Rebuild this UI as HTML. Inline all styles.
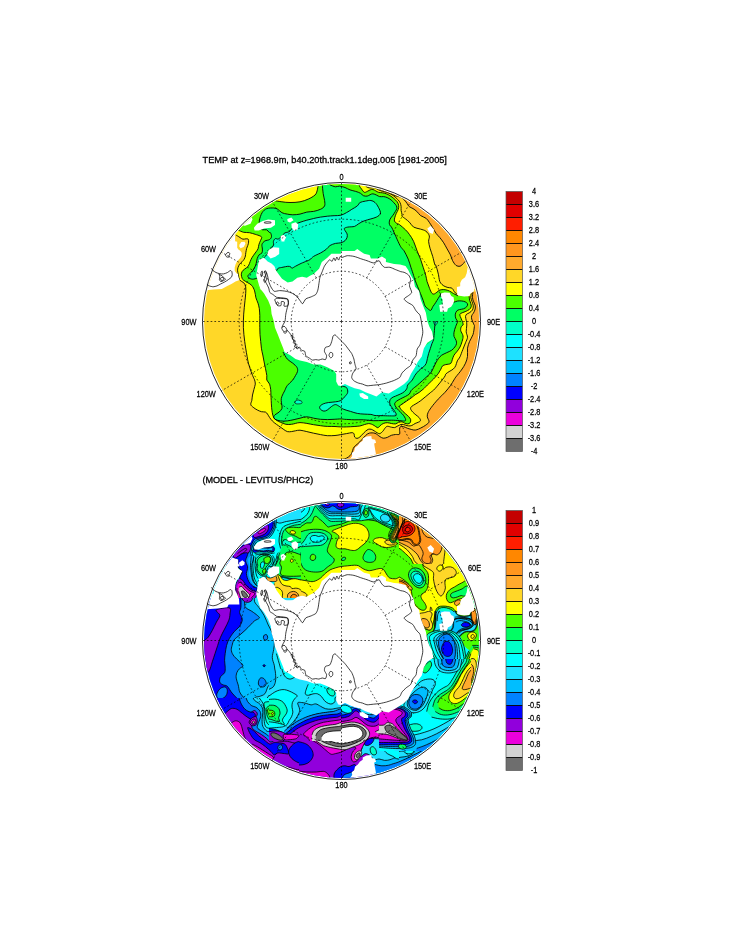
<!DOCTYPE html>
<html lang="en">
<head>
<meta charset="utf-8">
<title>TEMP at z=1968.9m</title>
<style>
html,body{margin:0;padding:0;background:#fff}
body{width:733px;height:945px;overflow:hidden}
svg{display:block}
text{font-family:"Liberation Sans",Arial,Helvetica,sans-serif;fill:#000}
</style>
</head>
<body>
<svg width="733" height="945" viewBox="0 0 733 945">
<rect width="733" height="945" fill="#fff"/>
<defs><clipPath id="c1"><circle cx="341.5" cy="321.5" r="137.5"/></clipPath><clipPath id="c2"><circle cx="341.5" cy="640.5" r="137.5"/></clipPath></defs>
<g stroke="#000" stroke-width="0.3">
<text x="202.6" y="163.4" font-size="9.2" textLength="244.3" lengthAdjust="spacingAndGlyphs">TEMP at z=1968.9m, b40.20th.track1.1deg.005 [1981-2005]</text>
<text x="202.4" y="483.4" font-size="9.2" textLength="110.8" lengthAdjust="spacingAndGlyphs">(MODEL - LEVITUS/PHC2)</text>
</g>
<g clip-path="url(#c1)">
<rect x="200" y="180" width="284" height="284" fill="#ffd728"/>
<path d="M373.9 186.8C374.7 187.1 376.9 188 378.6 188.7C380.4 189.4 382.5 190.2 384.4 190.9C386.3 191.6 388.4 192 390.1 192.8C391.9 193.6 393.1 195 394.9 195.7C396.6 196.4 399 196.4 400.6 197.1C402.2 197.8 403.3 198.9 404.4 200C405.5 201.1 406.5 202.7 407.3 203.8C408.1 204.9 408.3 205.9 409.2 206.6C410.2 207.4 411.8 207.8 413 208.6C414.3 209.4 415.6 210.3 416.8 211.4C418.1 212.6 419 214.3 420.5 215.5C422 216.6 424.4 217.1 425.9 218.2C427.4 219.3 428.2 220.7 429.3 222.3C430.5 223.9 431.6 225.9 432.7 227.7C433.9 229.6 435 231.9 436.2 233.5C437.3 235.1 438.3 235.8 439.6 237.3C440.8 238.8 442.4 240.8 443.7 242.8C444.9 244.7 445.9 246.8 447.1 248.9C448.2 250.9 449.6 253.1 450.5 255C451.4 257 451.6 258.8 452.5 260.5C453.4 262.2 454.7 264.3 455.9 265.3C457.2 266.2 458.8 266.5 460 266.2C461.3 265.9 462.5 264.3 463.4 263.5C464.4 262.7 465 260.9 465.8 261.2C466.6 261.5 467.8 264.6 468.2 265.3L495 270L495 175L370 170Z" fill="#ffaa2d"/>
<path d="M472.9 292C472.8 293 472.3 296.1 472.5 297.7C472.6 299.4 473.2 300.5 473.7 301.8C474.2 303.2 475.1 304.6 475.3 305.9C475.5 307.3 475.3 308.8 474.9 310C474.6 311.2 473.8 312.3 473.3 313.3C472.7 314.2 471.9 314.8 471.7 315.8C471.4 316.7 471.4 317.8 471.7 319C471.9 320.3 472.9 322.1 473.3 323.1C473.7 324.1 473.9 324.5 474.1 325C474.3 325.5 474.5 324.8 474.4 326.4C474.2 328 473.8 332.1 473 334.6C472.2 337.1 470.5 339.1 469.6 341.4C468.7 343.7 467.9 345.7 467.5 348.2C467.2 350.7 467.9 353.9 467.5 356.4C467.2 358.9 466.5 360.9 465.5 363.2C464.5 365.5 463 367.8 461.4 370C459.8 372.3 457.2 375.2 455.9 376.9C454.7 378.5 454.8 378.6 453.9 380C453 381.4 452 383.4 450.5 385.5C449 387.5 447.1 390 445 392.3C443 394.6 440.5 396.6 438.2 399.1C435.9 401.6 433.1 405 431.4 407.3C429.7 409.6 428.6 411.2 428 412.7C427.3 414.3 427.1 415.3 427.3 416.8C427.5 418.4 429.3 420.5 429 421.8C428.8 423.2 427.1 424.1 425.8 425.1C424.4 426.1 422.5 427.2 420.8 428C419.2 428.8 417.4 429.7 415.9 430C414.4 430.3 413.2 429.9 411.8 429.6C410.5 429.3 409.1 428.9 407.7 428.4C406.4 427.9 404.9 427 403.6 426.7C402.4 426.5 401.1 426.3 400.4 426.7C399.7 427.2 399.7 428 399.6 429.2C399.4 430.4 400.2 433.2 399.6 434.1C398.9 435 396.8 434.3 395.5 434.5C394.1 434.7 392.7 434.9 391.4 435.3C390 435.8 388.6 436.9 387.3 437.4C385.9 437.9 384.4 438.3 383.2 438.2C382 438.1 381.3 437.4 379.9 436.6C378.5 435.8 376.8 433.9 375 433.3C373.2 432.7 371 432.8 369.4 433.1C367.8 433.5 366.8 434.4 365.6 435.5C364.3 436.6 363 438.5 361.7 439.8C360.5 441.2 359.2 442.5 357.9 443.6C356.6 444.8 355 445.9 354.1 447C353.2 448.1 353.1 449.1 352.7 450.3C352.2 451.5 352 453 351.2 454.2C350.5 455.3 349.5 456.2 348.4 457C347.3 457.8 346 458.5 344.5 458.9C343.1 459.4 341 459.4 339.8 459.7C338.5 460 337.4 460.6 336.9 460.8L336 470L400 470L480 420L490 330L486 290Z" fill="#ffaa2d"/>
<path d="M236 235.1C236.2 235.3 236.9 235.6 237.6 236C238.3 236.4 239.2 237.1 240.1 237.6C240.9 238.1 241.9 239 242.9 239.2C243.9 239.4 245.3 238.8 246.2 238.8C247.1 238.8 247.8 238.7 248.2 239.2C248.6 239.8 248.7 241.1 248.6 242.1C248.6 243.1 248.2 244.3 247.8 245.4C247.5 246.5 246.9 247.4 246.6 248.6C246.3 249.9 246 251.5 245.8 252.7C245.6 254 245.6 254.9 245.4 256C245.1 257.1 244.7 258.3 244.1 259.3C243.6 260.2 242.9 260.9 242.1 261.7C241.4 262.6 240.3 263.2 239.6 264.2C239 265.2 238.3 266.4 238 267.5C237.7 268.6 237.5 269.5 237.6 270.8C237.7 272 238.1 273.3 238.4 274.8C238.8 276.4 238.8 278.7 239.6 280C240.5 281.3 242.6 281.6 243.7 282.7C244.7 283.9 245.4 285 245.7 286.8C246 288.6 245.8 291.4 245.7 293.6C245.6 295.9 245.2 298.2 245 300.5C244.8 302.7 244.6 305 244.3 307.3C244.1 309.6 243.8 311.8 243.7 314.1C243.5 316.4 243.4 318.7 243.4 320.9C243.3 323.2 243.3 325.5 243.4 327.7C243.5 330 243.7 332.3 243.9 334.6C244.2 336.8 244.5 339.1 244.7 341.4C245 343.7 245.3 345.7 245.7 348.2C246.1 350.7 246.6 353.9 247.1 356.4C247.5 358.9 247.9 360.9 248.4 363.2C249 365.5 249.7 367.8 250.5 370C251.3 372.3 252.5 375.2 253.2 376.9C253.9 378.5 254.2 378.8 254.6 380C254.9 381.2 255.4 382.5 255.3 384.1C255.1 385.7 254.3 387.7 253.9 389.5C253.4 391.4 252.9 393.2 252.5 395C252.2 396.8 252.1 398.9 251.8 400.5C251.5 402.1 250.5 403.4 250.8 404.6C251 405.7 252.1 406.4 253.2 407.3C254.3 408.2 255.9 409.3 257.3 410C258.7 410.7 260 411.3 261.4 411.7C262.8 412 264.5 411.7 265.5 412.1C266.5 412.5 266.8 413.2 267.5 414.1C268.2 415 268.8 416.4 269.6 417.5C270.4 418.7 271.2 419.8 272.3 420.9C273.4 422.1 275 423.3 276.4 424.3C277.8 425.4 279.4 426.3 280.5 427.1C281.6 427.9 282.1 428.4 283.2 429.1C284.4 429.9 285.9 431.2 287.3 431.6C288.7 432 290 431.7 291.4 431.6C292.8 431.4 294.1 431 295.5 430.8C296.9 430.5 298.1 430.1 300 430.2C301.9 430.3 304.5 431.1 306.8 431.6C309.1 432.1 311.4 432.7 313.6 433.2C315.9 433.7 318.2 434.2 320.5 434.6C322.7 435 324.9 435.5 327.3 435.7C329.7 435.8 332.8 435.7 335 435.5C337.2 435.4 338.8 434.9 340.7 434.6C342.6 434.3 344.5 433.9 346.5 433.6C348.4 433.3 350.9 432.6 352.2 432.7C353.5 432.7 353.7 433.4 354.1 434.1C354.5 434.8 354.1 436.2 354.6 437C355.1 437.7 356.1 438.4 357 438.4C357.8 438.4 358.9 437.7 359.8 437C360.8 436.2 361.7 435.1 362.7 434.1C363.6 433.1 364.6 432 365.6 431.2C366.5 430.4 367.5 429.6 368.4 429.3C369.4 429 370.3 429.1 371.3 429.3C372.2 429.6 373.2 430.2 374.2 430.8C375.1 431.3 376.1 432.2 377 432.7C378 433.1 378.9 433.9 379.9 433.6C380.9 433.3 382.4 431.7 383.2 430.8C384 430 384.1 429.1 384.8 428.4C385.5 427.6 386.2 426.5 387.3 426.3C388.4 426.1 390.1 427 391.4 427.2C392.6 427.4 393.7 427.7 394.6 427.6C395.6 427.4 396.3 426.7 397.1 426.3C397.9 425.9 398.7 425.5 399.6 425.1C400.4 424.8 401.1 424.3 402 424.3C403 424.3 404.2 424.8 405.3 425.1C406.4 425.4 407.5 425.9 408.6 425.9C409.7 426 410.7 425.9 411.8 425.5C412.9 425.1 414 424 415.1 423.5C416.2 422.9 417.5 422.7 418.4 422.2C419.3 421.8 420.3 421.4 420.4 420.6C420.6 419.9 420 418.7 419.2 417.7C418.5 416.8 417 415.8 415.9 414.9C414.8 413.9 413.5 413 412.7 412C411.8 411 410.7 409.7 410.6 408.7C410.5 407.8 410.9 407.1 411.8 406.3C412.7 405.5 414.4 404.8 415.9 403.8C417.4 402.9 419.2 401.8 420.8 400.6C422.5 399.3 424.1 397.8 425.8 396.5C427.4 395.1 429.1 393.7 430.7 392.4C432.2 391.1 432.7 391.2 435 388.7C437.3 386.2 442.4 379.7 444.2 377.3C446 374.9 445 375 445.8 374C446.7 373.1 447.9 372.4 449.1 371.6C450.3 370.8 452.1 370.1 453.2 369.1C454.3 368.2 455 367.2 455.7 365.8C456.3 364.5 456.6 362.4 457.3 360.9C458 359.4 459.1 358.7 460 356.8C460.9 354.9 461.8 351.9 462.8 349.6C463.7 347.2 464.7 344.8 465.5 342.8C466.3 340.7 467.4 339.1 467.5 337.3C467.6 335.5 466.3 333.9 466.2 331.8C466.1 329.8 466.8 326.9 466.8 325C466.9 323.2 466.6 322.1 466.3 320.7C466.1 319.3 465.5 317.7 465.5 316.6C465.6 315.5 466.1 314.7 466.7 314.1C467.4 313.5 468.2 313.6 469.2 312.9C470.2 312.2 471.8 311.2 472.5 310C473.2 308.9 473.4 307.3 473.3 305.9C473.2 304.6 472.5 303.2 472.1 301.8C471.7 300.5 471 299.1 470.8 297.7C470.7 296.4 471.2 294.3 471.2 293.6L467.6 292.8L461.8 292.8L456.9 294.5C456.8 294.3 456.6 293.7 456.1 293.2C455.6 292.8 454.5 292.2 454.1 291.6C453.6 291 453.7 290.2 453.2 289.6C452.8 288.9 452.1 288.3 451.2 287.9C450.3 287.6 449.1 287.9 447.9 287.5C446.7 287.2 445.1 286.6 443.8 285.9C442.6 285.1 441.3 284 440.6 283C439.8 282 439.7 281.1 439.3 279.7C439 278.4 438.8 276.5 438.5 274.8C438.2 273.2 437.8 271.5 437.3 269.9C436.8 268.3 436.1 265.9 435.6 265C435.2 264.1 435.3 266 434.8 264.6C434.3 263.2 433.5 259.1 432.7 256.4C431.9 253.7 430.7 250.7 430 248.2C429.3 245.7 428.8 243.4 428.6 241.4C428.5 239.3 429.8 237.6 429.3 235.9C428.9 234.2 427.4 232.3 425.9 231.2C424.4 230 422.5 229.8 420.5 229.1C418.4 228.4 415.5 228.2 413.6 227.1C411.8 225.9 410.9 223.7 409.5 222.3C408.2 220.9 406.7 219.9 405.5 218.9C404.2 217.9 402.6 217 402 216.2C401.5 215.4 402.2 215.2 402 214.3C401.9 213.3 401.3 211.7 401.1 210.5C400.9 209.2 401.3 207.9 401.1 206.6C400.9 205.4 400.7 204 400.1 202.8C399.6 201.6 398.8 200.6 397.7 199.5C396.7 198.4 395.2 197.1 393.9 196.1C392.7 195.2 391.4 194.4 390.1 193.8C388.8 193.1 387.6 192.7 386.3 192.3C385 191.9 383.7 191.8 382.5 191.4C381.2 191 379.9 190.5 378.6 189.9C377.4 189.4 376.1 188.3 374.8 188C373.6 187.7 372.2 188.1 371 188C369.8 187.9 368.5 187.9 367.7 187.5C366.8 187.2 366.1 186.4 365.8 186.1L362 172L300 170L250 200L228 232Z" fill="#ffff00"/>
<path d="M238.4 230.2C239.3 230.6 241.9 231.9 243.7 232.3C245.6 232.7 247.6 232.3 249.5 232.7C251.4 233 253.4 233.8 255.2 234.3C257 234.9 259 235.4 260.1 236C261.2 236.5 261.7 236.8 261.7 237.6C261.8 238.3 261 239.3 260.5 240.5C260 241.6 259.3 243.2 258.9 244.6C258.5 245.9 258.5 247.4 258.1 248.6C257.6 249.9 256.8 250.8 256 251.9C255.3 253 254.4 254 253.6 255.2C252.7 256.4 251.8 257.9 251.1 259.3C250.4 260.7 250 262.2 249.5 263.4C248.9 264.6 248.6 265.7 247.8 266.7C247 267.6 245.5 268.3 244.6 269.1C243.6 269.9 242.6 270.6 242.1 271.6C241.6 272.5 241.3 273.8 241.3 274.8C241.3 275.9 241.8 277.3 242.1 278.1C242.4 279 242.4 279.2 243.3 280C244.3 280.8 246.3 281.8 247.7 282.7C249.2 283.6 250.7 284.1 251.8 285.5C253 286.8 253.9 288.9 254.6 290.9C255.3 293 255.4 295.7 255.9 297.7C256.5 299.8 257.4 301.4 258 303.2C258.5 305 259 306.6 259.3 308.6C259.6 310.7 259.7 313.4 259.8 315.5C259.8 317.5 259.8 318.9 259.8 320.9C259.8 323 259.7 325.5 259.8 327.7C259.8 330 259.9 332.3 260 334.6C260.2 336.8 260.5 339.1 260.7 341.4C260.9 343.7 261.1 345.9 261.4 348.2C261.7 350.5 262.3 352.8 262.8 355C263.2 357.3 263.7 359.6 264.1 361.9C264.6 364.1 265 366.4 265.5 368.7C265.9 371 266.6 373.6 266.8 375.5C267.1 377.4 266.4 378.6 266.8 380C267.3 381.4 268.9 382.5 269.6 384.1C270.2 385.7 270.4 387.7 270.7 389.5C270.9 391.4 270.9 393.2 270.9 395C271 396.8 271.1 398.4 271.2 400.5C271.3 402.5 271.4 405.2 271.6 407.3C271.8 409.3 272 411 272.3 412.7C272.6 414.4 273 416.3 273.7 417.5C274.4 418.8 275.3 419.4 276.4 420.2C277.5 421 278.9 421.6 280.5 422.3C282.1 423 284.1 424 285.9 424.3C287.8 424.7 289.8 424.5 291.4 424.3C293 424.2 294.1 423.7 295.5 423.4C296.9 423.1 298.1 422.6 300 422.6C301.9 422.6 304.5 423 306.8 423.4C309.1 423.7 311.4 424.4 313.6 424.7C315.9 425.1 318.2 425.4 320.5 425.7C322.7 426 324.9 426.3 327.3 426.4C329.7 426.5 332.8 426.4 335 426.5C337.2 426.6 338.8 426.9 340.7 426.9C342.6 427 344.2 427 346.5 426.9C348.7 426.9 351.9 426.6 354.1 426.5C356.3 426.3 358.1 426.3 359.8 426C361.6 425.7 363.2 424.9 364.6 424.5C366 424.2 367.3 423.7 368.4 423.6C369.5 423.5 370.3 423.8 371.3 424.1C372.2 424.4 373.2 424.9 374.2 425.5C375.1 426.1 376.3 427.1 377 427.4C377.7 427.8 377.8 427.8 378.3 427.6C378.8 427.3 379.1 426.6 379.9 425.9C380.7 425.2 382 424 383.2 423.5C384.4 422.9 385.9 422.7 387.3 422.7C388.6 422.7 390 423.3 391.4 423.5C392.7 423.7 394.2 424.1 395.5 423.9C396.7 423.7 397.6 422.6 398.7 422.2C399.8 421.9 401.1 421.7 402 421.8C403 422 403.5 422.7 404.5 423.1C405.4 423.4 406.8 423.9 407.7 423.9C408.7 423.8 409.7 423.4 410.2 422.7C410.7 421.9 410.9 420.4 410.6 419.4C410.3 418.4 409.4 417.5 408.6 416.5C407.7 415.6 406.5 414.8 405.3 413.6C404.1 412.5 402.1 410.8 401.2 409.6C400.2 408.3 399.4 407.2 399.6 406.3C399.7 405.4 400.9 405.1 402 404.2C403.1 403.4 404.6 402.4 406.1 401.4C407.6 400.3 409.5 399.2 411 398.1C412.5 397 413.7 395.8 415.1 394.8C416.5 393.9 417.8 393.3 419.2 392.4C420.6 391.4 421.9 390.3 423.3 389.1C424.7 387.9 425.4 387 427.4 385C429.4 383 433.4 379.3 435.2 377.3C437 375.3 437.5 374.6 438.5 373.2C439.4 371.8 440.2 370.3 440.9 369.1C441.6 367.9 441.7 366.6 442.6 365.8C443.4 365.1 444.5 365 445.8 364.6C447.2 364.2 449.7 364.3 450.8 363.4C451.8 362.5 451.8 360.7 452.4 359.3C452.9 357.9 453.2 356.6 454 355.2C454.8 353.8 456.3 352.5 457.3 351.1C458.3 349.7 459.2 348.6 460 347C460.8 345.4 461.6 343.2 462.1 341.4C462.6 339.5 463.3 337.8 463 335.9C462.8 334.1 461 332.1 460.7 330.5C460.4 328.9 461 327.3 461.4 326.4C461.8 325.5 462.9 325.7 463.1 325C463.3 324.3 463 323.4 462.7 322.3C462.3 321.2 461.5 319.4 461 318.2C460.5 317 459.8 315.8 459.8 314.9C459.8 314.1 460.1 313.8 461 313.3C461.9 312.7 463.7 312.3 465.1 311.7C466.5 311 468.2 310.4 469.2 309.6C470.2 308.8 471 307.8 471.2 306.7C471.5 305.7 471.1 304.6 470.8 303.5C470.6 302.4 469.9 301.4 469.6 300.2C469.3 299 469.3 297.1 469.2 296.5L465.9 296.1L461 296.1L457.7 295.7C457.5 295.6 456.8 295.2 456.1 294.9C455.4 294.5 454.5 294.1 453.6 293.6C452.8 293.2 452.1 292.6 451.2 292C450.2 291.5 449.1 290.8 447.9 290.4C446.7 290 445.1 289.6 443.8 289.6C442.5 289.5 441.1 289.7 440.1 290C439.2 290.2 438.8 290.6 438.1 291.2C437.3 291.7 436.5 292.8 435.6 293.2C434.8 293.7 433.9 294.3 433.2 294.1C432.4 293.9 431.8 293.2 431.1 292C430.5 290.9 429.8 288.9 429.1 287.1C428.4 285.3 427.6 283.3 427 281.4C426.5 279.5 426.5 278 425.8 275.6C425.2 273.3 424.1 270.1 423.2 267.3C422.3 264.6 421.5 261.9 420.5 259.1C419.4 256.4 418.2 253.9 417.1 250.9C415.9 248 414.9 244.1 413.6 241.4C412.4 238.7 410.9 236.5 409.5 234.6C408.2 232.6 407.1 231.4 405.5 229.8C403.8 228.2 401.1 225.9 399.7 224.8C398.2 223.7 397.7 224 396.8 223.4C395.9 222.7 394.7 222 394.4 221C394.1 219.9 394.6 218.4 394.9 217.2C395.2 215.9 395.8 214.6 396.3 213.3C396.9 212.1 397.8 210.8 398.2 209.5C398.6 208.2 398.9 207 398.7 205.7C398.5 204.4 398.1 203.1 397.3 201.9C396.5 200.7 395.1 199.6 393.9 198.5C392.7 197.5 391.4 196.5 390.1 195.7C388.8 194.9 387.6 194.2 386.3 193.8C385 193.3 383.7 193 382.5 192.8C381.2 192.6 379.8 192.6 378.6 192.3C377.5 192 376.7 191.4 375.8 190.9C374.8 190.4 373.9 189.6 372.9 189.5C372 189.3 371 189.6 370.1 189.9C369.1 190.3 368.1 191 367.2 191.4C366.2 191.8 365.3 192.7 364.3 192.3C363.4 191.9 362.3 190 361.5 189C360.7 187.9 359.9 187 359.5 186.1C359.2 185.2 359.2 184.1 359.1 183.7L355 172L322 172L318.4 184.1C318.2 185.2 317.6 189.1 317.1 190.9C316.5 192.7 316.5 193.6 315 195C313.5 196.4 310.7 198 308.2 199.1C305.7 200.2 303 201.3 300 201.8C297 202.4 293.1 202.5 290 202.5C287 202.5 284.5 202.2 281.9 201.8C279.2 201.5 275.9 200.9 274.4 200.5C272.8 200 272.6 199.3 272.3 199.1L265 190L232 222Z" fill="#4bff00"/>
<path d="M322.5 183.4C322.5 184 322.4 185.1 322.5 186.8C322.6 188.5 322.9 191.4 323.2 193.6C323.5 195.9 324.3 198.4 324.6 200.5C324.8 202.5 325.2 204.4 324.6 205.9C323.9 207.4 322.3 208.4 320.5 209.3C318.6 210.2 315.9 210.9 313.6 211.4C311.4 211.8 309.1 211.6 306.8 212.1C304.5 212.5 302.3 213.7 300 214.1C297.7 214.6 294.9 214.8 292.8 214.8C290.7 214.8 289.1 214.4 287.3 214.1C285.5 213.8 283.4 213.5 281.9 212.7C280.3 211.9 279.1 210.1 277.8 209.3C276.4 208.5 275.5 208.1 273.7 208C271.9 207.9 268.8 207.9 266.8 208.6C264.9 209.4 263.3 210.7 262.1 212.7C260.8 214.8 259.7 218.4 259.3 220.9C259 223.4 259.9 226.5 260 227.7C260.2 229 259.7 227.8 260.1 228.2C260.5 228.5 261.5 229.5 262.6 229.8C263.7 230.1 265.6 229.4 266.7 229.8C267.7 230.2 268.5 231.8 269.1 232.3C269.8 232.8 270.2 232.1 270.6 232.9C271 233.6 271.7 235.6 271.5 236.7C271.4 237.8 270.7 238.8 269.6 239.5C268.5 240.3 266.1 240.2 264.8 241C263.6 241.8 262.4 243 262 244.3C261.6 245.7 262.4 247.7 262.4 249.1C262.4 250.5 262.5 252 262 252.9C261.4 253.9 259.9 253.9 259.1 254.8C258.3 255.8 257.7 257.2 257.2 258.6C256.7 260.1 256.7 261.8 256.2 263.4C255.8 265 255.1 266.8 254.3 268.2C253.5 269.6 252.5 270.8 251.5 272C250.4 273.2 248.6 274.4 248.1 275.4C247.6 276.3 247.9 277.1 248.6 277.7C249.3 278.4 251 279.1 252.4 279.2C253.8 279.3 256.4 278.4 257.2 278.2L300 320L283.2 352.3C283.9 353.4 285.7 357.3 287.3 359.1C288.9 360.9 291.2 361.9 292.8 363.2C294.4 364.6 296.1 365.9 296.9 367.3C297.7 368.7 297.8 370 297.5 371.4C297.3 372.8 296.3 374.1 295.5 375.5C294.7 376.9 294.1 378.3 292.8 380C291.4 381.7 288.7 383.6 287.3 385.5C285.9 387.3 285.5 389.1 284.6 390.9C283.7 392.7 282.4 394.8 281.9 396.4C281.3 398 281.2 399 281.2 400.5C281.2 401.9 281.7 403.9 281.9 405.2C282 406.6 282.3 407.5 281.9 408.6C281.4 409.8 280.3 411 279.1 412.1C278 413.1 275.9 413.9 275 414.8C274.1 415.7 273.6 416.7 273.7 417.5C273.8 418.3 274.6 419 275.7 419.6C276.9 420.1 278.6 420.7 280.5 420.9C282.4 421.2 285 421.2 287.3 420.9C289.6 420.7 292 420 294.1 419.6C296.2 419.1 297.9 418.7 300 418.2C302.1 417.7 304.5 416.8 306.8 416.8C309.1 416.8 311.4 417.8 313.6 418.2C315.9 418.6 318.2 419.1 320.5 419.3C322.7 419.5 325 419.6 327.3 419.6C329.6 419.6 331.8 419.4 334.1 419.3C336.4 419.2 339.2 418.9 340.9 418.9C342.7 418.9 342.4 419.1 344.5 419.3C346.7 419.4 350.9 419.7 354.1 419.8C357.3 419.9 360.5 419.6 363.6 419.8C366.8 419.9 369.9 420.6 373.2 420.7C376.5 420.8 380.2 420.5 383.2 420.4C386.2 420.3 388.6 420.2 391.4 420.2C394.1 420.2 397.4 420.5 399.6 420.6C401.7 420.7 403.4 421.2 404.5 421C405.5 420.9 405.7 420.5 405.7 419.8C405.7 419.1 405.1 417.9 404.5 416.9C403.9 415.9 403 414.7 402 413.6C401.1 412.6 399.8 411.5 398.7 410.4C397.7 409.3 396.6 408.2 395.9 407.1C395.2 406 394.6 404.8 394.6 403.8C394.7 402.9 395.3 402.2 396.3 401.4C397.2 400.6 398.9 399.7 400.4 398.9C401.9 398.1 403.8 397.3 405.3 396.5C406.8 395.6 408.4 395 409.4 394C410.3 393 410.3 391.7 411 390.7C411.7 389.8 412.4 389.2 413.5 388.3C414.6 387.3 415.3 387 417.6 385C419.8 383 424.8 378.6 427 376.5C429.3 374.4 430 373.9 431.1 372.4C432.2 370.9 432.7 369.1 433.6 367.5C434.4 365.8 435.2 364.1 436 362.6C436.8 361.1 437.5 359.7 438.5 358.5C439.4 357.2 440.4 356.2 441.7 355.2C443.1 354.2 445 353.6 446.7 352.7C448.3 351.9 450.2 351.2 451.6 350.3C452.9 349.3 454 348.1 454.8 347C455.7 345.9 456.3 344.8 456.5 343.7C456.7 342.6 456.5 341.7 456.1 340.5C455.7 339.2 454.4 337.7 454 336.4C453.7 335 453.8 333.9 454 332.3C454.3 330.6 455 328.3 455.7 326.5C456.3 324.8 457.4 322.5 457.7 321.6C458.1 320.8 458.1 322.1 457.7 321.5C457.4 320.9 456.1 319.4 455.7 318.2C455.3 317 455.1 315.3 455.3 314.1C455.5 312.9 456.2 311.6 456.9 310.8C457.6 310.1 458.3 310 459.4 309.6C460.5 309.3 462.2 309.3 463.5 308.8C464.7 308.3 466.1 307.6 466.7 306.7C467.4 305.9 467.8 304.7 467.6 303.9C467.3 303.1 466.1 302.3 465.1 301.8C464.2 301.4 463.1 301.2 461.8 301C460.6 300.9 459 300.8 457.7 301C456.4 301.2 454.7 302 454.1 302.2L449.6 301.8L445.5 297.7L441 293.2C440.8 293.6 440.6 294.4 440.1 295.3C439.7 296.2 438.8 297.3 438.1 298.6C437.3 299.8 436.5 301.3 435.6 302.7C434.8 304 433.6 305.5 432.8 306.7C432 308 431.6 310.2 430.7 310.4C429.8 310.7 428.4 309.1 427.5 308.4C426.5 307.6 425.7 307.2 425 305.9C424.3 304.6 423.9 302.5 423.2 300.5C422.4 298.4 421.4 295.9 420.5 293.6C419.6 291.4 418.6 289.1 417.7 286.8C416.8 284.5 415.7 281.9 415 280C414.3 278.1 414.3 277.6 413.6 275.5C413 273.4 411.8 270 410.9 267.3C410 264.6 409.3 261.9 408.2 259.1C407 256.4 405.5 253.2 404.1 250.9C402.7 248.7 402 249.3 400 245.5C398 241.7 393.7 231.3 392 228C390.4 224.8 390.6 226.6 390.1 225.7C389.6 224.9 389.2 224 389.2 222.9C389.2 221.8 389.5 220.3 390.1 219.1C390.7 217.8 392.1 216.5 393 215.2C393.8 214 394.7 212.5 395.4 211.4C396 210.3 396.6 209.5 396.8 208.6C397 207.6 396.8 206.6 396.3 205.7C395.8 204.7 394.8 203.8 393.9 202.8C393.1 201.9 392.2 200.8 391.1 200C389.9 199.1 388.5 198.1 387.2 197.6C386 197 384.7 196.8 383.4 196.6C382.2 196.5 380.7 196.9 379.6 196.6C378.5 196.4 377.9 195.7 376.7 195.2C375.6 194.7 374 193.8 372.9 193.8C371.8 193.7 371 194.3 370.1 194.7C369.1 195.1 368.3 196 367.2 196.1C366.1 196.3 364.5 196.1 363.4 195.7C362.3 195.2 361.8 194 360.5 193.3C359.2 192.6 357.5 191.9 355.7 191.4C354 190.8 351.8 190.6 350 189.9C348.2 189.3 346.8 188.1 345 187.5C343.3 186.9 341.2 186.3 339.6 186.1C338 186 337.1 187 335.5 186.8C333.9 186.6 331 185.4 330 184.8C329.1 184.1 329.8 183.3 329.7 183L330 175L322 175Z" fill="#00ff64"/>
<path d="M380.5 213.4C380.2 212.4 379.4 209.1 378.4 207.3C377.5 205.5 376.3 203.6 375 202.5C373.8 201.4 372.5 200.7 370.9 200.5C369.3 200.2 367.3 200.8 365.5 201.1C363.7 201.5 361.4 201.7 360 202.5C358.7 203.3 358.7 204.8 357.3 205.9C355.9 207.1 353.7 208.2 351.8 209.3C350 210.5 348.2 211.8 346.4 212.7C344.6 213.7 343 214.7 340.9 215.2C338.9 215.7 336.4 215.6 334.1 215.7C331.8 215.9 329.6 215.9 327.3 216.2C325 216.4 322.7 216.7 320.5 217.1C318.2 217.5 315.9 217.9 313.6 218.5C311.4 219 309.1 219.6 306.8 220.2C304.5 220.9 301.9 221.6 300 222.3C298.1 223 296.7 223.4 295.5 224.3C294.3 225.2 293.9 226.5 292.8 227.7C291.6 229 290 231 288.7 231.8C287.4 232.7 286.2 232.1 284.9 232.9C283.6 233.7 282.2 235.7 281.1 236.7C279.9 237.7 279.2 238.8 278.2 239.1C277.2 239.4 276.1 238.2 275.3 238.6C274.5 239 273.7 240.3 273.4 241.5C273.1 242.6 273.9 244 273.4 245.3C272.9 246.6 271.7 247.5 270.6 249.1C269.4 250.7 267.9 253.2 266.7 254.8C265.6 256.4 263.6 257.2 263.9 258.6C264.2 260.1 266.6 261.5 268.6 263.4C270.7 265.3 274.7 269.3 276.3 270.1C277.9 270.9 277.1 268.7 278.2 268.2C279.3 267.7 281.4 267.6 283 267.2C284.6 266.9 286.5 266.4 287.7 266.3C289 266.2 289.9 266.4 290.6 266.8C291.3 267.1 291.3 268.3 292 268.2C292.8 268.1 293.9 267.1 295.4 266.3C296.9 265.5 299.2 264.3 301.1 263.4C303 262.5 305.4 261.7 306.8 261C308.3 260.4 308.9 260.4 310 259.6C311.1 258.8 311.9 257.5 313.6 256.4C315.4 255.3 318.4 254.1 320.5 253C322.5 251.9 324.3 250.8 325.9 249.6C327.5 248.3 328.4 246.5 330 245.5C331.6 244.5 333.7 243.9 335.5 243.4C337.3 243 339.3 243.2 340.9 242.8C342.5 242.3 344 241.6 345 240.7C346 239.8 346.7 238.4 347.1 237.3C347.4 236.2 347.4 235 347.1 233.9C346.7 232.8 345.5 231.4 345 230.5C344.6 229.6 343.9 229 344.3 228.4C344.8 227.9 346 227.4 347.7 227.1C349.5 226.7 352.8 227 354.6 226.4C356.4 225.8 357.1 224.6 358.7 223.7C360.3 222.7 362.1 221.7 364.1 220.9C366.2 220.1 368.9 219.5 370.9 218.9C373 218.2 375.5 217.4 376.4 217.1Z" fill="#00ffc8"/>
<path d="M434 339.2C433.9 339.3 433.9 338.9 433.6 339.6C433.2 340.4 432.5 342.2 431.9 343.7C431.4 345.2 430.8 347 430.3 348.6C429.7 350.3 429.1 351.9 428.6 353.6C428.2 355.2 427.8 356.8 427.4 358.5C427 360.1 426.8 362 426.2 363.4C425.6 364.7 424.7 365.7 423.7 366.7C422.8 367.6 421.6 368.2 420.5 369.1C419.4 370.1 418.1 371.3 417.2 372.4C416.2 373.5 415.6 374.4 414.7 375.7C413.9 376.9 413.4 378.4 412.3 380C411.1 381.6 408.6 383.6 407.7 385C406.8 386.4 407.5 387.2 406.9 388.3C406.4 389.4 405.6 390.6 404.5 391.5C403.4 392.5 401.9 393.3 400.4 394C398.9 394.8 397 395.4 395.5 396.1C394 396.7 392.3 397.3 391.4 398.1C390.4 398.9 389.9 399.9 389.7 401C389.5 402.1 389.7 403.5 390.1 404.6C390.6 405.8 391.4 406.8 392.2 407.9C392.9 409 394 410.2 394.6 411.2C395.3 412.2 396.1 413.3 396.3 414.1C396.4 414.8 396.3 415.4 395.5 415.7C394.6 416 393.4 415.9 391.4 415.9C389.3 415.9 385.9 415.8 383.2 415.7C380.5 415.6 377 415.7 375 415.5C373 415.2 372.8 414.6 370.9 414.4C369.1 414.2 366.4 414.3 364.1 414.1C361.8 413.9 359.6 413.9 357.3 413.4C355 413 352.8 412.1 350.5 411.4C348.2 410.7 345.5 410.1 343.7 409.3C341.8 408.5 340.9 407.4 339.6 406.6C338.2 405.8 336.8 404.6 335.5 404.6C334.1 404.6 332.7 405.7 331.4 406.6C330 407.5 328.5 409.3 327.3 410C326 410.8 325 411.2 323.9 411.1C322.7 411 321.1 410.1 320.5 409.3C319.8 408.6 319.3 407.5 319.8 406.6C320.2 405.7 321.7 404.6 323.2 403.9C324.7 403.2 326.6 402.9 328.6 402.5C330.7 402.2 333.4 402.2 335.5 401.8C337.5 401.5 339.3 401.4 340.9 400.5C342.5 399.6 343.9 397.7 345 396.4C346.2 395 347.5 393.8 347.7 392.3C348 390.8 347.4 388.5 346.4 387.5C345.4 386.5 342.4 386.4 341.6 386.1L345 370L380 370L420 350Z" fill="#00ffc8"/>
<path d="M294.8 401.8C295 401.3 296 400.3 296.9 400.1C297.7 399.8 299.1 400.2 300 400.5C300.9 400.8 301.8 401.3 302 401.8C302.3 402.3 302.1 403.1 301.4 403.5C300.6 403.8 298.5 403.9 297.5 403.9C296.6 403.9 296 403.8 295.5 403.5C295 403.1 294.6 402.4 294.8 401.8Z" fill="#00ffc8" stroke="#000" stroke-width="0.7"/>
<path d="M434 322C434.5 321.7 436.8 321.5 437.2 321.8C437.7 322.1 437.2 323.1 436.8 323.7C436.5 324.3 435.6 325.3 435.2 325.3C434.8 325.3 434.4 324.2 434.2 323.7C434 323.1 433.5 322.4 434 322Z" fill="#00ffc8" stroke="#000" stroke-width="0.7"/>
<g fill="none" stroke="#000" stroke-width="0.9" stroke-linejoin="round" stroke-linecap="round">
<path d="M373.9 186.8C374.7 187.1 376.9 188 378.6 188.7C380.4 189.4 382.5 190.2 384.4 190.9C386.3 191.6 388.4 192 390.1 192.8C391.9 193.6 393.1 195 394.9 195.7C396.6 196.4 399 196.4 400.6 197.1C402.2 197.8 403.3 198.9 404.4 200C405.5 201.1 406.5 202.7 407.3 203.8C408.1 204.9 408.3 205.9 409.2 206.6C410.2 207.4 411.8 207.8 413 208.6C414.3 209.4 415.6 210.3 416.8 211.4C418.1 212.6 419 214.3 420.5 215.5C422 216.6 424.4 217.1 425.9 218.2C427.4 219.3 428.2 220.7 429.3 222.3C430.5 223.9 431.6 225.9 432.7 227.7C433.9 229.6 435 231.9 436.2 233.5C437.3 235.1 438.3 235.8 439.6 237.3C440.8 238.8 442.4 240.8 443.7 242.8C444.9 244.7 445.9 246.8 447.1 248.9C448.2 250.9 449.6 253.1 450.5 255C451.4 257 451.6 258.8 452.5 260.5C453.4 262.2 454.7 264.3 455.9 265.3C457.2 266.2 458.8 266.5 460 266.2C461.3 265.9 462.5 264.3 463.4 263.5C464.4 262.7 465 260.9 465.8 261.2C466.6 261.5 467.8 264.6 468.2 265.3"/>
<path d="M472.9 292C472.8 293 472.3 296.1 472.5 297.7C472.6 299.4 473.2 300.5 473.7 301.8C474.2 303.2 475.1 304.6 475.3 305.9C475.5 307.3 475.3 308.8 474.9 310C474.6 311.2 473.8 312.3 473.3 313.3C472.7 314.2 471.9 314.8 471.7 315.8C471.4 316.7 471.4 317.8 471.7 319C471.9 320.3 472.9 322.1 473.3 323.1C473.7 324.1 473.9 324.5 474.1 325C474.3 325.5 474.5 324.8 474.4 326.4C474.2 328 473.8 332.1 473 334.6C472.2 337.1 470.5 339.1 469.6 341.4C468.7 343.7 467.9 345.7 467.5 348.2C467.2 350.7 467.9 353.9 467.5 356.4C467.2 358.9 466.5 360.9 465.5 363.2C464.5 365.5 463 367.8 461.4 370C459.8 372.3 457.2 375.2 455.9 376.9C454.7 378.5 454.8 378.6 453.9 380C453 381.4 452 383.4 450.5 385.5C449 387.5 447.1 390 445 392.3C443 394.6 440.5 396.6 438.2 399.1C435.9 401.6 433.1 405 431.4 407.3C429.7 409.6 428.6 411.2 428 412.7C427.3 414.3 427.1 415.3 427.3 416.8C427.5 418.4 429.3 420.5 429 421.8C428.8 423.2 427.1 424.1 425.8 425.1C424.4 426.1 422.5 427.2 420.8 428C419.2 428.8 417.4 429.7 415.9 430C414.4 430.3 413.2 429.9 411.8 429.6C410.5 429.3 409.1 428.9 407.7 428.4C406.4 427.9 404.9 427 403.6 426.7C402.4 426.5 401.1 426.3 400.4 426.7C399.7 427.2 399.7 428 399.6 429.2C399.4 430.4 400.2 433.2 399.6 434.1C398.9 435 396.8 434.3 395.5 434.5C394.1 434.7 392.7 434.9 391.4 435.3C390 435.8 388.6 436.9 387.3 437.4C385.9 437.9 384.4 438.3 383.2 438.2C382 438.1 381.3 437.4 379.9 436.6C378.5 435.8 376.8 433.9 375 433.3C373.2 432.7 371 432.8 369.4 433.1C367.8 433.5 366.8 434.4 365.6 435.5C364.3 436.6 363 438.5 361.7 439.8C360.5 441.2 359.2 442.5 357.9 443.6C356.6 444.8 355 445.9 354.1 447C353.2 448.1 353.1 449.1 352.7 450.3C352.2 451.5 352 453 351.2 454.2C350.5 455.3 349.5 456.2 348.4 457C347.3 457.8 346 458.5 344.5 458.9C343.1 459.4 341 459.4 339.8 459.7C338.5 460 337.4 460.6 336.9 460.8"/>
<path d="M236 235.1C236.2 235.3 236.9 235.6 237.6 236C238.3 236.4 239.2 237.1 240.1 237.6C240.9 238.1 241.9 239 242.9 239.2C243.9 239.4 245.3 238.8 246.2 238.8C247.1 238.8 247.8 238.7 248.2 239.2C248.6 239.8 248.7 241.1 248.6 242.1C248.6 243.1 248.2 244.3 247.8 245.4C247.5 246.5 246.9 247.4 246.6 248.6C246.3 249.9 246 251.5 245.8 252.7C245.6 254 245.6 254.9 245.4 256C245.1 257.1 244.7 258.3 244.1 259.3C243.6 260.2 242.9 260.9 242.1 261.7C241.4 262.6 240.3 263.2 239.6 264.2C239 265.2 238.3 266.4 238 267.5C237.7 268.6 237.5 269.5 237.6 270.8C237.7 272 238.1 273.3 238.4 274.8C238.8 276.4 238.8 278.7 239.6 280C240.5 281.3 242.6 281.6 243.7 282.7C244.7 283.9 245.4 285 245.7 286.8C246 288.6 245.8 291.4 245.7 293.6C245.6 295.9 245.2 298.2 245 300.5C244.8 302.7 244.6 305 244.3 307.3C244.1 309.6 243.8 311.8 243.7 314.1C243.5 316.4 243.4 318.7 243.4 320.9C243.3 323.2 243.3 325.5 243.4 327.7C243.5 330 243.7 332.3 243.9 334.6C244.2 336.8 244.5 339.1 244.7 341.4C245 343.7 245.3 345.7 245.7 348.2C246.1 350.7 246.6 353.9 247.1 356.4C247.5 358.9 247.9 360.9 248.4 363.2C249 365.5 249.7 367.8 250.5 370C251.3 372.3 252.5 375.2 253.2 376.9C253.9 378.5 254.2 378.8 254.6 380C254.9 381.2 255.4 382.5 255.3 384.1C255.1 385.7 254.3 387.7 253.9 389.5C253.4 391.4 252.9 393.2 252.5 395C252.2 396.8 252.1 398.9 251.8 400.5C251.5 402.1 250.5 403.4 250.8 404.6C251 405.7 252.1 406.4 253.2 407.3C254.3 408.2 255.9 409.3 257.3 410C258.7 410.7 260 411.3 261.4 411.7C262.8 412 264.5 411.7 265.5 412.1C266.5 412.5 266.8 413.2 267.5 414.1C268.2 415 268.8 416.4 269.6 417.5C270.4 418.7 271.2 419.8 272.3 420.9C273.4 422.1 275 423.3 276.4 424.3C277.8 425.4 279.4 426.3 280.5 427.1C281.6 427.9 282.1 428.4 283.2 429.1C284.4 429.9 285.9 431.2 287.3 431.6C288.7 432 290 431.7 291.4 431.6C292.8 431.4 294.1 431 295.5 430.8C296.9 430.5 298.1 430.1 300 430.2C301.9 430.3 304.5 431.1 306.8 431.6C309.1 432.1 311.4 432.7 313.6 433.2C315.9 433.7 318.2 434.2 320.5 434.6C322.7 435 324.9 435.5 327.3 435.7C329.7 435.8 332.8 435.7 335 435.5C337.2 435.4 338.8 434.9 340.7 434.6C342.6 434.3 344.5 433.9 346.5 433.6C348.4 433.3 350.9 432.6 352.2 432.7C353.5 432.7 353.7 433.4 354.1 434.1C354.5 434.8 354.1 436.2 354.6 437C355.1 437.7 356.1 438.4 357 438.4C357.8 438.4 358.9 437.7 359.8 437C360.8 436.2 361.7 435.1 362.7 434.1C363.6 433.1 364.6 432 365.6 431.2C366.5 430.4 367.5 429.6 368.4 429.3C369.4 429 370.3 429.1 371.3 429.3C372.2 429.6 373.2 430.2 374.2 430.8C375.1 431.3 376.1 432.2 377 432.7C378 433.1 378.9 433.9 379.9 433.6C380.9 433.3 382.4 431.7 383.2 430.8C384 430 384.1 429.1 384.8 428.4C385.5 427.6 386.2 426.5 387.3 426.3C388.4 426.1 390.1 427 391.4 427.2C392.6 427.4 393.7 427.7 394.6 427.6C395.6 427.4 396.3 426.7 397.1 426.3C397.9 425.9 398.7 425.5 399.6 425.1C400.4 424.8 401.1 424.3 402 424.3C403 424.3 404.2 424.8 405.3 425.1C406.4 425.4 407.5 425.9 408.6 425.9C409.7 426 410.7 425.9 411.8 425.5C412.9 425.1 414 424 415.1 423.5C416.2 422.9 417.5 422.7 418.4 422.2C419.3 421.8 420.3 421.4 420.4 420.6C420.6 419.9 420 418.7 419.2 417.7C418.5 416.8 417 415.8 415.9 414.9C414.8 413.9 413.5 413 412.7 412C411.8 411 410.7 409.7 410.6 408.7C410.5 407.8 410.9 407.1 411.8 406.3C412.7 405.5 414.4 404.8 415.9 403.8C417.4 402.9 419.2 401.8 420.8 400.6C422.5 399.3 424.1 397.8 425.8 396.5C427.4 395.1 429.1 393.7 430.7 392.4C432.2 391.1 432.7 391.2 435 388.7C437.3 386.2 442.4 379.7 444.2 377.3C446 374.9 445 375 445.8 374C446.7 373.1 447.9 372.4 449.1 371.6C450.3 370.8 452.1 370.1 453.2 369.1C454.3 368.2 455 367.2 455.7 365.8C456.3 364.5 456.6 362.4 457.3 360.9C458 359.4 459.1 358.7 460 356.8C460.9 354.9 461.8 351.9 462.8 349.6C463.7 347.2 464.7 344.8 465.5 342.8C466.3 340.7 467.4 339.1 467.5 337.3C467.6 335.5 466.3 333.9 466.2 331.8C466.1 329.8 466.8 326.9 466.8 325C466.9 323.2 466.6 322.1 466.3 320.7C466.1 319.3 465.5 317.7 465.5 316.6C465.6 315.5 466.1 314.7 466.7 314.1C467.4 313.5 468.2 313.6 469.2 312.9C470.2 312.2 471.8 311.2 472.5 310C473.2 308.9 473.4 307.3 473.3 305.9C473.2 304.6 472.5 303.2 472.1 301.8C471.7 300.5 471 299.1 470.8 297.7C470.7 296.4 471.2 294.3 471.2 293.6"/>
<path d="M456.9 294.5C456.8 294.3 456.6 293.7 456.1 293.2C455.6 292.8 454.5 292.2 454.1 291.6C453.6 291 453.7 290.2 453.2 289.6C452.8 288.9 452.1 288.3 451.2 287.9C450.3 287.6 449.1 287.9 447.9 287.5C446.7 287.2 445.1 286.6 443.8 285.9C442.6 285.1 441.3 284 440.6 283C439.8 282 439.7 281.1 439.3 279.7C439 278.4 438.8 276.5 438.5 274.8C438.2 273.2 437.8 271.5 437.3 269.9C436.8 268.3 436.1 265.9 435.6 265C435.2 264.1 435.3 266 434.8 264.6C434.3 263.2 433.5 259.1 432.7 256.4C431.9 253.7 430.7 250.7 430 248.2C429.3 245.7 428.8 243.4 428.6 241.4C428.5 239.3 429.8 237.6 429.3 235.9C428.9 234.2 427.4 232.3 425.9 231.2C424.4 230 422.5 229.8 420.5 229.1C418.4 228.4 415.5 228.2 413.6 227.1C411.8 225.9 410.9 223.7 409.5 222.3C408.2 220.9 406.7 219.9 405.5 218.9C404.2 217.9 402.6 217 402 216.2C401.5 215.4 402.2 215.2 402 214.3C401.9 213.3 401.3 211.7 401.1 210.5C400.9 209.2 401.3 207.9 401.1 206.6C400.9 205.4 400.7 204 400.1 202.8C399.6 201.6 398.8 200.6 397.7 199.5C396.7 198.4 395.2 197.1 393.9 196.1C392.7 195.2 391.4 194.4 390.1 193.8C388.8 193.1 387.6 192.7 386.3 192.3C385 191.9 383.7 191.8 382.5 191.4C381.2 191 379.9 190.5 378.6 189.9C377.4 189.4 376.1 188.3 374.8 188C373.6 187.7 372.2 188.1 371 188C369.8 187.9 368.5 187.9 367.7 187.5C366.8 187.2 366.1 186.4 365.8 186.1"/>
<path d="M238.4 230.2C239.3 230.6 241.9 231.9 243.7 232.3C245.6 232.7 247.6 232.3 249.5 232.7C251.4 233 253.4 233.8 255.2 234.3C257 234.9 259 235.4 260.1 236C261.2 236.5 261.7 236.8 261.7 237.6C261.8 238.3 261 239.3 260.5 240.5C260 241.6 259.3 243.2 258.9 244.6C258.5 245.9 258.5 247.4 258.1 248.6C257.6 249.9 256.8 250.8 256 251.9C255.3 253 254.4 254 253.6 255.2C252.7 256.4 251.8 257.9 251.1 259.3C250.4 260.7 250 262.2 249.5 263.4C248.9 264.6 248.6 265.7 247.8 266.7C247 267.6 245.5 268.3 244.6 269.1C243.6 269.9 242.6 270.6 242.1 271.6C241.6 272.5 241.3 273.8 241.3 274.8C241.3 275.9 241.8 277.3 242.1 278.1C242.4 279 242.4 279.2 243.3 280C244.3 280.8 246.3 281.8 247.7 282.7C249.2 283.6 250.7 284.1 251.8 285.5C253 286.8 253.9 288.9 254.6 290.9C255.3 293 255.4 295.7 255.9 297.7C256.5 299.8 257.4 301.4 258 303.2C258.5 305 259 306.6 259.3 308.6C259.6 310.7 259.7 313.4 259.8 315.5C259.8 317.5 259.8 318.9 259.8 320.9C259.8 323 259.7 325.5 259.8 327.7C259.8 330 259.9 332.3 260 334.6C260.2 336.8 260.5 339.1 260.7 341.4C260.9 343.7 261.1 345.9 261.4 348.2C261.7 350.5 262.3 352.8 262.8 355C263.2 357.3 263.7 359.6 264.1 361.9C264.6 364.1 265 366.4 265.5 368.7C265.9 371 266.6 373.6 266.8 375.5C267.1 377.4 266.4 378.6 266.8 380C267.3 381.4 268.9 382.5 269.6 384.1C270.2 385.7 270.4 387.7 270.7 389.5C270.9 391.4 270.9 393.2 270.9 395C271 396.8 271.1 398.4 271.2 400.5C271.3 402.5 271.4 405.2 271.6 407.3C271.8 409.3 272 411 272.3 412.7C272.6 414.4 273 416.3 273.7 417.5C274.4 418.8 275.3 419.4 276.4 420.2C277.5 421 278.9 421.6 280.5 422.3C282.1 423 284.1 424 285.9 424.3C287.8 424.7 289.8 424.5 291.4 424.3C293 424.2 294.1 423.7 295.5 423.4C296.9 423.1 298.1 422.6 300 422.6C301.9 422.6 304.5 423 306.8 423.4C309.1 423.7 311.4 424.4 313.6 424.7C315.9 425.1 318.2 425.4 320.5 425.7C322.7 426 324.9 426.3 327.3 426.4C329.7 426.5 332.8 426.4 335 426.5C337.2 426.6 338.8 426.9 340.7 426.9C342.6 427 344.2 427 346.5 426.9C348.7 426.9 351.9 426.6 354.1 426.5C356.3 426.3 358.1 426.3 359.8 426C361.6 425.7 363.2 424.9 364.6 424.5C366 424.2 367.3 423.7 368.4 423.6C369.5 423.5 370.3 423.8 371.3 424.1C372.2 424.4 373.2 424.9 374.2 425.5C375.1 426.1 376.3 427.1 377 427.4C377.7 427.8 377.8 427.8 378.3 427.6C378.8 427.3 379.1 426.6 379.9 425.9C380.7 425.2 382 424 383.2 423.5C384.4 422.9 385.9 422.7 387.3 422.7C388.6 422.7 390 423.3 391.4 423.5C392.7 423.7 394.2 424.1 395.5 423.9C396.7 423.7 397.6 422.6 398.7 422.2C399.8 421.9 401.1 421.7 402 421.8C403 422 403.5 422.7 404.5 423.1C405.4 423.4 406.8 423.9 407.7 423.9C408.7 423.8 409.7 423.4 410.2 422.7C410.7 421.9 410.9 420.4 410.6 419.4C410.3 418.4 409.4 417.5 408.6 416.5C407.7 415.6 406.5 414.8 405.3 413.6C404.1 412.5 402.1 410.8 401.2 409.6C400.2 408.3 399.4 407.2 399.6 406.3C399.7 405.4 400.9 405.1 402 404.2C403.1 403.4 404.6 402.4 406.1 401.4C407.6 400.3 409.5 399.2 411 398.1C412.5 397 413.7 395.8 415.1 394.8C416.5 393.9 417.8 393.3 419.2 392.4C420.6 391.4 421.9 390.3 423.3 389.1C424.7 387.9 425.4 387 427.4 385C429.4 383 433.4 379.3 435.2 377.3C437 375.3 437.5 374.6 438.5 373.2C439.4 371.8 440.2 370.3 440.9 369.1C441.6 367.9 441.7 366.6 442.6 365.8C443.4 365.1 444.5 365 445.8 364.6C447.2 364.2 449.7 364.3 450.8 363.4C451.8 362.5 451.8 360.7 452.4 359.3C452.9 357.9 453.2 356.6 454 355.2C454.8 353.8 456.3 352.5 457.3 351.1C458.3 349.7 459.2 348.6 460 347C460.8 345.4 461.6 343.2 462.1 341.4C462.6 339.5 463.3 337.8 463 335.9C462.8 334.1 461 332.1 460.7 330.5C460.4 328.9 461 327.3 461.4 326.4C461.8 325.5 462.9 325.7 463.1 325C463.3 324.3 463 323.4 462.7 322.3C462.3 321.2 461.5 319.4 461 318.2C460.5 317 459.8 315.8 459.8 314.9C459.8 314.1 460.1 313.8 461 313.3C461.9 312.7 463.7 312.3 465.1 311.7C466.5 311 468.2 310.4 469.2 309.6C470.2 308.8 471 307.8 471.2 306.7C471.5 305.7 471.1 304.6 470.8 303.5C470.6 302.4 469.9 301.4 469.6 300.2C469.3 299 469.3 297.1 469.2 296.5"/>
<path d="M457.7 295.7C457.5 295.6 456.8 295.2 456.1 294.9C455.4 294.5 454.5 294.1 453.6 293.6C452.8 293.2 452.1 292.6 451.2 292C450.2 291.5 449.1 290.8 447.9 290.4C446.7 290 445.1 289.6 443.8 289.6C442.5 289.5 441.1 289.7 440.1 290C439.2 290.2 438.8 290.6 438.1 291.2C437.3 291.7 436.5 292.8 435.6 293.2C434.8 293.7 433.9 294.3 433.2 294.1C432.4 293.9 431.8 293.2 431.1 292C430.5 290.9 429.8 288.9 429.1 287.1C428.4 285.3 427.6 283.3 427 281.4C426.5 279.5 426.5 278 425.8 275.6C425.2 273.3 424.1 270.1 423.2 267.3C422.3 264.6 421.5 261.9 420.5 259.1C419.4 256.4 418.2 253.9 417.1 250.9C415.9 248 414.9 244.1 413.6 241.4C412.4 238.7 410.9 236.5 409.5 234.6C408.2 232.6 407.1 231.4 405.5 229.8C403.8 228.2 401.1 225.9 399.7 224.8C398.2 223.7 397.7 224 396.8 223.4C395.9 222.7 394.7 222 394.4 221C394.1 219.9 394.6 218.4 394.9 217.2C395.2 215.9 395.8 214.6 396.3 213.3C396.9 212.1 397.8 210.8 398.2 209.5C398.6 208.2 398.9 207 398.7 205.7C398.5 204.4 398.1 203.1 397.3 201.9C396.5 200.7 395.1 199.6 393.9 198.5C392.7 197.5 391.4 196.5 390.1 195.7C388.8 194.9 387.6 194.2 386.3 193.8C385 193.3 383.7 193 382.5 192.8C381.2 192.6 379.8 192.6 378.6 192.3C377.5 192 376.7 191.4 375.8 190.9C374.8 190.4 373.9 189.6 372.9 189.5C372 189.3 371 189.6 370.1 189.9C369.1 190.3 368.1 191 367.2 191.4C366.2 191.8 365.3 192.7 364.3 192.3C363.4 191.9 362.3 190 361.5 189C360.7 187.9 359.9 187 359.5 186.1C359.2 185.2 359.2 184.1 359.1 183.7"/>
<path d="M318.4 184.1C318.2 185.2 317.6 189.1 317.1 190.9C316.5 192.7 316.5 193.6 315 195C313.5 196.4 310.7 198 308.2 199.1C305.7 200.2 303 201.3 300 201.8C297 202.4 293.1 202.5 290 202.5C287 202.5 284.5 202.2 281.9 201.8C279.2 201.5 275.9 200.9 274.4 200.5C272.8 200 272.6 199.3 272.3 199.1"/>
<path d="M322.5 183.4C322.5 184 322.4 185.1 322.5 186.8C322.6 188.5 322.9 191.4 323.2 193.6C323.5 195.9 324.3 198.4 324.6 200.5C324.8 202.5 325.2 204.4 324.6 205.9C323.9 207.4 322.3 208.4 320.5 209.3C318.6 210.2 315.9 210.9 313.6 211.4C311.4 211.8 309.1 211.6 306.8 212.1C304.5 212.5 302.3 213.7 300 214.1C297.7 214.6 294.9 214.8 292.8 214.8C290.7 214.8 289.1 214.4 287.3 214.1C285.5 213.8 283.4 213.5 281.9 212.7C280.3 211.9 279.1 210.1 277.8 209.3C276.4 208.5 275.5 208.1 273.7 208C271.9 207.9 268.8 207.9 266.8 208.6C264.9 209.4 263.3 210.7 262.1 212.7C260.8 214.8 259.7 218.4 259.3 220.9C259 223.4 259.9 226.5 260 227.7C260.2 229 259.7 227.8 260.1 228.2C260.5 228.5 261.5 229.5 262.6 229.8C263.7 230.1 265.6 229.4 266.7 229.8C267.7 230.2 268.5 231.8 269.1 232.3C269.8 232.8 270.2 232.1 270.6 232.9C271 233.6 271.7 235.6 271.5 236.7C271.4 237.8 270.7 238.8 269.6 239.5C268.5 240.3 266.1 240.2 264.8 241C263.6 241.8 262.4 243 262 244.3C261.6 245.7 262.4 247.7 262.4 249.1C262.4 250.5 262.5 252 262 252.9C261.4 253.9 259.9 253.9 259.1 254.8C258.3 255.8 257.7 257.2 257.2 258.6C256.7 260.1 256.7 261.8 256.2 263.4C255.8 265 255.1 266.8 254.3 268.2C253.5 269.6 252.5 270.8 251.5 272C250.4 273.2 248.6 274.4 248.1 275.4C247.6 276.3 247.9 277.1 248.6 277.7C249.3 278.4 251 279.1 252.4 279.2C253.8 279.3 256.4 278.4 257.2 278.2"/>
<path d="M283.2 352.3C283.9 353.4 285.7 357.3 287.3 359.1C288.9 360.9 291.2 361.9 292.8 363.2C294.4 364.6 296.1 365.9 296.9 367.3C297.7 368.7 297.8 370 297.5 371.4C297.3 372.8 296.3 374.1 295.5 375.5C294.7 376.9 294.1 378.3 292.8 380C291.4 381.7 288.7 383.6 287.3 385.5C285.9 387.3 285.5 389.1 284.6 390.9C283.7 392.7 282.4 394.8 281.9 396.4C281.3 398 281.2 399 281.2 400.5C281.2 401.9 281.7 403.9 281.9 405.2C282 406.6 282.3 407.5 281.9 408.6C281.4 409.8 280.3 411 279.1 412.1C278 413.1 275.9 413.9 275 414.8C274.1 415.7 273.6 416.7 273.7 417.5C273.8 418.3 274.6 419 275.7 419.6C276.9 420.1 278.6 420.7 280.5 420.9C282.4 421.2 285 421.2 287.3 420.9C289.6 420.7 292 420 294.1 419.6C296.2 419.1 297.9 418.7 300 418.2C302.1 417.7 304.5 416.8 306.8 416.8C309.1 416.8 311.4 417.8 313.6 418.2C315.9 418.6 318.2 419.1 320.5 419.3C322.7 419.5 325 419.6 327.3 419.6C329.6 419.6 331.8 419.4 334.1 419.3C336.4 419.2 339.2 418.9 340.9 418.9C342.7 418.9 342.4 419.1 344.5 419.3C346.7 419.4 350.9 419.7 354.1 419.8C357.3 419.9 360.5 419.6 363.6 419.8C366.8 419.9 369.9 420.6 373.2 420.7C376.5 420.8 380.2 420.5 383.2 420.4C386.2 420.3 388.6 420.2 391.4 420.2C394.1 420.2 397.4 420.5 399.6 420.6C401.7 420.7 403.4 421.2 404.5 421C405.5 420.9 405.7 420.5 405.7 419.8C405.7 419.1 405.1 417.9 404.5 416.9C403.9 415.9 403 414.7 402 413.6C401.1 412.6 399.8 411.5 398.7 410.4C397.7 409.3 396.6 408.2 395.9 407.1C395.2 406 394.6 404.8 394.6 403.8C394.7 402.9 395.3 402.2 396.3 401.4C397.2 400.6 398.9 399.7 400.4 398.9C401.9 398.1 403.8 397.3 405.3 396.5C406.8 395.6 408.4 395 409.4 394C410.3 393 410.3 391.7 411 390.7C411.7 389.8 412.4 389.2 413.5 388.3C414.6 387.3 415.3 387 417.6 385C419.8 383 424.8 378.6 427 376.5C429.3 374.4 430 373.9 431.1 372.4C432.2 370.9 432.7 369.1 433.6 367.5C434.4 365.8 435.2 364.1 436 362.6C436.8 361.1 437.5 359.7 438.5 358.5C439.4 357.2 440.4 356.2 441.7 355.2C443.1 354.2 445 353.6 446.7 352.7C448.3 351.9 450.2 351.2 451.6 350.3C452.9 349.3 454 348.1 454.8 347C455.7 345.9 456.3 344.8 456.5 343.7C456.7 342.6 456.5 341.7 456.1 340.5C455.7 339.2 454.4 337.7 454 336.4C453.7 335 453.8 333.9 454 332.3C454.3 330.6 455 328.3 455.7 326.5C456.3 324.8 457.4 322.5 457.7 321.6C458.1 320.8 458.1 322.1 457.7 321.5C457.4 320.9 456.1 319.4 455.7 318.2C455.3 317 455.1 315.3 455.3 314.1C455.5 312.9 456.2 311.6 456.9 310.8C457.6 310.1 458.3 310 459.4 309.6C460.5 309.3 462.2 309.3 463.5 308.8C464.7 308.3 466.1 307.6 466.7 306.7C467.4 305.9 467.8 304.7 467.6 303.9C467.3 303.1 466.1 302.3 465.1 301.8C464.2 301.4 463.1 301.2 461.8 301C460.6 300.9 459 300.8 457.7 301C456.4 301.2 454.7 302 454.1 302.2"/>
<path d="M441 293.2C440.8 293.6 440.6 294.4 440.1 295.3C439.7 296.2 438.8 297.3 438.1 298.6C437.3 299.8 436.5 301.3 435.6 302.7C434.8 304 433.6 305.5 432.8 306.7C432 308 431.6 310.2 430.7 310.4C429.8 310.7 428.4 309.1 427.5 308.4C426.5 307.6 425.7 307.2 425 305.9C424.3 304.6 423.9 302.5 423.2 300.5C422.4 298.4 421.4 295.9 420.5 293.6C419.6 291.4 418.6 289.1 417.7 286.8C416.8 284.5 415.7 281.9 415 280C414.3 278.1 414.3 277.6 413.6 275.5C413 273.4 411.8 270 410.9 267.3C410 264.6 409.3 261.9 408.2 259.1C407 256.4 405.5 253.2 404.1 250.9C402.7 248.7 402 249.3 400 245.5C398 241.7 393.7 231.3 392 228C390.4 224.8 390.6 226.6 390.1 225.7C389.6 224.9 389.2 224 389.2 222.9C389.2 221.8 389.5 220.3 390.1 219.1C390.7 217.8 392.1 216.5 393 215.2C393.8 214 394.7 212.5 395.4 211.4C396 210.3 396.6 209.5 396.8 208.6C397 207.6 396.8 206.6 396.3 205.7C395.8 204.7 394.8 203.8 393.9 202.8C393.1 201.9 392.2 200.8 391.1 200C389.9 199.1 388.5 198.1 387.2 197.6C386 197 384.7 196.8 383.4 196.6C382.2 196.5 380.7 196.9 379.6 196.6C378.5 196.4 377.9 195.7 376.7 195.2C375.6 194.7 374 193.8 372.9 193.8C371.8 193.7 371 194.3 370.1 194.7C369.1 195.1 368.3 196 367.2 196.1C366.1 196.3 364.5 196.1 363.4 195.7C362.3 195.2 361.8 194 360.5 193.3C359.2 192.6 357.5 191.9 355.7 191.4C354 190.8 351.8 190.6 350 189.9C348.2 189.3 346.8 188.1 345 187.5C343.3 186.9 341.2 186.3 339.6 186.1C338 186 337.1 187 335.5 186.8C333.9 186.6 331 185.4 330 184.8C329.1 184.1 329.8 183.3 329.7 183"/>
<path d="M435.2 322.5C435.1 323 434.9 324.4 434.8 325.7C434.7 327.1 434.5 329 434.4 330.6C434.2 332.3 434.1 334.1 434 335.6C433.8 337.1 433.9 338.3 433.6 339.6C433.2 341 432.5 342.2 431.9 343.7C431.4 345.2 430.8 347 430.3 348.6C429.7 350.3 429.1 351.9 428.6 353.6C428.2 355.2 427.8 356.8 427.4 358.5C427 360.1 426.8 362 426.2 363.4C425.6 364.7 424.7 365.7 423.7 366.7C422.8 367.6 421.6 368.2 420.5 369.1C419.4 370.1 418.1 371.3 417.2 372.4C416.2 373.5 415.6 374.4 414.7 375.7C413.9 376.9 413.4 378.4 412.3 380C411.1 381.6 408.6 383.6 407.7 385C406.8 386.4 407.5 387.2 406.9 388.3C406.4 389.4 405.6 390.6 404.5 391.5C403.4 392.5 401.9 393.3 400.4 394C398.9 394.8 397 395.4 395.5 396.1C394 396.7 392.3 397.3 391.4 398.1C390.4 398.9 389.9 399.9 389.7 401C389.5 402.1 389.7 403.5 390.1 404.6C390.6 405.8 391.4 406.8 392.2 407.9C392.9 409 394 410.2 394.6 411.2C395.3 412.2 396.1 413.3 396.3 414.1C396.4 414.8 396.3 415.4 395.5 415.7C394.6 416 393.4 415.9 391.4 415.9C389.3 415.9 385.9 415.8 383.2 415.7C380.5 415.6 377 415.7 375 415.5C373 415.2 372.8 414.6 370.9 414.4C369.1 414.2 366.4 414.3 364.1 414.1C361.8 413.9 359.6 413.9 357.3 413.4C355 413 352.8 412.1 350.5 411.4C348.2 410.7 345.5 410.1 343.7 409.3C341.8 408.5 340.9 407.4 339.6 406.6C338.2 405.8 336.8 404.6 335.5 404.6C334.1 404.6 332.7 405.7 331.4 406.6C330 407.5 328.5 409.3 327.3 410C326 410.8 325 411.2 323.9 411.1C322.7 411 321.1 410.1 320.5 409.3C319.8 408.6 319.3 407.5 319.8 406.6C320.2 405.7 321.7 404.6 323.2 403.9C324.7 403.2 326.6 402.9 328.6 402.5C330.7 402.2 333.4 402.2 335.5 401.8C337.5 401.5 339.3 401.4 340.9 400.5C342.5 399.6 343.9 397.7 345 396.4C346.2 395 347.5 393.8 347.7 392.3C348 390.8 347.4 388.5 346.4 387.5C345.4 386.5 342.4 386.4 341.6 386.1"/>
<path d="M380.5 213.4C380.8 211.8 379.4 209.1 378.4 207.3C377.5 205.5 376.3 203.6 375 202.5C373.8 201.4 372.5 200.7 370.9 200.5C369.3 200.2 367.3 200.8 365.5 201.1C363.7 201.5 361.4 201.7 360 202.5C358.7 203.3 358.7 204.8 357.3 205.9C355.9 207.1 353.7 208.2 351.8 209.3C350 210.5 348.2 211.8 346.4 212.7C344.6 213.7 343 214.7 340.9 215.2C338.9 215.7 336.4 215.6 334.1 215.7C331.8 215.9 329.6 215.9 327.3 216.2C325 216.4 322.7 216.7 320.5 217.1C318.2 217.5 315.9 217.9 313.6 218.5C311.4 219 309.1 219.6 306.8 220.2C304.5 220.9 301.9 221.6 300 222.3C298.1 223 296.7 223.4 295.5 224.3C294.3 225.2 293.9 226.5 292.8 227.7C291.6 229 290 231 288.7 231.8C287.4 232.7 286.2 232.1 284.9 232.9C283.6 233.7 282.2 235.7 281.1 236.7C279.9 237.7 279.2 238.8 278.2 239.1C277.2 239.4 276.1 238.2 275.3 238.6C274.5 239 273.7 240.3 273.4 241.5C273.1 242.6 273.9 244 273.4 245.3C272.9 246.6 271.7 247.5 270.6 249.1C269.4 250.7 267.9 253.2 266.7 254.8C265.6 256.4 263.6 257.2 263.9 258.6C264.2 260.1 266.6 261.5 268.6 263.4C270.7 265.3 274.7 269.3 276.3 270.1C277.9 270.9 277.1 268.7 278.2 268.2C279.3 267.7 281.4 267.6 283 267.2C284.6 266.9 286.5 266.4 287.7 266.3C289 266.2 289.9 266.4 290.6 266.8C291.3 267.1 291.3 268.3 292 268.2C292.8 268.1 293.9 267.1 295.4 266.3C296.9 265.5 299.2 264.3 301.1 263.4C303 262.5 305.4 261.7 306.8 261C308.3 260.4 308.9 260.4 310 259.6C311.1 258.8 311.9 257.5 313.6 256.4C315.4 255.3 318.4 254.1 320.5 253C322.5 251.9 324.3 250.8 325.9 249.6C327.5 248.3 328.4 246.5 330 245.5C331.6 244.5 333.7 243.9 335.5 243.4C337.3 243 339.3 243.2 340.9 242.8C342.5 242.3 344 241.6 345 240.7C346 239.8 346.7 238.4 347.1 237.3C347.4 236.2 347.4 235 347.1 233.9C346.7 232.8 345.5 231.4 345 230.5C344.6 229.6 343.9 229 344.3 228.4C344.8 227.9 346 227.4 347.7 227.1C349.5 226.7 352.8 227 354.6 226.4C356.4 225.8 357.1 224.6 358.7 223.7C360.3 222.7 362.1 221.7 364.1 220.9C366.2 220.1 368.9 219.5 370.9 218.9C373 218.2 374.8 218 376.4 217.1C378 216.2 380.2 215.1 380.5 213.4Z"/>
</g>
<g fill="#fff">
<path d="M313.6 274.1L319.1 268.7L321.8 261.9L327.3 257.8L331.4 253.7L340.9 253.7L340.9 250.9L354.6 250.9L357.3 248.9L360 250.9L364.1 253.7L369.6 255L370.9 258.4L377.8 258.4L381.9 256.4L385.9 259.1L385.9 261.9L394.1 263.9L400 264.6L405.5 265.9L408.2 270L410.9 275.5L413.6 280L415 286.8L419.1 290.9L420.5 299.1L423.2 305.9L425.9 312.7L427.3 320.9L429.3 326.4L432.1 331.8L433.4 338.7L427.3 342.8L423.9 348.2L421.8 356.4L417.7 361.9L415 367.3L410.9 374.1L408.2 380L404.1 384.1L400 386.8L395.5 389.5L388.7 393.6L381.9 392.3L376.4 396.4L370.9 394.3L365.5 392.3L360 389.5L354.6 388.2L349.1 386.1L345 384.1L340.9 386.1L338.2 385.5L336.2 381.4L336.2 380L336.2 374.1L334.1 370.7L327.3 367.3L320.5 364.6L313.6 364.6L306.8 361.9L300 360.5L295.5 359.1L290 355L284.6 352.3L283.2 348.2L280.5 341.4L277.8 334.6L275 327.7L273.7 320.9L271.6 314.1L270.9 307.3L268.2 300.5L264.1 293.6L258.7 286.8L254.6 280L263.9 294.9L261 290.2L259.1 285.4L257.7 280.6L256.2 274.9L257.2 270.1L258.1 264.4L259.1 259.6L263.9 257.7L267.7 261.5L271.5 263.4L274.4 266.3L276.3 271.1L279.2 274.9L282 278.7L287.7 282.5L292.5 281.6L297.3 277.7L302.1 276.8L306.8 277.7L310 275.8Z"/>
<path d="M195 325L206.1 290.2L213.6 289.5L221.8 288.9L227.3 286.1L231.4 284.1L235.5 281.4L239.6 280L238.4 277.3L238 274L236.4 273.2L234.7 270.8L234.7 267.5L235.6 264.2L236.8 261.7L238.4 260.1L240.5 257.7L241.7 255.2L241.7 252.7L240.5 251.1L238.4 249.5L237.2 247.8L237.2 241.7L235.1 241.3L235.1 238.8L235.1 235.1L238.4 230.2L230 215L195 250Z"/>
<path d="M239.6 244.6L241.3 242.1L244.6 241.7L245.4 243.7L243.7 247L240.5 248.2L239.2 246.2Z"/>
<path d="M240.9 225L245 225.7L250.5 223.7L252.5 219.6L251.8 217.5L245 205L225 225Z"/>
<path d="M268.6 250.1L273.4 247.2L279.2 247.7L279.2 253.9L275.3 256.7L270.6 258.6L267.2 254.8Z"/>
<path d="M281.1 235.7L283.9 234.8L284.9 237.6L284.4 241.5L281.5 241.5Z"/>
<path d="M253.9 227.7L257.3 223.7L262.8 220.9L268.2 219.6L275 220.2L275 225L270.9 227.7L264.1 228.4L258.7 230.5L254.6 230.5Z"/>
<path d="M287.3 218.9L291.4 217.5L293.5 220.2L290 222.6L287.6 221.6Z"/>
<path d="M291.4 223.7L295.5 222.3L298.2 224.3L297.5 229.8L294.1 230.8L291.7 227.7Z"/>
<path d="M280.5 236.6L283.9 235.3L286.2 237.3L284.6 240L281.2 240Z"/>
<path d="M345.7 197.7L351.2 197.7L351.2 201.8L345.7 201.8Z"/>
<path d="M427.3 228.4L430.7 226.1L434.1 229.8L432.7 233.9L429.3 232.5Z"/>
<path d="M359.3 393.6L362.8 393L368.2 396.4L368.2 399.1L364.1 399.1L360 396.4Z"/>
<path d="M441 293.6L444.6 292.4L449.6 292.8L451.2 296.1L453.6 297.3L454.1 301L452.8 304.3L451.2 306.7L447.9 308.4L447.1 311.7L440.1 311.7L439.3 305.1L442.6 304.3L442.6 299.4L441 296.9Z"/>
<path d="M467.6 267.5L474.1 277.3L478.2 289.6L474.1 288.7L474.1 291.2L470.8 293.2L469.2 296.1L464.3 296.5L461 296.1L457.3 294.9L456.9 287.1L460.2 286.3L460.2 283L461.8 279.7L465.1 277.3L466.7 273.2Z"/>
<path d="M362.7 438.4L366.5 436.5L371.3 436L371.8 438.9L375.1 439.8L376.1 442.7L374.2 443.6L374.6 446.5L376.1 455.1L363.6 459.9L349.3 459.9L352.2 456.1L351.7 453.2L354.1 451.3L355.1 447.5L357.9 445.6L359.8 442.7L362.7 440.8Z"/>
</g>
</g>
<g fill="none" stroke="#000" stroke-width="0.75" stroke-linejoin="round">
<path d="M341.9 257.5C342.7 257.4 345.9 255.8 347.3 255.7C348.7 255.6 352.3 256 353.9 256.4C355.4 256.7 358.9 258 360.4 258.6C361.9 259.1 365.4 260.2 367 260.7C368.5 261.2 372.1 262.9 373.5 262.9C374.9 262.9 378.1 260.6 379 260.7C379.9 260.9 380.5 263.2 381.1 264C381.8 264.8 383.4 266.9 384.4 267.3C385.4 267.7 388.6 267 389.9 267.3C391.2 267.5 394.1 269 395.3 269.5C396.6 270 399.8 271.3 400.8 271.7C401.8 272 403.2 271.9 404.1 272.3C405 272.7 407.7 274.1 408.4 274.9C409.2 275.7 410.5 278 410.6 279.3C410.7 280.6 409.4 284.3 409.5 285.8C409.6 287.4 411.8 291.2 411.7 292.4C411.6 293.5 409.3 294.9 408.4 295.7C407.5 296.4 404.2 298.2 404.1 298.9C403.9 299.7 406.3 301.4 407.3 302.2C408.4 303 411.8 304.5 412.8 305.5C413.8 306.5 415.2 309.8 416.1 310.9C416.9 312.1 419.4 313.9 420 315.3C420.6 316.7 421.2 321 421.5 322.9C421.9 324.9 422.8 329.9 422.8 331.7C422.9 333.5 422.1 336.7 421.7 338.2C421.4 339.8 420.5 343.5 420 344.8C419.5 346 417.6 347.9 417.2 349.1C416.7 350.4 416.6 354.4 416.1 355.7C415.6 357 413.4 358.9 412.8 360.1C412.2 361.2 411.4 364.5 410.6 365.5C409.8 366.5 407.3 367.9 406.2 368.8C405.2 369.7 402.6 372.1 401.9 373.2C401.1 374.2 400.7 376.6 399.7 377.5C398.7 378.4 394.7 380.2 393.2 380.8C391.6 381.4 388.1 382.5 386.6 383C385.1 383.4 381.6 384.2 380.1 384.5C378.5 384.8 375 385 373.5 385.2C372 385.3 368.2 385.9 367 385.8C365.7 385.7 363.6 384.4 362.6 384.1C361.6 383.7 359.2 383.4 358.2 383C357.2 382.6 354.6 381.4 353.9 380.8C353.1 380.2 351.8 378.4 351.7 377.5C351.6 376.6 352.3 374.2 352.8 373.2C353.3 372.1 355.8 369.8 356 368.8C356.3 367.8 355.2 365.6 355 364.4C354.7 363.3 354.2 360.2 353.9 359C353.5 357.7 352.3 354.7 351.7 353.5C351 352.4 349.2 350.2 348.4 349.1C347.6 348.1 345.9 345.7 345.1 344.8C344.4 343.9 342.6 342.3 341.9 341.5C341.1 340.7 339.3 339 338.6 338.2C337.8 337.5 335.9 335.2 335.3 335C334.7 334.7 333.5 335.4 333.1 336C332.7 336.7 332.4 339.3 332 340.4C331.7 341.6 330.6 345.1 329.8 345.9C329.1 346.7 326.1 346.8 325.5 347.4C324.8 348 324.3 350.4 324.4 351.3C324.5 352.3 326.4 354.7 326.6 355.7C326.7 356.7 326 359.2 325.5 359.6C325 360 323 358.9 322.2 359C321.4 359 319.7 360 318.9 360.1C318.2 360.1 316.4 359.6 315.7 359.6C314.9 359.6 313.2 360.3 312.4 360.1C311.6 359.9 309.9 358.4 309.1 357.9C308.3 357.4 306.3 356.5 305.8 355.7C305.3 354.9 305.3 352 304.7 351.3C304.2 350.7 302.1 350.7 301.5 350.2C300.8 349.7 299.8 347.1 299.3 347C298.8 346.8 297.5 349.3 297.1 349.1C296.7 349 296.3 346.6 296 345.9C295.8 345.1 295.3 343.4 294.9 342.6C294.5 341.8 293.1 340.1 292.7 339.3C292.4 338.6 292 336.8 291.7 336C291.3 335.3 290 333.4 289.5 332.8C289 332.1 287.9 330.7 287.3 330.6C286.6 330.5 284.6 331.9 284 331.7C283.4 331.4 282 329.2 281.8 328.4C281.7 327.6 282.5 326 282.9 325.1C283.3 324.2 284.8 322 285.1 320.8C285.4 319.5 285.5 315.7 285.8 314.2C286 312.7 287 308.9 287.3 307.7C287.6 306.4 288.4 304.3 288.4 303.3C288.4 302.3 288 299.6 287.3 298.9C286.5 298.3 283.1 298 281.8 297.8C280.6 297.6 277.4 297.6 276.4 297.2C275.4 296.8 273.9 295.1 273.1 294.6C272.3 294 270.3 293.2 269.8 292.4C269.3 291.6 269.1 289 268.7 288C268.3 287 267.1 284.7 266.5 283.7C266 282.6 264.5 280.3 264.4 279.3C264.2 278.3 265.5 275.8 265.5 274.9C265.5 274 264.2 271.9 264.4 271.7C264.5 271.4 266.2 272.2 266.5 272.7C266.9 273.3 267.4 275 267.6 276C267.9 277 268.3 280.2 268.7 281.5C269.1 282.7 270.3 285.8 270.9 286.9C271.6 288.1 273.2 290.9 274.2 291.3C275.2 291.7 278.2 290.6 279.6 290.6C281 290.6 284.7 291 286.2 291.3C287.7 291.6 291.5 292.8 292.7 293.5C294 294.1 296.2 295.9 297.1 296.8C298 297.6 299.7 300.3 300.4 301.1C301 301.9 301.9 304 302.6 303.7C303.2 303.5 304.8 299.8 305.8 298.9C306.9 298.1 310.2 297.3 311.3 296.8C312.4 296.2 314.9 295.3 315.7 294.6C316.4 293.8 317.5 291.5 317.8 290.2C318.2 288.9 318.7 285.2 318.9 283.7C319.2 282.1 319.6 278.5 320 277.1C320.4 275.7 321.7 272.9 322.2 271.7C322.7 270.4 323.8 267.3 324.4 266.2C325 265 327 262.6 327.7 261.8C328.3 261.1 329.3 259.7 329.8 259.6C330.4 259.6 331.6 261.6 332 261.4C332.5 261.2 333.4 258 333.8 257.9C334.2 257.8 335 260.8 335.3 260.7C335.7 260.6 336.5 257.1 336.8 257C337.2 256.9 338.2 260.2 338.6 260.1C339 260 339.9 256.7 340.3 256.4C340.7 256.1 341 257.5 341.9 257.5Z"/>
<path d="M329 355.3C328.9 354.6 329.9 352.7 330.3 352.4C330.7 352.2 332.2 352.6 332.5 353.1C332.7 353.5 332.9 355.6 332.7 356.1C332.5 356.7 331.2 358 330.7 357.9C330.3 357.8 329 355.9 329 355.3Z"/>
<path d="M349.5 362.2C349.6 362 350.8 361.6 351 361.8C351.2 362 351.4 363.3 351.2 363.5C351.1 363.8 349.9 363.9 349.7 363.8C349.5 363.6 349.3 362.5 349.5 362.2Z"/>
<path d="M274.8 300C274.7 299.2 275.6 298.7 276.4 298.5C277.2 298.3 280.5 298.4 281.8 298.5C283.2 298.6 287.2 298.6 287.9 299.4C288.7 300.2 288.4 304.7 287.9 305.5C287.5 306.3 284.4 306.5 284 306.1C283.6 305.8 284.8 302.7 284.4 302.2C284.1 301.7 281.8 301.2 281.4 301.6C281 301.9 281.4 305 281 305.5C280.5 305.9 278.2 306.1 277.5 305.5C276.7 304.8 275 300.8 274.8 300Z"/>
<path d="M276.2 303.3C276.1 303 277.1 302 277.5 302C277.8 302 279 303 279 303.3C279 303.6 278 304.8 277.7 304.8C277.3 304.8 276.2 303.6 276.2 303.3Z"/>
<path d="M263.9 272.7C264.1 272.5 264.9 270.6 265.2 270.6C265.5 270.6 266.5 272.1 266.5 272.7C266.6 273.4 265.7 275.3 265.7 276C265.7 276.8 266.7 278.5 266.5 279.3C266.4 280.1 265.2 282.6 264.8 282.6C264.4 282.6 263.6 279.7 263.5 279.3"/>
<path d="M261.1 272.7C261.2 272.1 262 270.7 262.2 271C262.4 271.3 262.7 274.3 262.6 274.9C262.5 275.6 261.5 276.9 261.3 276.7C261.1 276.4 261 273.4 261.1 272.7Z"/>
<path d="M281.8 327.3C282.1 327.2 283.6 326.2 284 326.2C284.5 326.3 285.4 327.2 285.8 327.7C286.1 328.3 287.1 329.9 287.1 330.6C287 331.2 285.8 333.3 285.3 333.4C284.9 333.6 283.4 331.9 283.1 331.7"/>
<path d="M290.6 336C290.8 335.9 292.5 334.9 292.7 335.2C292.9 335.5 292.1 338.1 292.3 338.7C292.5 339.2 294.4 339.5 294.5 340C294.6 340.4 293.1 342.1 293.2 342.6C293.3 343.1 295.2 343.4 295.4 343.9C295.5 344.4 294.3 346.5 294.5 347C294.6 347.4 296.4 347.7 296.7 347.8"/>
<path d="M206.9 284.4C207.2 284.6 208.6 285.6 209.3 285.9C210 286.1 212.3 286.8 213.1 286.8C214 286.8 216.1 286.2 217 285.9C217.9 285.5 219.9 284.4 220.8 283.9C221.7 283.5 223.7 282.5 224.6 282C225.5 281.5 227.6 280.2 228.4 279.6C229.2 279.1 230.8 277.8 231.3 277.3C231.7 276.7 232.2 275.5 232.2 274.9C232.3 274.2 232 272 231.8 271.5C231.5 271 230.8 270.5 230.3 270.6C229.8 270.7 228.2 272.1 227.5 272.5C226.7 272.9 224.5 273.8 223.6 273.9C222.8 274.1 220.7 273.9 219.8 273.7C218.9 273.6 216.8 272.9 216 272.5C215.2 272.1 213.7 271.1 213.1 270.6C212.6 270.1 211.5 268.5 211.2 268.2"/>
<path d="M218.9 273.9C218.9 274.1 219.8 276.1 219.8 276.8C219.9 277.5 219.2 279.1 219.4 279.6C219.5 280.2 220.3 281.4 220.8 281.6C221.3 281.7 223.1 280.9 223.6 280.6C224.2 280.3 225.6 279.5 225.6 279.2C225.6 278.8 224 278.1 223.6 277.7C223.3 277.3 222.6 276.2 222.2 275.8C221.8 275.5 220.4 275.1 220 274.9C219.6 274.7 218.9 273.7 218.9 273.9Z"/>
<path d="M220.6 278.2C220.7 277.9 221.9 277.2 222.2 277.3C222.6 277.3 223.6 278.3 223.6 278.7C223.7 279.1 223 280.2 222.7 280.4C222.4 280.6 221.2 280.4 221 280.1C220.7 279.9 220.4 278.6 220.6 278.2Z"/>
<path d="M225.6 254.8C225.7 254.4 226.6 253.2 227 252.9C227.4 252.6 228.6 252.3 228.9 252.4C229.2 252.5 229.9 253.5 229.9 253.9C229.9 254.3 228.9 255.4 228.9 255.8C228.9 256.1 230 256.6 229.9 256.7C229.7 256.9 227.9 257.3 227.5 257.2C227 257.2 226.3 256.5 226 256.3C225.8 256 225.4 255.2 225.6 254.8Z"/>
<path d="M264.2 222.4C264.5 222.2 266.1 221.8 266.8 221.7C267.5 221.7 269.8 221.8 270.3 222C270.8 222.1 271.5 222.7 271.2 222.8C270.9 223 268.5 223.2 267.7 223.3C266.9 223.3 265.1 223.1 264.7 223C264.2 222.9 264 222.5 264.2 222.4Z"/>
</g>
<g fill="none" stroke="#000" stroke-width="0.7" stroke-dasharray="1.7 2.1">
<circle cx="341.5" cy="321.5" r="50.28"/>
<circle cx="341.5" cy="321.5" r="102.33"/>
<path d="M341.50 321.50L341.50 182.50"/>
<path d="M366.64 277.96L411.00 201.12"/>
<path d="M385.04 296.36L461.88 252.00"/>
<path d="M341.50 321.50L480.50 321.50"/>
<path d="M385.04 346.64L461.88 391.00"/>
<path d="M366.64 365.04L411.00 441.88"/>
<path d="M341.50 321.50L341.50 460.50"/>
<path d="M316.36 365.04L272.00 441.88"/>
<path d="M297.96 346.64L221.12 391.00"/>
<path d="M341.50 321.50L202.50 321.50"/>
<path d="M297.96 296.36L221.12 252.00"/>
<path d="M316.36 277.96L272.00 201.12"/>
</g>
<circle cx="341.5" cy="321.5" r="139.0" fill="none" stroke="#000" stroke-width="0.85"/>
<g stroke="#000" stroke-width="0.25">
<text transform="translate(341.50 180.30) scale(0.82 1)" font-size="9.0" text-anchor="middle">0</text>
<text transform="translate(420.70 199.30) scale(0.82 1)" font-size="9.0" text-anchor="middle">30E</text>
<text transform="translate(474.50 252.30) scale(0.82 1)" font-size="9.0" text-anchor="middle">60E</text>
<text transform="translate(493.50 324.80) scale(0.82 1)" font-size="9.0" text-anchor="middle">90E</text>
<text transform="translate(475.40 397.30) scale(0.82 1)" font-size="9.0" text-anchor="middle">120E</text>
<text transform="translate(422.50 450.30) scale(0.82 1)" font-size="9.0" text-anchor="middle">150E</text>
<text transform="translate(341.50 469.30) scale(0.82 1)" font-size="9.0" text-anchor="middle">180</text>
<text transform="translate(259.80 450.30) scale(0.82 1)" font-size="9.0" text-anchor="middle">150W</text>
<text transform="translate(206.20 397.30) scale(0.82 1)" font-size="9.0" text-anchor="middle">120W</text>
<text transform="translate(188.90 324.80) scale(0.82 1)" font-size="9.0" text-anchor="middle">90W</text>
<text transform="translate(208.50 252.30) scale(0.82 1)" font-size="9.0" text-anchor="middle">60W</text>
<text transform="translate(261.50 199.30) scale(0.82 1)" font-size="9.0" text-anchor="middle">30W</text>
</g>
<g>
<rect x="506.0" y="191.5" width="16.5" height="13.0" fill="#c40000"/>
<rect x="506.0" y="204.5" width="16.5" height="13.0" fill="#e10000"/>
<rect x="506.0" y="217.5" width="16.5" height="13.0" fill="#ff1e00"/>
<rect x="506.0" y="230.5" width="16.5" height="13.0" fill="#ff8700"/>
<rect x="506.0" y="243.5" width="16.5" height="13.0" fill="#ff961e"/>
<rect x="506.0" y="256.5" width="16.5" height="13.0" fill="#ffaa2d"/>
<rect x="506.0" y="269.5" width="16.5" height="13.0" fill="#ffd728"/>
<rect x="506.0" y="282.5" width="16.5" height="13.0" fill="#ffff00"/>
<rect x="506.0" y="295.5" width="16.5" height="13.0" fill="#4bff00"/>
<rect x="506.0" y="308.5" width="16.5" height="13.0" fill="#00ff64"/>
<rect x="506.0" y="321.5" width="16.5" height="13.0" fill="#00ffc8"/>
<rect x="506.0" y="334.5" width="16.5" height="13.0" fill="#00ffff"/>
<rect x="506.0" y="347.5" width="16.5" height="13.0" fill="#1ee1ff"/>
<rect x="506.0" y="360.5" width="16.5" height="13.0" fill="#00beff"/>
<rect x="506.0" y="373.5" width="16.5" height="13.0" fill="#0082ff"/>
<rect x="506.0" y="386.5" width="16.5" height="13.0" fill="#0000ff"/>
<rect x="506.0" y="399.5" width="16.5" height="13.0" fill="#9100dc"/>
<rect x="506.0" y="412.5" width="16.5" height="13.0" fill="#eb00dc"/>
<rect x="506.0" y="425.5" width="16.5" height="13.0" fill="#d2d2d2"/>
<rect x="506.0" y="438.5" width="16.5" height="13.0" fill="#6e6e6e"/>
<g stroke="#000" stroke-width="0.9">
<path d="M506.0 204.5H522.5"/>
<path d="M506.0 217.5H522.5"/>
<path d="M506.0 230.5H522.5"/>
<path d="M506.0 243.5H522.5"/>
<path d="M506.0 256.5H522.5"/>
<path d="M506.0 269.5H522.5"/>
<path d="M506.0 282.5H522.5"/>
<path d="M506.0 295.5H522.5"/>
<path d="M506.0 308.5H522.5"/>
<path d="M506.0 321.5H522.5"/>
<path d="M506.0 334.5H522.5"/>
<path d="M506.0 347.5H522.5"/>
<path d="M506.0 360.5H522.5"/>
<path d="M506.0 373.5H522.5"/>
<path d="M506.0 386.5H522.5"/>
<path d="M506.0 399.5H522.5"/>
<path d="M506.0 412.5H522.5"/>
<path d="M506.0 425.5H522.5"/>
<path d="M506.0 438.5H522.5"/>
</g>
<rect x="506.0" y="191.5" width="16.5" height="260.0" fill="none" stroke="#555" stroke-width="0.7"/>
<g stroke="#000" stroke-width="0.25">
<text transform="translate(534.00 194.25) scale(0.82 1)" font-size="9.0" text-anchor="middle">4</text>
<text transform="translate(534.00 207.25) scale(0.82 1)" font-size="9.0" text-anchor="middle">3.6</text>
<text transform="translate(534.00 220.25) scale(0.82 1)" font-size="9.0" text-anchor="middle">3.2</text>
<text transform="translate(534.00 233.25) scale(0.82 1)" font-size="9.0" text-anchor="middle">2.8</text>
<text transform="translate(534.00 246.25) scale(0.82 1)" font-size="9.0" text-anchor="middle">2.4</text>
<text transform="translate(534.00 259.25) scale(0.82 1)" font-size="9.0" text-anchor="middle">2</text>
<text transform="translate(534.00 272.25) scale(0.82 1)" font-size="9.0" text-anchor="middle">1.6</text>
<text transform="translate(534.00 285.25) scale(0.82 1)" font-size="9.0" text-anchor="middle">1.2</text>
<text transform="translate(534.00 298.25) scale(0.82 1)" font-size="9.0" text-anchor="middle">0.8</text>
<text transform="translate(534.00 311.25) scale(0.82 1)" font-size="9.0" text-anchor="middle">0.4</text>
<text transform="translate(534.00 324.25) scale(0.82 1)" font-size="9.0" text-anchor="middle">0</text>
<text transform="translate(534.00 337.25) scale(0.82 1)" font-size="9.0" text-anchor="middle">-0.4</text>
<text transform="translate(534.00 350.25) scale(0.82 1)" font-size="9.0" text-anchor="middle">-0.8</text>
<text transform="translate(534.00 363.25) scale(0.82 1)" font-size="9.0" text-anchor="middle">-1.2</text>
<text transform="translate(534.00 376.25) scale(0.82 1)" font-size="9.0" text-anchor="middle">-1.6</text>
<text transform="translate(534.00 389.25) scale(0.82 1)" font-size="9.0" text-anchor="middle">-2</text>
<text transform="translate(534.00 402.25) scale(0.82 1)" font-size="9.0" text-anchor="middle">-2.4</text>
<text transform="translate(534.00 415.25) scale(0.82 1)" font-size="9.0" text-anchor="middle">-2.8</text>
<text transform="translate(534.00 428.25) scale(0.82 1)" font-size="9.0" text-anchor="middle">-3.2</text>
<text transform="translate(534.00 441.25) scale(0.82 1)" font-size="9.0" text-anchor="middle">-3.6</text>
<text transform="translate(534.00 454.25) scale(0.82 1)" font-size="9.0" text-anchor="middle">-4</text>
</g></g>
<g clip-path="url(#c2)">
<rect x="200" y="499" width="284" height="284" fill="#00beff"/>
<clipPath id="tD12"><rect x="299" y="498" width="102" height="102"/></clipPath>
<g clip-path="url(#tD12)" stroke="#000" stroke-width="0.8" stroke-linejoin="round">
<rect x="298" y="497" width="104" height="104" fill="#4bff00" stroke="none"/>
<path d="M298.6 528.3C299.4 527.8 302 525.8 303.4 524.9C304.8 524 305.6 523.2 306.8 522.9C308.1 522.5 309.9 523.3 310.9 522.9C311.9 522.4 312.4 521.1 313 520.1C313.5 519.2 313.4 517.7 314 517.1C314.6 516.5 315.5 516.1 316.4 516.4C317.2 516.7 318.1 517.9 319.1 518.8C320.1 519.6 321.5 520.6 322.5 521.5C323.5 522.4 324.3 523.3 325.2 524.2C326.1 525.1 327.1 526.6 328 527C328.9 527.3 329.4 526.6 330.7 526.3C331.9 526 333.8 525.6 335.5 525.3C337.2 524.9 339.1 524.8 340.9 524.2C342.7 523.7 344.6 522.9 346.4 522.2C348.2 521.5 349.3 520.6 351.8 520.1C354.3 519.7 357.5 519.4 361.4 519.5C365.3 519.6 371.6 520 375 520.8C378.4 521.6 379.6 523.1 381.9 524.2C384.1 525.4 386.4 526.5 388.7 527.6C391 528.8 393.2 529.9 395.5 531.1C397.8 532.2 401.2 540.4 402.3 534.5C403.5 528.6 419.6 502.1 402.3 495.6C385 489.1 315.9 495.6 298.6 495.6Z" fill="#00ff64" stroke="none"/>
<path d="M298.6 528.3C299.4 527.8 302 525.8 303.4 524.9C304.8 524 305.6 523.2 306.8 522.9C308.1 522.5 309.9 523.3 310.9 522.9C311.9 522.4 312.4 521.1 313 520.1C313.5 519.2 313.4 517.7 314 517.1C314.6 516.5 315.5 516.1 316.4 516.4C317.2 516.7 318.1 517.9 319.1 518.8C320.1 519.6 321.5 520.6 322.5 521.5C323.5 522.4 324.3 523.3 325.2 524.2C326.1 525.1 327.1 526.6 328 527C328.9 527.3 329.4 526.6 330.7 526.3C331.9 526 333.8 525.6 335.5 525.3C337.2 524.9 339.1 524.8 340.9 524.2C342.7 523.7 344.6 522.9 346.4 522.2C348.2 521.5 349.3 520.6 351.8 520.1C354.3 519.7 357.5 519.4 361.4 519.5C365.3 519.6 371.6 520 375 520.8C378.4 521.6 379.6 523.1 381.9 524.2C384.1 525.4 386.4 526.5 388.7 527.6C391 528.8 393.2 529.9 395.5 531.1C397.8 532.2 401.2 540.4 402.3 534.5C403.5 528.6 419.6 502.1 402.3 495.6C385 489.1 315.9 495.6 298.6 495.6" fill="none"/>
<path d="M298.6 524.6C299.5 524.1 302.6 522.5 304.1 521.5C305.6 520.5 306.5 519.7 307.5 518.8C308.5 517.9 309.4 517.1 310.2 516.1C311 515 311.7 513.8 312.3 512.6C312.8 511.5 313.1 510.3 313.6 509.2C314.2 508.2 314.8 506.4 315.3 506.2C315.9 505.9 316.2 506.9 317.1 507.9C317.9 508.8 319.2 510.6 320.5 512C321.7 513.3 323.2 514.7 324.6 516.1C325.9 517.4 327.5 519.3 328.6 520.1C329.8 521 330.2 521.2 331.4 521.4C332.5 521.6 333.9 521.4 335.5 521.4C337.1 521.3 338.9 521.3 340.9 521.2C343 521.1 345.5 520.7 347.7 520.7C350 520.6 352.3 520.8 354.6 520.8C356.8 520.8 359.1 520.9 361.4 520.7C363.7 520.5 365.9 519.8 368.2 519.5C370.5 519.1 372.8 518.7 375 518.8C377.3 518.9 379.6 519.1 381.9 520.1C384.1 521.2 386.4 523.6 388.7 524.9C391 526.3 393.2 527.2 395.5 528.3C397.8 529.5 401.2 537.2 402.3 531.7C403.5 526.3 419.6 501.6 402.3 495.6C385 489.6 315.9 495.6 298.6 495.6Z" fill="#00ffc8" stroke="none"/>
<path d="M298.6 524.6C299.5 524.1 302.6 522.5 304.1 521.5C305.6 520.5 306.5 519.7 307.5 518.8C308.5 517.9 309.4 517.1 310.2 516.1C311 515 311.7 513.8 312.3 512.6C312.8 511.5 313.1 510.3 313.6 509.2C314.2 508.2 314.8 506.4 315.3 506.2C315.9 505.9 316.2 506.9 317.1 507.9C317.9 508.8 319.2 510.6 320.5 512C321.7 513.3 323.2 514.7 324.6 516.1C325.9 517.4 327.5 519.3 328.6 520.1C329.8 521 330.2 521.2 331.4 521.4C332.5 521.6 333.9 521.4 335.5 521.4C337.1 521.3 338.9 521.3 340.9 521.2C343 521.1 345.5 520.7 347.7 520.7C350 520.6 352.3 520.8 354.6 520.8C356.8 520.8 359.1 520.9 361.4 520.7C363.7 520.5 365.9 519.8 368.2 519.5C370.5 519.1 372.8 518.7 375 518.8C377.3 518.9 379.6 519.1 381.9 520.1C384.1 521.2 386.4 523.6 388.7 524.9C391 526.3 393.2 527.2 395.5 528.3C397.8 529.5 401.2 537.2 402.3 531.7C403.5 526.3 419.6 501.6 402.3 495.6C385 489.6 315.9 495.6 298.6 495.6" fill="none"/>
<path d="M298.6 520.5C299.2 520.2 300.9 519.5 302 518.8C303.2 518 304.4 517.1 305.5 516.1C306.5 515 307.5 513.9 308.2 512.6C308.9 511.4 309.4 509.7 309.5 508.5C309.7 507.4 308.5 506.2 309.2 505.5C309.9 504.8 312.2 504.4 313.6 504.5C315.1 504.5 316.5 504.8 317.7 505.8C319 506.8 319.9 509.1 321.1 510.6C322.4 512.1 323.9 513.7 325.2 515C326.6 516.3 327.9 517.8 329.3 518.4C330.8 519.1 332.2 518.7 334.1 518.8C336 518.8 338.7 518.8 340.9 518.8C343.2 518.8 345.5 518.8 347.7 518.8C350 518.8 352.5 518.9 354.6 518.8C356.6 518.7 358.9 522 360 518.1C361.2 514.2 371.6 499.3 361.4 495.6C351.2 491.8 309.1 495.6 298.6 495.6Z" fill="#00ffff" stroke="none"/>
<path d="M298.6 520.5C299.2 520.2 300.9 519.5 302 518.8C303.2 518 304.4 517.1 305.5 516.1C306.5 515 307.5 513.9 308.2 512.6C308.9 511.4 309.4 509.7 309.5 508.5C309.7 507.4 308.5 506.2 309.2 505.5C309.9 504.8 312.2 504.4 313.6 504.5C315.1 504.5 316.5 504.8 317.7 505.8C319 506.8 319.9 509.1 321.1 510.6C322.4 512.1 323.9 513.7 325.2 515C326.6 516.3 327.9 517.8 329.3 518.4C330.8 519.1 332.2 518.7 334.1 518.8C336 518.8 338.7 518.8 340.9 518.8C343.2 518.8 345.5 518.8 347.7 518.8C350 518.8 352.5 518.9 354.6 518.8C356.6 518.7 358.9 522 360 518.1C361.2 514.2 371.6 499.3 361.4 495.6C351.2 491.8 309.1 495.6 298.6 495.6" fill="none"/>
<path d="M298.6 513.7C299.4 513.2 302.4 511.6 303.4 510.6C304.4 509.6 304.5 508.7 304.8 507.9C305.1 507.1 306.1 506.6 305.1 505.8C304.1 505 299.7 503.5 298.6 503.1Z" fill="#1ee1ff" stroke="none"/>
<path d="M298.6 513.7C299.4 513.2 302.4 511.6 303.4 510.6C304.4 509.6 304.5 508.7 304.8 507.9C305.1 507.1 306.1 506.6 305.1 505.8C304.1 505 299.7 503.5 298.6 503.1" fill="none"/>
<path d="M318.4 504.5C319 505.3 320.6 507.7 321.8 509.2C323.1 510.8 324.6 512.6 325.9 513.7C327.3 514.7 328.4 515.4 330 515.7C331.6 516.1 333.7 515.7 335.5 515.7C337.3 515.7 338.9 515.7 340.9 515.7C343 515.8 345.5 515.9 347.7 516.1C350 516.2 352.5 516.5 354.6 516.4C356.6 516.3 359 516.6 360 515.4C361.1 514.2 360.5 512.5 360.7 509.2C360.9 505.9 368.4 497.9 361.4 495.6C354.3 493.3 325.6 495.6 318.4 495.6Z" fill="#1ee1ff" stroke="none"/>
<path d="M318.4 504.5C319 505.3 320.6 507.7 321.8 509.2C323.1 510.8 324.6 512.6 325.9 513.7C327.3 514.7 328.4 515.4 330 515.7C331.6 516.1 333.7 515.7 335.5 515.7C337.3 515.7 338.9 515.7 340.9 515.7C343 515.8 345.5 515.9 347.7 516.1C350 516.2 352.5 516.5 354.6 516.4C356.6 516.3 359 516.6 360 515.4C361.1 514.2 360.5 512.5 360.7 509.2C360.9 505.9 368.4 497.9 361.4 495.6C354.3 493.3 325.6 495.6 318.4 495.6" fill="none"/>
<path d="M319.1 503.8C319.7 504.5 321.3 506.8 322.5 508.2C323.8 509.6 325.2 511.4 326.6 512.3C328 513.2 329.2 513.4 330.7 513.7C332.2 513.9 333.8 513.7 335.5 513.7C337.2 513.7 338.9 513.6 340.9 513.7C343 513.7 345.5 513.9 347.7 514C350 514.1 352.6 514.4 354.6 514.1C356.5 513.9 358.4 514 359.3 512.6C360.3 511.3 359.9 508.7 360 505.8C360.1 503 366.8 497.3 360 495.6C353.2 493.9 325.9 495.6 319.1 495.6Z" fill="#00beff" stroke="none"/>
<path d="M319.1 503.8C319.7 504.5 321.3 506.8 322.5 508.2C323.8 509.6 325.2 511.4 326.6 512.3C328 513.2 329.2 513.4 330.7 513.7C332.2 513.9 333.8 513.7 335.5 513.7C337.2 513.7 338.9 513.6 340.9 513.7C343 513.7 345.5 513.9 347.7 514C350 514.1 352.6 514.4 354.6 514.1C356.5 513.9 358.4 514 359.3 512.6C360.3 511.3 359.9 508.7 360 505.8C360.1 503 366.8 497.3 360 495.6C353.2 493.9 325.9 495.6 319.1 495.6" fill="none"/>
<path d="M320.1 503.4C320.6 504.1 322 506 323.2 507.2C324.4 508.4 325.9 509.8 327.3 510.6C328.6 511.4 330 511.7 331.4 512C332.7 512.2 333.9 512 335.5 512C337.1 512 338.9 512 340.9 512C343 512 345.5 512 347.7 512C350 511.9 352.8 512 354.6 511.6C356.4 511.3 357.9 511.1 358.7 509.9C359.5 508.7 359.2 506.8 359.3 504.5C359.5 502.1 365.9 497.1 359.3 495.6C352.8 494.1 326.4 495.6 319.8 495.6Z" fill="#0082ff" stroke="none"/>
<path d="M320.1 503.4C320.6 504.1 322 506 323.2 507.2C324.4 508.4 325.9 509.8 327.3 510.6C328.6 511.4 330 511.7 331.4 512C332.7 512.2 333.9 512 335.5 512C337.1 512 338.9 512 340.9 512C343 512 345.5 512 347.7 512C350 511.9 352.8 512 354.6 511.6C356.4 511.3 357.9 511.1 358.7 509.9C359.5 508.7 359.2 506.8 359.3 504.5C359.5 502.1 365.9 497.1 359.3 495.6C352.8 494.1 326.4 495.6 319.8 495.6" fill="none"/>
<path d="M321.1 503.4C321.5 503.9 322.2 505.8 323.2 506.5C324.2 507.2 326.1 507.8 327.3 507.9C328.4 508 329.1 507.5 330 507.2C330.9 506.8 331.8 505.8 332.7 505.8C333.7 505.8 334.6 506.6 335.5 507.2C336.4 507.8 337.1 508.8 338.2 509.2C339.3 509.6 340.9 509.7 342.3 509.6C343.7 509.5 345 509 346.4 508.5C347.7 508.1 349.1 507.2 350.5 506.8C351.8 506.5 353.3 506.8 354.6 506.5C355.8 506.2 357.3 507 358 505.1C358.7 503.3 364.8 497.2 358.7 495.6C352.5 494 327.4 495.6 321.1 495.6Z" fill="#0000ff" stroke="none"/>
<path d="M321.1 503.4C321.5 503.9 322.2 505.8 323.2 506.5C324.2 507.2 326.1 507.8 327.3 507.9C328.4 508 329.1 507.5 330 507.2C330.9 506.8 331.8 505.8 332.7 505.8C333.7 505.8 334.6 506.6 335.5 507.2C336.4 507.8 337.1 508.8 338.2 509.2C339.3 509.6 340.9 509.7 342.3 509.6C343.7 509.5 345 509 346.4 508.5C347.7 508.1 349.1 507.2 350.5 506.8C351.8 506.5 353.3 506.8 354.6 506.5C355.8 506.2 357.3 507 358 505.1C358.7 503.3 364.8 497.2 358.7 495.6C352.5 494 327.4 495.6 321.1 495.6" fill="none"/>
<path d="M325.2 504.1C325.2 503.7 325.8 503.2 326.3 503C326.8 502.7 327.8 502.6 328.3 502.8C328.8 502.9 329.4 503.5 329.5 503.9C329.5 504.3 329.1 505 328.6 505.3C328.2 505.5 327.2 505.7 326.6 505.5C326 505.3 325.3 504.5 325.2 504.1Z" fill="#9100dc"/>
<path d="M337.2 504.8C337.2 504.2 337.8 503.4 338.5 503.1C339.3 502.8 340.8 502.6 341.6 502.8C342.5 502.9 343.4 503.5 343.7 504.1C343.9 504.7 343.8 505.7 343.3 506.2C342.9 506.7 341.8 507 340.9 507C340.1 507.1 338.8 506.9 338.2 506.5C337.6 506.1 337.1 505.4 337.2 504.8Z" fill="#9100dc"/>
<path d="M297.3 533.1C298.6 532.7 302.7 531 305.5 530.4C308.2 529.7 310.9 529.4 313.6 529.3C316.4 529.2 319.6 529.3 321.8 529.7C324.1 530.1 325.7 530.8 327.3 531.7C328.9 532.7 330.8 533.8 331.4 535.2C331.9 536.5 331.2 538.2 330.7 539.9C330.2 541.6 329.2 543.6 328.6 545.4C328.1 547.2 327.1 549.3 327.3 550.8C327.5 552.4 328.9 553.6 330 554.9C331.2 556.3 333.7 557.7 334.1 559C334.6 560.4 333.9 561.8 332.7 563.1C331.6 564.5 329.1 565.8 327.3 567.2C325.5 568.6 324.1 570.5 321.8 571.3C319.6 572.1 316.4 572.2 313.6 572C310.9 571.8 307.5 571.2 305.5 569.9C303.4 568.7 302.5 566.8 301.4 564.5C300.2 562.2 299.5 558.1 298.6 556.3C297.7 554.5 296.4 554 295.9 553.6Z" fill="#00ff64" stroke="none"/>
<path d="M297.3 533.1C298.6 532.7 302.7 531 305.5 530.4C308.2 529.7 310.9 529.4 313.6 529.3C316.4 529.2 319.6 529.3 321.8 529.7C324.1 530.1 325.7 530.8 327.3 531.7C328.9 532.7 330.8 533.8 331.4 535.2C331.9 536.5 331.2 538.2 330.7 539.9C330.2 541.6 329.2 543.6 328.6 545.4C328.1 547.2 327.1 549.3 327.3 550.8C327.5 552.4 328.9 553.6 330 554.9C331.2 556.3 333.7 557.7 334.1 559C334.6 560.4 333.9 561.8 332.7 563.1C331.6 564.5 329.1 565.8 327.3 567.2C325.5 568.6 324.1 570.5 321.8 571.3C319.6 572.1 316.4 572.2 313.6 572C310.9 571.8 307.5 571.2 305.5 569.9C303.4 568.7 302.5 566.8 301.4 564.5C300.2 562.2 299.5 558.1 298.6 556.3C297.7 554.5 296.4 554 295.9 553.6" fill="none"/>
<path d="M298 546.7C298.7 546.1 301.5 544 302.7 542.7C304 541.3 304.7 539.8 305.5 538.6C306.3 537.3 306.7 536.1 307.5 535.2C308.3 534.2 309.2 533.6 310.2 533.1C311.3 532.7 312.2 532.5 313.6 532.4C315.1 532.3 317.5 532.3 319.1 532.4C320.7 532.6 322.1 533 323.2 533.4C324.3 533.9 325.2 534.4 325.9 535.2C326.7 535.9 327.5 536.9 327.6 537.9C327.7 538.9 327.2 540.3 326.6 541.3C326 542.3 324.9 543.3 323.9 544C322.9 544.7 321.9 545.1 320.5 545.4C319 545.7 316.7 545.6 315 545.7C313.3 545.8 311.8 546 310.2 546.1C308.6 546.2 307.5 546.2 305.5 546.4C303.4 546.6 299.2 547 298 547.1Z" fill="#00ffc8" stroke="none"/>
<path d="M298 546.7C298.7 546.1 301.5 544 302.7 542.7C304 541.3 304.7 539.8 305.5 538.6C306.3 537.3 306.7 536.1 307.5 535.2C308.3 534.2 309.2 533.6 310.2 533.1C311.3 532.7 312.2 532.5 313.6 532.4C315.1 532.3 317.5 532.3 319.1 532.4C320.7 532.6 322.1 533 323.2 533.4C324.3 533.9 325.2 534.4 325.9 535.2C326.7 535.9 327.5 536.9 327.6 537.9C327.7 538.9 327.2 540.3 326.6 541.3C326 542.3 324.9 543.3 323.9 544C322.9 544.7 321.9 545.1 320.5 545.4C319 545.7 316.7 545.6 315 545.7C313.3 545.8 311.8 546 310.2 546.1C308.6 546.2 307.5 546.2 305.5 546.4C303.4 546.6 299.2 547 298 547.1" fill="none"/>
<path d="M310.2 537.9C310.4 537.1 311.4 536.2 312.3 535.8C313.2 535.4 314.7 535.4 315.7 535.5C316.7 535.6 317.4 536.5 318.4 536.5C319.4 536.6 320.9 535.8 321.8 535.8C322.8 535.9 323.9 536.3 324.2 536.9C324.5 537.4 324 538.5 323.5 539.2C323 540 322.1 540.8 321.1 541.3C320.2 541.8 319 542.2 317.7 542.3C316.5 542.4 314.7 542.3 313.6 542C312.6 541.7 311.8 541.3 311.3 540.6C310.7 539.9 310.1 538.7 310.2 537.9Z" fill="#00ffff"/>
<path d="M310.2 557.4C310.3 556.7 310.7 555.5 311.2 554.9C311.7 554.4 312.7 554.1 313.4 554.3C314.1 554.4 314.9 555 315.3 555.6C315.7 556.2 315.8 557.2 315.7 557.9C315.5 558.7 314.9 559.7 314.3 560.1C313.7 560.5 312.6 560.5 312 560.4C311.4 560.3 310.8 559.8 310.5 559.3C310.2 558.8 310.1 558.1 310.2 557.4Z" fill="#4bff00"/>
<path d="M341.6 559C341.8 558.5 342.4 557.7 343 557.4C343.6 557.1 344.9 557.1 345.3 557.4C345.7 557.7 345.7 558.8 345.4 559.3C345.2 559.8 344.2 560.2 343.7 560.4C343.1 560.6 342.4 560.6 342 560.4C341.7 560.2 341.5 559.5 341.6 559Z" fill="#00ff64"/>
<path d="M368.2 549.5C369.6 549.3 371.7 550.4 373 551.5C374.2 552.7 375.5 554.7 375.7 556.3C375.9 557.9 375.4 560.1 374.4 561.1C373.3 562.1 371.2 562.4 369.6 562.4C368 562.4 365.9 561.9 364.8 561.1C363.7 560.3 363 559 363 557.7C363 556.3 363.9 554.3 364.8 552.9C365.7 551.5 366.8 549.7 368.2 549.5Z" fill="#00ff64"/>
<path d="M332.1 531.1C332.5 530.3 336 529.2 338.2 528.3C340.4 527.4 342.7 526.4 345 525.6C347.3 524.8 349.6 523.9 351.8 523.6C354.1 523.2 356.5 523.1 358.7 523.6C360.8 524 363.2 525 364.8 526.3C366.4 527.5 367.5 529.4 368.2 531.1C368.9 532.8 369.2 534.7 368.9 536.5C368.6 538.3 367.4 540.4 366.2 542C364.9 543.6 363.1 544.7 361.4 546.1C359.7 547.4 357.8 549.5 355.9 550.2C354.1 550.8 352.3 550.4 350.5 550.2C348.7 549.9 346.8 549 345 548.8C343.2 548.6 341 549.1 339.6 548.8C338.1 548.5 336.6 548 336.2 546.7C335.7 545.5 336.4 543 336.8 541.3C337.3 539.6 339.1 537.9 338.9 536.5C338.7 535.2 336.6 534 335.5 533.1C334.3 532.2 331.6 531.9 332.1 531.1Z" fill="#ffff00"/>
<path d="M295.9 578.8C297.7 579.2 303.9 580.4 306.8 580.9C309.8 581.3 311.4 582 313.6 581.5C315.9 581.1 318.6 579.4 320.5 578.1C322.3 576.9 323 575.4 324.6 574C326.1 572.7 328.2 571 330 569.9C331.8 568.9 333.7 568.5 335.5 567.9C337.3 567.3 338.9 566.9 340.9 566.5C343 566.2 345.5 566.1 347.7 565.8C350 565.6 352.8 565.2 354.6 565.2C356.4 565.2 357.3 565.3 358.7 565.8C360 566.4 361.2 567.8 362.8 568.6C364.3 569.4 366.4 570.4 368.2 570.6C370 570.9 371.9 570.3 373.7 569.9C375.5 569.6 377.5 568.7 379.1 568.6C380.7 568.5 381.9 568.1 383.2 569.3C384.6 570.4 386.2 573.9 387.3 575.4C388.4 576.9 388.7 577.6 390 578.1C391.4 578.7 393.2 578.8 395.5 578.8C397.8 578.8 402.3 574.1 403.7 578.1C405 582.1 421.6 598.6 403.7 602.7C385.7 606.8 313.9 602.7 295.9 602.7Z" fill="#ffff00" stroke="none"/>
<path d="M295.9 578.8C297.7 579.2 303.9 580.4 306.8 580.9C309.8 581.3 311.4 582 313.6 581.5C315.9 581.1 318.6 579.4 320.5 578.1C322.3 576.9 323 575.4 324.6 574C326.1 572.7 328.2 571 330 569.9C331.8 568.9 333.7 568.5 335.5 567.9C337.3 567.3 338.9 566.9 340.9 566.5C343 566.2 345.5 566.1 347.7 565.8C350 565.6 352.8 565.2 354.6 565.2C356.4 565.2 357.3 565.3 358.7 565.8C360 566.4 361.2 567.8 362.8 568.6C364.3 569.4 366.4 570.4 368.2 570.6C370 570.9 371.9 570.3 373.7 569.9C375.5 569.6 377.5 568.7 379.1 568.6C380.7 568.5 381.9 568.1 383.2 569.3C384.6 570.4 386.2 573.9 387.3 575.4C388.4 576.9 388.7 577.6 390 578.1C391.4 578.7 393.2 578.8 395.5 578.8C397.8 578.8 402.3 574.1 403.7 578.1C405 582.1 421.6 598.6 403.7 602.7C385.7 606.8 313.9 602.7 295.9 602.7" fill="none"/>
<path d="M297.3 590.4C298.2 589.5 301.1 591.1 302.7 591.8C304.3 592.5 306.4 593.6 306.8 594.5C307.3 595.4 306.6 596.7 305.5 597.2C304.3 597.8 301.4 597.9 300 597.9C298.6 597.9 297.7 598.5 297.3 597.2C296.8 596 296.4 591.3 297.3 590.4Z" fill="#ffd728"/>
<path d="M363.4 512.6C363.6 511.6 364.1 509.9 364.8 509.2C365.5 508.5 366.8 508.1 367.5 508.5C368.2 509 368.8 510.7 368.9 512C369 513.2 368.8 515.1 368.2 516.1C367.6 517 366.2 517.5 365.5 517.4C364.8 517.3 364.2 516.4 363.8 515.6C363.5 514.8 363.3 513.7 363.4 512.6Z" fill="#00ff64"/>
<path d="M364.4 512.6C364.5 512 365 510.9 365.5 510.6C365.9 510.3 366.8 510.5 367.1 511C367.4 511.5 367.6 513.1 367.4 513.7C367.2 514.4 366.5 515 366 515.1C365.6 515.2 364.9 514.7 364.7 514.3C364.4 513.9 364.3 513.3 364.4 512.6Z" fill="#4bff00"/>
<path d="M368.2 507.2C367.8 507.9 370 510.8 370.9 512.6C371.9 514.5 372.3 516.5 373.7 518.1C375 519.7 377.1 521.1 379.1 522.2C381.2 523.3 383.7 524 385.9 524.9C388.2 525.8 391.2 527.4 392.8 527.6C394.4 527.9 395.3 527.4 395.5 526.3C395.7 525.1 395 522.6 394.1 520.8C393.2 519 391.6 516.8 390 515.4C388.4 513.9 386.4 512.9 384.6 512C382.8 511.1 380.9 510.5 379.1 509.9C377.3 509.3 375.5 509 373.7 508.5C371.9 508.1 368.7 506.5 368.2 507.2Z" fill="#00ffc8"/>
<path d="M369.6 508.5C369.5 509.3 371.2 512.3 372.3 514C373.4 515.7 374.8 517.4 376.4 518.8C378 520.1 379.8 521.3 381.9 522.2C383.9 523.1 386.7 523.7 388.7 524.2C390.6 524.8 392.8 526.2 393.5 525.6C394.1 525 393.6 522.4 392.8 520.8C392 519.2 390.3 517.4 388.7 516.1C387.1 514.7 385 513.6 383.2 512.6C381.4 511.7 379.5 511.2 377.8 510.6C376.1 510 374.4 509.6 373 509.2C371.6 508.9 369.7 507.8 369.6 508.5Z" fill="#00ffff"/>
<path d="M380.5 517.4C380.6 516.4 381.5 515.1 382.5 514.7C383.6 514.2 385.4 514.2 386.6 514.7C387.9 515.1 389.6 516.4 390 517.4C390.5 518.4 390 520 389.4 520.8C388.7 521.6 387.2 522.2 385.9 522.2C384.7 522.2 382.8 521.6 381.9 520.8C380.9 520 380.4 518.4 380.5 517.4Z" fill="#1ee1ff"/>
<path d="M373.3 540.1C373.7 539.4 375 538.5 376.5 538.1C378 537.7 380.6 537.4 382.3 537.7C383.9 537.9 385 539.2 386.4 539.3C387.7 539.4 389.1 538.2 390.5 538.5C391.8 538.7 393.5 540.1 394.6 540.9C395.6 541.7 397 542.6 397 543.4C397 544.2 395.6 545.2 394.6 545.8C393.5 546.5 391.8 546.8 390.5 547.1C389.1 547.3 387.9 547.5 386.4 547.5C384.9 547.4 383 547.2 381.5 546.7C380 546.1 378.6 545 377.4 544.2C376.1 543.5 374.8 542.8 374.1 542.2C373.4 541.5 372.9 540.8 373.3 540.1Z" fill="#ffff00"/>
<path d="M384.7 541.7C385 541.1 386.8 540.2 388 540.1C389.2 540 390.9 540.5 392.1 540.9C393.3 541.3 395.1 542 395.4 542.6C395.6 543.2 394.7 544.2 393.7 544.6C392.8 545 390.9 545.2 389.6 545C388.4 544.9 387.2 544.3 386.4 543.8C385.6 543.2 384.5 542.4 384.7 541.7Z" fill="#ffd728"/>
<path d="M389.6 512.3C390.1 511.8 393.1 512.8 394.6 513.5C396 514.2 397.2 515.2 398.2 516.4C399.3 517.5 400.2 519.1 400.7 520.5C401.2 521.8 401.5 523.2 401.5 524.6C401.5 525.9 401.1 527.3 400.7 528.6C400.3 530 399.6 531.4 399.1 532.7C398.5 534.1 398 535.5 397.4 536.8C396.9 538.2 396.5 539.9 395.8 540.9C395 542 393.9 543 392.9 543C392 543 390.7 542 390.1 540.9C389.4 539.9 389.1 538.2 389.2 536.8C389.4 535.5 390.2 534.1 390.9 532.7C391.6 531.4 392.6 530 393.3 528.6C394 527.3 394.8 525.9 395 524.6C395.1 523.2 394.7 521.8 394.1 520.5C393.6 519.1 392.4 517.7 391.7 516.4C390.9 515 389.2 512.8 389.6 512.3Z" fill="#00ff64"/>
<path d="M390.9 513.5C391.3 513.2 393.7 514.1 395 514.7C396.2 515.4 397.4 516.5 398.2 517.6C399.1 518.7 399.8 520.1 400.3 521.3C400.7 522.5 401 523.7 400.9 525C400.9 526.2 400.5 527.5 400.1 528.8C399.7 530.1 399 531.5 398.5 532.9C397.9 534.3 397.4 535.7 396.8 537C396.3 538.3 395.8 539.7 395.2 540.5C394.6 541.3 393.8 542 393.1 541.9C392.4 541.9 391.3 541.1 390.9 540.3C390.4 539.4 390.1 538.1 390.3 536.8C390.5 535.6 391.3 534.2 391.9 532.9C392.6 531.6 393.6 530.2 394.2 528.8C394.9 527.4 395.7 526.1 395.9 524.7C396 523.3 395.6 521.6 395 520.3C394.5 519 393.3 517.9 392.6 516.8C391.9 515.6 390.5 513.8 390.9 513.5Z" fill="#4bff00"/>
<path d="M392.1 515.1C392.4 515 394.5 515.7 395.5 516.4C396.6 517 397.5 518 398.2 519C398.9 519.9 399.5 521 399.8 522.1C400.1 523.2 400.3 524.2 400.3 525.4C400.2 526.5 399.9 527.8 399.5 529.1C399.1 530.3 398.4 531.7 397.9 533.1C397.4 534.4 396.8 535.9 396.3 537C395.8 538.1 395.3 539.3 394.8 539.9C394.3 540.6 393.8 541 393.2 540.9C392.7 540.9 391.9 540.3 391.6 539.6C391.3 538.9 391.1 537.9 391.3 536.8C391.5 535.7 392.3 534.4 392.9 533.1C393.5 531.8 394.4 530.3 395 529C395.7 527.6 396.5 526.3 396.7 524.9C396.8 523.4 396.4 521.6 395.9 520.3C395.3 519 394.2 518.2 393.6 517.4C392.9 516.5 391.8 515.3 392.1 515.1Z" fill="#ffff00"/>
<path d="M393.3 516.8C393.6 516.8 395.4 517.6 396.2 518.2C397 518.8 397.8 519.6 398.3 520.5C398.8 521.3 399.1 522.2 399.3 523.1C399.5 524 399.7 524.7 399.6 525.8C399.5 526.8 399.2 528.1 398.8 529.3C398.4 530.5 397.9 532 397.3 533.2C396.8 534.5 396.2 536 395.7 537C395.2 538 394.8 538.8 394.4 539.3C394 539.8 393.7 540 393.4 539.9C393.1 539.9 392.6 539.5 392.4 539C392.2 538.4 392 537.8 392.3 536.8C392.5 535.9 393.3 534.5 393.9 533.2C394.5 532 395.3 530.5 395.9 529.1C396.5 527.8 397.4 526.5 397.5 525C397.7 523.6 397.3 521.6 396.8 520.5C396.3 519.3 395.1 518.8 394.6 518.2C394 517.6 393.1 516.8 393.3 516.8Z" fill="#ffd728"/>
<path d="M394.6 518.4C394.8 518.6 396.2 519.4 396.8 520C397.5 520.6 398.1 521.3 398.4 521.9C398.7 522.6 398.8 523.4 398.9 524.1C399 524.8 399.1 525.3 399 526.2C398.9 527.1 398.6 528.3 398.2 529.5C397.9 530.7 397.3 532.1 396.8 533.4C396.3 534.7 395.7 536.1 395.2 537C394.8 537.9 394.3 538.3 394.1 538.6C393.8 539 393.7 539 393.6 539C393.4 538.9 393.2 538.7 393.2 538.3C393.1 538 393 537.7 393.2 536.8C393.5 536 394.3 534.7 394.9 533.4C395.5 532.1 396.1 530.7 396.7 529.3C397.2 527.9 398.1 526.6 398.2 525.2C398.4 523.8 398 521.8 397.6 520.8C397.1 519.8 396 519.5 395.5 519.2C395 518.8 394.3 518.3 394.6 518.4Z" fill="#ffaa2d"/>
<path d="M397 538.5C396.7 537.5 397.3 536.2 397.8 534.4C398.4 532.6 399.5 529.9 400.3 527.8C401.1 525.8 401.9 523.6 402.7 522.1C403.6 520.6 404.1 519.4 405.2 518.8C406.3 518.2 407.8 518 409.3 518.4C410.8 518.8 412.8 520.1 414.2 521.3C415.6 522.4 416.7 523.9 417.5 525.4C418.3 526.9 418.7 528.6 419.1 530.3C419.5 531.9 419.7 533.6 419.9 535.2C420.2 536.8 420.9 538.6 420.8 540.1C420.6 541.6 419.9 543.3 419.1 544.2C418.3 545.1 416.9 545.6 415.8 545.4C414.7 545.3 413.4 544.3 412.6 543.4C411.7 542.5 411.9 540.8 410.9 540.1C410 539.4 408.2 539.3 406.8 539.3C405.5 539.3 404 540 402.7 540.1C401.5 540.2 400.4 540.4 399.5 540.1C398.5 539.8 397.3 539.4 397 538.5Z" fill="#ff961e"/>
<path d="M397.4 538.1C397.2 537.2 397.7 536 398.2 534.4C398.8 532.7 399.8 530.2 400.6 528.2C401.4 526.3 402.2 524.2 403 522.8C403.8 521.3 404.3 520.2 405.4 519.6C406.4 519.1 407.7 518.9 409.1 519.2C410.5 519.6 412.5 520.8 413.8 521.9C415.1 523 416.1 524.4 416.8 525.8C417.6 527.2 417.9 528.7 418.3 530.3C418.7 531.9 418.9 533.6 419.1 535.2C419.4 536.8 419.9 538.6 419.8 539.9C419.7 541.3 419.1 542.6 418.5 543.4C417.8 544.1 416.9 544.6 416 544.4C415.1 544.3 414 543.6 413.2 542.7C412.5 541.9 412.5 540.2 411.4 539.5C410.4 538.7 408.4 538.5 407 538.5C405.6 538.4 404.1 539.1 402.9 539.3C401.7 539.5 400.5 539.7 399.6 539.5C398.7 539.2 397.7 538.9 397.4 538.1Z" fill="#ff8700"/>
<path d="M397.8 536C398 534.9 398.8 532.9 399.5 531.1C400.2 529.3 401 526.9 401.9 525.4C402.9 523.9 404 522.7 405.2 522.1C406.4 521.5 407.9 521.3 409.3 521.7C410.7 522.1 412.4 523.4 413.4 524.6C414.3 525.7 415 527.3 415 528.6C415 530 414.2 531.7 413.4 532.7C412.6 533.8 411.3 534.6 410.1 535.2C408.9 535.8 407.4 536.2 406 536.4C404.7 536.7 403.2 536.6 401.9 536.8C400.7 537.1 399.3 538.2 398.6 538.1C398 537.9 397.7 537.2 397.8 536Z" fill="#ff1e00"/>
<path d="M402.7 528.6C403.2 527.4 404.8 525.9 406 525.4C407.2 524.8 409 524.8 410.1 525.4C411.2 525.9 412.4 527.5 412.6 528.6C412.7 529.8 411.9 531.4 410.9 532.3C410 533.2 408.1 533.9 406.8 534C405.6 534 404.2 533.6 403.6 532.7C402.9 531.9 402.3 529.9 402.7 528.6Z" fill="#e10000"/>
<path d="M405.2 529.1C405.4 528.4 406.5 527.6 407.2 527.4C408 527.3 409.2 527.8 409.7 528.2C410.2 528.7 410.4 529.7 410.1 530.3C409.8 530.9 408.7 531.7 408.1 531.9C407.4 532.1 406.5 532 406 531.5C405.5 531 405 529.7 405.2 529.1Z" fill="#ff1e00"/>
<path d="M397 510.6C397.6 511.3 399.7 513 400.7 514.3C401.7 515.7 402.5 517.3 402.7 518.8C403 520.4 402.7 522.2 402.3 523.7C401.9 525.3 401 526.7 400.3 528.2C399.6 529.8 398.6 532.3 398.2 533.2" fill="none"/>
<path d="M394.6 508.6C395.2 508.9 397.4 509.4 398.6 510.2C399.9 511.1 401.4 512.1 402.3 513.5C403.3 514.9 404.1 516.8 404.4 518.4C404.7 520.1 404.6 521.8 404.2 523.3C403.9 524.9 402.6 527.1 402.3 527.8" fill="none"/>
<path d="M388.8 509.8C388.6 510.2 387.5 511.2 387.6 512.3C387.7 513.4 388.6 515.1 389.2 516.4C389.9 517.7 391.1 518.7 391.7 520.1C392.2 521.4 392.6 523.1 392.5 524.6C392.4 526 391.8 527.3 391.3 528.6C390.7 530 389.7 531.4 389.2 532.7C388.8 534.1 388.6 536.2 388.4 536.8" fill="none"/>
</g>
<clipPath id="tD11"><rect x="199" y="498" width="102" height="102"/></clipPath>
<g clip-path="url(#tD11)" stroke="#000" stroke-width="0.8" stroke-linejoin="round">
<rect x="198" y="497" width="104" height="104" fill="#00ffff" stroke="none"/>
<path d="M278.2 508.4C283.9 508.4 307.1 507.5 312.6 508.4C318 509.2 311.9 511.9 310.9 513.3C310 514.6 308.2 515.6 306.8 516.5C305.5 517.5 304.8 518.4 302.7 519C300.7 519.6 297.3 519.8 294.6 520.2C291.8 520.6 288.8 521 286.4 521.5C283.9 521.9 281.7 523.1 279.8 523.1C277.9 523.1 275.7 521.7 274.9 521.5Z" fill="#1ee1ff" stroke="none"/>
<path d="M278.2 508.4C283.9 508.4 307.1 507.5 312.6 508.4C318 509.2 311.9 511.9 310.9 513.3C310 514.6 308.2 515.6 306.8 516.5C305.5 517.5 304.8 518.4 302.7 519C300.7 519.6 297.3 519.8 294.6 520.2C291.8 520.6 288.8 521 286.4 521.5C283.9 521.9 281.7 523.1 279.8 523.1C277.9 523.1 275.7 521.7 274.9 521.5" fill="none"/>
<path d="M280.6 548.5C280.4 547.2 279.1 543.4 279 541.1C278.9 538.8 279.4 536.5 279.8 534.6C280.2 532.6 280.8 531 281.5 529.6C282.1 528.3 282.7 527.3 283.9 526.4C285.1 525.5 287.1 524.9 288.8 524.3C290.6 523.7 292.5 523.2 294.6 522.7C296.6 522.1 299.2 521.7 301.1 521.1C303 520.4 304.7 519.7 306 518.6C307.4 517.5 308.5 516.2 309.3 514.5C310.1 512.8 306.6 509.4 310.9 508.4C315.3 507.3 331.4 497.2 335.5 508.4C339.6 519.5 345.6 564.3 335.5 575.5C325.4 586.7 284.7 578.5 274.9 575.5C265.1 572.5 276 561.3 276.5 557.5C277.1 553.7 277.9 553.4 278.2 552.6Z" fill="#00ffc8" stroke="none"/>
<path d="M280.6 548.5C280.4 547.2 279.1 543.4 279 541.1C278.9 538.8 279.4 536.5 279.8 534.6C280.2 532.6 280.8 531 281.5 529.6C282.1 528.3 282.7 527.3 283.9 526.4C285.1 525.5 287.1 524.9 288.8 524.3C290.6 523.7 292.5 523.2 294.6 522.7C296.6 522.1 299.2 521.7 301.1 521.1C303 520.4 304.7 519.7 306 518.6C307.4 517.5 308.5 516.2 309.3 514.5C310.1 512.8 306.6 509.4 310.9 508.4C315.3 507.3 331.4 497.2 335.5 508.4C339.6 519.5 345.6 564.3 335.5 575.5C325.4 586.7 284.7 578.5 274.9 575.5C265.1 572.5 276 561.3 276.5 557.5C277.1 553.7 277.9 553.4 278.2 552.6" fill="none"/>
<path d="M282.3 546C282.1 545.2 281.5 543 281.5 541.1C281.5 539.2 281.9 536.3 282.3 534.6C282.7 532.8 283.2 531.5 283.9 530.5C284.6 529.4 285.3 529.1 286.4 528.4C287.5 527.7 289.1 526.9 290.5 526.4C291.8 525.8 292.9 525.5 294.6 525.1C296.2 524.8 298.6 524.8 300.3 524.3C301.9 523.8 303.2 523 304.4 522.3C305.6 521.5 306.6 520.9 307.7 519.8C308.7 518.7 310 517 310.9 515.7C311.9 514.5 312.6 513.7 313.4 512.5C314.2 511.2 312.2 509 315.8 508.4C319.5 507.7 332.2 497.2 335.5 508.4C338.8 519.5 345 564.3 335.5 575.5C325.9 586.7 287.7 578.2 278.2 575.5C268.6 572.8 277.9 562.9 278.2 559.1C278.5 555.3 279.5 553.7 279.8 552.6Z" fill="#00ff64" stroke="none"/>
<path d="M282.3 546C282.1 545.2 281.5 543 281.5 541.1C281.5 539.2 281.9 536.3 282.3 534.6C282.7 532.8 283.2 531.5 283.9 530.5C284.6 529.4 285.3 529.1 286.4 528.4C287.5 527.7 289.1 526.9 290.5 526.4C291.8 525.8 292.9 525.5 294.6 525.1C296.2 524.8 298.6 524.8 300.3 524.3C301.9 523.8 303.2 523 304.4 522.3C305.6 521.5 306.6 520.9 307.7 519.8C308.7 518.7 310 517 310.9 515.7C311.9 514.5 312.6 513.7 313.4 512.5C314.2 511.2 312.2 509 315.8 508.4C319.5 507.7 332.2 497.2 335.5 508.4C338.8 519.5 345 564.3 335.5 575.5C325.9 586.7 287.7 578.2 278.2 575.5C268.6 572.8 277.9 562.9 278.2 559.1C278.5 555.3 279.5 553.7 279.8 552.6" fill="none"/>
<path d="M285.6 529.2C285.8 528.5 287.5 527.9 288.8 527.6C290.2 527.3 292.1 527.2 293.7 527.2C295.4 527.2 297.1 527.7 298.6 527.6C300.2 527.5 301.4 527 302.7 526.4C304.1 525.8 305.5 524.9 306.8 523.9C308.2 523 309.8 521.7 310.9 520.6C312 519.6 312.6 518.5 313.4 517.8C314.2 517.1 314.9 516.5 315.8 516.5C316.8 516.6 318 517.4 319.1 518.2C320.2 519 321.3 520.4 322.4 521.5C323.5 522.6 323.5 523.8 325.7 524.7C327.8 525.7 333.8 526 335.5 527.2C337.1 528.4 337.1 531.6 335.5 532.1C333.8 532.6 328.4 530.9 325.7 530.5C322.9 530.1 321.3 529.8 319.1 529.6C316.9 529.5 314.6 529.5 312.6 529.6C310.5 529.8 308.2 529.8 306.8 530.5C305.5 531.1 305.1 532.6 304.4 533.7C303.7 534.8 303.4 536.2 302.7 537C302.1 537.8 301.2 538.6 300.3 538.6C299.3 538.6 298.1 537.6 297 537C295.9 536.5 294.8 535.8 293.7 535.4C292.6 535 291.6 535.1 290.5 534.6C289.4 534 288 533 287.2 532.1C286.4 531.2 285.3 530 285.6 529.2Z" fill="#4bff00"/>
<path d="M290.1 532.1C290.1 531.6 290.9 530.8 291.7 530.6C292.4 530.5 293.9 530.7 294.6 531.1C295.2 531.5 295.6 532.4 295.5 532.9C295.5 533.4 294.8 534 294.1 534.1C293.5 534.3 292.1 534.1 291.4 533.7C290.8 533.4 290 532.6 290.1 532.1Z" fill="#ffff00"/>
<path d="M284.7 539.5C285.8 539.2 287.3 540.6 288.8 541.1C290.3 541.7 292.1 542.5 293.7 542.7C295.4 542.9 297.1 542.5 298.6 542.3C300.2 542.1 301.5 542.1 302.7 541.5C304 540.9 305.1 539.7 306 538.6C307 537.6 307.4 536.2 308.5 535.4C309.6 534.6 310.8 534.1 312.6 533.7C314.3 533.3 316.9 532.9 319.1 532.9C321.3 532.9 322.9 533.3 325.7 533.7C328.4 534.1 333.8 533.3 335.5 535.4C337.1 537.4 337.1 544 335.5 546C333.8 548.1 328.1 547.2 325.7 547.7C323.2 548.1 322.4 548.5 320.8 548.5C319.1 548.5 317.5 548.1 315.8 547.7C314.2 547.2 312.6 546.4 310.9 546C309.3 545.6 307.5 545.2 306 545.2C304.5 545.2 303.3 545.6 301.9 546C300.6 546.4 299.1 547.1 297.8 547.7C296.6 548.2 295.6 549.4 294.6 549.3C293.5 549.2 292.5 547.6 291.3 546.8C290.1 546.1 288.4 545.1 287.2 544.8C286 544.5 284.7 545.5 283.9 545.2C283.1 544.9 282.1 543.7 282.3 542.7C282.4 541.8 283.6 539.7 284.7 539.5Z" fill="#00ffc8"/>
<path d="M310.1 538.6C310.4 537.9 311.3 536.7 312.6 536.2C313.8 535.6 315.8 535.4 317.5 535.4C319.1 535.4 321.3 535.7 322.4 536.2C323.5 536.7 324 537.4 324 538.2C324 539.1 323.3 540.4 322.4 541.1C321.4 541.8 319.8 542.2 318.3 542.3C316.8 542.5 314.6 542.2 313.4 541.9C312.2 541.7 311.5 541.2 310.9 540.7C310.4 540.2 309.8 539.4 310.1 538.6Z" fill="#00ffff"/>
<path d="M286.4 552.6C287.6 551.9 289.5 551.6 291.3 551.7C293.1 551.9 295.2 552.7 297 553.4C298.8 554.1 301 554.6 301.9 555.8C302.9 557.1 302.7 559.1 302.7 560.8C302.7 562.4 301.9 564 301.9 565.7C301.9 567.3 302.3 568.9 302.7 570.6C303.2 572.2 307.8 574.7 304.4 575.5C301 576.3 286.1 576.8 282.3 575.5C278.5 574.1 281.9 569.3 281.5 567.3C281.1 565.3 279.8 564.6 279.8 563.2C279.8 561.8 280.8 560.3 281.5 559.1C282.1 557.9 283.1 556.9 283.9 555.8C284.7 554.7 285.1 553.2 286.4 552.6Z" fill="#4bff00"/>
<path d="M290.5 560.3C290.6 559.9 291 559.2 291.4 559.1C291.9 559 292.6 559.1 292.9 559.5C293.2 559.9 293.3 560.9 293.1 561.4C292.9 561.9 292.1 562.3 291.7 562.4C291.3 562.4 290.8 562.1 290.6 561.7C290.4 561.4 290.3 560.8 290.5 560.3Z" fill="#ffff00"/>
<path d="M276.4 518.1C276.3 519.5 276.3 523.8 275.7 526.3C275.1 528.8 274.2 531.1 273 533.1C271.7 535.2 270.1 537.4 268.2 538.6C266.3 539.7 263.3 539.4 261.4 539.9C259.5 540.5 257.9 540.8 256.6 542C255.4 543.1 254.6 544.8 253.9 546.7C253.2 548.7 253.1 551.5 252.5 553.6C252 555.6 251 557.2 250.5 559C249.9 560.8 249.6 562.7 249.1 564.5C248.7 566.3 251.4 569 247.7 569.9C244.1 570.9 230.7 579.5 227.3 569.9C223.9 560.4 227.3 522.2 227.3 512.6Z" fill="#00beff" stroke="none"/>
<path d="M276.4 518.1C276.3 519.5 276.3 523.8 275.7 526.3C275.1 528.8 274.2 531.1 273 533.1C271.7 535.2 270.1 537.4 268.2 538.6C266.3 539.7 263.3 539.4 261.4 539.9C259.5 540.5 257.9 540.8 256.6 542C255.4 543.1 254.6 544.8 253.9 546.7C253.2 548.7 253.1 551.5 252.5 553.6C252 555.6 251 557.2 250.5 559C249.9 560.8 249.6 562.7 249.1 564.5C248.7 566.3 251.4 569 247.7 569.9C244.1 570.9 230.7 579.5 227.3 569.9C223.9 560.4 227.3 522.2 227.3 512.6" fill="none"/>
<path d="M274.8 518.8C274.7 520 274.9 524 274.4 526.3C273.8 528.6 272.8 530.6 271.6 532.4C270.5 534.2 269.3 536.1 267.5 537.2C265.7 538.3 262.7 538.3 260.7 538.8C258.7 539.4 257 539.4 255.7 540.6C254.3 541.8 253.4 543.9 252.5 546.1C251.7 548.2 251.2 551.4 250.5 553.6C249.8 555.7 249 557.2 248.4 559C247.9 560.8 250.6 563.1 247.1 564.5C243.5 565.8 230.6 575.9 227.3 567.2C224 558.6 227.3 521.7 227.3 512.6Z" fill="#0082ff" stroke="none"/>
<path d="M274.8 518.8C274.7 520 274.9 524 274.4 526.3C273.8 528.6 272.8 530.6 271.6 532.4C270.5 534.2 269.3 536.1 267.5 537.2C265.7 538.3 262.7 538.3 260.7 538.8C258.7 539.4 257 539.4 255.7 540.6C254.3 541.8 253.4 543.9 252.5 546.1C251.7 548.2 251.2 551.4 250.5 553.6C249.8 555.7 249 557.2 248.4 559C247.9 560.8 250.6 563.1 247.1 564.5C243.5 565.8 230.6 575.9 227.3 567.2C224 558.6 227.3 521.7 227.3 512.6" fill="none"/>
<path d="M273 519.5C273 520.6 273.4 524.2 273 526.3C272.5 528.3 271.3 530.2 270.3 531.7C269.2 533.3 268.6 534.8 266.8 535.8C265.1 536.9 262.1 537.3 260 537.9C258 538.4 256 538 254.6 539.2C253.1 540.5 252.2 543.2 251.2 545.4C250.1 547.5 249.3 550.2 248.4 552.2C247.5 554.3 246.6 555.8 245.7 557.7C244.8 559.5 246 562 243 563.1C239.9 564.3 229.9 572.9 227.3 564.5C224.7 556.1 227.3 521.3 227.3 512.6Z" fill="#0000ff" stroke="none"/>
<path d="M273 519.5C273 520.6 273.4 524.2 273 526.3C272.5 528.3 271.3 530.2 270.3 531.7C269.2 533.3 268.6 534.8 266.8 535.8C265.1 536.9 262.1 537.3 260 537.9C258 538.4 256 538 254.6 539.2C253.1 540.5 252.2 543.2 251.2 545.4C250.1 547.5 249.3 550.2 248.4 552.2C247.5 554.3 246.6 555.8 245.7 557.7C244.8 559.5 246 562 243 563.1C239.9 564.3 229.9 572.9 227.3 564.5C224.7 556.1 227.3 521.3 227.3 512.6" fill="none"/>
<path d="M253.2 534.7C253.4 533.6 254.6 531.8 255.9 530.4C257.3 529 259.7 527.3 261.4 526.3C263.1 525.3 265 524.2 266.2 524.2C267.3 524.2 268.3 525.1 268.5 526.3C268.7 527.4 268.3 529.7 267.5 531.1C266.8 532.4 265.6 533.6 264.1 534.5C262.6 535.4 260.3 536 258.7 536.5C257.1 537 255.5 537.8 254.6 537.5C253.7 537.2 253 535.9 253.2 534.7Z" fill="#9100dc"/>
<path d="M258 532.4C258.3 531.7 260.3 530.4 261.4 529.7C262.5 529 264.1 528.3 264.8 528.3C265.5 528.4 265.9 529.4 265.5 530.1C265.1 530.8 263.5 531.8 262.5 532.4C261.5 533 260.1 533.8 259.3 533.8C258.6 533.8 257.6 533.1 258 532.4Z" fill="#eb00dc"/>
<path d="M232.7 554.9C233.2 553.5 236.4 551.1 238.2 549.5C240 547.9 242.1 546.3 243.7 545.4C245.2 544.5 246.6 543.9 247.7 544C248.9 544.1 250.4 544.9 250.8 546.1C251.1 547.2 250.5 549.4 249.8 550.8C249.1 552.3 247.9 553.8 246.4 554.9C244.9 556.1 242.7 557.1 240.9 557.7C239.2 558.2 237.1 558.8 235.7 558.3C234.4 557.9 232.3 556.4 232.7 554.9Z" fill="#9100dc"/>
<path d="M237.5 553.6C238.2 553.1 240.3 551.4 241.6 550.6C242.9 549.7 244.5 548.6 245.3 548.4C246.1 548.2 246.9 548.8 246.7 549.5C246.4 550.2 245.1 551.6 243.9 552.5C242.8 553.3 240.5 554.3 239.8 554.7" fill="none"/>
<path d="M245.6 557.8C246.4 557.4 249.1 555.7 250.5 555.4C251.8 555 253.3 555 253.7 555.8C254.2 556.6 253.6 559 253.3 560.3C253.1 561.6 252.4 562.3 252.1 563.6C251.8 564.8 251.7 566.3 251.7 567.6C251.7 569 252 570.4 252.1 571.7C252.2 573.1 252.3 574.5 252.5 575.8C252.7 577.2 252.9 578.7 253.3 579.9C253.7 581.2 254.3 582.2 255 583.2C255.6 584.2 256.7 584.7 257.4 585.7C258.2 586.6 259.9 588.2 259.5 588.9C259 589.6 256.7 589.9 254.6 589.8C252.4 589.6 248.8 590.2 246.4 588.1C243.9 586.1 240.5 580.2 239.8 577.5C239.1 574.7 242.6 573.5 242.3 571.7C242 570 238.9 568.9 238.2 566.8C237.5 564.8 238.2 560.7 238.2 559.5Z" fill="#00beff" stroke="none"/>
<path d="M245.6 557.8C246.4 557.4 249.1 555.7 250.5 555.4C251.8 555 253.3 555 253.7 555.8C254.2 556.6 253.6 559 253.3 560.3C253.1 561.6 252.4 562.3 252.1 563.6C251.8 564.8 251.7 566.3 251.7 567.6C251.7 569 252 570.4 252.1 571.7C252.2 573.1 252.3 574.5 252.5 575.8C252.7 577.2 252.9 578.7 253.3 579.9C253.7 581.2 254.3 582.2 255 583.2C255.6 584.2 256.7 584.7 257.4 585.7C258.2 586.6 259.9 588.2 259.5 588.9C259 589.6 256.7 589.9 254.6 589.8C252.4 589.6 248.8 590.2 246.4 588.1C243.9 586.1 240.5 580.2 239.8 577.5C239.1 574.7 242.6 573.5 242.3 571.7C242 570 238.9 568.9 238.2 566.8C237.5 564.8 238.2 560.7 238.2 559.5" fill="none"/>
<path d="M234.9 558.6C235.6 558 240 556.2 242.3 555.4C244.6 554.6 247.5 553.7 248.8 553.7C250.2 553.7 250.5 554.7 250.5 555.4C250.5 556.1 249.2 557 248.8 557.8C248.4 558.6 248.2 559.3 248.2 560.3C248.1 561.2 248.4 562.5 248.7 563.6C248.9 564.6 249.5 565.7 249.6 566.8C249.8 567.9 249.6 569 249.5 570.1C249.3 571.2 248.8 572.2 248.8 573.4C248.8 574.6 249.1 576.1 249.5 577.5C249.8 578.8 250.2 580.3 250.9 581.6C251.5 582.8 252.4 583.9 253.3 584.8C254.3 585.8 255.7 586.7 256.6 587.3C257.5 587.9 258.7 587.8 258.6 588.5C258.6 589.2 257 590.8 256.2 591.4C255.4 592 254.7 592.2 253.7 592.2C252.8 592.2 251.7 592.1 250.5 591.4C249.2 590.7 247.5 589.2 246.4 588.1C245.3 587 244.6 585.9 243.9 584.8C243.2 583.7 243 582.8 242.3 581.6C241.6 580.3 239.8 579.1 239.8 577.5C239.8 575.8 242.6 573.5 242.3 571.7C242 570 238.9 568.9 238.2 566.8C237.5 564.8 238.7 560.8 238.2 559.5C237.6 558.1 234.2 559.3 234.9 558.6Z" fill="#0082ff" stroke="none"/>
<path d="M234.9 558.6C236.1 557.8 240.2 554.7 242.3 553.7C244.4 552.8 246.8 552.4 247.6 552.9C248.3 553.5 247.1 555.8 246.8 557C246.4 558.2 245.6 559.2 245.6 560.3C245.5 561.4 246 562.5 246.4 563.6C246.7 564.6 247.5 565.7 247.6 566.8C247.7 567.9 247.4 569 247.2 570.1C247 571.2 246.4 572.2 246.4 573.4C246.4 574.6 246.8 576.1 247.2 577.5C247.6 578.8 248.1 580.3 248.8 581.6C249.5 582.8 250.3 583.9 251.3 584.8C252.2 585.8 253.6 586.7 254.6 587.3C255.5 587.8 256.7 587.4 257 588.1C257.3 588.8 256.7 590.7 256.2 591.4C255.6 592.1 254.7 592.2 253.7 592.2C252.8 592.2 251.7 592.1 250.5 591.4C249.2 590.7 247.5 589.2 246.4 588.1C245.3 587 244.6 585.9 243.9 584.8C243.2 583.7 243 582.8 242.3 581.6C241.6 580.3 239.8 579.1 239.8 577.5C239.8 575.8 242.6 573.5 242.3 571.7C242 570 238.9 568.9 238.2 566.8C237.5 564.8 238.2 560.7 238.2 559.5Z" fill="#0000ff" stroke="none"/>
<path d="M234.9 558.6C236.1 557.8 240.2 554.7 242.3 553.7C244.4 552.8 246.8 552.4 247.6 552.9C248.3 553.5 247.1 555.8 246.8 557C246.4 558.2 245.6 559.2 245.6 560.3C245.5 561.4 246 562.5 246.4 563.6C246.7 564.6 247.5 565.7 247.6 566.8C247.7 567.9 247.4 569 247.2 570.1C247 571.2 246.4 572.2 246.4 573.4C246.4 574.6 246.8 576.1 247.2 577.5C247.6 578.8 248.1 580.3 248.8 581.6C249.5 582.8 250.3 583.9 251.3 584.8C252.2 585.8 253.6 586.7 254.6 587.3C255.5 587.8 256.7 587.4 257 588.1C257.3 588.8 256.7 590.7 256.2 591.4C255.6 592.1 254.7 592.2 253.7 592.2C252.8 592.2 251.7 592.1 250.5 591.4C249.2 590.7 247.5 589.2 246.4 588.1C245.3 587 244.6 585.9 243.9 584.8C243.2 583.7 243 582.8 242.3 581.6C241.6 580.3 239.8 579.1 239.8 577.5C239.8 575.8 242.6 573.5 242.3 571.7C242 570 238.9 568.9 238.2 566.8C237.5 564.8 238.2 560.7 238.2 559.5" fill="none"/>
<path d="M252.9 550.1C253.5 549.2 256.2 548.1 257.8 547.6C259.5 547.1 261.1 547.1 262.7 547C264.4 547 266 547.4 267.7 547.3C269.3 547.3 271.4 546.3 272.6 546.5C273.7 546.7 274.5 547.8 274.6 548.7C274.7 549.6 274 551.5 273 551.9C272 552.4 269.9 551.3 268.5 551.3C267 551.3 265.9 552.1 264.4 552.1C262.9 552.1 261.1 551.2 259.5 551.3C257.8 551.3 255.6 552.7 254.6 552.5C253.5 552.3 252.4 550.9 252.9 550.1Z" fill="#0000ff"/>
<path d="M254.6 550.1C254.6 549.7 257.1 548.8 258.6 548.4C260.2 548.1 261.9 548 263.6 548C265.2 548 267 548.2 268.5 548.2C269.9 548.1 271.4 547.4 272.2 547.6C272.9 547.8 273.1 548.7 273 549.2C272.8 549.8 272.2 550.7 271.3 550.9C270.5 551 268.9 550.3 267.7 550.3C266.4 550.3 265.1 551 263.6 551C262.1 551.1 260.2 550.6 258.6 550.5C257.1 550.3 254.6 550.4 254.6 550.1Z" fill="#00beff"/>
<path d="M256.2 558.6C257.1 557.4 259.3 555.3 261.1 554.6C262.9 553.8 265.2 553.9 266.8 554.1C268.5 554.3 270 554.8 270.9 555.8C271.9 556.8 272.6 558.8 272.6 560.3C272.6 561.7 271.7 563.2 270.9 564.4C270.2 565.5 268.7 566.2 268.1 567.2C267.4 568.3 266.9 569.5 266.8 570.5C266.8 571.5 267.9 572.4 267.7 573.4C267.4 574.3 266.4 575.9 265.2 576.2C264 576.6 261.9 576 260.7 575.4C259.5 574.8 258.6 573.7 257.8 572.6C257 571.4 256 569.7 255.8 568.5C255.6 567.2 256.6 566.3 256.6 565.2C256.6 564.1 255.6 563 255.5 561.9C255.5 560.8 255.3 559.9 256.2 558.6Z" fill="#00ffc8"/>
<path d="M258.6 558.2C259.6 557.2 261.4 556.3 262.7 555.8C264.1 555.3 265.6 555.2 266.8 555.4C268.1 555.6 269.4 556.2 270.1 557C270.8 557.8 271.1 559.2 270.9 560.3C270.8 561.4 270 562.6 269.3 563.6C268.6 564.5 267.5 565.1 266.8 566C266.2 567 265.3 568.2 265.2 569.3C265.1 570.4 266.2 571.6 266 572.6C265.9 573.5 265.2 574.7 264.4 575C263.6 575.3 262.1 574.7 261.1 574.2C260.2 573.7 259.3 572.7 258.6 571.7C258 570.8 257.1 569.6 257 568.5C256.9 567.4 257.8 566.3 257.8 565.2C257.8 564.1 256.9 563.1 257 561.9C257.1 560.8 257.7 559.3 258.6 558.2Z" fill="#00ff64"/>
<path d="M260.7 563.6C261 562.7 261.7 562.1 262.3 561.9C262.9 561.8 264.1 562.1 264.4 562.7C264.7 563.4 264.3 565.1 264 566C263.6 567 262.9 568.3 262.3 568.5C261.8 568.7 261 568.1 260.7 567.2C260.4 566.4 260.4 564.4 260.7 563.6Z" fill="#00ffff"/>
<path d="M264.4 558C265.1 557.3 267.4 556.5 268.5 556.6C269.5 556.7 270.3 557.8 270.5 558.6C270.7 559.5 270.2 561.1 269.7 561.9C269.2 562.7 268.4 563.4 267.7 563.6C266.9 563.8 265.8 563.6 265.2 563.1C264.6 562.7 264.1 561.6 264 560.7C263.8 559.8 263.6 558.7 264.4 558Z" fill="#4bff00"/>
<path d="M262.7 570.5C262.9 569.8 263.8 568.9 264.4 568.9C264.9 568.9 265.9 569.8 266 570.5C266.2 571.3 265.7 572.9 265.2 573.4C264.7 573.9 263.6 573.9 263.2 573.4C262.7 572.9 262.5 571.3 262.7 570.5Z" fill="#4bff00"/>
<path d="M251.3 556.2C251.2 556.9 251 558.8 250.9 560.3C250.7 561.8 250.5 563.6 250.5 565.2C250.5 566.8 250.7 568.5 250.9 570.1C251 571.7 251.2 573.4 251.4 575C251.7 576.7 252 578.5 252.5 579.9C253 581.4 253.7 582.5 254.6 583.6C255.4 584.7 256.9 586 257.4 586.5" fill="none"/>
<path d="M253.7 556.6C253.6 557.3 253.2 559.5 253.1 561.1C252.9 562.7 252.9 564.4 252.9 566C253 567.6 253.2 569.3 253.3 570.9C253.5 572.6 253.6 574.3 253.9 575.8C254.2 577.3 254.4 578.7 255 579.9C255.5 581.2 256.7 582.7 257 583.2" fill="none"/>
<path d="M255.8 556.6C255.7 557.3 255.3 559.5 255.2 561.1C255.1 562.7 254.9 564.4 255 566C255 567.6 255.3 569.4 255.5 570.9C255.8 572.4 256 573.8 256.4 575C256.7 576.2 257.6 577.7 257.8 578.3" fill="none"/>
<path d="M254.6 553.7C255.2 553.6 257 553 258.6 552.9C260.3 552.8 262.6 553.4 264.4 553.3C266.2 553.3 267.7 552.8 269.3 552.5C270.9 552.2 273.4 551.5 274.2 551.3" fill="none"/>
<path d="M255.4 555C256.1 554.9 258 554.4 259.5 554.4C261 554.3 262.7 554.8 264.4 554.7C266 554.6 267.6 554.2 269.3 553.9C271 553.6 273.7 553.1 274.6 552.9" fill="none"/>
<path d="M268.5 566C268.9 566.1 270.1 566.8 270.9 566.8C271.7 566.8 272.6 566.6 273.4 566C274.2 565.5 275.2 564.5 275.8 563.6C276.5 562.6 276.8 561.5 277.1 560.3C277.3 559.1 277.4 556.9 277.5 556.2" fill="none"/>
<path d="M272.6 555.4C272.8 555.9 274 557.6 274.2 558.6C274.4 559.7 274.1 560.9 273.8 561.9C273.5 562.9 272.4 564.3 272.2 564.8" fill="none"/>
<path d="M239 578.3C239.5 578.6 241.3 579.1 242.3 579.9C243.2 580.7 243.9 582.1 244.7 583.2C245.6 584.3 246.1 585.4 247.2 586.5C248.3 587.6 249.9 588.9 251.3 589.8C252.6 590.6 254.2 590.8 255.4 591.4C256.5 591.9 258.1 592.2 258.2 593C258.4 593.8 257.1 594.9 256.2 596.3C255.3 597.7 255.9 600.4 252.9 601.2C249.9 602 241.1 602.7 238.2 601.2C235.3 599.7 235.7 594.9 235.3 592.2C234.9 589.5 235.4 586.7 235.7 584.8C236.1 582.9 237.1 581.4 237.4 580.7Z" fill="#9100dc" stroke="none"/>
<path d="M239 578.3C239.5 578.6 241.3 579.1 242.3 579.9C243.2 580.7 243.9 582.1 244.7 583.2C245.6 584.3 246.1 585.4 247.2 586.5C248.3 587.6 249.9 588.9 251.3 589.8C252.6 590.6 254.2 590.8 255.4 591.4C256.5 591.9 258.1 592.2 258.2 593C258.4 593.8 257.1 594.9 256.2 596.3C255.3 597.7 255.9 600.4 252.9 601.2C249.9 602 241.1 602.7 238.2 601.2C235.3 599.7 235.7 594.9 235.3 592.2C234.9 589.5 235.4 586.7 235.7 584.8C236.1 582.9 237.1 581.4 237.4 580.7" fill="none"/>
<path d="M238.2 583.2C238.6 583.1 239.8 582.1 240.6 582.4C241.5 582.7 242.1 583.9 243.1 584.8C244.1 585.8 245.1 587 246.4 588.1C247.6 589.2 249.1 590.6 250.5 591.4C251.8 592.2 254 592.3 254.6 593C255.1 593.7 254.3 594.7 253.7 595.5C253.2 596.3 252 597 251.3 597.9C250.6 598.9 251.6 600.7 249.6 601.2C247.7 601.8 241.9 602.3 239.8 601.2C237.8 600.1 237.8 596.8 237.4 594.7C236.9 592.5 237 589.2 237 588.1Z" fill="#eb00dc" stroke="none"/>
<path d="M238.2 583.2C238.6 583.1 239.8 582.1 240.6 582.4C241.5 582.7 242.1 583.9 243.1 584.8C244.1 585.8 245.1 587 246.4 588.1C247.6 589.2 249.1 590.6 250.5 591.4C251.8 592.2 254 592.3 254.6 593C255.1 593.7 254.3 594.7 253.7 595.5C253.2 596.3 252 597 251.3 597.9C250.6 598.9 251.6 600.7 249.6 601.2C247.7 601.8 241.9 602.3 239.8 601.2C237.8 600.1 237.8 596.8 237.4 594.7C236.9 592.5 237 589.2 237 588.1" fill="none"/>
<path d="M239 587.3C239.4 587.2 240.6 586.2 241.5 586.5C242.3 586.7 243 588 243.9 588.9C244.9 589.9 246.2 591.3 247.2 592.2C248.1 593.2 249.4 593.8 249.6 594.7C249.9 595.5 249.4 596 248.8 597.1C248.3 598.2 247.5 600.5 246.4 601.2C245.3 601.9 243.4 602.2 242.3 601.2C241.2 600.3 240.4 597.1 239.8 595.5C239.2 593.8 238.8 592.1 238.6 591.4Z" fill="#d2d2d2" stroke="none"/>
<path d="M239 587.3C239.4 587.2 240.6 586.2 241.5 586.5C242.3 586.7 243 588 243.9 588.9C244.9 589.9 246.2 591.3 247.2 592.2C248.1 593.2 249.4 593.8 249.6 594.7C249.9 595.5 249.4 596 248.8 597.1C248.3 598.2 247.5 600.5 246.4 601.2C245.3 601.9 243.4 602.2 242.3 601.2C241.2 600.3 240.4 597.1 239.8 595.5C239.2 593.8 238.8 592.1 238.6 591.4" fill="none"/>
<path d="M241.5 591.4C241.6 590.6 243.1 591 243.9 591.4C244.7 591.8 245.8 593 246.4 593.8C247 594.7 247.7 595.7 247.6 596.3C247.5 596.9 246.3 597.5 245.6 597.5C244.8 597.5 243.8 597.3 243.1 596.3C242.4 595.3 241.3 592.2 241.5 591.4Z" fill="#6e6e6e"/>
<path d="M277.2 573.8C277.7 574.2 279.5 575.3 280.5 576.3C281.4 577.2 281.8 578.9 282.9 579.6C284 580.2 285.6 580.4 287 580.4C288.4 580.3 289.7 579.4 291.1 579.1C292.5 578.9 293.8 578.7 295.2 578.7C296.6 578.8 297.8 579.2 299.3 579.6C300.8 579.9 302.6 580.4 304.2 580.8C305.8 581.1 307.6 581.5 309.1 581.6C310.6 581.7 311.8 581.2 313.2 581.2C314.6 581.2 315.3 581.5 317.3 581.6C319.3 581.7 324.1 575.5 325.5 582C326.8 588.5 335 614.1 325.5 620.5C315.9 626.9 277.7 625.9 268.2 620.5C258.6 615 267.2 593.5 268.2 587.7C269.1 582 273 586.4 273.9 586.1Z" fill="#ffff00" stroke="none"/>
<path d="M277.2 573.8C277.7 574.2 279.5 575.3 280.5 576.3C281.4 577.2 281.8 578.9 282.9 579.6C284 580.2 285.6 580.4 287 580.4C288.4 580.3 289.7 579.4 291.1 579.1C292.5 578.9 293.8 578.7 295.2 578.7C296.6 578.8 297.8 579.2 299.3 579.6C300.8 579.9 302.6 580.4 304.2 580.8C305.8 581.1 307.6 581.5 309.1 581.6C310.6 581.7 311.8 581.2 313.2 581.2C314.6 581.2 315.3 581.5 317.3 581.6C319.3 581.7 324.1 575.5 325.5 582C326.8 588.5 335 614.1 325.5 620.5C315.9 626.9 277.7 625.9 268.2 620.5C258.6 615 267.2 593.5 268.2 587.7C269.1 582 273 586.4 273.9 586.1" fill="none"/>
<path d="M277.2 573.8C277.5 574.5 278.3 576.6 278.8 577.9C279.4 579.3 279.8 580.9 280.5 582C281.1 583.2 281.8 584.2 282.9 584.9C284 585.6 285.8 585.8 287 586.1C288.2 586.4 289.5 586.1 290.3 586.5C291.1 586.9 291.1 588.3 291.9 588.6C292.7 588.8 294.1 588.2 295.2 588.2C296.3 588.2 297.5 588.2 298.5 588.6C299.4 588.9 300.1 589.6 300.9 590.2C301.7 590.8 302.4 591.6 303.4 592.2C304.3 592.9 305.7 593.8 306.7 594.3C307.6 594.8 308.4 594.6 309.1 595.1C309.8 595.7 310.8 596.1 310.8 597.6C310.8 599.1 313.5 603 309.1 604.1C304.7 605.2 289 606 284.6 604.1C280.1 602.2 283.2 595.1 282.5 592.7C281.8 590.2 281.4 590.3 280.5 589.4C279.6 588.5 278.3 587.6 277.2 587.3C276.1 587.1 274.4 588.4 273.9 587.7C273.4 587.1 274.3 584.3 274.3 583.6Z" fill="#ffd728" stroke="none"/>
<path d="M277.2 573.8C277.5 574.5 278.3 576.6 278.8 577.9C279.4 579.3 279.8 580.9 280.5 582C281.1 583.2 281.8 584.2 282.9 584.9C284 585.6 285.8 585.8 287 586.1C288.2 586.4 289.5 586.1 290.3 586.5C291.1 586.9 291.1 588.3 291.9 588.6C292.7 588.8 294.1 588.2 295.2 588.2C296.3 588.2 297.5 588.2 298.5 588.6C299.4 588.9 300.1 589.6 300.9 590.2C301.7 590.8 302.4 591.6 303.4 592.2C304.3 592.9 305.7 593.8 306.7 594.3C307.6 594.8 308.4 594.6 309.1 595.1C309.8 595.7 310.8 596.1 310.8 597.6C310.8 599.1 313.5 603 309.1 604.1C304.7 605.2 289 606 284.6 604.1C280.1 602.2 283.2 595.1 282.5 592.7C281.8 590.2 281.4 590.3 280.5 589.4C279.6 588.5 278.3 587.6 277.2 587.3C276.1 587.1 274.4 588.4 273.9 587.7C273.4 587.1 274.3 584.3 274.3 583.6" fill="none"/>
<path d="M287.4 597.6C287.5 597 287.4 595.2 287.8 594.3C288.3 593.4 289.3 592.7 290.3 592.2C291.2 591.8 292.5 591.4 293.6 591.4C294.7 591.5 296 592 296.8 592.7C297.7 593.3 298.1 594.2 298.5 595.1C298.8 596.1 299 596.9 298.9 598.4C298.7 599.9 299.5 603.2 297.7 604.1C295.8 605.1 289.5 604.1 287.8 604.1Z" fill="#ffaa2d" stroke="none"/>
<path d="M287.4 597.6C287.5 597 287.4 595.2 287.8 594.3C288.3 593.4 289.3 592.7 290.3 592.2C291.2 591.8 292.5 591.4 293.6 591.4C294.7 591.5 296 592 296.8 592.7C297.7 593.3 298.1 594.2 298.5 595.1C298.8 596.1 299 596.9 298.9 598.4C298.7 599.9 299.5 603.2 297.7 604.1C295.8 605.1 289.5 604.1 287.8 604.1" fill="none"/>
<path d="M290.7 599.2C290.8 598.7 290.6 596.7 291.1 595.9C291.6 595.1 292.7 594.4 293.6 594.3C294.4 594.2 295.4 594.7 296 595.1C296.6 595.5 297.1 595.2 297.2 596.7C297.4 598.2 297.9 602.9 296.8 604.1C295.8 605.3 292.1 604.1 291.1 604.1Z" fill="#ff8700" stroke="none"/>
<path d="M290.7 599.2C290.8 598.7 290.6 596.7 291.1 595.9C291.6 595.1 292.7 594.4 293.6 594.3C294.4 594.2 295.4 594.7 296 595.1C296.6 595.5 297.1 595.2 297.2 596.7C297.4 598.2 297.9 602.9 296.8 604.1C295.8 605.3 292.1 604.1 291.1 604.1" fill="none"/>
<path d="M266.1 576.3C266.5 576.1 268 577.7 269 577.9C270 578.1 271.2 577.9 272.3 577.5C273.4 577.2 274.8 575.7 275.6 575.9C276.3 576.1 276.6 577.9 276.8 578.7C276.9 579.6 277.1 580.7 276.4 581.2C275.6 581.7 273.6 581.6 272.3 581.6C270.9 581.6 269.1 581.7 268.2 581.2C267.2 580.7 266.9 579.6 266.5 578.7C266.2 577.9 265.7 576.4 266.1 576.3Z" fill="#ffaa2d"/>
<path d="M300.9 552.5C301 553.8 301.1 557.9 301.3 559.9C301.5 562 301.7 563.4 302.2 564.8C302.6 566.3 303.3 567.6 304.2 568.5C305.1 569.4 306.1 569.7 307.5 570.1C308.8 570.6 310.8 571.1 312.4 571.4C314 571.6 315.1 571.7 317.3 571.8C319.5 571.8 324.1 575 325.5 571.8C326.8 568.6 325.5 555.8 325.5 552.5Z" fill="#00ff64" stroke="none"/>
<path d="M300.9 552.5C301 553.8 301.1 557.9 301.3 559.9C301.5 562 301.7 563.4 302.2 564.8C302.6 566.3 303.3 567.6 304.2 568.5C305.1 569.4 306.1 569.7 307.5 570.1C308.8 570.6 310.8 571.1 312.4 571.4C314 571.6 315.1 571.7 317.3 571.8C319.5 571.8 324.1 575 325.5 571.8C326.8 568.6 325.5 555.8 325.5 552.5" fill="none"/>
</g>
<clipPath id="tD13"><rect x="399" y="498" width="102" height="102"/></clipPath>
<g clip-path="url(#tD13)" stroke="#000" stroke-width="0.8" stroke-linejoin="round">
<rect x="398" y="497" width="104" height="104" fill="#ffff00" stroke="none"/>
<path d="M395.9 547.4C396.6 547.7 398.4 547.8 400 548.8C401.6 549.8 403.6 551.9 405.5 553.6C407.3 555.3 409.5 557.2 410.9 559C412.3 560.8 412.3 563.1 413.6 564.5C415 565.8 417.3 566.3 419.1 567.2C420.9 568.1 423 568.8 424.6 569.9C426.1 571.1 427.9 572.2 428.6 574C429.4 575.9 429.6 578.6 429.3 580.9C429.1 583.1 428.3 585.6 427.3 587.7C426.3 589.7 424.6 591.5 423.2 593.1C421.8 594.7 420.5 595.6 419.1 597.2C417.7 598.8 418.9 601.8 415 602.7C411.1 603.6 399.1 602.7 395.9 602.7Z" fill="#4bff00" stroke="none"/>
<path d="M395.9 547.4C396.6 547.7 398.4 547.8 400 548.8C401.6 549.8 403.6 551.9 405.5 553.6C407.3 555.3 409.5 557.2 410.9 559C412.3 560.8 412.3 563.1 413.6 564.5C415 565.8 417.3 566.3 419.1 567.2C420.9 568.1 423 568.8 424.6 569.9C426.1 571.1 427.9 572.2 428.6 574C429.4 575.9 429.6 578.6 429.3 580.9C429.1 583.1 428.3 585.6 427.3 587.7C426.3 589.7 424.6 591.5 423.2 593.1C421.8 594.7 420.5 595.6 419.1 597.2C417.7 598.8 418.9 601.8 415 602.7C411.1 603.6 399.1 602.7 395.9 602.7" fill="none"/>
<path d="M408.9 571.3C409.4 569.7 410.8 568.5 412.3 567.9C413.8 567.3 415.9 567.3 417.7 567.9C419.6 568.5 421.8 569.7 423.2 571.3C424.6 572.9 425.6 575.4 425.9 577.4C426.3 579.5 425.9 581.9 425.2 583.6C424.6 585.3 423.3 587 421.8 587.7C420.4 588.4 418.1 588.4 416.4 587.7C414.7 587 412.8 585.3 411.6 583.6C410.3 581.9 409.3 579.5 408.9 577.4C408.4 575.4 408.3 572.9 408.9 571.3Z" fill="#00ff64"/>
<path d="M410.9 572.7C411.1 571 412.5 570.4 413.6 569.9C414.8 569.5 416.4 569.4 417.7 569.9C419.1 570.5 420.8 572 421.8 573.4C422.9 574.7 423.8 576.4 423.9 578.1C424 579.8 423.3 582.3 422.5 583.6C421.7 584.8 420.4 585.5 419.1 585.6C417.8 585.7 416.1 585.2 415 584.3C413.9 583.4 413 582.1 412.3 580.2C411.6 578.2 410.7 574.4 410.9 572.7Z" fill="#00ffc8"/>
<path d="M413.6 575.4C414 574.3 415.3 573.5 416.4 573.4C417.4 573.2 418.9 573.8 419.8 574.7C420.7 575.6 421.7 577.5 421.8 578.8C421.9 580.1 421.3 581.8 420.5 582.5C419.7 583.2 418.1 583.3 417.1 582.9C416 582.5 414.9 581.4 414.3 580.2C413.8 578.9 413.3 576.5 413.6 575.4Z" fill="#00ffff"/>
<path d="M395.9 541.3C396.6 541.9 398.2 543.3 400 544.7C401.8 546.1 404.8 547.5 406.8 549.5C408.9 551.4 410.9 554.3 412.3 556.3C413.6 558.3 413.6 560.2 415 561.8C416.4 563.3 418.4 564.7 420.5 565.8C422.5 567 425.2 567.7 427.3 568.6C429.3 569.5 431.6 569.7 432.7 571.3C433.9 572.9 433.7 575.6 434.1 578.1C434.6 580.6 434.8 583.6 435.5 586.3C436.2 589 437.1 592.8 438.2 594.5C439.3 596.2 441.2 597 442.3 596.5C443.4 596.1 444.6 593.9 445 591.8C445.5 589.6 444.6 585.6 445 583.6C445.5 581.5 446.2 580.6 447.7 579.5C449.3 578.4 453 577.9 454.6 576.8C456.2 575.6 457.1 574 457.3 572.7C457.5 571.3 456.8 569.6 455.9 568.6C455 567.6 453.7 566.9 451.8 566.5C450 566.2 446.4 567.1 445 566.5C443.7 566 443.8 564.8 443.7 563.1C443.5 561.4 444.1 558.6 444.3 556.3C444.6 554 445.1 551.5 445 549.5C444.9 547.4 444.3 545.6 443.7 544C443 542.4 442.3 541.5 440.9 539.9C439.6 538.3 437.7 536.7 435.5 534.5C433.2 532.2 430.9 529.9 427.3 526.3C423.6 522.6 418.9 515.8 413.6 512.6C408.4 509.5 398.9 508.1 395.9 507.2Z" fill="#ffd728" stroke="none"/>
<path d="M395.9 541.3C396.6 541.9 398.2 543.3 400 544.7C401.8 546.1 404.8 547.5 406.8 549.5C408.9 551.4 410.9 554.3 412.3 556.3C413.6 558.3 413.6 560.2 415 561.8C416.4 563.3 418.4 564.7 420.5 565.8C422.5 567 425.2 567.7 427.3 568.6C429.3 569.5 431.6 569.7 432.7 571.3C433.9 572.9 433.7 575.6 434.1 578.1C434.6 580.6 434.8 583.6 435.5 586.3C436.2 589 437.1 592.8 438.2 594.5C439.3 596.2 441.2 597 442.3 596.5C443.4 596.1 444.6 593.9 445 591.8C445.5 589.6 444.6 585.6 445 583.6C445.5 581.5 446.2 580.6 447.7 579.5C449.3 578.4 453 577.9 454.6 576.8C456.2 575.6 457.1 574 457.3 572.7C457.5 571.3 456.8 569.6 455.9 568.6C455 567.6 453.7 566.9 451.8 566.5C450 566.2 446.4 567.1 445 566.5C443.7 566 443.8 564.8 443.7 563.1C443.5 561.4 444.1 558.6 444.3 556.3C444.6 554 445.1 551.5 445 549.5C444.9 547.4 444.3 545.6 443.7 544C443 542.4 442.3 541.5 440.9 539.9C439.6 538.3 437.7 536.7 435.5 534.5C433.2 532.2 430.9 529.9 427.3 526.3C423.6 522.6 418.9 515.8 413.6 512.6C408.4 509.5 398.9 508.1 395.9 507.2" fill="none"/>
<path d="M436.8 567.9C436.7 566.9 437.4 565.7 438.2 565.2C439 564.6 440.7 564.4 441.6 564.8C442.5 565.1 443.3 566.2 443.4 567.2C443.5 568.2 442.8 569.9 442 570.6C441.3 571.3 439.7 571.8 438.9 571.3C438 570.9 436.9 568.9 436.8 567.9Z" fill="#ffff00"/>
<path d="M395.9 540.6C396.6 541 398 541.6 400 542.7C402 543.7 405.9 545.4 408.2 546.7C410.5 548.1 412.1 549.5 413.6 550.8C415.2 552.2 416.6 553.3 417.7 554.9C418.9 556.5 419.3 558.8 420.5 560.4C421.6 562 423 563.8 424.6 564.5C426.1 565.2 428.6 565.2 430 564.5C431.4 563.8 432.5 562 432.7 560.4C433 558.8 430.9 556.1 431.4 554.9C431.8 553.8 434.1 554.3 435.5 553.6C436.8 552.9 438.4 552.2 439.6 550.8C440.7 549.5 442.1 547.2 442.3 545.4C442.5 543.6 442.1 541.7 440.9 539.9C439.8 538.1 437.7 536.7 435.5 534.5C433.2 532.2 430.9 529.9 427.3 526.3C423.6 522.6 418.9 515.8 413.6 512.6C408.4 509.5 398.9 508.1 395.9 507.2Z" fill="#ffaa2d" stroke="none"/>
<path d="M395.9 540.6C396.6 541 398 541.6 400 542.7C402 543.7 405.9 545.4 408.2 546.7C410.5 548.1 412.1 549.5 413.6 550.8C415.2 552.2 416.6 553.3 417.7 554.9C418.9 556.5 419.3 558.8 420.5 560.4C421.6 562 423 563.8 424.6 564.5C426.1 565.2 428.6 565.2 430 564.5C431.4 563.8 432.5 562 432.7 560.4C433 558.8 430.9 556.1 431.4 554.9C431.8 553.8 434.1 554.3 435.5 553.6C436.8 552.9 438.4 552.2 439.6 550.8C440.7 549.5 442.1 547.2 442.3 545.4C442.5 543.6 442.1 541.7 440.9 539.9C439.8 538.1 437.7 536.7 435.5 534.5C433.2 532.2 430.9 529.9 427.3 526.3C423.6 522.6 418.9 515.8 413.6 512.6C408.4 509.5 398.9 508.1 395.9 507.2" fill="none"/>
<path d="M395.9 538.6C396.6 538.8 398 539.4 400 539.9C402 540.5 405.9 541 408.2 542C410.5 543 411.9 545.6 413.6 546.1C415.3 546.5 417.1 544.1 418.4 544.7C419.8 545.3 421 548 421.8 549.5C422.6 551 423.2 552 423.2 553.6C423.2 555.2 421.6 557.5 421.8 559C422.1 560.6 423.3 562.1 424.6 562.8C425.8 563.6 428.2 563.8 429.3 563.4C430.4 563 431 561.6 431.1 560.4C431.2 559.2 429.7 557.4 430 556.3C430.3 555.2 431.6 553.8 432.7 553.6C433.9 553.3 435.6 555.2 436.8 554.9C438.1 554.7 439.4 553.6 440.2 552.2C441.1 550.8 442.1 548.3 442 546.7C441.9 545.2 440.9 544 439.6 542.7C438.2 541.3 436.2 539.5 434.1 538.6C432.1 537.7 429.1 538.1 427.3 537.2C425.5 536.3 424.3 534.9 423.2 533.1C422.1 531.3 422.1 528.3 420.5 526.3C418.9 524.2 415.7 522.6 413.6 520.8C411.6 519 411.1 517.6 408.2 515.4C405.2 513.1 398 508.5 395.9 507.2Z" fill="#ff961e" stroke="none"/>
<path d="M395.9 538.6C396.6 538.8 398 539.4 400 539.9C402 540.5 405.9 541 408.2 542C410.5 543 411.9 545.6 413.6 546.1C415.3 546.5 417.1 544.1 418.4 544.7C419.8 545.3 421 548 421.8 549.5C422.6 551 423.2 552 423.2 553.6C423.2 555.2 421.6 557.5 421.8 559C422.1 560.6 423.3 562.1 424.6 562.8C425.8 563.6 428.2 563.8 429.3 563.4C430.4 563 431 561.6 431.1 560.4C431.2 559.2 429.7 557.4 430 556.3C430.3 555.2 431.6 553.8 432.7 553.6C433.9 553.3 435.6 555.2 436.8 554.9C438.1 554.7 439.4 553.6 440.2 552.2C441.1 550.8 442.1 548.3 442 546.7C441.9 545.2 440.9 544 439.6 542.7C438.2 541.3 436.2 539.5 434.1 538.6C432.1 537.7 429.1 538.1 427.3 537.2C425.5 536.3 424.3 534.9 423.2 533.1C422.1 531.3 422.1 528.3 420.5 526.3C418.9 524.2 415.7 522.6 413.6 520.8C411.6 519 411.1 517.6 408.2 515.4C405.2 513.1 398 508.5 395.9 507.2" fill="none"/>
<path d="M470.9 573.4C470.3 573.7 468.2 574.4 466.8 575.4C465.5 576.4 464.1 578.1 462.8 579.5C461.4 580.9 460.3 582.2 458.7 583.6C457.1 584.9 454.8 586.1 453.2 587.7C451.6 589.3 449.7 590.6 449.1 593.1C448.5 595.6 445.2 601.1 449.8 602.7C454.3 604.3 472 602.7 476.4 602.7Z" fill="#4bff00" stroke="none"/>
<path d="M470.9 573.4C470.3 573.7 468.2 574.4 466.8 575.4C465.5 576.4 464.1 578.1 462.8 579.5C461.4 580.9 460.3 582.2 458.7 583.6C457.1 584.9 454.8 586.1 453.2 587.7C451.6 589.3 449.7 590.6 449.1 593.1C448.5 595.6 445.2 601.1 449.8 602.7C454.3 604.3 472 602.7 476.4 602.7" fill="none"/>
<path d="M470.9 584.9C470.3 585.2 468.4 585.6 466.8 586.3C465.3 587 463.2 588.1 461.4 589C459.6 590 457.6 590.9 455.9 591.8C454.2 592.7 451.8 593.6 451.2 594.5C450.5 595.4 450.6 596.9 451.8 597.2C453.1 597.6 456.2 597 458.7 596.5C461.2 596.1 464.8 594.8 466.8 594.5C468.9 594.2 470.3 594.5 470.9 594.5Z" fill="#00ff64" stroke="none"/>
<path d="M470.9 584.9C470.3 585.2 468.4 585.6 466.8 586.3C465.3 587 463.2 588.1 461.4 589C459.6 590 457.6 590.9 455.9 591.8C454.2 592.7 451.8 593.6 451.2 594.5C450.5 595.4 450.6 596.9 451.8 597.2C453.1 597.6 456.2 597 458.7 596.5C461.2 596.1 464.8 594.8 466.8 594.5C468.9 594.2 470.3 594.5 470.9 594.5" fill="none"/>
<path d="M395.9 575.4C396.6 575.6 398.4 576.1 400 576.8C401.6 577.4 403.9 578.4 405.5 579.5C407 580.6 408.4 582 409.5 583.6C410.7 585.2 411.6 587.2 412.3 589C413 590.9 413.3 592.2 413.6 594.5C414 596.8 417.3 601.3 414.3 602.7C411.4 604 399 602.7 395.9 602.7Z" fill="#ffff00" stroke="none"/>
<path d="M395.9 575.4C396.6 575.6 398.4 576.1 400 576.8C401.6 577.4 403.9 578.4 405.5 579.5C407 580.6 408.4 582 409.5 583.6C410.7 585.2 411.6 587.2 412.3 589C413 590.9 413.3 592.2 413.6 594.5C414 596.8 417.3 601.3 414.3 602.7C411.4 604 399 602.7 395.9 602.7" fill="none"/>
<path d="M395.9 578.8C396.6 579 398.6 579.3 400 579.8C401.4 580.2 402.8 580.8 404.1 581.5C405.3 582.3 406.6 583.1 407.5 584.3C408.4 585.4 409.9 587.6 409.5 588.4C409.2 589.2 407 589.2 405.5 589C403.9 588.9 401.6 587.9 400 587.7C398.4 587.4 396.6 587.7 395.9 587.7Z" fill="#ffaa2d" stroke="none"/>
<path d="M395.9 578.8C396.6 579 398.6 579.3 400 579.8C401.4 580.2 402.8 580.8 404.1 581.5C405.3 582.3 406.6 583.1 407.5 584.3C408.4 585.4 409.9 587.6 409.5 588.4C409.2 589.2 407 589.2 405.5 589C403.9 588.9 401.6 587.9 400 587.7C398.4 587.4 396.6 587.7 395.9 587.7" fill="none"/>
<path d="M395.9 580.9C396.6 581 398.7 581.2 400 581.5C401.3 581.9 402.4 582.2 403.4 582.9C404.4 583.6 406 584.8 406.1 585.6C406.3 586.4 405.1 587.6 404.1 587.7C403.1 587.8 401.4 586.5 400 586.3C398.6 586.1 396.6 586.3 395.9 586.3Z" fill="#ff8700" stroke="none"/>
<path d="M395.9 580.9C396.6 581 398.7 581.2 400 581.5C401.3 581.9 402.4 582.2 403.4 582.9C404.4 583.6 406 584.8 406.1 585.6C406.3 586.4 405.1 587.6 404.1 587.7C403.1 587.8 401.4 586.5 400 586.3C398.6 586.1 396.6 586.3 395.9 586.3" fill="none"/>
<path d="M397 538.5C396.7 537.5 397.3 536.2 397.8 534.4C398.4 532.6 399.5 529.9 400.3 527.8C401.1 525.8 401.9 523.6 402.7 522.1C403.6 520.6 404.1 519.4 405.2 518.8C406.3 518.2 407.8 518 409.3 518.4C410.8 518.8 412.8 520.1 414.2 521.3C415.6 522.4 416.7 523.9 417.5 525.4C418.3 526.9 418.7 528.6 419.1 530.3C419.5 531.9 419.7 533.6 419.9 535.2C420.2 536.8 420.9 538.6 420.8 540.1C420.6 541.6 419.9 543.3 419.1 544.2C418.3 545.1 416.9 545.6 415.8 545.4C414.7 545.3 413.4 544.3 412.6 543.4C411.7 542.5 411.9 540.8 410.9 540.1C410 539.4 408.2 539.3 406.8 539.3C405.5 539.3 404 540 402.7 540.1C401.5 540.2 400.4 540.4 399.5 540.1C398.5 539.8 397.3 539.4 397 538.5Z" fill="#ff961e"/>
<path d="M397.4 538.1C397.2 537.2 397.7 536 398.2 534.4C398.8 532.7 399.8 530.2 400.6 528.2C401.4 526.3 402.2 524.2 403 522.8C403.8 521.3 404.3 520.2 405.4 519.6C406.4 519.1 407.7 518.9 409.1 519.2C410.5 519.6 412.5 520.8 413.8 521.9C415.1 523 416.1 524.4 416.8 525.8C417.6 527.2 417.9 528.7 418.3 530.3C418.7 531.9 418.9 533.6 419.1 535.2C419.4 536.8 419.9 538.6 419.8 539.9C419.7 541.3 419.1 542.6 418.5 543.4C417.8 544.1 416.9 544.6 416 544.4C415.1 544.3 414 543.6 413.2 542.7C412.5 541.9 412.5 540.2 411.4 539.5C410.4 538.7 408.4 538.5 407 538.5C405.6 538.4 404.1 539.1 402.9 539.3C401.7 539.5 400.5 539.7 399.6 539.5C398.7 539.2 397.7 538.9 397.4 538.1Z" fill="#ff8700"/>
<path d="M397.8 536C398 534.9 398.8 532.9 399.5 531.1C400.2 529.3 401 526.9 401.9 525.4C402.9 523.9 404 522.7 405.2 522.1C406.4 521.5 407.9 521.3 409.3 521.7C410.7 522.1 412.4 523.4 413.4 524.6C414.3 525.7 415 527.3 415 528.6C415 530 414.2 531.7 413.4 532.7C412.6 533.8 411.3 534.6 410.1 535.2C408.9 535.8 407.4 536.2 406 536.4C404.7 536.7 403.2 536.6 401.9 536.8C400.7 537.1 399.3 538.2 398.6 538.1C398 537.9 397.7 537.2 397.8 536Z" fill="#ff1e00"/>
<path d="M402.7 528.6C403.2 527.4 404.8 525.9 406 525.4C407.2 524.8 409 524.8 410.1 525.4C411.2 525.9 412.4 527.5 412.6 528.6C412.7 529.8 411.9 531.4 410.9 532.3C410 533.2 408.1 533.9 406.8 534C405.6 534 404.2 533.6 403.6 532.7C402.9 531.9 402.3 529.9 402.7 528.6Z" fill="#e10000"/>
<path d="M405.2 529.1C405.4 528.4 406.5 527.6 407.2 527.4C408 527.3 409.2 527.8 409.7 528.2C410.2 528.7 410.4 529.7 410.1 530.3C409.8 530.9 408.7 531.7 408.1 531.9C407.4 532.1 406.5 532 406 531.5C405.5 531 405 529.7 405.2 529.1Z" fill="#ff1e00"/>
<path d="M397 510.6C397.6 511.3 399.7 513 400.7 514.3C401.7 515.7 402.5 517.3 402.7 518.8C403 520.4 402.7 522.2 402.3 523.7C401.9 525.3 401 526.7 400.3 528.2C399.6 529.8 398.6 532.3 398.2 533.2" fill="none"/>
<path d="M394.6 508.6C395.2 508.9 397.4 509.4 398.6 510.2C399.9 511.1 401.4 512.1 402.3 513.5C403.3 514.9 404.1 516.8 404.4 518.4C404.7 520.1 404.6 521.8 404.2 523.3C403.9 524.9 402.6 527.1 402.3 527.8" fill="none"/>
<path d="M388.8 509.8C388.6 510.2 387.5 511.2 387.6 512.3C387.7 513.4 388.6 515.1 389.2 516.4C389.9 517.7 391.1 518.7 391.7 520.1C392.2 521.4 392.6 523.1 392.5 524.6C392.4 526 391.8 527.3 391.3 528.6C390.7 530 389.7 531.4 389.2 532.7C388.8 534.1 388.6 536.2 388.4 536.8" fill="none"/>
</g>
<clipPath id="tD21"><rect x="199" y="598" width="102" height="102"/></clipPath>
<g clip-path="url(#tD21)" stroke="#000" stroke-width="0.8" stroke-linejoin="round">
<rect x="198" y="597" width="104" height="104" fill="#0000ff" stroke="none"/>
<path d="M216.4 609.9C218 608.7 227.1 607.2 229.3 607.9C231.6 608.5 230.1 611.8 230 614C229.9 616.2 229.6 618.3 228.6 620.8C227.7 623.3 225.9 626.3 224.6 629C223.2 631.7 221.6 634.5 220.5 637.2C219.3 639.9 218.6 642.7 217.7 645.4C216.8 648.1 215.9 650.8 215 653.6C214.1 656.3 213.3 658.8 212.3 661.8C211.3 664.7 210.5 669 208.9 671.3C207.3 673.6 204.7 675.6 202.7 675.4C200.8 675.2 197.3 675.2 197.3 669.9C197.3 664.7 200.9 649.5 202.7 644C204.5 638.6 206.6 639.5 208.2 637.2C209.8 634.9 210.9 632.9 212.3 630.4C213.6 627.9 215.1 624.7 216.4 622.2C217.6 619.7 219.8 617.4 219.8 615.4C219.8 613.3 214.8 611.2 216.4 609.9Z" fill="#9100dc"/>
<path d="M240.9 594.9C240.9 597 241.2 604.2 240.9 607.2C240.7 610.1 239.3 610.6 239.6 612.6C239.8 614.7 242.3 617.2 242.3 619.5C242.3 621.7 240.9 624.2 239.6 626.3C238.2 628.3 235.8 629.7 234.1 631.7C232.4 633.8 230.6 636.3 229.3 638.6C228.1 640.8 227.3 642.9 226.6 645.4C225.9 647.9 225.6 651.1 225.2 653.6C224.9 656.1 224.6 658.1 224.6 660.4C224.6 662.7 225.2 665.2 225.2 667.2C225.2 669.3 225.4 671.1 224.6 672.7C223.8 674.3 221.3 675.2 220.5 676.8C219.7 678.4 219.3 680.9 219.8 682.2C220.2 683.6 221.9 684.3 223.2 684.9C224.4 685.6 225.8 684.9 227.3 686.3C228.8 687.7 230.4 691.1 232.1 693.1C233.7 695.2 235.8 696.9 237.2 698.5C238.7 700 229.9 702 240.9 702.7C252 703.4 293.2 720.6 303.7 702.7C314.1 684.7 303.7 612.9 303.7 594.9Z" fill="#0082ff" stroke="none"/>
<path d="M240.9 594.9C240.9 597 241.2 604.2 240.9 607.2C240.7 610.1 239.3 610.6 239.6 612.6C239.8 614.7 242.3 617.2 242.3 619.5C242.3 621.7 240.9 624.2 239.6 626.3C238.2 628.3 235.8 629.7 234.1 631.7C232.4 633.8 230.6 636.3 229.3 638.6C228.1 640.8 227.3 642.9 226.6 645.4C225.9 647.9 225.6 651.1 225.2 653.6C224.9 656.1 224.6 658.1 224.6 660.4C224.6 662.7 225.2 665.2 225.2 667.2C225.2 669.3 225.4 671.1 224.6 672.7C223.8 674.3 221.3 675.2 220.5 676.8C219.7 678.4 219.3 680.9 219.8 682.2C220.2 683.6 221.9 684.3 223.2 684.9C224.4 685.6 225.8 684.9 227.3 686.3C228.8 687.7 230.4 691.1 232.1 693.1C233.7 695.2 235.8 696.9 237.2 698.5C238.7 700 229.9 702 240.9 702.7C252 703.4 293.2 720.6 303.7 702.7C314.1 684.7 303.7 612.9 303.7 594.9" fill="none"/>
<path d="M217.1 693.1C217.6 691.7 219.1 689.4 220.5 688.4C221.8 687.3 224.1 686.7 225.2 687C226.4 687.3 227.2 688.9 227.3 690.4C227.4 691.9 227.1 694.4 225.9 695.9C224.8 697.3 221.9 699 220.5 699.3C219 699.5 217.6 698.2 217.1 697.2C216.5 696.2 216.5 694.6 217.1 693.1Z" fill="#0082ff"/>
<path d="M245 594.9C245 596.8 243.9 603.8 245 606.5C246.2 609.2 249.8 609.8 251.8 611.3C253.9 612.8 256 614.2 257.3 615.4C258.5 616.5 259.8 617.2 259.3 618.1C258.9 619 256 619.7 254.6 620.8C253.1 622 252.1 623.3 250.5 624.9C248.9 626.5 246.8 628.7 245 630.4C243.2 632.1 241.4 633.6 239.6 635.2C237.7 636.7 235.4 638.2 234.1 639.9C232.9 641.6 232.5 643.6 232.1 645.4C231.6 647.2 231 649 231.4 650.8C231.7 652.7 232.7 654.5 234.1 656.3C235.5 658.1 238.1 660.2 239.6 661.8C241 663.3 243 664.7 243 665.8C243 667 240.6 667.4 239.6 668.6C238.5 669.7 237.4 671.1 236.8 672.7C236.3 674.3 235.9 676.1 236.2 678.1C236.4 680.2 237.6 682.7 238.2 684.9C238.8 687.2 238.9 690 239.6 691.8C240.2 693.6 241.4 694.7 242.3 695.9C243.2 697 244 697.7 244.9 698.9C245.8 700 237.9 702 247.7 702.7C257.5 703.3 294.4 720.6 303.7 702.7C313 684.7 303.7 612.9 303.7 594.9Z" fill="#00beff" stroke="none"/>
<path d="M245 594.9C245 596.8 243.9 603.8 245 606.5C246.2 609.2 249.8 609.8 251.8 611.3C253.9 612.8 256 614.2 257.3 615.4C258.5 616.5 259.8 617.2 259.3 618.1C258.9 619 256 619.7 254.6 620.8C253.1 622 252.1 623.3 250.5 624.9C248.9 626.5 246.8 628.7 245 630.4C243.2 632.1 241.4 633.6 239.6 635.2C237.7 636.7 235.4 638.2 234.1 639.9C232.9 641.6 232.5 643.6 232.1 645.4C231.6 647.2 231 649 231.4 650.8C231.7 652.7 232.7 654.5 234.1 656.3C235.5 658.1 238.1 660.2 239.6 661.8C241 663.3 243 664.7 243 665.8C243 667 240.6 667.4 239.6 668.6C238.5 669.7 237.4 671.1 236.8 672.7C236.3 674.3 235.9 676.1 236.2 678.1C236.4 680.2 237.6 682.7 238.2 684.9C238.8 687.2 238.9 690 239.6 691.8C240.2 693.6 241.4 694.7 242.3 695.9C243.2 697 244 697.7 244.9 698.9C245.8 700 237.9 702 247.7 702.7C257.5 703.3 294.4 720.6 303.7 702.7C313 684.7 303.7 612.9 303.7 594.9" fill="none"/>
<path d="M254.6 594.9C254.6 596 253.9 599.7 254.6 601.7C255.3 603.8 257.1 604.9 258.7 607.2C260.3 609.5 262.5 612.4 264.1 615.4C265.7 618.3 266.8 622 268.2 624.9C269.6 627.9 271.3 630.4 272.3 633.1C273.3 635.8 274.1 638.6 274.4 641.3C274.6 644 274 646.7 273.7 649.5C273.3 652.2 272.2 654.9 272.3 657.7C272.4 660.4 273.9 663.1 274.4 665.8C274.8 668.6 275.1 671.5 275 674C274.9 676.5 274.8 678.8 273.7 680.9C272.5 682.9 269.7 684.2 268.2 686.3C266.8 688.4 266.4 692 264.9 693.7C263.4 695.4 260.8 695.9 259.2 696.5C257.6 697.2 256.3 696.5 255.4 697.5C254.5 698.5 245.8 701.8 253.9 702.7C261.9 703.5 295.4 720.6 303.7 702.7C312 684.7 303.7 612.9 303.7 594.9Z" fill="#1ee1ff" stroke="none"/>
<path d="M254.6 594.9C254.6 596 253.9 599.7 254.6 601.7C255.3 603.8 257.1 604.9 258.7 607.2C260.3 609.5 262.5 612.4 264.1 615.4C265.7 618.3 266.8 622 268.2 624.9C269.6 627.9 271.3 630.4 272.3 633.1C273.3 635.8 274.1 638.6 274.4 641.3C274.6 644 274 646.7 273.7 649.5C273.3 652.2 272.2 654.9 272.3 657.7C272.4 660.4 273.9 663.1 274.4 665.8C274.8 668.6 275.1 671.5 275 674C274.9 676.5 274.8 678.8 273.7 680.9C272.5 682.9 269.7 684.2 268.2 686.3C266.8 688.4 266.4 692 264.9 693.7C263.4 695.4 260.8 695.9 259.2 696.5C257.6 697.2 256.3 696.5 255.4 697.5C254.5 698.5 245.8 701.8 253.9 702.7C261.9 703.5 295.4 720.6 303.7 702.7C312 684.7 303.7 612.9 303.7 594.9" fill="none"/>
<path d="M276.4 653.6C276.9 655.2 278.2 660.2 279.1 663.1C280 666.1 280.5 669 281.9 671.3C283.2 673.6 285 675.4 287.3 676.8C289.6 678.1 292.8 678.8 295.5 679.5C298.2 680.2 302.3 687.4 303.7 680.9C305 674.3 303.7 646.7 303.7 639.9Z" fill="#00ffff" stroke="none"/>
<path d="M276.4 653.6C276.9 655.2 278.2 660.2 279.1 663.1C280 666.1 280.5 669 281.9 671.3C283.2 673.6 285 675.4 287.3 676.8C289.6 678.1 292.8 678.8 295.5 679.5C298.2 680.2 302.3 687.4 303.7 680.9C305 674.3 303.7 646.7 303.7 639.9" fill="none"/>
<path d="M264.1 702.7C265.3 701.1 268.7 695.3 270.9 693.1C273.2 691 275.5 690.3 277.8 689.7C280 689.2 282.1 689.4 284.6 689.7C287.1 690.1 290.5 691 292.8 691.8C295 692.6 296.9 692.7 298.2 694.5C299.6 696.3 300.5 701.3 301 702.7Z" fill="#00ffff" stroke="none"/>
<path d="M264.1 702.7C265.3 701.1 268.7 695.3 270.9 693.1C273.2 691 275.5 690.3 277.8 689.7C280 689.2 282.1 689.4 284.6 689.7C287.1 690.1 290.5 691 292.8 691.8C295 692.6 296.9 692.7 298.2 694.5C299.6 696.3 300.5 701.3 301 702.7" fill="none"/>
<path d="M263.4 637.2C263.4 636.4 263.9 635.4 264.4 635C264.9 634.6 266 634.4 266.6 634.7C267.1 635.1 267.6 636.4 267.7 637.2C267.7 638 267.4 639.2 266.8 639.7C266.3 640.1 265 640.3 264.4 639.9C263.8 639.5 263.4 638 263.4 637.2Z" fill="#0082ff"/>
<path d="M258.7 680.9C259 679.7 259.8 678.2 260.7 677.9C261.6 677.5 263.2 678 264.1 678.8C265 679.7 266.1 681.7 266.2 682.9C266.3 684.2 265.6 685.6 264.8 686.3C264 687 262.4 687.2 261.4 687C260.4 686.8 259.1 686 258.7 684.9C258.2 683.9 258.3 682 258.7 680.9Z" fill="#0082ff"/>
<path d="M262.8 665.6C262.8 665.3 263.9 664.7 264.4 664.8C264.8 664.8 265.5 665.5 265.5 665.8C265.4 666.2 264.6 666.7 264.1 666.7C263.7 666.6 262.7 665.9 262.8 665.6Z" fill="#0000ff"/>
<path d="M240.9 596.3C241.4 597.1 242.5 600 243.7 601C244.8 602.1 246.4 602.5 247.7 602.4C249.1 602.3 251 601.4 251.8 600.4C252.6 599.3 252.4 597 252.5 596.3Z" fill="#9100dc" stroke="none"/>
<path d="M240.9 596.3C241.4 597.1 242.5 600 243.7 601C244.8 602.1 246.4 602.5 247.7 602.4C249.1 602.3 251 601.4 251.8 600.4C252.6 599.3 252.4 597 252.5 596.3" fill="none"/>
</g>
<clipPath id="tD23"><rect x="399" y="598" width="102" height="102"/></clipPath>
<g clip-path="url(#tD23)" stroke="#000" stroke-width="0.8" stroke-linejoin="round">
<rect x="398" y="597" width="104" height="104" fill="#00ffff" stroke="none"/>
<path d="M395.9 594.9C413.9 585.1 485.7 585.1 503.7 594.9C521.6 604.7 507.3 644 503.7 653.6C500 663.1 487.3 652.7 481.9 652.2C476.4 651.8 473.9 652 470.9 650.8C468 649.7 465.7 647.4 464.1 645.4C462.5 643.3 462.3 640.6 461.4 638.6C460.5 636.5 459.8 634.2 458.7 633.1C457.5 632 456.8 632.1 454.6 631.7C452.3 631.4 448.2 631.1 445 631.1C441.8 631.1 438 631.3 435.5 631.7C433 632.2 431.4 632.9 430 633.8C428.6 634.7 428 635.7 427.3 637.2C426.6 638.7 425.9 640.4 425.9 642.7C425.9 644.9 427.7 649 427.3 650.8C426.8 652.7 428.4 653.1 423.2 653.6C418 654 400.5 663.3 395.9 653.6C391.4 643.8 377.9 604.7 395.9 594.9Z" fill="#4bff00" stroke="none"/>
<path d="M395.9 594.9C409.3 594.9 464.3 593.8 476.4 594.9C488.4 596 470.7 599.7 468.2 601.7C465.7 603.8 463.2 605.6 461.4 607.2C459.6 608.8 458.9 610.8 457.3 611.3C455.7 611.7 453.9 610.4 451.8 609.9C449.8 609.5 447.1 608.5 445 608.5C443 608.5 441.2 609 439.6 609.9C438 610.8 436.4 612.4 435.5 614C434.6 615.6 434.6 617.6 434.1 619.5C433.7 621.3 433.3 623.2 432.7 624.9C432.2 626.6 431.8 629 430.7 629.7C429.6 630.4 427.4 629.7 425.9 629C424.4 628.3 423.4 628.3 421.8 625.6C420.2 622.9 418 616.2 416.4 612.6C414.8 609.1 415.7 605.8 412.3 604.5C408.9 603.1 398.6 604.5 395.9 604.5Z" fill="#ffff00" stroke="none"/>
<path d="M395.9 594.9C409.3 594.9 464.3 593.8 476.4 594.9C488.4 596 470.7 599.7 468.2 601.7C465.7 603.8 463.2 605.6 461.4 607.2C459.6 608.8 458.9 610.8 457.3 611.3C455.7 611.7 453.9 610.4 451.8 609.9C449.8 609.5 447.1 608.5 445 608.5C443 608.5 441.2 609 439.6 609.9C438 610.8 436.4 612.4 435.5 614C434.6 615.6 434.6 617.6 434.1 619.5C433.7 621.3 433.3 623.2 432.7 624.9C432.2 626.6 431.8 629 430.7 629.7C429.6 630.4 427.4 629.7 425.9 629C424.4 628.3 423.4 628.3 421.8 625.6C420.2 622.9 418 616.2 416.4 612.6C414.8 609.1 415.7 605.8 412.3 604.5C408.9 603.1 398.6 604.5 395.9 604.5" fill="none"/>
<path d="M413.6 604.5C414 603.1 416.1 601.3 417.7 600.4C419.3 599.5 421.7 598.5 423.2 599C424.7 599.5 426.3 601.6 426.6 603.1C426.9 604.6 426.3 606.7 425.2 607.9C424.2 609 422.1 609.8 420.5 609.9C418.9 610 416.8 609.5 415.7 608.5C414.6 607.6 413.3 605.8 413.6 604.5Z" fill="#4bff00"/>
<path d="M446.4 596.3C446.6 597.1 446.7 600 447.7 601C448.8 602.1 451 602.6 452.5 602.4C454 602.2 455.7 600.7 456.6 599.7C457.5 598.7 457.8 596.8 458 596.3Z" fill="#4bff00" stroke="none"/>
<path d="M446.4 596.3C446.6 597.1 446.7 600 447.7 601C448.8 602.1 451 602.6 452.5 602.4C454 602.2 455.7 600.7 456.6 599.7C457.5 598.7 457.8 596.8 458 596.3" fill="none"/>
<path d="M419.1 614C419.9 612.9 422.9 613.1 424.6 612.6C426.3 612.2 428.1 611.1 429.3 611.3C430.6 611.5 431.8 612.6 432.1 614C432.3 615.4 430.6 617.6 430.7 619.5C430.8 621.3 432.7 623.2 432.7 624.9C432.7 626.6 431.8 629 430.7 629.7C429.6 630.4 427.4 629.7 425.9 629C424.4 628.3 422.9 627.2 421.8 625.6C420.8 624 420.2 621.4 419.8 619.5C419.3 617.5 418.3 615.1 419.1 614Z" fill="#ffd728"/>
<path d="M421.1 619.5C421.5 618.3 424 618.4 425.2 618.8C426.5 619.1 428 620.3 428.6 621.5C429.3 622.8 429.7 625.2 429.3 626.3C429 627.4 427.6 628 426.6 627.9C425.6 627.8 424.1 627 423.2 625.6C422.3 624.2 420.8 620.6 421.1 619.5Z" fill="#ffaa2d"/>
<path d="M454.6 604.5C455 603.4 457.5 601.8 458.7 601.7C459.8 601.6 461.3 602.9 461.4 603.8C461.5 604.7 460.3 606.5 459.3 607.2C458.4 607.9 456.7 608.3 455.9 607.9C455.1 607.4 454.1 605.5 454.6 604.5Z" fill="#ffd728"/>
<path d="M435.3 611.5C435.4 609.4 435.8 608.6 436.7 607.7C437.6 606.7 438.9 606.1 440.5 605.8C442.1 605.5 444.5 605.6 446.2 605.8C448 605.9 449.7 606.3 451 606.7C452.3 607.2 453.1 607.7 453.9 608.6C454.7 609.6 455 611.4 455.8 612.5C456.6 613.6 457.4 614.7 458.6 615.3C459.9 616 461.5 616.3 463.4 616.3C465.3 616.3 468.5 616 470.1 615.3C471.7 614.7 472 612.9 473 612.5C473.9 612 475 611.8 475.8 612.5C476.6 613.1 477.4 614.9 477.7 616.3C478.1 617.7 478.4 619.5 478.2 621.1C478.1 622.7 477.4 624.4 476.8 625.8C476.2 627.3 475.8 628.7 474.9 629.7C473.9 630.6 472.5 631.3 471.1 631.6C469.6 631.9 467.7 631.3 466.3 631.6C464.9 631.9 463.7 632.5 462.5 633.5C461.2 634.4 459.9 636 458.6 637.3C457.4 638.6 456.1 639.5 454.8 641.1C453.6 642.7 452 644.9 451 646.8C450.1 648.8 453.1 651.6 449.1 652.6C445.1 653.5 430.8 655.1 427.1 652.6C423.5 650 426.3 640.5 427.1 637.3C427.9 634.1 430.6 635.1 431.9 633.5C433.2 631.9 434.1 630 434.8 627.7C435.4 625.5 435.7 622.8 435.7 620.1C435.8 617.4 435.1 613.6 435.3 611.5Z" fill="#1ee1ff" stroke-width="1.9" stroke-opacity="0.4"/>
<path d="M435.3 611.5C435.4 609.4 435.8 608.6 436.7 607.7C437.6 606.7 438.9 606.1 440.5 605.8C442.1 605.5 444.5 605.6 446.2 605.8C448 605.9 449.7 606.3 451 606.7C452.3 607.2 453.1 607.7 453.9 608.6C454.7 609.6 455 611.4 455.8 612.5C456.6 613.6 457.4 614.7 458.6 615.3C459.9 616 461.5 616.3 463.4 616.3C465.3 616.3 468.5 616 470.1 615.3C471.7 614.7 472 612.9 473 612.5C473.9 612 475 611.8 475.8 612.5C476.6 613.1 477.4 614.9 477.7 616.3C478.1 617.7 478.4 619.5 478.2 621.1C478.1 622.7 477.4 624.4 476.8 625.8C476.2 627.3 475.8 628.7 474.9 629.7C473.9 630.6 472.5 631.3 471.1 631.6C469.6 631.9 467.7 631.3 466.3 631.6C464.9 631.9 463.7 632.5 462.5 633.5C461.2 634.4 459.9 636 458.6 637.3C457.4 638.6 456.1 639.5 454.8 641.1C453.6 642.7 452 644.9 451 646.8C450.1 648.8 453.1 651.6 449.1 652.6C445.1 653.5 430.8 655.1 427.1 652.6C423.5 650 426.3 640.5 427.1 637.3C427.9 634.1 430.6 635.1 431.9 633.5C433.2 631.9 434.1 630 434.8 627.7C435.4 625.5 435.7 622.8 435.7 620.1C435.8 617.4 435.1 613.6 435.3 611.5Z" fill="none"/>
<path d="M453.9 620.1C454.8 618.5 456.9 618.5 458.6 618.2C460.4 617.9 462.5 618 464.4 618.2C466.3 618.4 468.7 618.5 470.1 619.2C471.5 619.8 472.7 620.9 473 622C473.3 623.1 472.8 624.7 472 625.8C471.2 627 469.6 628.1 468.2 628.7C466.8 629.3 465 629.2 463.4 629.7C461.8 630.1 460.1 630.6 458.6 631.6C457.2 632.5 456.1 633.8 454.8 635.4C453.6 637 452.3 639.2 451 641.1C449.7 643 449.1 645.9 447.2 646.8C445.3 647.8 440.7 647.8 439.5 646.8C438.4 645.9 439.7 642.9 440.5 641.1C441.3 639.4 442.9 637.8 444.3 636.3C445.8 634.9 447.7 634 449.1 632.5C450.5 631.1 452.1 629.8 452.9 627.7C453.7 625.7 452.9 621.7 453.9 620.1Z" fill="#00beff" stroke-width="1.9" stroke-opacity="0.4"/>
<path d="M453.9 620.1C454.8 618.5 456.9 618.5 458.6 618.2C460.4 617.9 462.5 618 464.4 618.2C466.3 618.4 468.7 618.5 470.1 619.2C471.5 619.8 472.7 620.9 473 622C473.3 623.1 472.8 624.7 472 625.8C471.2 627 469.6 628.1 468.2 628.7C466.8 629.3 465 629.2 463.4 629.7C461.8 630.1 460.1 630.6 458.6 631.6C457.2 632.5 456.1 633.8 454.8 635.4C453.6 637 452.3 639.2 451 641.1C449.7 643 449.1 645.9 447.2 646.8C445.3 647.8 440.7 647.8 439.5 646.8C438.4 645.9 439.7 642.9 440.5 641.1C441.3 639.4 442.9 637.8 444.3 636.3C445.8 634.9 447.7 634 449.1 632.5C450.5 631.1 452.1 629.8 452.9 627.7C453.7 625.7 452.9 621.7 453.9 620.1Z" fill="none"/>
<path d="M461.5 624.4C461.9 623.8 463.3 622.7 464.4 622.5C465.5 622.3 467.2 622.6 468.2 623C469.2 623.4 470.1 624.2 470.1 624.9C470.1 625.5 469.2 626.4 468.2 626.8C467.2 627.1 465.4 627.1 464.4 627C463.3 626.9 462.5 626.5 462 626C461.5 625.6 461.1 625 461.5 624.4Z" fill="#0000ff"/>
<path d="M471.1 611.5C471.5 609.9 473 609 473.9 608.6C474.9 608.3 476.1 608.6 476.8 609.6C477.5 610.6 478.1 612.6 478.2 614.4C478.4 616.1 478.1 618.4 477.7 620.1C477.4 621.8 476.6 623.9 475.8 624.4C475 624.9 473.7 624 473 623C472.3 621.9 471.9 620.1 471.5 618.2C471.2 616.3 470.7 613.1 471.1 611.5Z" fill="#ff961e" stroke-width="1.9" stroke-opacity="0.4"/>
<path d="M471.1 611.5C471.5 609.9 473 609 473.9 608.6C474.9 608.3 476.1 608.6 476.8 609.6C477.5 610.6 478.1 612.6 478.2 614.4C478.4 616.1 478.1 618.4 477.7 620.1C477.4 621.8 476.6 623.9 475.8 624.4C475 624.9 473.7 624 473 623C472.3 621.9 471.9 620.1 471.5 618.2C471.2 616.3 470.7 613.1 471.1 611.5Z" fill="none"/>
<path d="M435.7 620.1C435.8 619 435.7 615.3 436.2 613.4C436.7 611.5 437.4 609.8 438.6 608.6C439.8 607.5 441.6 606.7 443.4 606.3C445.1 605.9 447.5 606 449.1 606.3C450.7 606.5 451.9 606.8 452.9 607.7C454 608.6 454.9 610.9 455.3 611.5" fill="none"/>
<path d="M437.2 621.1C437.3 619.9 437.4 616.2 437.8 614.4C438.3 612.5 439 611.2 440 610.1C441 609 442.4 608.3 443.8 607.9C445.3 607.5 447.2 607.7 448.6 607.9C450 608.1 451.3 608.4 452.2 609.1C453 609.8 453.6 611.5 453.9 612" fill="none"/>
<path d="M434.8 627.7C434.7 626.6 434.3 623.5 434.3 621.1C434.3 618.7 434.2 615.7 434.8 613.4C435.3 611.1 436.3 608.6 437.6 607.2C439 605.8 440.9 605.2 442.9 604.8C444.9 604.4 447.7 604.6 449.6 604.8C451.4 605.1 452.7 605.3 453.9 606.3C455.1 607.2 456.3 609.8 456.7 610.6" fill="none"/>
<path d="M454.8 617.2C455.5 617.2 457.2 616.7 458.6 616.8C460.1 616.8 461.8 617.2 463.4 617.4C465 617.7 466.8 617.8 468.2 618.2C469.6 618.6 471.1 619.3 472 620.1C473 620.9 473.6 622.5 473.9 623" fill="none"/>
<path d="M454.4 619.2C455.1 619 457.1 618.4 458.6 618.4C460.2 618.4 461.9 618.7 463.4 619C464.9 619.2 466.4 619.4 467.7 619.9C469 620.4 470.3 621.2 471.1 621.8C471.9 622.5 472.3 623.6 472.5 623.9" fill="none"/>
<path d="M455.8 622C456.4 621.8 458.3 620.7 459.6 620.6C460.9 620.4 462.2 620.8 463.4 621.1C464.7 621.3 466.1 621.5 467.2 622C468.4 622.5 469.6 623.2 470.1 623.9C470.7 624.6 470.5 625.9 470.6 626.3" fill="none"/>
<path d="M458.6 633.5C459.3 633 461 631.3 462.5 630.6C463.9 629.9 465.8 629.7 467.2 629.2C468.7 628.7 469.9 628.5 471.1 627.7C472.2 627 473.5 625.4 473.9 624.9" fill="none"/>
<path d="M457.7 631.6C458.3 631.1 460.1 629.5 461.5 628.9C462.9 628.3 464.9 628.2 466.3 627.7C467.7 627.3 469.5 626.6 470.1 626.3" fill="none"/>
<path d="M472 610.6C472.4 610.2 473.6 608.6 474.4 608.6C475.2 608.6 476.1 609.4 476.6 610.6C477.1 611.7 477.5 613.7 477.6 615.3C477.6 616.9 477.3 618.8 477 620.1C476.6 621.5 475.7 622.9 475.5 623.5" fill="none"/>
<path d="M473 612C473.3 611.7 474.4 610.3 474.9 610.4C475.4 610.4 475.7 611.5 476 612.5C476.3 613.5 476.6 615 476.6 616.3C476.6 617.6 476.3 619.1 476 620.1C475.7 621.1 474.9 622.1 474.7 622.5" fill="none"/>
<path d="M427.3 634.5C428.4 633 431.4 631.9 434.1 631.1C436.8 630.3 440.7 629.7 443.7 629.7C446.6 629.7 449.6 630.3 451.8 631.1C454.1 631.9 455.7 633 457.3 634.5C458.9 635.9 460.3 637.9 461.4 639.9C462.5 642 463.4 644.2 464.1 646.7C464.8 649.3 465 652.4 465.5 654.9C465.9 657.4 467.1 659.7 466.8 661.8C466.6 663.8 465.5 665.8 464.1 667.2C462.8 668.6 460.5 669 458.7 669.9C456.8 670.9 455 672.4 453.2 672.7C451.4 672.9 449.6 672.2 447.7 671.3C445.9 670.4 444.1 668.8 442.3 667.2C440.5 665.6 438.4 663.8 436.8 661.8C435.2 659.7 434 657.4 432.7 654.9C431.5 652.4 430.2 649.3 429.3 646.7C428.4 644.2 427.6 642 427.3 639.9C426.9 637.9 426.1 635.9 427.3 634.5Z" fill="#00ffc8"/>
<path d="M430 635.8C431 634.6 433.2 633.2 435.5 632.4C437.7 631.6 441 631.1 443.7 631.1C446.3 631.1 449.1 631.6 451.2 632.4C453.2 633.2 454.5 634.4 455.9 635.8C457.4 637.3 459 639.2 460 641.3C461.1 643.3 461.5 645.8 462.1 648.1C462.6 650.4 463.1 652.8 463.4 654.9C463.8 657.1 464.5 659.3 464.1 661.1C463.8 662.9 462.5 664.7 461.4 665.8C460.3 667 458.8 667.2 457.3 667.9C455.8 668.6 454.1 669.7 452.5 669.9C450.9 670.2 449.3 669.9 447.7 669.3C446.2 668.6 444.6 667.3 443 665.8C441.4 664.4 439.7 662.4 438.2 660.4C436.7 658.3 435.2 656 434.1 653.6C433 651.2 432.1 648.3 431.4 646.1C430.7 643.8 430 641.6 429.7 639.9C429.5 638.2 429.1 637.1 430 635.8Z" fill="#00ffff"/>
<path d="M434.1 637.9C434.8 636.1 437.1 634.7 438.9 633.8C440.7 632.9 443.1 632.4 445 632.4C447 632.4 448.9 632.9 450.5 633.8C452.1 634.7 453.3 636.3 454.6 637.9C455.8 639.5 457.2 641.4 458 643.3C458.8 645.3 459 647.3 459.3 649.5C459.7 651.6 459.9 654.4 460 656.3C460.1 658.2 460.5 659.7 460 661.1C459.6 662.4 458.4 663.6 457.3 664.5C456.2 665.4 454.7 666.2 453.2 666.5C451.7 666.9 449.9 667.1 448.4 666.5C447 666 445.7 664.6 444.3 663.1C443 661.6 441.5 659.6 440.2 657.7C439 655.7 437.7 653.7 436.8 651.5C435.9 649.4 435.2 647 434.8 644.7C434.3 642.4 433.4 639.7 434.1 637.9Z" fill="#1ee1ff"/>
<path d="M436.2 639.9C436.7 638.3 438.7 636.2 440.2 635.2C441.8 634.1 444 633.4 445.7 633.4C447.4 633.4 449.1 634.1 450.5 635.2C451.8 636.2 452.9 638.2 453.9 639.9C454.9 641.6 456 643.5 456.6 645.4C457.2 647.3 457.1 649.5 457.3 651.5C457.5 653.6 457.7 656 457.6 657.7C457.5 659.4 457.2 660.7 456.6 661.8C456 662.8 455 663.8 453.9 664.2C452.8 664.7 451.2 664.9 449.8 664.5C448.4 664.1 447.1 663.1 445.7 661.8C444.3 660.4 442.7 658.2 441.6 656.3C440.5 654.4 439.7 652.1 438.9 650.2C438.1 648.2 437.3 646.4 436.8 644.7C436.4 643 435.6 641.5 436.2 639.9Z" fill="#00beff"/>
<path d="M438.9 639.9C439.4 638.1 440.8 636.5 442.3 635.6C443.8 634.6 446.2 633.9 447.7 634.2C449.3 634.5 450.7 635.8 451.8 637.2C453 638.6 454 640.7 454.6 642.7C455.1 644.6 455.1 646.7 455.3 648.8C455.4 650.8 455.5 653.1 455.3 654.9C455 656.8 454.6 658.5 453.9 659.7C453.2 661 452.2 662.1 451.2 662.4C450.1 662.8 449 662.6 447.7 662C446.5 661.5 445.1 660.4 443.9 659C442.8 657.6 441.8 655.6 440.9 653.6C440.1 651.5 439.2 649 438.9 646.7C438.5 644.5 438.3 641.8 438.9 639.9Z" fill="#0082ff"/>
<path d="M442.3 645.4C442.9 644.1 443.9 642.1 445 641.6C446.2 641 448 641.2 449.1 642C450.3 642.7 451.3 644.5 451.8 646.1C452.4 647.7 452.8 649.9 452.5 651.5C452.3 653.1 451.5 654.8 450.5 655.6C449.5 656.4 447.6 656.6 446.4 656.3C445.1 656 443.8 654.7 443 653.6C442.2 652.4 441.7 650.8 441.6 649.5C441.5 648.1 441.7 646.7 442.3 645.4Z" fill="#0000ff"/>
<path d="M467.5 635.8C467.5 634.5 469.1 633 470.3 632.4C471.4 631.9 473.3 632 474.4 632.4C475.4 632.9 476.4 634 476.4 635.2C476.4 636.3 475.4 638.3 474.4 639.2C473.3 640.2 471.4 641.2 470.3 640.6C469.1 640 467.5 637.2 467.5 635.8Z" fill="#ffff00"/>
<path d="M470.9 636.1C471.1 635.5 471.7 634.6 472.3 634.5C472.9 634.4 474.1 635 474.4 635.6C474.6 636.1 474.1 637.4 473.7 637.9C473.2 638.3 472.1 638.6 471.6 638.3C471.2 638 470.8 636.7 470.9 636.1Z" fill="#ffff00"/>
<path d="M472.3 645.4C473.7 645.6 478.7 644.7 480.5 646.7C482.3 648.8 483 653.8 483.2 657.7C483.4 661.5 482.8 666.1 481.9 669.9C480.9 673.8 479.4 677.2 477.8 680.9C476.2 684.5 474.4 688.1 472.3 691.8C470.3 695.4 470.7 700.9 465.5 702.7C460.3 704.5 444.1 704 440.9 702.7C437.7 701.3 444.6 697.2 446.4 694.5C448.2 691.8 450.5 688.8 451.8 686.3C453.2 683.8 453.7 682 454.6 679.5C455.5 677 456.2 673.8 457.3 671.3C458.4 668.8 460 666.8 461.4 664.5C462.8 662.2 464.2 659.9 465.5 657.7C466.7 655.4 468.3 652 468.9 650.8Z" fill="#00ff64" stroke="none"/>
<path d="M472.3 645.4C473.7 645.6 478.7 644.7 480.5 646.7C482.3 648.8 483 653.8 483.2 657.7C483.4 661.5 482.8 666.1 481.9 669.9C480.9 673.8 479.4 677.2 477.8 680.9C476.2 684.5 474.4 688.1 472.3 691.8C470.3 695.4 470.7 700.9 465.5 702.7C460.3 704.5 444.1 704 440.9 702.7C437.7 701.3 444.6 697.2 446.4 694.5C448.2 691.8 450.5 688.8 451.8 686.3C453.2 683.8 453.7 682 454.6 679.5C455.5 677 456.2 673.8 457.3 671.3C458.4 668.8 460 666.8 461.4 664.5C462.8 662.2 464.2 659.9 465.5 657.7C466.7 655.4 468.3 652 468.9 650.8" fill="none"/>
<path d="M473 647C474.1 647.3 478.3 647 479.8 648.8C481.3 650.6 481.7 654.4 481.9 657.7C482 661 481.4 664.9 480.5 668.6C479.6 672.2 477.9 676.1 476.4 679.5C474.9 682.9 473.4 685.6 471.6 689C469.8 692.5 469.9 697.7 465.5 700C461.1 702.2 447.6 703.6 445 702.7C442.4 701.8 448.3 697.2 449.8 694.5C451.3 691.8 452.9 688.8 453.9 686.3C454.9 683.8 455.1 681.9 455.9 679.5C456.7 677.1 457.5 674.4 458.7 672C459.8 669.6 461.4 667.3 462.8 665.2C464.1 663 465.7 661.2 466.8 659C468 656.9 469.3 653.3 469.8 652.2Z" fill="#4bff00" stroke="none"/>
<path d="M473 647C474.1 647.3 478.3 647 479.8 648.8C481.3 650.6 481.7 654.4 481.9 657.7C482 661 481.4 664.9 480.5 668.6C479.6 672.2 477.9 676.1 476.4 679.5C474.9 682.9 473.4 685.6 471.6 689C469.8 692.5 469.9 697.7 465.5 700C461.1 702.2 447.6 703.6 445 702.7C442.4 701.8 448.3 697.2 449.8 694.5C451.3 691.8 452.9 688.8 453.9 686.3C454.9 683.8 455.1 681.9 455.9 679.5C456.7 677.1 457.5 674.4 458.7 672C459.8 669.6 461.4 667.3 462.8 665.2C464.1 663 465.7 661.2 466.8 659C468 656.9 469.3 653.3 469.8 652.2" fill="none"/>
<path d="M473.7 648.8C474.5 649.1 477.5 649.4 478.4 650.8C479.4 652.3 479.2 654.9 479.1 657.7C479 660.4 478.4 664 477.8 667.2C477.1 670.4 476.2 673.6 475 676.8C473.9 679.9 472.5 683.4 470.9 686.3C469.3 689.3 467.3 691.8 465.5 694.5C463.7 697.2 462.8 701.3 460 702.7C457.3 704 450.5 704.3 449.1 702.7C447.7 701.1 450.7 695.9 451.8 693.1C453 690.4 455 688.6 455.9 686.3C456.8 684 456.6 681.8 457.3 679.5C458 677.2 458.9 674.9 460 672.7C461.2 670.4 462.8 667.9 464.1 665.8C465.5 663.8 467.1 662.4 468.2 660.4C469.3 658.3 470.5 654.7 470.9 653.6Z" fill="#ffff00" stroke="none"/>
<path d="M473.7 648.8C474.5 649.1 477.5 649.4 478.4 650.8C479.4 652.3 479.2 654.9 479.1 657.7C479 660.4 478.4 664 477.8 667.2C477.1 670.4 476.2 673.6 475 676.8C473.9 679.9 472.5 683.4 470.9 686.3C469.3 689.3 467.3 691.8 465.5 694.5C463.7 697.2 462.8 701.3 460 702.7C457.3 704 450.5 704.3 449.1 702.7C447.7 701.1 450.7 695.9 451.8 693.1C453 690.4 455 688.6 455.9 686.3C456.8 684 456.6 681.8 457.3 679.5C458 677.2 458.9 674.9 460 672.7C461.2 670.4 462.8 667.9 464.1 665.8C465.5 663.8 467.1 662.4 468.2 660.4C469.3 658.3 470.5 654.7 470.9 653.6" fill="none"/>
<path d="M470.9 659C472.4 658 474.1 658.6 475 659.7C475.9 660.8 476.5 663.2 476.4 665.8C476.3 668.5 475.3 672.4 474.4 675.4C473.4 678.4 472.3 680.9 470.9 683.6C469.6 686.3 468 689.5 466.2 691.8C464.3 694 462 696.3 460 697.2C458.1 698.1 455.3 698.1 454.6 697.2C453.9 696.3 455.3 693.6 455.9 691.8C456.6 690 458 688.4 458.7 686.3C459.3 684.3 459.3 681.8 460 679.5C460.7 677.2 461.7 674.9 462.8 672.7C463.8 670.4 464.8 668.1 466.2 665.8C467.5 663.6 469.5 660.1 470.9 659Z" fill="#ffd728"/>
<path d="M468.2 664.5C469.6 663.2 471.4 664 472.3 665.2C473.2 666.3 473.8 668.9 473.7 671.3C473.6 673.7 472.5 677 471.6 679.5C470.7 682 469.5 684.7 468.2 686.3C467 687.9 465.3 689 464.1 689C463 689 461.7 687.9 461.4 686.3C461.1 684.7 461.6 681.8 462.1 679.5C462.5 677.2 463.1 675.2 464.1 672.7C465.1 670.2 466.8 665.7 468.2 664.5Z" fill="#ffaa2d"/>
<path d="M421.8 669.9C421.9 668.2 423 664.9 423.9 663.1C424.8 661.3 425.9 659.9 427.3 659C428.6 658.1 430.9 657.3 432.1 657.7C433.2 658 434.2 659.7 434.1 661.1C434 662.4 432.5 664.1 431.4 665.8C430.2 667.6 428.6 670.1 427.3 671.3C425.9 672.6 424.1 673.6 423.2 673.4C422.3 673.1 421.7 671.6 421.8 669.9Z" fill="#00ff64"/>
<path d="M432.7 675.4C433.7 674.9 436.2 672.7 438.2 672.7C440.2 672.7 443 674 445 675.4C447.1 676.8 448.9 679 450.5 680.9C452.1 682.7 454.1 684 454.6 686.3C455 688.6 453.9 691.8 453.2 694.5C452.5 697.2 453.7 701.3 450.5 702.7C447.3 704 436.6 704 434.1 702.7C431.6 701.3 434.8 697 435.5 694.5C436.2 692 438 690 438.2 687.7C438.4 685.4 437.1 682 436.8 680.9Z" fill="#00ffc8" stroke="none"/>
<path d="M432.7 675.4C433.7 674.9 436.2 672.7 438.2 672.7C440.2 672.7 443 674 445 675.4C447.1 676.8 448.9 679 450.5 680.9C452.1 682.7 454.1 684 454.6 686.3C455 688.6 453.9 691.8 453.2 694.5C452.5 697.2 453.7 701.3 450.5 702.7C447.3 704 436.6 704 434.1 702.7C431.6 701.3 434.8 697 435.5 694.5C436.2 692 438 690 438.2 687.7C438.4 685.4 437.1 682 436.8 680.9" fill="none"/>
<path d="M445 689C445.7 688.6 447.6 686.5 449.1 686.3C450.6 686.1 453 686.3 453.9 687.7C454.8 689 454.9 692 454.6 694.5C454.2 697 453.7 701.3 451.8 702.7C450 704 445 704 443.7 702.7C442.3 701.3 443.7 695.9 443.7 694.5Z" fill="#00ff64" stroke="none"/>
<path d="M445 689C445.7 688.6 447.6 686.5 449.1 686.3C450.6 686.1 453 686.3 453.9 687.7C454.8 689 454.9 692 454.6 694.5C454.2 697 453.7 701.3 451.8 702.7C450 704 445 704 443.7 702.7C442.3 701.3 443.7 695.9 443.7 694.5" fill="none"/>
<path d="M410.9 686.3C412.1 685.4 415.5 682.2 417.7 680.9C420 679.5 422.3 678.7 424.6 678.1C426.8 677.6 429.6 677 431.4 677.4C433.2 677.9 434.9 679.4 435.5 680.9C436 682.3 435.5 684.5 434.8 686.3C434.1 688.1 432.4 690 431.4 691.8C430.4 693.6 429.3 695.4 428.6 697.2C428 699 431.2 701.8 427.3 702.7C423.4 703.6 409.1 702.7 405.5 702.7Z" fill="#1ee1ff" stroke="none"/>
<path d="M410.9 686.3C412.1 685.4 415.5 682.2 417.7 680.9C420 679.5 422.3 678.7 424.6 678.1C426.8 677.6 429.6 677 431.4 677.4C433.2 677.9 434.9 679.4 435.5 680.9C436 682.3 435.5 684.5 434.8 686.3C434.1 688.1 432.4 690 431.4 691.8C430.4 693.6 429.3 695.4 428.6 697.2C428 699 431.2 701.8 427.3 702.7C423.4 703.6 409.1 702.7 405.5 702.7" fill="none"/>
<path d="M408.2 693.1C409.1 692.2 411.6 688.9 413.6 687.7C415.7 686.4 418.4 685.6 420.5 685.6C422.5 685.6 424.8 686.4 425.9 687.7C427.1 688.9 427.5 690.6 427.3 693.1C427.1 695.6 428.2 701.1 424.6 702.7C420.9 704.3 408.6 702.7 405.5 702.7Z" fill="#00beff" stroke="none"/>
<path d="M408.2 693.1C409.1 692.2 411.6 688.9 413.6 687.7C415.7 686.4 418.4 685.6 420.5 685.6C422.5 685.6 424.8 686.4 425.9 687.7C427.1 688.9 427.5 690.6 427.3 693.1C427.1 695.6 428.2 701.1 424.6 702.7C420.9 704.3 408.6 702.7 405.5 702.7" fill="none"/>
<path d="M409.5 697.2C410.2 696.7 412.1 694.5 413.6 693.8C415.2 693.1 417.6 692.8 419.1 693.1C420.6 693.5 422.1 694.3 422.5 695.9C423 697.5 424.2 701.5 421.8 702.7C419.4 703.8 410.5 702.7 408.2 702.7Z" fill="#0082ff" stroke="none"/>
<path d="M409.5 697.2C410.2 696.7 412.1 694.5 413.6 693.8C415.2 693.1 417.6 692.8 419.1 693.1C420.6 693.5 422.1 694.3 422.5 695.9C423 697.5 424.2 701.5 421.8 702.7C419.4 703.8 410.5 702.7 408.2 702.7" fill="none"/>
</g>
<clipPath id="tD31"><rect x="199" y="698" width="102" height="102"/></clipPath>
<g clip-path="url(#tD31)" stroke="#000" stroke-width="0.8" stroke-linejoin="round">
<rect x="198" y="697" width="104" height="104" fill="#9100dc" stroke="none"/>
<path d="M227.3 724.9C228 724.6 230 723.6 231.4 722.9C232.7 722.2 234.1 720.9 235.5 720.8C236.8 720.7 238.5 721.3 239.6 722.2C240.6 723.1 241 724.7 241.6 726.3C242.2 727.9 242.5 730 243 731.7C243.4 733.4 244 735.2 244.3 736.5C244.7 737.9 246.7 739.4 245 739.9C243.3 740.5 237.1 741.1 234.1 739.9C231.2 738.8 228.4 734.2 227.3 733.1Z" fill="#eb00dc" stroke="none"/>
<path d="M227.3 724.9C228 724.6 230 723.6 231.4 722.9C232.7 722.2 234.1 720.9 235.5 720.8C236.8 720.7 238.5 721.3 239.6 722.2C240.6 723.1 241 724.7 241.6 726.3C242.2 727.9 242.5 730 243 731.7C243.4 733.4 244 735.2 244.3 736.5C244.7 737.9 246.7 739.4 245 739.9C243.3 740.5 237.1 741.1 234.1 739.9C231.2 738.8 228.4 734.2 227.3 733.1" fill="none"/>
<path d="M251.8 744C252.8 744.5 255.5 745.7 257.3 746.7C259.1 747.8 260.9 749 262.8 750.2C264.6 751.3 266.4 752.3 268.2 753.6C270 754.8 273.7 756.5 273.7 757.7C273.7 758.8 270.9 761.1 268.2 760.4C265.5 759.7 260.3 755.8 257.3 753.6C254.3 751.3 251.6 747.9 250.5 746.7Z" fill="#eb00dc" stroke="none"/>
<path d="M251.8 744C252.8 744.5 255.5 745.7 257.3 746.7C259.1 747.8 260.9 749 262.8 750.2C264.6 751.3 266.4 752.3 268.2 753.6C270 754.8 273.7 756.5 273.7 757.7C273.7 758.8 270.9 761.1 268.2 760.4C265.5 759.7 260.3 755.8 257.3 753.6C254.3 751.3 251.6 747.9 250.5 746.7" fill="none"/>
<path d="M281.9 765.8C283 766.1 286.4 766.6 288.7 767.2C291 767.8 293 768.6 295.5 769.3C298 769.9 302.3 769.4 303.7 771.3C305 773.2 307.3 780.6 303.7 780.9C300 781.1 285.5 774 281.9 772.7Z" fill="#eb00dc" stroke="none"/>
<path d="M281.9 765.8C283 766.1 286.4 766.6 288.7 767.2C291 767.8 293 768.6 295.5 769.3C298 769.9 302.3 769.4 303.7 771.3C305 773.2 307.3 780.6 303.7 780.9C300 781.1 285.5 774 281.9 772.7" fill="none"/>
<path d="M212.3 694.9C217.1 694.9 235.7 693.3 240.9 694.9C246.2 696.5 242.5 701.8 243.7 704.5C244.8 707.1 246 709.2 247.7 710.6C249.5 712 252.6 711.7 253.9 712.6C255.1 713.6 255.5 714.9 255.3 716.1C255 717.2 253.8 719.2 252.5 719.5C251.3 719.7 249.5 718.4 247.7 717.4C246 716.4 244.1 714.7 242.3 713.3C240.5 712 238.7 710 236.8 709.2C235 708.4 233.1 708.1 231.4 708.5C229.7 709 228 711.1 226.6 712C225.2 712.9 225.4 714.8 223.2 714C221 713.2 215.2 708.3 213.6 707.2Z" fill="#0000ff" stroke="none"/>
<path d="M212.3 694.9C217.1 694.9 235.7 693.3 240.9 694.9C246.2 696.5 242.5 701.8 243.7 704.5C244.8 707.1 246 709.2 247.7 710.6C249.5 712 252.6 711.7 253.9 712.6C255.1 713.6 255.5 714.9 255.3 716.1C255 717.2 253.8 719.2 252.5 719.5C251.3 719.7 249.5 718.4 247.7 717.4C246 716.4 244.1 714.7 242.3 713.3C240.5 712 238.7 710 236.8 709.2C235 708.4 233.1 708.1 231.4 708.5C229.7 709 228 711.1 226.6 712C225.2 712.9 225.4 714.8 223.2 714C221 713.2 215.2 708.3 213.6 707.2" fill="none"/>
<path d="M247.7 727.6C248.2 727 251.4 729 253.2 730.4C255 731.7 256.8 734.2 258.7 735.8C260.5 737.4 262.3 738.6 264.1 739.9C265.9 741.3 268 743.6 269.6 744C271.2 744.5 272.3 742.9 273.7 742.7C275 742.4 275.9 742.4 277.8 742.7C279.6 742.9 283 743.1 284.6 744C286.2 744.9 286.6 746.5 287.3 748.1C288 749.7 289.1 752.7 288.7 753.6C288.2 754.5 286.4 753.7 284.6 753.6C282.8 753.5 279.5 752.7 277.8 752.9C276.1 753.1 275.5 755.2 274.4 754.9C273.2 754.7 272.4 752.9 270.9 751.5C269.5 750.2 267.3 748.2 265.5 746.7C263.7 745.3 261.8 743.8 260 742.7C258.2 741.5 256.2 741.3 254.6 739.9C253 738.6 251.6 736.5 250.5 734.5C249.3 732.4 247.3 728.3 247.7 727.6Z" fill="#0000ff"/>
<path d="M238.2 694.9C238.7 696.3 239.8 700.7 240.9 703.1C242.1 705.5 243.4 707.8 245 709.2C246.6 710.7 248.9 711.7 250.5 712C252.1 712.2 253.4 710.3 254.6 710.6C255.7 710.9 257.3 712.5 257.3 714C257.3 715.5 255.5 717.4 254.6 719.5C253.7 721.5 251.8 724.5 251.8 726.3C251.8 728.1 253 729 254.6 730.4C256.2 731.7 259.3 733.1 261.4 734.5C263.4 735.8 265.3 737.3 266.8 738.6C268.4 739.8 269.3 742 270.9 742C272.5 742 274.6 739.8 276.4 738.6C278.2 737.3 279.8 735.6 281.9 734.5C283.9 733.3 285.7 732.7 288.7 731.7C291.7 730.8 296.6 729.9 300 729C303.4 728.1 307.6 732 309.1 726.3C310.7 720.6 309.1 700.1 309.1 694.9Z" fill="#0082ff" stroke="none"/>
<path d="M238.2 694.9C238.7 696.3 239.8 700.7 240.9 703.1C242.1 705.5 243.4 707.8 245 709.2C246.6 710.7 248.9 711.7 250.5 712C252.1 712.2 253.4 710.3 254.6 710.6C255.7 710.9 257.3 712.5 257.3 714C257.3 715.5 255.5 717.4 254.6 719.5C253.7 721.5 251.8 724.5 251.8 726.3C251.8 728.1 253 729 254.6 730.4C256.2 731.7 259.3 733.1 261.4 734.5C263.4 735.8 265.3 737.3 266.8 738.6C268.4 739.8 269.3 742 270.9 742C272.5 742 274.6 739.8 276.4 738.6C278.2 737.3 279.8 735.6 281.9 734.5C283.9 733.3 285.7 732.7 288.7 731.7C291.7 730.8 296.6 729.9 300 729C303.4 728.1 307.6 732 309.1 726.3C310.7 720.6 309.1 700.1 309.1 694.9" fill="none"/>
<path d="M245 694.9C245.5 696 246.6 699.9 247.7 701.7C248.9 703.5 250.5 704.9 251.8 705.8C253.2 706.7 254.6 706.3 255.9 707.2C257.3 708.1 259.2 709.7 260 711.3C260.8 712.9 260.9 714.9 260.7 716.7C260.5 718.6 259.2 720.4 258.7 722.2C258.1 724 256.8 726.2 257.3 727.6C257.8 729.1 259.8 729.9 261.4 731.1C263 732.2 265.4 733.4 266.8 734.5C268.3 735.5 269.1 737.3 270.3 737.2C271.4 737.1 272 734.8 273.7 733.8C275.4 732.8 278 731.9 280.5 731.1C283 730.3 285.4 730 288.7 729C291.9 728 296.6 725.8 300 724.9C303.4 724 307.6 728.6 309.1 723.6C310.7 718.6 309.1 699.7 309.1 694.9Z" fill="#00beff" stroke="none"/>
<path d="M245 694.9C245.5 696 246.6 699.9 247.7 701.7C248.9 703.5 250.5 704.9 251.8 705.8C253.2 706.7 254.6 706.3 255.9 707.2C257.3 708.1 259.2 709.7 260 711.3C260.8 712.9 260.9 714.9 260.7 716.7C260.5 718.6 259.2 720.4 258.7 722.2C258.1 724 256.8 726.2 257.3 727.6C257.8 729.1 259.8 729.9 261.4 731.1C263 732.2 265.4 733.4 266.8 734.5C268.3 735.5 269.1 737.3 270.3 737.2C271.4 737.1 272 734.8 273.7 733.8C275.4 732.8 278 731.9 280.5 731.1C283 730.3 285.4 730 288.7 729C291.9 728 296.6 725.8 300 724.9C303.4 724 307.6 728.6 309.1 723.6C310.7 718.6 309.1 699.7 309.1 694.9" fill="none"/>
<path d="M251.8 694.9C252.3 695.8 253.4 699 254.6 700.4C255.7 701.7 257.4 702 258.7 703.1C259.9 704.2 261.4 705.6 262.1 707.2C262.8 708.8 262.8 710.6 262.8 712.6C262.8 714.7 262.1 717.2 262.1 719.5C262.1 721.7 262 724.4 262.8 726.3C263.6 728.2 265.6 730.3 266.8 731.1C268.1 731.9 269.1 731.3 270.3 731.1C271.4 730.8 271.7 730.2 273.7 729.7C275.6 729.2 279.1 728.9 281.9 728.3C284.6 727.8 287 727.5 290 726.3C293.1 725 296.8 722 300 720.8C303.2 719.7 307.6 723.8 309.1 719.5C310.7 715.1 309.1 699 309.1 694.9Z" fill="#1ee1ff" stroke="none"/>
<path d="M251.8 694.9C252.3 695.8 253.4 699 254.6 700.4C255.7 701.7 257.4 702 258.7 703.1C259.9 704.2 261.4 705.6 262.1 707.2C262.8 708.8 262.8 710.6 262.8 712.6C262.8 714.7 262.1 717.2 262.1 719.5C262.1 721.7 262 724.4 262.8 726.3C263.6 728.2 265.6 730.3 266.8 731.1C268.1 731.9 269.1 731.3 270.3 731.1C271.4 730.8 271.7 730.2 273.7 729.7C275.6 729.2 279.1 728.9 281.9 728.3C284.6 727.8 287 727.5 290 726.3C293.1 725 296.8 722 300 720.8C303.2 719.7 307.6 723.8 309.1 719.5C310.7 715.1 309.1 699 309.1 694.9" fill="none"/>
<path d="M257.3 694.9C257.8 695.6 259 697.4 260 699C261.1 700.6 262.8 702.4 263.4 704.5C264.1 706.5 264 708.8 264.1 711.3C264.2 713.8 263.9 717 264.1 719.5C264.3 722 264.6 724.8 265.5 726.3C266.4 727.8 267.8 728.1 269.6 728.3C271.4 728.6 273.9 728.1 276.4 727.6C278.9 727.2 281.9 726.7 284.6 725.6C287.3 724.5 290.2 722.5 292.8 720.8C295.3 719.1 297.3 716.7 300 715.4C302.7 714 307.6 716.1 309.1 712.6C310.7 709.2 309.1 697.9 309.1 694.9Z" fill="#00ffff" stroke="none"/>
<path d="M257.3 694.9C257.8 695.6 259 697.4 260 699C261.1 700.6 262.8 702.4 263.4 704.5C264.1 706.5 264 708.8 264.1 711.3C264.2 713.8 263.9 717 264.1 719.5C264.3 722 264.6 724.8 265.5 726.3C266.4 727.8 267.8 728.1 269.6 728.3C271.4 728.6 273.9 728.1 276.4 727.6C278.9 727.2 281.9 726.7 284.6 725.6C287.3 724.5 290.2 722.5 292.8 720.8C295.3 719.1 297.3 716.7 300 715.4C302.7 714 307.6 716.1 309.1 712.6C310.7 709.2 309.1 697.9 309.1 694.9" fill="none"/>
<path d="M264.1 703.1C264.7 701.7 266.2 702 268.2 701.7C270.3 701.5 274.1 701.4 276.4 701.7C278.7 702.1 280.3 702.6 281.9 703.8C283.4 704.9 285 706.6 285.9 708.5C286.9 710.5 287.5 713.1 287.3 715.4C287.1 717.6 285.9 720.5 284.6 722.2C283.2 723.9 281.2 724.9 279.1 725.6C277.1 726.3 274.2 726.6 272.3 726.3C270.4 725.9 268.7 724.9 267.5 723.6C266.4 722.2 265.9 720.4 265.5 718.1C265 715.8 265 712.4 264.8 709.9C264.6 707.4 263.6 704.5 264.1 703.1Z" fill="#00ffc8"/>
<path d="M266.2 708.5C266.7 707.4 268.1 706.3 269.6 705.8C271.1 705.3 273.4 705.1 275 705.5C276.6 706 278.2 707.1 279.1 708.5C280 710 280.5 712.2 280.5 714C280.5 715.8 279.9 718 279.1 719.5C278.3 720.9 277.1 722.5 275.7 722.9C274.4 723.2 272.3 722.5 270.9 721.5C269.6 720.5 268.3 718.2 267.5 716.7C266.8 715.3 266.8 714 266.6 712.6C266.3 711.3 265.7 709.7 266.2 708.5Z" fill="#00ff64"/>
<path d="M267.5 709.9C268 708.9 269.7 707.5 270.9 707.2C272.2 706.8 274 707.1 275 707.9C276.1 708.7 276.9 710.5 277.1 712C277.3 713.4 277 715.5 276.4 716.7C275.8 718 274.7 719.5 273.7 719.5C272.6 719.5 271.2 717.8 270.3 716.7C269.3 715.7 268.7 714.5 268.2 713.3C267.8 712.2 267.1 710.9 267.5 709.9Z" fill="#4bff00"/>
<path d="M270.9 713.3C271 712.7 271.8 711.8 272.3 711.7C272.8 711.6 273.7 712.1 273.9 712.6C274.2 713.1 274 714.2 273.7 714.7C273.3 715.1 272.4 715.6 271.9 715.4C271.4 715.1 270.9 713.9 270.9 713.3Z" fill="#4bff00"/>
<path d="M290 701.7C291.1 700.6 293.8 700.4 295.5 700.4C297.2 700.4 298.6 700.6 300 701.7C301.4 702.9 303.5 705.1 303.7 707.2C303.8 709.2 302.3 712.4 301 714C299.6 715.6 297.1 717 295.5 716.7C293.9 716.5 292.4 714.2 291.4 712.6C290.4 711.1 289.6 709 289.4 707.2C289.1 705.4 289 702.9 290 701.7Z" fill="#1ee1ff"/>
<path d="M249.1 722.2C249.1 720.9 250.7 719 251.8 718.1C253 717.2 255 716.3 255.9 716.7C256.8 717.2 257.3 719.5 257.3 720.8C257.3 722.2 256.8 724.1 255.9 724.9C255 725.7 253 726.1 251.8 725.6C250.7 725.1 249.1 723.4 249.1 722.2Z" fill="#9100dc"/>
<path d="M250.5 722.2C250.4 721.4 251.7 719.9 252.5 719.5C253.3 719 254.7 718.9 255.3 719.5C255.8 720 256.3 722.1 255.9 722.9C255.6 723.7 254.1 724.4 253.2 724.2C252.3 724.1 250.6 723 250.5 722.2Z" fill="#eb00dc"/>
<path d="M252.3 722.2C252.2 721.8 253.1 721.1 253.5 721.1C253.9 721.1 254.5 721.8 254.6 722.2C254.6 722.6 254 723.3 253.6 723.3C253.2 723.3 252.3 722.6 252.3 722.2Z" fill="#d2d2d2"/>
<path d="M270.9 733.1C271.9 732.9 274.1 731.6 276.4 731.7C278.7 731.9 281.9 733.4 284.6 733.8C287.3 734.1 290 734.1 292.8 733.8C295.5 733.4 298.2 732.2 301 731.7C303.7 731.3 307.8 728.8 309.1 731.1C310.5 733.3 310.5 743.2 309.1 745.4C307.8 747.5 303.7 744.5 301 744C298.2 743.6 295 743.1 292.8 742.7C290.5 742.2 289.1 741.5 287.3 741.3C285.5 741.1 283.7 741.4 281.9 741.3C280 741.2 278 741.1 276.4 740.6C274.8 740.2 273 738.9 272.3 738.6Z" fill="#9100dc" stroke="none"/>
<path d="M270.9 733.1C271.9 732.9 274.1 731.6 276.4 731.7C278.7 731.9 281.9 733.4 284.6 733.8C287.3 734.1 290 734.1 292.8 733.8C295.5 733.4 298.2 732.2 301 731.7C303.7 731.3 307.8 728.8 309.1 731.1C310.5 733.3 310.5 743.2 309.1 745.4C307.8 747.5 303.7 744.5 301 744C298.2 743.6 295 743.1 292.8 742.7C290.5 742.2 289.1 741.5 287.3 741.3C285.5 741.1 283.7 741.4 281.9 741.3C280 741.2 278 741.1 276.4 740.6C274.8 740.2 273 738.9 272.3 738.6" fill="none"/>
<path d="M281.9 734.7C282.8 734.2 286.4 735.2 288.7 735.2C291 735.1 293.5 734.5 295.5 734.2C297.5 733.9 300 732.5 301 733.1C301.9 733.7 301.9 736.9 301 737.9C300 738.9 297.5 739 295.5 739.2C293.5 739.5 290.7 739.4 288.7 739.2C286.6 739.1 284.4 739.3 283.2 738.6C282.1 737.8 280.9 735.3 281.9 734.7Z" fill="#eb00dc"/>
<path d="M271.6 733.8C272 732.9 274.7 732.8 276.4 733.1C278.1 733.4 280.7 734.9 281.9 735.8C283 736.7 283.7 737.9 283.2 738.6C282.8 739.2 280.6 739.9 279.1 739.9C277.6 739.9 275.6 739.6 274.4 738.6C273.1 737.5 271.3 734.7 271.6 733.8Z" fill="#6e6e6e"/>
<path d="M274.4 735.2C274.6 734.7 276.1 734.4 277.1 734.7C278.1 735 280.3 736.3 280.5 736.9C280.7 737.5 279.2 738.2 278.4 738.3C277.6 738.4 276.4 738 275.7 737.5C275 736.9 274.1 735.6 274.4 735.2Z" fill="#d2d2d2"/>
<path d="M277.8 747.4C277.8 746.7 278.5 745.5 279.1 745.1C279.8 744.7 281 744.7 281.6 745.1C282.2 745.5 282.6 746.7 282.5 747.4C282.5 748.2 281.8 749.4 281.2 749.8C280.6 750.1 279.4 750.1 278.9 749.8C278.3 749.4 277.7 748.2 277.8 747.4Z" fill="#0082ff"/>
<path d="M309.1 739.9C307.6 740.2 302.3 740.8 300 741.3C297.7 741.7 296.9 741.9 295.5 742.7C294.1 743.5 292.5 744.7 291.4 746.1C290.3 747.4 288.9 749.1 288.7 750.8C288.4 752.5 289.1 754.7 290 756.3C291 757.9 292.5 759.3 294.1 760.4C295.8 761.5 297.5 762.4 300 763.1C302.5 763.8 307.6 764.3 309.1 764.5Z" fill="#0000ff" stroke="none"/>
<path d="M309.1 739.9C307.6 740.2 302.3 740.8 300 741.3C297.7 741.7 296.9 741.9 295.5 742.7C294.1 743.5 292.5 744.7 291.4 746.1C290.3 747.4 288.9 749.1 288.7 750.8C288.4 752.5 289.1 754.7 290 756.3C291 757.9 292.5 759.3 294.1 760.4C295.8 761.5 297.5 762.4 300 763.1C302.5 763.8 307.6 764.3 309.1 764.5" fill="none"/>
</g>
<clipPath id="tD32"><rect x="299" y="698" width="102" height="102"/></clipPath>
<g clip-path="url(#tD32)" stroke="#000" stroke-width="0.8" stroke-linejoin="round">
<rect x="298" y="697" width="104" height="104" fill="#9100dc" stroke="none"/>
<path d="M364.1 744C364.8 743.3 366.4 740.8 368.2 739.9C370 739 372.8 738.7 375 738.6C377.3 738.4 379.6 739.2 381.9 739.2C384.1 739.2 386.4 738.6 388.7 738.6C391 738.6 392.1 739 395.5 739.2C398.9 739.5 406.9 733 409.1 739.9C411.4 746.9 414.6 774 409.1 780.9C403.7 787.7 382.1 783.6 376.4 780.9C370.7 778.1 375.9 768.6 375 764.5C374.1 760.4 372.5 758.1 370.9 756.3C369.3 754.5 367.1 753.6 365.5 753.6C363.9 753.6 362.3 756.3 361.4 756.3C360.5 756.3 359.9 754.9 360 753.6C360.1 752.2 361.7 749 362.1 748.1Z" fill="#1ee1ff" stroke="none"/>
<path d="M364.1 744C364.8 743.3 366.4 740.8 368.2 739.9C370 739 372.8 738.7 375 738.6C377.3 738.4 379.6 739.2 381.9 739.2C384.1 739.2 386.4 738.6 388.7 738.6C391 738.6 392.1 739 395.5 739.2C398.9 739.5 406.9 733 409.1 739.9C411.4 746.9 414.6 774 409.1 780.9C403.7 787.7 382.1 783.6 376.4 780.9C370.7 778.1 375.9 768.6 375 764.5C374.1 760.4 372.5 758.1 370.9 756.3C369.3 754.5 367.1 753.6 365.5 753.6C363.9 753.6 362.3 756.3 361.4 756.3C360.5 756.3 359.9 754.9 360 753.6C360.1 752.2 361.7 749 362.1 748.1" fill="none"/>
<path d="M364.1 739.9C364.7 738.8 366.6 738.1 368.2 737.9C369.8 737.7 373 737.8 373.7 738.6C374.4 739.4 373.2 741.5 372.3 742.7C371.4 743.8 369.5 745 368.2 745.4C367 745.7 365.5 745.6 364.8 744.7C364.1 743.8 363.6 741.1 364.1 739.9Z" fill="#0000ff"/>
<path d="M373.7 760.4C374.6 760.2 377.3 759 379.1 759C380.9 759 382.8 760.3 384.6 760.4C386.4 760.5 388.2 760.2 390 759.7C391.9 759.3 392.3 758.5 395.5 757.7C398.7 756.9 406.9 751.1 409.1 754.9C411.4 758.8 414.6 776.5 409.1 780.9C403.7 785.2 381.9 780.9 376.4 780.9Z" fill="#00beff" stroke="none"/>
<path d="M373.7 760.4C374.6 760.2 377.3 759 379.1 759C380.9 759 382.8 760.3 384.6 760.4C386.4 760.5 388.2 760.2 390 759.7C391.9 759.3 392.3 758.5 395.5 757.7C398.7 756.9 406.9 751.1 409.1 754.9C411.4 758.8 414.6 776.5 409.1 780.9C403.7 785.2 381.9 780.9 376.4 780.9" fill="none"/>
<path d="M375 764.5C376.2 764.7 379.6 765.7 381.9 765.8C384.1 766 386.4 765.6 388.7 765.2C391 764.7 392.1 763.9 395.5 763.1C398.9 762.3 406.9 757.4 409.1 760.4C411.4 763.3 414.6 777.4 409.1 780.9C403.7 784.3 381.9 780.9 376.4 780.9Z" fill="#0082ff" stroke="none"/>
<path d="M375 764.5C376.2 764.7 379.6 765.7 381.9 765.8C384.1 766 386.4 765.6 388.7 765.2C391 764.7 392.1 763.9 395.5 763.1C398.9 762.3 406.9 757.4 409.1 760.4C411.4 763.3 414.6 777.4 409.1 780.9C403.7 784.3 381.9 780.9 376.4 780.9" fill="none"/>
<path d="M381.9 744C382.8 743.8 385.5 742.4 387.3 742.7C389.1 742.9 391 744.2 392.8 745.4C394.6 746.5 395.5 748.6 398.2 749.5C401 750.4 407.3 749.5 409.1 750.8C411 752.2 411 756.3 409.1 757.7C407.3 759 401 759.3 398.2 759C395.5 758.8 394.6 757.2 392.8 756.3C391 755.4 388.9 754.7 387.3 753.6C385.7 752.4 383.9 750.2 383.2 749.5Z" fill="#00ffff" stroke="none"/>
<path d="M381.9 744C382.8 743.8 385.5 742.4 387.3 742.7C389.1 742.9 391 744.2 392.8 745.4C394.6 746.5 395.5 748.6 398.2 749.5C401 750.4 407.3 749.5 409.1 750.8C411 752.2 411 756.3 409.1 757.7C407.3 759 401 759.3 398.2 759C395.5 758.8 394.6 757.2 392.8 756.3C391 755.4 388.9 754.7 387.3 753.6C385.7 752.4 383.9 750.2 383.2 749.5" fill="none"/>
<path d="M370.3 748.1C370.6 747.1 372.1 746.5 373 746.7C373.9 747 375.1 748.3 375.7 749.5C376.3 750.6 376.7 752.7 376.4 753.6C376.1 754.5 374.6 755 373.7 754.9C372.8 754.8 371.5 754 370.9 752.9C370.4 751.8 369.9 749.1 370.3 748.1Z" fill="#00ffc8"/>
<path d="M397.5 744C397.9 743.5 399.6 743.1 400.3 743.3C401 743.6 401.6 744.8 401.6 745.4C401.6 746 400.9 746.8 400.3 747C399.7 747.2 398.4 747 398 746.5C397.5 746 397.2 744.5 397.5 744Z" fill="#00ff64"/>
<path d="M295.9 724.9C296.6 724.7 298.2 724.2 300 723.6C301.8 722.9 304.5 721.5 306.8 720.8C309.1 720.1 311.4 719.8 313.6 719.5C315.9 719.1 318.2 719 320.5 718.8C322.7 718.6 325 718.2 327.3 718.1C329.6 718 331.8 718.1 334.1 718.1C336.4 718.1 338.7 718.3 340.9 718.1C343.2 717.9 345.9 717.4 347.7 716.7C349.6 716.1 350.7 714.9 351.8 714C353 713.1 353.7 711.7 354.6 711.3C355.5 710.8 356.4 710.8 357.3 711.3C358.2 711.7 358.9 712.9 360 714C361.2 715.1 362.8 717 364.1 718.1C365.5 719.2 366.6 720.1 368.2 720.8C369.8 721.5 372.1 722.4 373.7 722.2C375.3 722 376.4 720.8 377.8 719.5C379.1 718.1 380 715.6 381.9 714C383.7 712.4 386.4 711.1 388.7 709.9C391 708.8 392.1 708.1 395.5 707.2C398.9 706.3 406.9 706.5 409.1 704.5C411.4 702.4 428 696.5 409.1 694.9C390.3 693.3 314.8 694.9 295.9 694.9Z" fill="#0000ff" stroke="none"/>
<path d="M295.9 724.9C296.6 724.7 298.2 724.2 300 723.6C301.8 722.9 304.5 721.5 306.8 720.8C309.1 720.1 311.4 719.8 313.6 719.5C315.9 719.1 318.2 719 320.5 718.8C322.7 718.6 325 718.2 327.3 718.1C329.6 718 331.8 718.1 334.1 718.1C336.4 718.1 338.7 718.3 340.9 718.1C343.2 717.9 345.9 717.4 347.7 716.7C349.6 716.1 350.7 714.9 351.8 714C353 713.1 353.7 711.7 354.6 711.3C355.5 710.8 356.4 710.8 357.3 711.3C358.2 711.7 358.9 712.9 360 714C361.2 715.1 362.8 717 364.1 718.1C365.5 719.2 366.6 720.1 368.2 720.8C369.8 721.5 372.1 722.4 373.7 722.2C375.3 722 376.4 720.8 377.8 719.5C379.1 718.1 380 715.6 381.9 714C383.7 712.4 386.4 711.1 388.7 709.9C391 708.8 392.1 708.1 395.5 707.2C398.9 706.3 406.9 706.5 409.1 704.5C411.4 702.4 428 696.5 409.1 694.9C390.3 693.3 314.8 694.9 295.9 694.9" fill="none"/>
<path d="M295.9 720.8C297.7 720.1 303.9 717.6 306.8 716.7C309.8 715.8 311.4 715.8 313.6 715.4C315.9 715 318.2 714.5 320.5 714.3C322.7 714.1 325 713.9 327.3 714C329.6 714.1 331.8 714.5 334.1 714.7C336.4 714.9 338.9 715.2 340.9 715.1C343 715 344.8 714.8 346.4 714.3C348 713.8 349.3 712.8 350.5 712C351.6 711.1 352.3 709.8 353.2 709.2C354.1 708.7 354.8 708.3 355.9 708.5C357.1 708.8 358.7 709.7 360 710.6C361.4 711.5 362.8 713 364.1 714C365.5 715 366.6 716.1 368.2 716.7C369.8 717.4 372.3 718.2 373.7 718.1C375 718 375.3 717.2 376.4 716.1C377.5 714.9 378.7 712.8 380.5 711.3C382.3 709.8 384.8 708.3 387.3 707.2C389.8 706 391.9 705.4 395.5 704.5C399.1 703.5 406.9 703.3 409.1 701.7C411.4 700.1 428 696 409.1 694.9C390.3 693.8 314.8 694.9 295.9 694.9Z" fill="#0082ff" stroke="none"/>
<path d="M295.9 720.8C297.7 720.1 303.9 717.6 306.8 716.7C309.8 715.8 311.4 715.8 313.6 715.4C315.9 715 318.2 714.5 320.5 714.3C322.7 714.1 325 713.9 327.3 714C329.6 714.1 331.8 714.5 334.1 714.7C336.4 714.9 338.9 715.2 340.9 715.1C343 715 344.8 714.8 346.4 714.3C348 713.8 349.3 712.8 350.5 712C351.6 711.1 352.3 709.8 353.2 709.2C354.1 708.7 354.8 708.3 355.9 708.5C357.1 708.8 358.7 709.7 360 710.6C361.4 711.5 362.8 713 364.1 714C365.5 715 366.6 716.1 368.2 716.7C369.8 717.4 372.3 718.2 373.7 718.1C375 718 375.3 717.2 376.4 716.1C377.5 714.9 378.7 712.8 380.5 711.3C382.3 709.8 384.8 708.3 387.3 707.2C389.8 706 391.9 705.4 395.5 704.5C399.1 703.5 406.9 703.3 409.1 701.7C411.4 700.1 428 696 409.1 694.9C390.3 693.8 314.8 694.9 295.9 694.9" fill="none"/>
<path d="M295.9 715.4C297.7 714.8 303.9 712.8 306.8 712C309.8 711.2 311.4 711.1 313.6 710.6C315.9 710.1 318.2 709.3 320.5 709.2C322.7 709.1 325 709.5 327.3 709.9C329.6 710.4 332.3 711.6 334.1 712C335.9 712.3 336.8 712.1 338.2 712C339.6 711.8 340.7 711.6 342.3 711.3C343.9 710.9 346.3 710.5 347.7 709.9C349.2 709.3 350 708.4 351.2 707.9C352.3 707.3 353.3 706.6 354.6 706.5C355.8 706.4 357.3 706.5 358.7 707.2C360 707.9 361.4 709.6 362.8 710.6C364.1 711.6 365.3 712.6 366.8 713.3C368.4 714 370.8 714.8 372.3 714.7C373.8 714.6 374.6 713.7 375.7 712.6C376.9 711.6 377.6 709.8 379.1 708.5C380.6 707.3 382.3 706.3 384.6 705.1C386.9 704 388.7 702.8 392.8 701.7C396.9 700.7 406.4 700.1 409.1 699C411.9 697.9 428 695.6 409.1 694.9C390.3 694.2 314.8 694.9 295.9 694.9Z" fill="#00beff" stroke="none"/>
<path d="M295.9 715.4C297.7 714.8 303.9 712.8 306.8 712C309.8 711.2 311.4 711.1 313.6 710.6C315.9 710.1 318.2 709.3 320.5 709.2C322.7 709.1 325 709.5 327.3 709.9C329.6 710.4 332.3 711.6 334.1 712C335.9 712.3 336.8 712.1 338.2 712C339.6 711.8 340.7 711.6 342.3 711.3C343.9 710.9 346.3 710.5 347.7 709.9C349.2 709.3 350 708.4 351.2 707.9C352.3 707.3 353.3 706.6 354.6 706.5C355.8 706.4 357.3 706.5 358.7 707.2C360 707.9 361.4 709.6 362.8 710.6C364.1 711.6 365.3 712.6 366.8 713.3C368.4 714 370.8 714.8 372.3 714.7C373.8 714.6 374.6 713.7 375.7 712.6C376.9 711.6 377.6 709.8 379.1 708.5C380.6 707.3 382.3 706.3 384.6 705.1C386.9 704 388.7 702.8 392.8 701.7C396.9 700.7 406.4 700.1 409.1 699C411.9 697.9 428 695.6 409.1 694.9C390.3 694.2 314.8 694.9 295.9 694.9" fill="none"/>
<path d="M295.9 704.5C297.3 704.2 301.6 703.1 304.1 703.1C306.6 703.1 308.6 703.9 310.9 704.5C313.2 705 315.5 705.9 317.7 706.5C320 707.1 322.3 707.8 324.6 707.9C326.8 708 329.6 707.8 331.4 707.2C333.2 706.6 334.6 705.8 335.5 704.5C336.4 703.1 336.6 700.6 336.8 699C337.1 697.4 343.7 695.6 336.8 694.9C330 694.2 302.7 694.9 295.9 694.9Z" fill="#1ee1ff" stroke="none"/>
<path d="M295.9 704.5C297.3 704.2 301.6 703.1 304.1 703.1C306.6 703.1 308.6 703.9 310.9 704.5C313.2 705 315.5 705.9 317.7 706.5C320 707.1 322.3 707.8 324.6 707.9C326.8 708 329.6 707.8 331.4 707.2C333.2 706.6 334.6 705.8 335.5 704.5C336.4 703.1 336.6 700.6 336.8 699C337.1 697.4 343.7 695.6 336.8 694.9C330 694.2 302.7 694.9 295.9 694.9" fill="none"/>
<path d="M323.2 694.9C323.6 696 324.8 700.3 325.9 701.7C327.1 703.2 328.8 703.8 330 703.8C331.3 703.8 332.7 703.2 333.4 701.7C334.1 700.3 334 696 334.1 694.9Z" fill="#00ffff" stroke="none"/>
<path d="M323.2 694.9C323.6 696 324.8 700.3 325.9 701.7C327.1 703.2 328.8 703.8 330 703.8C331.3 703.8 332.7 703.2 333.4 701.7C334.1 700.3 334 696 334.1 694.9" fill="none"/>
<path d="M340.2 707.2C340.7 706.4 342.4 705.4 343.7 705.1C344.9 704.9 346.5 705.3 347.7 705.8C349 706.4 350.5 707.5 351.2 708.5C351.8 709.6 352.4 711.2 351.8 712C351.3 712.8 349.1 713.3 347.7 713.3C346.4 713.3 344.8 712.5 343.7 712C342.5 711.4 341.5 710.7 340.9 709.9C340.4 709.1 339.8 708 340.2 707.2Z" fill="#00ffff"/>
<path d="M360 709.2C360.6 708.7 362.8 708.2 364.1 708.5C365.5 708.9 366.8 710.5 368.2 711.3C369.6 712.1 372.1 712.8 372.3 713.3C372.5 713.9 370.9 714.7 369.6 714.7C368.2 714.7 365.6 713.8 364.1 713.3C362.6 712.9 361.4 712.6 360.7 712C360 711.3 359.5 709.8 360 709.2Z" fill="#1ee1ff"/>
<path d="M305.5 734.5C306.1 733.8 308 731.6 309.5 730.4C311.1 729.1 313 727.9 315 727C317.1 726.1 319.3 725.5 321.8 724.9C324.3 724.4 327.3 724 330 723.6C332.7 723.1 335.5 722.6 338.2 722.2C340.9 721.7 344.1 721.3 346.4 720.8C348.7 720.4 350.3 720 351.8 719.5C353.4 718.9 354.6 717.4 355.9 717.4C357.3 717.4 358.7 718.6 360 719.5C361.4 720.4 362.8 721.9 364.1 722.9C365.5 723.9 366.6 725 368.2 725.6C369.8 726.2 372.1 726.4 373.7 726.3C375.3 726.2 376.4 725.8 377.8 724.9C379.1 724 380.3 722.2 381.9 720.8C383.4 719.5 385.5 717.9 387.3 716.7C389.1 715.6 391 714.6 392.8 714C394.6 713.4 395.5 713.3 398.2 713.3C401 713.3 407.3 710 409.1 714C411 718 411 733.1 409.1 737.2C407.3 741.3 401 738.6 398.2 738.6C395.5 738.6 394.6 737.3 392.8 737.2C391 737.1 389.1 737.7 387.3 737.9C385.5 738.1 383.7 738.7 381.9 738.6C380 738.4 378.2 737.3 376.4 737.2C374.6 737.1 372.5 737.4 370.9 737.9C369.3 738.3 368 738.9 366.8 739.9C365.7 741 365 742.4 364.1 744C363.2 745.6 362.1 747.7 361.4 749.5C360.7 751.3 360.7 753.1 360 754.9C359.3 756.8 358.4 759.3 357.3 760.4C356.2 761.5 354.2 762.2 353.2 761.8C352.2 761.3 351.3 759.3 351.2 757.7C351 756.1 351.7 753.8 352.5 752.2C353.3 750.6 356 749 355.9 748.1C355.8 747.2 353.4 746.5 351.8 746.7C350.3 747 348.2 748.6 346.4 749.5C344.6 750.4 342.7 751.5 340.9 752.2C339.1 752.9 337.1 753.2 335.5 753.6C333.9 753.9 332.7 754.6 331.4 754.3C330 753.9 328.9 752.8 327.3 751.5C325.7 750.3 323.6 748.2 321.8 746.7C320 745.3 318.2 743.8 316.4 742.7C314.6 741.5 312.5 740.7 310.9 739.9C309.3 739.1 307.5 738.2 306.8 737.9Z" fill="#eb00dc" stroke="none"/>
<path d="M305.5 734.5C306.1 733.8 308 731.6 309.5 730.4C311.1 729.1 313 727.9 315 727C317.1 726.1 319.3 725.5 321.8 724.9C324.3 724.4 327.3 724 330 723.6C332.7 723.1 335.5 722.6 338.2 722.2C340.9 721.7 344.1 721.3 346.4 720.8C348.7 720.4 350.3 720 351.8 719.5C353.4 718.9 354.6 717.4 355.9 717.4C357.3 717.4 358.7 718.6 360 719.5C361.4 720.4 362.8 721.9 364.1 722.9C365.5 723.9 366.6 725 368.2 725.6C369.8 726.2 372.1 726.4 373.7 726.3C375.3 726.2 376.4 725.8 377.8 724.9C379.1 724 380.3 722.2 381.9 720.8C383.4 719.5 385.5 717.9 387.3 716.7C389.1 715.6 391 714.6 392.8 714C394.6 713.4 395.5 713.3 398.2 713.3C401 713.3 407.3 710 409.1 714C411 718 411 733.1 409.1 737.2C407.3 741.3 401 738.6 398.2 738.6C395.5 738.6 394.6 737.3 392.8 737.2C391 737.1 389.1 737.7 387.3 737.9C385.5 738.1 383.7 738.7 381.9 738.6C380 738.4 378.2 737.3 376.4 737.2C374.6 737.1 372.5 737.4 370.9 737.9C369.3 738.3 368 738.9 366.8 739.9C365.7 741 365 742.4 364.1 744C363.2 745.6 362.1 747.7 361.4 749.5C360.7 751.3 360.7 753.1 360 754.9C359.3 756.8 358.4 759.3 357.3 760.4C356.2 761.5 354.2 762.2 353.2 761.8C352.2 761.3 351.3 759.3 351.2 757.7C351 756.1 351.7 753.8 352.5 752.2C353.3 750.6 356 749 355.9 748.1C355.8 747.2 353.4 746.5 351.8 746.7C350.3 747 348.2 748.6 346.4 749.5C344.6 750.4 342.7 751.5 340.9 752.2C339.1 752.9 337.1 753.2 335.5 753.6C333.9 753.9 332.7 754.6 331.4 754.3C330 753.9 328.9 752.8 327.3 751.5C325.7 750.3 323.6 748.2 321.8 746.7C320 745.3 318.2 743.8 316.4 742.7C314.6 741.5 312.5 740.7 310.9 739.9C309.3 739.1 307.5 738.2 306.8 737.9" fill="none"/>
<path d="M312.3 733.1C312.9 732 314.6 730.7 316.4 729.7C318.2 728.7 320.7 727.6 323.2 727C325.7 726.3 328.6 726.1 331.4 725.6C334.1 725.1 336.8 724.8 339.6 724.2C342.3 723.7 345.2 722.8 347.7 722.5C350.3 722.1 352.3 721.9 354.6 722.2C356.8 722.5 359.3 723.2 361.4 724.2C363.4 725.3 365.5 726.9 366.8 728.3C368.2 729.8 369.3 731.5 369.6 733.1C369.8 734.7 369.1 736.5 368.2 737.9C367.3 739.2 365.7 740.2 364.1 741.3C362.5 742.4 360.7 743.7 358.7 744.7C356.6 745.7 354.1 746.6 351.8 747.4C349.6 748.3 347.1 749.5 345 749.8C343 750 341.5 749.5 339.6 749.2C337.7 748.9 335.6 748.5 333.6 748.1C331.5 747.7 328.9 747.2 327.3 746.7C325.6 746.3 325.1 746.3 323.7 745.7C322.4 745 320.6 743.9 319.1 742.9C317.6 742 316.1 741 315 739.9C313.9 738.9 313 737.7 312.6 736.5C312.1 735.4 311.6 734.2 312.3 733.1Z" fill="#d2d2d2"/>
<path d="M317.1 733.1C317.6 732.3 318.8 731.4 320.5 730.7C322.2 729.9 324.8 729.4 327.3 728.7C329.8 728.1 332.7 727.5 335.5 727C338.2 726.4 340.9 726.1 343.7 725.6C346.4 725.1 349.3 724.2 351.8 724.2C354.3 724.2 356.6 724.8 358.7 725.6C360.7 726.4 362.9 727.8 364.1 729C365.4 730.3 366.1 731.7 366.2 733.1C366.3 734.5 365.6 736.1 364.8 737.2C364 738.3 362.9 739 361.4 739.9C359.9 740.9 358 742 355.9 742.9C353.9 743.8 351.4 744.7 349.1 745.4C346.8 746 344.3 746.6 342.3 746.7C340.2 746.9 338.7 746.7 336.8 746.5C335 746.2 333 745.6 331.4 745.1C329.8 744.7 328.8 744.3 327.3 743.7C325.8 743.2 323.9 742.4 322.5 741.6C321.1 740.7 319.7 739.8 318.8 738.8C318 737.8 317.6 736.5 317.3 735.6C317 734.6 316.5 733.9 317.1 733.1Z" fill="#6e6e6e"/>
<path d="M321.8 733.8C322.2 733.1 323.2 732.2 324.6 731.7C325.9 731.3 328.4 731.4 330 731.1C331.6 730.7 332.5 730.2 334.1 729.7C335.7 729.2 337.5 728.8 339.6 728.3C341.6 727.9 344.1 727.3 346.4 727C348.7 726.6 351.2 726.2 353.2 726.3C355.3 726.4 357.2 726.9 358.7 727.6C360.1 728.4 361.4 729.9 362.1 731.1C362.8 732.2 363 733.3 362.8 734.5C362.5 735.6 361.8 736.9 360.7 737.9C359.6 738.9 357.6 739.7 355.9 740.3C354.2 741 352.3 741.5 350.5 742C348.7 742.5 346.6 743 345 743.3C343.4 743.6 342.5 743.9 340.9 743.7C339.3 743.6 337.1 743 335.5 742.7C333.8 742.3 332.5 741.8 331.1 741.4C329.7 741 328.5 740.7 327.3 740.2C326.1 739.7 324.6 739.3 323.7 738.6C322.9 737.8 322.4 736.6 322.1 735.8C321.8 735 321.4 734.5 321.8 733.8Z" fill="#fff"/>
<path d="M375 731.7C375.7 731.4 377.8 730.6 379.1 729.7C380.5 728.8 382.1 727.3 383.2 726.3C384.4 725.3 384.6 724 385.9 723.6C387.3 723.1 389.6 723.1 391.4 723.6C393.2 724 395.3 725.1 396.9 726.3C398.5 727.4 398.9 729 401 730.4C403 731.7 407.8 733.2 409.1 734.5C410.5 735.7 411.4 737.5 409.1 737.9C406.9 738.2 398.9 737 395.5 736.5C392.1 736.1 390.7 735.6 388.7 735.2C386.6 734.7 384.9 734 383.2 733.8C381.5 733.6 379.2 733.8 378.4 733.8Z" fill="#d2d2d2" stroke="none"/>
<path d="M375 731.7C375.7 731.4 377.8 730.6 379.1 729.7C380.5 728.8 382.1 727.3 383.2 726.3C384.4 725.3 384.6 724 385.9 723.6C387.3 723.1 389.6 723.1 391.4 723.6C393.2 724 395.3 725.1 396.9 726.3C398.5 727.4 398.9 729 401 730.4C403 731.7 407.8 733.2 409.1 734.5C410.5 735.7 411.4 737.5 409.1 737.9C406.9 738.2 398.9 737 395.5 736.5C392.1 736.1 390.7 735.6 388.7 735.2C386.6 734.7 384.9 734 383.2 733.8C381.5 733.6 379.2 733.8 378.4 733.8" fill="none"/>
<path d="M385.3 728.3C385.7 727.9 386.7 726.1 388 725.6C389.2 725.1 391.2 725.1 392.8 725.6C394.4 726.1 396.2 727.2 397.5 728.3C398.9 729.5 399 731.2 401 732.4C402.9 733.7 409.6 735.3 409.1 735.8C408.7 736.4 401 735.7 398.2 735.6C395.5 735.4 394.6 735.2 392.8 734.7C391 734.3 388.6 733.7 387.3 733.1C386.1 732.5 385.6 731.4 385.3 731.1Z" fill="#6e6e6e" stroke="none"/>
<path d="M385.3 728.3C385.7 727.9 386.7 726.1 388 725.6C389.2 725.1 391.2 725.1 392.8 725.6C394.4 726.1 396.2 727.2 397.5 728.3C398.9 729.5 399 731.2 401 732.4C402.9 733.7 409.6 735.3 409.1 735.8C408.7 736.4 401 735.7 398.2 735.6C395.5 735.4 394.6 735.2 392.8 734.7C391 734.3 388.6 733.7 387.3 733.1C386.1 732.5 385.6 731.4 385.3 731.1" fill="none"/>
<path d="M354.6 755.6C354.8 754.5 355.7 753 356.6 752.2C357.5 751.4 359.2 750.7 360 750.8C360.9 751 361.7 751.9 361.7 752.9C361.7 753.9 360.8 755.8 360 757C359.3 758.1 358.1 759.4 357.3 759.7C356.5 760 355.4 759.4 355 758.8C354.5 758.1 354.3 756.7 354.6 755.6Z" fill="#d2d2d2"/>
<path d="M356.2 755.6C356.3 754.8 357.3 753.7 358 753.3C358.6 752.9 359.8 752.8 360 753.3C360.3 753.8 359.8 755.5 359.3 756.3C358.9 757.1 357.8 758 357.3 757.9C356.8 757.8 356.1 756.4 356.2 755.6Z" fill="#6e6e6e"/>
<path d="M295.9 741.3C297 741.5 300.7 742 302.7 742.7C304.8 743.3 306.6 744 308.2 745.4C309.8 746.7 311.5 749 312.3 750.8C313.1 752.7 313.4 754.5 313 756.3C312.5 758.1 311 760.4 309.5 761.8C308.1 763.1 306.4 763.9 304.1 764.5C301.8 765.1 297.3 765.1 295.9 765.2Z" fill="#0000ff" stroke="none"/>
<path d="M295.9 741.3C297 741.5 300.7 742 302.7 742.7C304.8 743.3 306.6 744 308.2 745.4C309.8 746.7 311.5 749 312.3 750.8C313.1 752.7 313.4 754.5 313 756.3C312.5 758.1 311 760.4 309.5 761.8C308.1 763.1 306.4 763.9 304.1 764.5C301.8 765.1 297.3 765.1 295.9 765.2" fill="none"/>
<path d="M295.9 770.6C297.7 770.9 303.4 771.8 306.8 772C310.2 772.2 313.6 772.1 316.4 772C319.1 771.9 321.4 771.1 323.2 771.3C325 771.5 326.1 772.2 327.3 773.4C328.4 774.5 330 776.4 330 778.1C330 779.8 333 782.7 327.3 783.6C321.6 784.5 301.1 783.6 295.9 783.6Z" fill="#eb00dc" stroke="none"/>
<path d="M295.9 770.6C297.7 770.9 303.4 771.8 306.8 772C310.2 772.2 313.6 772.1 316.4 772C319.1 771.9 321.4 771.1 323.2 771.3C325 771.5 326.1 772.2 327.3 773.4C328.4 774.5 330 776.4 330 778.1C330 779.8 333 782.7 327.3 783.6C321.6 784.5 301.1 783.6 295.9 783.6" fill="none"/>
<path d="M334.1 780.9C334.1 779.7 333.7 775.9 334.1 774C334.6 772.2 335.7 771.2 336.8 769.9C338 768.7 339.6 767.2 340.9 766.5C342.3 765.8 343.7 765.8 345 765.8C346.4 765.8 347.5 766.8 349.1 766.5C350.7 766.3 353.4 764.4 354.6 764.5C355.7 764.6 356.2 766.1 355.9 767.2C355.7 768.3 353.9 769.9 353.2 771.3C352.5 772.7 351.8 773.8 351.8 775.4C351.8 777 353 779.9 353.2 780.9Z" fill="#0000ff" stroke="none"/>
<path d="M334.1 780.9C334.1 779.7 333.7 775.9 334.1 774C334.6 772.2 335.7 771.2 336.8 769.9C338 768.7 339.6 767.2 340.9 766.5C342.3 765.8 343.7 765.8 345 765.8C346.4 765.8 347.5 766.8 349.1 766.5C350.7 766.3 353.4 764.4 354.6 764.5C355.7 764.6 356.2 766.1 355.9 767.2C355.7 768.3 353.9 769.9 353.2 771.3C352.5 772.7 351.8 773.8 351.8 775.4C351.8 777 353 779.9 353.2 780.9" fill="none"/>
<path d="M340.9 780.9C341.4 779.9 342.5 776.6 343.7 775.4C344.8 774.1 346.3 773.8 347.7 773.4C349.2 772.9 351.6 771.4 352.5 772.7C353.5 773.9 353.3 779.5 353.5 780.9Z" fill="#0082ff" stroke="none"/>
<path d="M340.9 780.9C341.4 779.9 342.5 776.6 343.7 775.4C344.8 774.1 346.3 773.8 347.7 773.4C349.2 772.9 351.6 771.4 352.5 772.7C353.5 773.9 353.3 779.5 353.5 780.9" fill="none"/>
</g>
<clipPath id="tD33"><rect x="399" y="698" width="102" height="102"/></clipPath>
<g clip-path="url(#tD33)" stroke="#000" stroke-width="0.8" stroke-linejoin="round">
<rect x="398" y="697" width="104" height="104" fill="#00ffff" stroke="none"/>
<path d="M413.6 734.7C414.6 734.8 417.1 734.7 419.1 735.2C421.1 735.6 423.9 737.2 425.9 737.2C428 737.2 429.3 736.4 431.4 735.2C433.4 733.9 435.9 731.5 438.2 729.7C440.5 727.9 442.7 726.1 445 724.2C447.3 722.4 449.6 720.6 451.8 718.8C454.1 717 455.5 714.3 458.7 713.3C461.8 712.3 468.9 703.7 470.9 712.6C473 721.6 483.4 757.7 470.9 767.2C458.4 776.8 408.4 772.2 395.9 769.9C383.4 767.7 394.3 756.8 395.9 753.6C397.5 750.4 402.5 751.5 405.5 750.8C408.4 750.2 412.5 750.8 413.6 749.5C414.8 748.1 412.5 743.8 412.3 742.7Z" fill="#1ee1ff" stroke="none"/>
<path d="M413.6 734.7C414.6 734.8 417.1 734.7 419.1 735.2C421.1 735.6 423.9 737.2 425.9 737.2C428 737.2 429.3 736.4 431.4 735.2C433.4 733.9 435.9 731.5 438.2 729.7C440.5 727.9 442.7 726.1 445 724.2C447.3 722.4 449.6 720.6 451.8 718.8C454.1 717 455.5 714.3 458.7 713.3C461.8 712.3 468.9 703.7 470.9 712.6C473 721.6 483.4 757.7 470.9 767.2C458.4 776.8 408.4 772.2 395.9 769.9C383.4 767.7 394.3 756.8 395.9 753.6C397.5 750.4 402.5 751.5 405.5 750.8C408.4 750.2 412.5 750.8 413.6 749.5C414.8 748.1 412.5 743.8 412.3 742.7" fill="none"/>
<path d="M415 739.9C415.9 740.4 418.4 742.1 420.5 742.7C422.5 743.2 425.2 743.8 427.3 743.3C429.3 742.9 430.7 741.4 432.7 739.9C434.8 738.4 437.3 736.4 439.6 734.5C441.8 732.5 444.1 730.4 446.4 728.3C448.7 726.3 450.9 724.2 453.2 722.2C455.5 720.1 457.1 717.4 460 716.1C463 714.7 469.1 705.5 470.9 714C472.8 722.5 483.4 757.9 470.9 767.2C458.4 776.5 408.4 771.3 395.9 769.9C383.4 768.6 394.1 761.3 395.9 759C397.7 756.8 403.9 757.3 406.8 756.3C409.8 755.3 412.3 754.5 413.6 752.9C415 751.3 414.8 747.8 415 746.7Z" fill="#00beff" stroke="none"/>
<path d="M415 739.9C415.9 740.4 418.4 742.1 420.5 742.7C422.5 743.2 425.2 743.8 427.3 743.3C429.3 742.9 430.7 741.4 432.7 739.9C434.8 738.4 437.3 736.4 439.6 734.5C441.8 732.5 444.1 730.4 446.4 728.3C448.7 726.3 450.9 724.2 453.2 722.2C455.5 720.1 457.1 717.4 460 716.1C463 714.7 469.1 705.5 470.9 714C472.8 722.5 483.4 757.9 470.9 767.2C458.4 776.5 408.4 771.3 395.9 769.9C383.4 768.6 394.1 761.3 395.9 759C397.7 756.8 403.9 757.3 406.8 756.3C409.8 755.3 412.3 754.5 413.6 752.9C415 751.3 414.8 747.8 415 746.7" fill="none"/>
<path d="M395.9 763.1C397.5 762.4 402.5 760.4 405.5 759C408.4 757.7 410.9 756.3 413.6 754.9C416.4 753.6 419.1 752.4 421.8 750.8C424.6 749.3 427.3 747.3 430 745.4C432.7 743.5 435.7 741.3 438.2 739.2C440.7 737.2 442.7 735.3 445 733.1C447.3 730.9 449.6 728.7 451.8 726.3C454.1 723.9 455.5 720.1 458.7 718.8C461.8 717.4 468.9 710 470.9 718.1C473 726.2 483.4 758.6 470.9 767.2C458.4 775.9 408.4 769.5 395.9 769.9Z" fill="#0082ff" stroke="none"/>
<path d="M395.9 763.1C397.5 762.4 402.5 760.4 405.5 759C408.4 757.7 410.9 756.3 413.6 754.9C416.4 753.6 419.1 752.4 421.8 750.8C424.6 749.3 427.3 747.3 430 745.4C432.7 743.5 435.7 741.3 438.2 739.2C440.7 737.2 442.7 735.3 445 733.1C447.3 730.9 449.6 728.7 451.8 726.3C454.1 723.9 455.5 720.1 458.7 718.8C461.8 717.4 468.9 710 470.9 718.1C473 726.2 483.4 758.6 470.9 767.2C458.4 775.9 408.4 769.5 395.9 769.9" fill="none"/>
<path d="M402.7 749.5C402.8 748.5 405.3 747.7 406.8 747.4C408.3 747.2 410.5 747.4 411.6 748.1C412.7 748.8 413.8 750.6 413.6 751.5C413.5 752.4 412.2 753.3 410.9 753.6C409.7 753.9 407.5 754 406.1 753.3C404.8 752.6 402.6 750.5 402.7 749.5Z" fill="#00ffff"/>
<path d="M419.8 748.1C419.9 747.4 421.6 746.2 422.5 746.1C423.4 745.9 424.9 746.5 425.2 747C425.6 747.6 425.1 748.9 424.6 749.5C424 750.1 422.6 750.8 421.8 750.6C421 750.3 419.7 748.9 419.8 748.1Z" fill="#1ee1ff"/>
<path d="M428.6 694.9C428.4 697 427.9 704 427.3 707.2C426.7 710.4 425.4 712.2 425.2 714C425.1 715.8 425.4 717.1 426.6 718.1C427.9 719.1 430.4 719.7 432.7 720.1C435.1 720.6 438.4 720.9 440.9 720.8C443.4 720.7 445.5 720.1 447.7 719.5C450 718.8 452.5 717.6 454.6 716.7C456.6 715.8 457.3 715.6 460 714C462.8 712.4 469.1 710.4 470.9 707.2C472.8 704 470.9 697 470.9 694.9Z" fill="#00ffc8" stroke="none"/>
<path d="M428.6 694.9C428.4 697 427.9 704 427.3 707.2C426.7 710.4 425.4 712.2 425.2 714C425.1 715.8 425.4 717.1 426.6 718.1C427.9 719.1 430.4 719.7 432.7 720.1C435.1 720.6 438.4 720.9 440.9 720.8C443.4 720.7 445.5 720.1 447.7 719.5C450 718.8 452.5 717.6 454.6 716.7C456.6 715.8 457.3 715.6 460 714C462.8 712.4 469.1 710.4 470.9 707.2C472.8 704 470.9 697 470.9 694.9" fill="none"/>
<path d="M432.7 694.9C432.7 696.7 432.5 703 432.7 705.8C433 708.7 433 710.3 434.1 712C435.2 713.7 437.5 715.3 439.6 716.1C441.6 716.8 444.1 717 446.4 716.7C448.7 716.5 451.2 715.5 453.2 714.7C455.3 713.9 456.8 713 458.7 712C460.5 710.9 462.1 709.8 464.1 708.5C466.2 707.3 469.8 706.7 470.9 704.5C472.1 702.2 470.9 696.5 470.9 694.9Z" fill="#00ff64" stroke="none"/>
<path d="M432.7 694.9C432.7 696.7 432.5 703 432.7 705.8C433 708.7 433 710.3 434.1 712C435.2 713.7 437.5 715.3 439.6 716.1C441.6 716.8 444.1 717 446.4 716.7C448.7 716.5 451.2 715.5 453.2 714.7C455.3 713.9 456.8 713 458.7 712C460.5 710.9 462.1 709.8 464.1 708.5C466.2 707.3 469.8 706.7 470.9 704.5C472.1 702.2 470.9 696.5 470.9 694.9" fill="none"/>
<path d="M436.8 694.9C436.9 696.3 437.1 700.9 437.5 703.1C438 705.3 438.3 706.6 439.6 707.9C440.8 709.1 443 710.3 445 710.6C447.1 710.9 449.8 710.3 451.8 709.9C453.9 709.6 455.5 709.2 457.3 708.5C459.1 707.9 460.9 707 462.8 705.8C464.6 704.7 466.8 703.5 468.2 701.7C469.6 699.9 470.5 696 470.9 694.9Z" fill="#4bff00" stroke="none"/>
<path d="M436.8 694.9C436.9 696.3 437.1 700.9 437.5 703.1C438 705.3 438.3 706.6 439.6 707.9C440.8 709.1 443 710.3 445 710.6C447.1 710.9 449.8 710.3 451.8 709.9C453.9 709.6 455.5 709.2 457.3 708.5C459.1 707.9 460.9 707 462.8 705.8C464.6 704.7 466.8 703.5 468.2 701.7C469.6 699.9 470.5 696 470.9 694.9" fill="none"/>
<path d="M449.1 694.9C449.3 695.9 449.6 699.6 450.5 701C451.4 702.5 453 703.5 454.6 703.8C456.2 704 458.5 703.9 460 702.4C461.5 700.9 462.9 696.2 463.4 694.9Z" fill="#ffff00" stroke="none"/>
<path d="M449.1 694.9C449.3 695.9 449.6 699.6 450.5 701C451.4 702.5 453 703.5 454.6 703.8C456.2 704 458.5 703.9 460 702.4C461.5 700.9 462.9 696.2 463.4 694.9" fill="none"/>
<path d="M395.9 720.8C397.3 720.6 401.6 720.1 404.1 719.5C406.6 718.8 408.6 717.5 410.9 716.7C413.2 715.9 415.6 715.6 417.7 714.7C419.9 713.8 422.3 712.8 423.9 711.3C425.5 709.8 426.6 708.5 427.3 705.8C428 703.1 433.2 696.7 428 694.9C422.7 693.1 401.3 694.9 395.9 694.9Z" fill="#1ee1ff" stroke="none"/>
<path d="M395.9 720.8C397.3 720.6 401.6 720.1 404.1 719.5C406.6 718.8 408.6 717.5 410.9 716.7C413.2 715.9 415.6 715.6 417.7 714.7C419.9 713.8 422.3 712.8 423.9 711.3C425.5 709.8 426.6 708.5 427.3 705.8C428 703.1 433.2 696.7 428 694.9C422.7 693.1 401.3 694.9 395.9 694.9" fill="none"/>
<path d="M395.9 718.1C397.3 717.9 401.6 717.4 404.1 716.7C406.6 716.1 408.6 714.8 410.9 714C413.2 713.2 415.7 712.9 417.7 712C419.8 711.1 421.8 709.8 423.2 708.5C424.6 707.3 425.4 706.7 425.9 704.5C426.5 702.2 431.6 696.5 426.6 694.9C421.6 693.3 401 694.9 395.9 694.9Z" fill="#00beff" stroke="none"/>
<path d="M395.9 718.1C397.3 717.9 401.6 717.4 404.1 716.7C406.6 716.1 408.6 714.8 410.9 714C413.2 713.2 415.7 712.9 417.7 712C419.8 711.1 421.8 709.8 423.2 708.5C424.6 707.3 425.4 706.7 425.9 704.5C426.5 702.2 431.6 696.5 426.6 694.9C421.6 693.3 401 694.9 395.9 694.9" fill="none"/>
<path d="M395.9 715.4C397.3 715.1 401.8 714.6 404.1 714C406.4 713.4 407.7 712.6 409.5 712C411.4 711.3 413.2 710.8 415 709.9C416.8 709 419.1 707.9 420.5 706.5C421.8 705.1 422.6 703.7 423.2 701.7C423.8 699.8 428.4 696 423.9 694.9C419.3 693.8 400.6 694.9 395.9 694.9Z" fill="#0082ff" stroke="none"/>
<path d="M395.9 715.4C397.3 715.1 401.8 714.6 404.1 714C406.4 713.4 407.7 712.6 409.5 712C411.4 711.3 413.2 710.8 415 709.9C416.8 709 419.1 707.9 420.5 706.5C421.8 705.1 422.6 703.7 423.2 701.7C423.8 699.8 428.4 696 423.9 694.9C419.3 693.8 400.6 694.9 395.9 694.9" fill="none"/>
<path d="M395.9 705.8C397 705.8 401 705.4 402.7 705.8C404.4 706.3 405.7 707.2 406.1 708.5C406.6 709.9 406.3 712.6 405.5 714C404.7 715.4 403 716.2 401.4 716.7C399.8 717.3 396.8 717.3 395.9 717.4Z" fill="#0000ff" stroke="none"/>
<path d="M395.9 705.8C397 705.8 401 705.4 402.7 705.8C404.4 706.3 405.7 707.2 406.1 708.5C406.6 709.9 406.3 712.6 405.5 714C404.7 715.4 403 716.2 401.4 716.7C399.8 717.3 396.8 717.3 395.9 717.4" fill="none"/>
<path d="M395.9 709.9C396.8 709.8 399.9 709 401.4 709.2C402.8 709.5 404.4 710.3 404.8 711.3C405.1 712.3 404.9 714.5 403.4 715.4C401.9 716.3 397.2 716.5 395.9 716.7Z" fill="#9100dc" stroke="none"/>
<path d="M395.9 709.9C396.8 709.8 399.9 709 401.4 709.2C402.8 709.5 404.4 710.3 404.8 711.3C405.1 712.3 404.9 714.5 403.4 715.4C401.9 716.3 397.2 716.5 395.9 716.7" fill="none"/>
<path d="M412.3 701.7C412.5 701.1 414.1 700.1 415 700.1C415.9 700 417.5 700.9 417.7 701.5C418 702 417.1 703 416.4 703.4C415.7 703.8 414.3 704 413.6 703.8C413 703.5 412.1 702.3 412.3 701.7Z" fill="#0000ff"/>
<path d="M405.5 727C405.7 726.1 407.7 724.8 409.5 724.2C411.4 723.7 414.4 723.3 416.4 723.6C418.3 723.8 420.2 724.7 421.1 725.6C422.1 726.5 422.2 728 421.8 729C421.5 730 420.5 731.4 419.1 731.7C417.7 732.1 415.5 731.4 413.6 731.1C411.8 730.7 409.5 730.4 408.2 729.7C406.8 729 405.2 727.9 405.5 727Z" fill="#00ffc8"/>
<path d="M395.9 728.3C397.3 728.4 401.7 728.3 404.1 729C406.5 729.7 408.6 731.1 410.2 732.4C411.8 733.8 413.1 735.4 413.6 737.2C414.2 739 414.1 741.7 413.4 743.3C412.7 744.9 411.3 746.2 409.5 746.7C407.8 747.3 405 747 402.7 746.7C400.5 746.5 397 745.6 395.9 745.4Z" fill="#0082ff" stroke="none"/>
<path d="M395.9 728.3C397.3 728.4 401.7 728.3 404.1 729C406.5 729.7 408.6 731.1 410.2 732.4C411.8 733.8 413.1 735.4 413.6 737.2C414.2 739 414.1 741.7 413.4 743.3C412.7 744.9 411.3 746.2 409.5 746.7C407.8 747.3 405 747 402.7 746.7C400.5 746.5 397 745.6 395.9 745.4" fill="none"/>
<path d="M395.9 729.3C397.2 729.4 401.2 729.5 403.4 730.1C405.6 730.7 407.8 731.8 409.3 733.1C410.8 734.4 412.1 736.2 412.6 737.9C413 739.5 412.8 741.6 412 742.9C411.2 744.2 409.6 745.3 407.9 745.7C406.3 746 404 745.4 402 745.1C400 744.8 396.9 744.2 395.9 744Z" fill="#0000ff" stroke="none"/>
<path d="M395.9 729.3C397.2 729.4 401.2 729.5 403.4 730.1C405.6 730.7 407.8 731.8 409.3 733.1C410.8 734.4 412.1 736.2 412.6 737.9C413 739.5 412.8 741.6 412 742.9C411.2 744.2 409.6 745.3 407.9 745.7C406.3 746 404 745.4 402 745.1C400 744.8 396.9 744.2 395.9 744" fill="none"/>
<path d="M395.9 730.4C397 730.5 400.7 730.5 402.7 731.1C404.8 731.6 406.7 732.7 408.2 733.8C409.7 734.9 411.1 736.4 411.6 737.9C412.1 739.4 411.7 741.4 410.9 742.7C410.1 743.9 408.4 745.2 406.8 745.4C405.2 745.6 403.2 744.5 401.4 744C399.5 743.6 396.8 742.9 395.9 742.7Z" fill="#9100dc" stroke="none"/>
<path d="M395.9 730.4C397 730.5 400.7 730.5 402.7 731.1C404.8 731.6 406.7 732.7 408.2 733.8C409.7 734.9 411.1 736.4 411.6 737.9C412.1 739.4 411.7 741.4 410.9 742.7C410.1 743.9 408.4 745.2 406.8 745.4C405.2 745.6 403.2 744.5 401.4 744C399.5 743.6 396.8 742.9 395.9 742.7" fill="none"/>
<path d="M395.9 733.1C397 733.2 400.9 733.2 402.7 733.8C404.5 734.4 406 735.5 406.8 736.5C407.6 737.5 408 739 407.5 739.9C407 740.8 406 741.7 404.1 742C402.2 742.2 397.3 741.4 395.9 741.3Z" fill="#6e6e6e" stroke="none"/>
<path d="M395.9 733.1C397 733.2 400.9 733.2 402.7 733.8C404.5 734.4 406 735.5 406.8 736.5C407.6 737.5 408 739 407.5 739.9C407 740.8 406 741.7 404.1 742C402.2 742.2 397.3 741.4 395.9 741.3" fill="none"/>
<path d="M395.9 744.7C396.8 744.7 399.9 744.4 401.4 744.7C402.8 745 404.4 746 404.8 746.7C405.1 747.5 404.9 748.7 403.4 749.2C401.9 749.7 397.2 749.7 395.9 749.8Z" fill="#00ff64" stroke="none"/>
<path d="M395.9 744.7C396.8 744.7 399.9 744.4 401.4 744.7C402.8 745 404.4 746 404.8 746.7C405.1 747.5 404.9 748.7 403.4 749.2C401.9 749.7 397.2 749.7 395.9 749.8" fill="none"/>
</g>
<clipPath id="tD22"><rect x="299" y="598" width="102" height="102"/></clipPath>
<g clip-path="url(#tD22)" stroke="#000" stroke-width="0.8" stroke-linejoin="round">
<path d="M295.9 675.4C303.4 670.9 333.4 670.9 340.9 675.4C348.4 679.9 348.4 698.1 340.9 702.7C333.4 707.2 303.4 707.2 295.9 702.7C288.4 698.1 288.4 679.9 295.9 675.4Z" fill="#1ee1ff" stroke="none"/>
<path d="M305.5 683.6C305.9 681.8 306.4 681.2 308.2 680.9C310 680.5 313.2 680.9 316.4 681.5C319.6 682.2 324.1 683.5 327.3 684.9C330.5 686.4 333.9 688.8 335.5 690.4C337.1 692 337.3 693.5 336.8 694.5C336.4 695.5 334.3 696.8 332.7 696.5C331.2 696.3 329.3 693.9 327.3 693.1C325.2 692.3 322.7 691.8 320.5 691.8C318.2 691.8 315.7 692.6 313.6 693.1C311.6 693.7 309.5 695.4 308.2 695.2C306.8 695 305.9 693.7 305.5 691.8C305 689.8 305 685.4 305.5 683.6Z" fill="#00ffff"/>
<path d="M326.6 687.7C326.9 686.9 328.4 686.7 329.3 687C330.2 687.3 331.5 688.5 332.1 689.7C332.6 691 333.1 693.6 332.7 694.5C332.4 695.4 330.9 695.6 330 695.2C329.1 694.7 327.9 693 327.3 691.8C326.7 690.5 326.3 688.5 326.6 687.7Z" fill="#00ffc8"/>
</g>
<clipPath id="tL1"><rect x="269" y="669" width="72" height="72"/></clipPath>
<g clip-path="url(#tL1)" stroke="#000" stroke-width="0.8" stroke-linejoin="round">
<rect x="268" y="668" width="74" height="74" fill="#1ee1ff" stroke="none"/>
<path d="M267.1 667.1C268.2 667.1 272.4 665.7 273.8 667.1C275.3 668.6 275.5 673.2 275.7 675.7C276 678.3 275.7 680.5 275.3 682.4C274.8 684.3 274.2 685.9 272.9 687.2C271.5 688.5 268.1 689.6 267.1 690.1Z" fill="#00beff" stroke="none"/>
<path d="M267.1 667.1C268.2 667.1 272.4 665.7 273.8 667.1C275.3 668.6 275.5 673.2 275.7 675.7C276 678.3 275.7 680.5 275.3 682.4C274.8 684.3 274.2 685.9 272.9 687.2C271.5 688.5 268.1 689.6 267.1 690.1" fill="none"/>
<path d="M281.5 667.1C281.8 668.2 282.6 672.1 283.4 673.8C284.2 675.6 285.1 676.8 286.2 677.6C287.3 678.5 288.8 679.1 290.1 679.1C291.3 679.1 292.9 678.2 293.9 677.6C294.8 677.1 295.9 676.5 295.8 675.7C295.6 674.9 294 674.3 292.9 672.9C291.8 671.4 289.7 668.1 289.1 667.1Z" fill="#00ffff" stroke="none"/>
<path d="M281.5 667.1C281.8 668.2 282.6 672.1 283.4 673.8C284.2 675.6 285.1 676.8 286.2 677.6C287.3 678.5 288.8 679.1 290.1 679.1C291.3 679.1 292.9 678.2 293.9 677.6C294.8 677.1 295.9 676.5 295.8 675.7C295.6 674.9 294 674.3 292.9 672.9C291.8 671.4 289.7 668.1 289.1 667.1" fill="none"/>
<path d="M308.2 684.3C307.9 685.1 306.8 687.5 306.3 689.1C305.8 690.7 305 692.8 305.3 693.9C305.7 694.9 306.9 695.3 308.2 695.3C309.5 695.3 311.4 694.1 313 693.9C314.6 693.6 316.3 693.4 317.7 693.9C319.2 694.4 320.5 695.6 321.6 696.7C322.7 697.9 323.3 699.4 324.4 700.6C325.5 701.7 327 702.9 328.3 703.4C329.5 704 331 704.2 332.1 703.9C333.2 703.6 334.3 702.7 334.9 701.5C335.6 700.3 334 698.3 335.9 696.7C337.8 695.1 344.6 694.8 346.4 692C348.1 689.1 352 681.6 346.4 679.5C340.8 677.5 318.5 679.5 313 679.5Z" fill="#00ffff" stroke="none"/>
<path d="M308.2 684.3C307.9 685.1 306.8 687.5 306.3 689.1C305.8 690.7 305 692.8 305.3 693.9C305.7 694.9 306.9 695.3 308.2 695.3C309.5 695.3 311.4 694.1 313 693.9C314.6 693.6 316.3 693.4 317.7 693.9C319.2 694.4 320.5 695.6 321.6 696.7C322.7 697.9 323.3 699.4 324.4 700.6C325.5 701.7 327 702.9 328.3 703.4C329.5 704 331 704.2 332.1 703.9C333.2 703.6 334.3 702.7 334.9 701.5C335.6 700.3 334 698.3 335.9 696.7C337.8 695.1 344.6 694.8 346.4 692C348.1 689.1 352 681.6 346.4 679.5C340.8 677.5 318.5 679.5 313 679.5" fill="none"/>
<path d="M326.8 689.1C327.1 688.2 328.2 687.7 329.2 687.7C330.2 687.7 332.1 688.2 333 689.1C334 690 334.9 691.8 334.9 692.9C335 694 334.3 695.4 333.5 695.8C332.7 696.2 331.1 695.8 330.2 695.3C329.2 694.8 328.3 694 327.8 692.9C327.2 691.9 326.6 690 326.8 689.1Z" fill="#00ffc8"/>
<path d="M267.1 696.7C267.6 696.5 268.7 696.1 270 695.3C271.3 694.5 273.2 692.8 274.8 692C276.4 691.1 278 690.5 279.5 690.1C281.1 689.7 282.7 689.4 284.3 689.6C285.9 689.7 287.5 690.4 289.1 691C290.7 691.6 292.5 692.6 293.9 693.4C295.2 694.2 297.1 694.9 297.2 695.8C297.4 696.7 295.6 697.5 294.8 698.6C294 699.8 292.9 701 292.4 702.5C292 703.9 291.9 705.7 292 707.2C292 708.8 293 710.4 292.9 712C292.8 713.6 292.1 715.4 291.5 716.8C290.9 718.2 289.8 719.3 289.1 720.6C288.4 721.9 288 723.5 287.2 724.4C286.4 725.4 285.6 725.9 284.3 726.3C283.1 726.8 282.4 727 279.5 727.3C276.7 727.6 269.2 728.1 267.1 728.3Z" fill="#00ffff" stroke="none"/>
<path d="M267.1 696.7C267.6 696.5 268.7 696.1 270 695.3C271.3 694.5 273.2 692.8 274.8 692C276.4 691.1 278 690.5 279.5 690.1C281.1 689.7 282.7 689.4 284.3 689.6C285.9 689.7 287.5 690.4 289.1 691C290.7 691.6 292.5 692.6 293.9 693.4C295.2 694.2 297.1 694.9 297.2 695.8C297.4 696.7 295.6 697.5 294.8 698.6C294 699.8 292.9 701 292.4 702.5C292 703.9 291.9 705.7 292 707.2C292 708.8 293 710.4 292.9 712C292.8 713.6 292.1 715.4 291.5 716.8C290.9 718.2 289.8 719.3 289.1 720.6C288.4 721.9 288 723.5 287.2 724.4C286.4 725.4 285.6 725.9 284.3 726.3C283.1 726.8 282.4 727 279.5 727.3C276.7 727.6 269.2 728.1 267.1 728.3" fill="none"/>
<path d="M267.1 699.6C268.4 699.5 272.7 699 274.8 699.1C276.8 699.2 278.1 699.5 279.5 700.1C281 700.6 282.3 701.4 283.4 702.5C284.4 703.5 285.1 705 285.8 706.3C286.4 707.6 287.1 708.8 287.2 710.1C287.3 711.4 286.9 712.7 286.2 713.9C285.6 715.2 284 716.6 283.4 717.7C282.7 718.9 282.3 719.5 282.4 720.6C282.6 721.7 284.8 724 284.3 724.4C283.8 724.9 281.1 723.8 279.5 723.5C278 723.2 276.8 722.8 274.8 722.5C272.7 722.2 268.4 721.7 267.1 721.6Z" fill="#00ffc8" stroke="none"/>
<path d="M267.1 699.6C268.4 699.5 272.7 699 274.8 699.1C276.8 699.2 278.1 699.5 279.5 700.1C281 700.6 282.3 701.4 283.4 702.5C284.4 703.5 285.1 705 285.8 706.3C286.4 707.6 287.1 708.8 287.2 710.1C287.3 711.4 286.9 712.7 286.2 713.9C285.6 715.2 284 716.6 283.4 717.7C282.7 718.9 282.3 719.5 282.4 720.6C282.6 721.7 284.8 724 284.3 724.4C283.8 724.9 281.1 723.8 279.5 723.5C278 723.2 276.8 722.8 274.8 722.5C272.7 722.2 268.4 721.7 267.1 721.6" fill="none"/>
<path d="M267.1 705.3C268.2 705.3 272.1 705 273.8 705.3C275.6 705.7 276.7 706.4 277.6 707.2C278.6 708 279.2 709 279.5 710.1C279.9 711.2 280.2 712.7 280 713.9C279.9 715.2 278.7 716.5 278.6 717.7C278.5 719 280 721 279.5 721.6C279.1 722.1 277 721.4 275.7 721.1C274.5 720.8 273.3 720.1 271.9 719.7C270.5 719.3 267.9 718.9 267.1 718.7Z" fill="#00ff64" stroke="none"/>
<path d="M267.1 705.3C268.2 705.3 272.1 705 273.8 705.3C275.6 705.7 276.7 706.4 277.6 707.2C278.6 708 279.2 709 279.5 710.1C279.9 711.2 280.2 712.7 280 713.9C279.9 715.2 278.7 716.5 278.6 717.7C278.5 719 280 721 279.5 721.6C279.1 722.1 277 721.4 275.7 721.1C274.5 720.8 273.3 720.1 271.9 719.7C270.5 719.3 267.9 718.9 267.1 718.7" fill="none"/>
<path d="M267.1 710.1C268.1 710.2 271.6 710.1 272.9 710.6C274.1 711.1 274.5 712.1 274.8 713C275 713.8 274.8 715.2 274.3 715.8C273.8 716.5 273.1 716.7 271.9 716.8C270.7 716.9 267.9 716.4 267.1 716.3Z" fill="#4bff00" stroke="none"/>
<path d="M267.1 710.1C268.1 710.2 271.6 710.1 272.9 710.6C274.1 711.1 274.5 712.1 274.8 713C275 713.8 274.8 715.2 274.3 715.8C273.8 716.5 273.1 716.7 271.9 716.8C270.7 716.9 267.9 716.4 267.1 716.3" fill="none"/>
<path d="M271.4 713.5C271.4 713.1 272.1 712.5 272.4 712.5C272.7 712.5 273.3 713.1 273.3 713.5C273.3 713.8 272.7 714.7 272.4 714.7C272.1 714.7 271.4 713.8 271.4 713.5Z" fill="#ffff00"/>
<path d="M297.7 702.9C298 701.8 300.1 702.4 301.5 702.5C302.9 702.5 304.7 703 306.3 703.4C307.9 703.8 309.5 704.8 311.1 704.9C312.7 704.9 314.2 703.7 315.8 703.9C317.4 704.1 319 705.5 320.6 706.3C322.2 707.1 323.6 708.2 325.4 708.7C327.1 709.2 329.2 709.2 331.1 709.2C333 709.1 334.3 708.5 336.8 708.2C339.4 707.9 344.8 706.6 346.4 707.2C348 707.9 348.8 711.2 346.4 712C344 712.8 335.9 711.9 332.1 712C328.3 712.2 326.2 712.6 323.5 713C320.8 713.4 318.4 713.8 315.8 714.4C313.3 715 310.4 715.8 308.2 716.8C306 717.7 304.2 719 302.5 720.1C300.7 721.3 299.1 722.3 297.7 723.5C296.3 724.7 295.1 726.3 293.9 727.3C292.6 728.3 291 729.2 290.1 729.2C289.1 729.2 287.8 728.3 288.1 727.3C288.5 726.3 290.7 724.9 292 723.5C293.2 722 294.7 720.3 295.8 718.7C296.9 717.1 298 715.5 298.6 713.9C299.3 712.3 299.8 711 299.6 709.2C299.4 707.3 297.4 704.1 297.7 702.9Z" fill="#00beff"/>
<path d="M284.3 731.1C285 730.6 286.9 728.8 288.1 727.8C289.4 726.7 290.5 725.9 292 724.9C293.4 723.9 295 722.6 296.7 721.6C298.5 720.5 300.6 719.6 302.5 718.7C304.4 717.8 306 717.1 308.2 716.3C310.4 715.6 313.3 714.7 315.8 714.1C318.4 713.5 320.8 713.1 323.5 712.7C326.2 712.3 328.3 712 332.1 711.7C335.9 711.5 344 705.3 346.4 711.1C348.8 716.8 357.5 740.5 346.4 746.4C335.3 752.3 290.7 746.4 279.5 746.4Z" fill="#0082ff" stroke="none"/>
<path d="M284.3 731.1C285 730.6 286.9 728.8 288.1 727.8C289.4 726.7 290.5 725.9 292 724.9C293.4 723.9 295 722.6 296.7 721.6C298.5 720.5 300.6 719.6 302.5 718.7C304.4 717.8 306 717.1 308.2 716.3C310.4 715.6 313.3 714.7 315.8 714.1C318.4 713.5 320.8 713.1 323.5 712.7C326.2 712.3 328.3 712 332.1 711.7C335.9 711.5 344 705.3 346.4 711.1C348.8 716.8 357.5 740.5 346.4 746.4C335.3 752.3 290.7 746.4 279.5 746.4" fill="none"/>
<path d="M286.2 733C286.9 732.6 288.6 731.3 290.1 730.2C291.5 729 293.1 727.5 294.8 726.3C296.6 725.2 298.6 724 300.6 723C302.5 722 304.2 721 306.3 720.1C308.4 719.3 310.7 718.4 313 717.7C315.2 717.1 317.3 716.5 319.7 716C322 715.6 324.4 715.2 327.3 714.9C330.2 714.6 333.7 714.3 336.8 714.1C340 713.9 344.8 708.4 346.4 713.7C348 719.1 357.5 741 346.4 746.4C335.3 751.8 290.7 746.4 279.5 746.4Z" fill="#0000ff" stroke="none"/>
<path d="M286.2 733C286.9 732.6 288.6 731.3 290.1 730.2C291.5 729 293.1 727.5 294.8 726.3C296.6 725.2 298.6 724 300.6 723C302.5 722 304.2 721 306.3 720.1C308.4 719.3 310.7 718.4 313 717.7C315.2 717.1 317.3 716.5 319.7 716C322 715.6 324.4 715.2 327.3 714.9C330.2 714.6 333.7 714.3 336.8 714.1C340 713.9 344.8 708.4 346.4 713.7C348 719.1 357.5 741 346.4 746.4C335.3 751.8 290.7 746.4 279.5 746.4" fill="none"/>
<path d="M289.1 734.9C289.9 734.3 292.3 732.3 293.9 731.1C295.5 729.9 296.9 728.8 298.6 727.8C300.4 726.7 302.5 725.8 304.4 724.9C306.3 724 308.2 723.2 310.1 722.5C312 721.8 313.9 721.2 315.8 720.6C317.7 720.1 319.3 719.6 321.6 719.2C323.8 718.8 326.7 718.4 329.2 718C331.8 717.7 334 717.5 336.8 717.3C339.7 717.1 344.8 711.9 346.4 716.8C348 721.6 357.5 741.5 346.4 746.4C335.3 751.3 290.7 746.4 279.5 746.4Z" fill="#9100dc" stroke="none"/>
<path d="M289.1 734.9C289.9 734.3 292.3 732.3 293.9 731.1C295.5 729.9 296.9 728.8 298.6 727.8C300.4 726.7 302.5 725.8 304.4 724.9C306.3 724 308.2 723.2 310.1 722.5C312 721.8 313.9 721.2 315.8 720.6C317.7 720.1 319.3 719.6 321.6 719.2C323.8 718.8 326.7 718.4 329.2 718C331.8 717.7 334 717.5 336.8 717.3C339.7 717.1 344.8 711.9 346.4 716.8C348 721.6 357.5 741.5 346.4 746.4C335.3 751.3 290.7 746.4 279.5 746.4" fill="none"/>
<path d="M303.4 734.2C303.6 733.4 305 732.3 306.3 731.1C307.6 730 309.3 728.4 311.1 727.3C312.8 726.2 314.7 725.3 316.8 724.4C318.9 723.6 321.1 722.9 323.5 722.3C325.9 721.8 328.6 721.5 331.1 721.1C333.7 720.7 336.2 720.4 338.8 720.1C341.3 719.9 345.1 715.3 346.4 719.7C347.7 724 352.1 741.9 346.4 746.4C340.7 750.9 318.2 747.5 312 746.4C305.8 745.3 310.3 741.5 309.2 739.7C308 738 306.3 736.8 305.3 735.9C304.4 735 303.3 735 303.4 734.2Z" fill="#eb00dc"/>
<path d="M312 734.9C312.3 734.3 312.7 732.2 313.5 731.1C314.2 730 315.4 729 316.8 728.3C318.1 727.5 319.8 727 321.6 726.5C323.3 726.1 325.1 725.7 327.3 725.4C329.5 725 331.8 724.8 334.9 724.4C338.1 724.1 344.5 719.8 346.4 723.5C348.3 727.1 352.1 742.6 346.4 746.4C340.7 750.2 317.7 746.4 312 746.4Z" fill="#d2d2d2" stroke="none"/>
<path d="M312 734.9C312.3 734.3 312.7 732.2 313.5 731.1C314.2 730 315.4 729 316.8 728.3C318.1 727.5 319.8 727 321.6 726.5C323.3 726.1 325.1 725.7 327.3 725.4C329.5 725 331.8 724.8 334.9 724.4C338.1 724.1 344.5 719.8 346.4 723.5C348.3 727.1 352.1 742.6 346.4 746.4C340.7 750.2 317.7 746.4 312 746.4" fill="none"/>
<path d="M315.8 735.9C316.1 735.3 316.5 733.6 317.3 732.6C318.1 731.5 319.3 730.4 320.6 729.7C322 729 323.6 728.7 325.4 728.3C327.1 727.9 328.9 727.6 331.1 727.3C333.3 727 336.2 726.7 338.8 726.5C341.3 726.3 345.1 722.8 346.4 726.2C347.7 729.5 351.5 743 346.4 746.4C341.3 749.8 320.9 746.4 315.8 746.4Z" fill="#6e6e6e" stroke="none"/>
<path d="M315.8 735.9C316.1 735.3 316.5 733.6 317.3 732.6C318.1 731.5 319.3 730.4 320.6 729.7C322 729 323.6 728.7 325.4 728.3C327.1 727.9 328.9 727.6 331.1 727.3C333.3 727 336.2 726.7 338.8 726.5C341.3 726.3 345.1 722.8 346.4 726.2C347.7 729.5 351.5 743 346.4 746.4C341.3 749.8 320.9 746.4 315.8 746.4" fill="none"/>
<path d="M321.6 736.8C321.9 736.4 322.5 734.8 323.5 734C324.4 733.2 325.7 732.6 327.3 732.1C328.9 731.6 330.8 731.3 333 731.1C335.3 730.9 338.4 730.8 340.7 730.7C342.9 730.7 345.4 728.1 346.4 730.7C347.4 733.3 350.5 743.8 346.4 746.4C342.3 749 325.7 746.4 321.6 746.4Z" fill="#fff" stroke="none"/>
<path d="M321.6 736.8C321.9 736.4 322.5 734.8 323.5 734C324.4 733.2 325.7 732.6 327.3 732.1C328.9 731.6 330.8 731.3 333 731.1C335.3 730.9 338.4 730.8 340.7 730.7C342.9 730.7 345.4 728.1 346.4 730.7C347.4 733.3 350.5 743.8 346.4 746.4C342.3 749 325.7 746.4 321.6 746.4" fill="none"/>
<path d="M267.1 728.3C268.2 728.4 271.8 728.7 273.8 729.2C275.9 729.7 277.8 730.4 279.5 731.1C281.3 731.8 282.7 732.9 284.3 733.5C285.9 734.1 288.9 734.4 289.1 734.9C289.3 735.5 286.9 735.6 285.3 736.8C283.7 738.1 282.6 741.6 279.5 742.6C276.5 743.5 269.2 742.6 267.1 742.6Z" fill="#0000ff" stroke="none"/>
<path d="M267.1 728.3C268.2 728.4 271.8 728.7 273.8 729.2C275.9 729.7 277.8 730.4 279.5 731.1C281.3 731.8 282.7 732.9 284.3 733.5C285.9 734.1 288.9 734.4 289.1 734.9C289.3 735.5 286.9 735.6 285.3 736.8C283.7 738.1 282.6 741.6 279.5 742.6C276.5 743.5 269.2 742.6 267.1 742.6" fill="none"/>
<path d="M267.1 732.1C268.1 731.9 271.1 731.3 272.9 731.1C274.6 731 276 731 277.6 731.1C279.2 731.3 281 731.4 282.4 732.1C283.8 732.7 285.8 733.8 286.2 734.9C286.7 736.1 286.4 737.5 285.3 738.8C284.2 740 282.6 741.9 279.5 742.6C276.5 743.2 269.2 742.6 267.1 742.6Z" fill="#9100dc" stroke="none"/>
<path d="M267.1 732.1C268.1 731.9 271.1 731.3 272.9 731.1C274.6 731 276 731 277.6 731.1C279.2 731.3 281 731.4 282.4 732.1C283.8 732.7 285.8 733.8 286.2 734.9C286.7 736.1 286.4 737.5 285.3 738.8C284.2 740 282.6 741.9 279.5 742.6C276.5 743.2 269.2 742.6 267.1 742.6" fill="none"/>
<path d="M271 733.4C271.4 732.9 273.3 732.7 274.8 733C276.2 733.4 278.1 734.4 279.5 735.4C281 736.4 283 738.2 283.2 738.9C283.3 739.7 281.7 740.2 280.5 740.2C279.3 740.2 277.2 739.4 275.7 738.8C274.3 738.1 272.7 737.3 271.9 736.4C271.1 735.5 270.5 734 271 733.4Z" fill="#6e6e6e"/>
<path d="M283.4 734.9C284.1 734 286.6 734.1 289.1 734.2C291.6 734.2 297.2 734.7 298.6 735.2C300.1 735.8 298.2 736.7 297.7 737.3C297.2 737.9 296.9 738.6 295.5 738.9C294.1 739.3 290.9 739.6 289.1 739.7C287.3 739.8 285.4 740.3 284.4 739.5C283.5 738.7 282.6 735.8 283.4 734.9Z" fill="#eb00dc"/>
</g>
<clipPath id="tK1"><rect x="399" y="564" width="72" height="47"/></clipPath>
<g clip-path="url(#tK1)" stroke="#000" stroke-width="0.8" stroke-linejoin="round">
<rect x="398" y="563" width="74" height="49" fill="#ffff00" stroke="none"/>
<path d="M397.1 562.1C400.8 562.1 414.6 561.2 419.1 562.1C423.6 563.1 422.4 566.1 423.9 567.9C425.3 569.6 426.9 570.9 427.7 572.6C428.5 574.4 428.6 576.5 428.6 578.4C428.7 580.3 428.5 582.2 428.2 584.1C427.9 586 427.5 588.4 426.7 589.8C426 591.3 424.8 591.7 423.9 592.7C422.9 593.6 421.3 594.4 421 595.6C420.7 596.7 421.3 598.1 422 599.4C422.6 600.7 424.1 601.9 424.8 603.2C425.5 604.5 426.3 605.9 426.3 607C426.3 608.1 425.7 609.4 424.8 609.9C424 610.4 422.3 610.4 421 609.9C419.7 609.4 418.3 608.1 417.2 607C416.1 605.9 415.1 604.8 414.3 603.2C413.5 601.6 412.9 599.4 412.4 597.5C411.9 595.6 411.9 593.6 411.5 591.7C411 589.8 410.5 587.8 409.5 586C408.6 584.3 407.3 582.7 405.7 581.2C404.1 579.8 401.4 578.2 400 577.4C398.6 576.6 397.6 576.6 397.1 576.5Z" fill="#4bff00" stroke="none"/>
<path d="M397.1 562.1C400.8 562.1 414.6 561.2 419.1 562.1C423.6 563.1 422.4 566.1 423.9 567.9C425.3 569.6 426.9 570.9 427.7 572.6C428.5 574.4 428.6 576.5 428.6 578.4C428.7 580.3 428.5 582.2 428.2 584.1C427.9 586 427.5 588.4 426.7 589.8C426 591.3 424.8 591.7 423.9 592.7C422.9 593.6 421.3 594.4 421 595.6C420.7 596.7 421.3 598.1 422 599.4C422.6 600.7 424.1 601.9 424.8 603.2C425.5 604.5 426.3 605.9 426.3 607C426.3 608.1 425.7 609.4 424.8 609.9C424 610.4 422.3 610.4 421 609.9C419.7 609.4 418.3 608.1 417.2 607C416.1 605.9 415.1 604.8 414.3 603.2C413.5 601.6 412.9 599.4 412.4 597.5C411.9 595.6 411.9 593.6 411.5 591.7C411 589.8 410.5 587.8 409.5 586C408.6 584.3 407.3 582.7 405.7 581.2C404.1 579.8 401.4 578.2 400 577.4C398.6 576.6 397.6 576.6 397.1 576.5" fill="none"/>
<path d="M408.6 573.6C408.9 572.4 409.5 570.7 410.5 569.8C411.5 568.8 412.9 568 414.3 567.9C415.8 567.7 417.7 568.2 419.1 568.8C420.5 569.5 421.9 570.4 422.9 571.7C424 573 424.8 574.9 425.3 576.5C425.8 578.1 425.9 579.7 425.8 581.2C425.6 582.7 425.1 584.4 424.4 585.5C423.6 586.6 422.2 587.6 421 587.9C419.8 588.2 418.5 588 417.2 587.4C415.9 586.9 414.5 585.7 413.4 584.6C412.3 583.5 411.3 582 410.5 580.8C409.7 579.5 409.1 578.1 408.8 576.9C408.5 575.7 408.3 574.8 408.6 573.6Z" fill="#00ff64"/>
<path d="M411 574.5C411.3 573.6 412.3 572.2 413.4 571.7C414.4 571.1 416 571 417.2 571.2C418.4 571.4 419.6 572.2 420.5 573.1C421.5 574.1 422.4 575.6 422.9 576.9C423.4 578.3 423.6 580 423.4 581.2C423.2 582.5 422.4 583.9 421.5 584.6C420.6 585.3 419.3 585.7 418.1 585.5C417 585.4 415.8 584.5 414.8 583.6C413.8 582.7 413 581.3 412.4 580.3C411.8 579.2 411.5 578.4 411.3 577.4C411 576.5 410.6 575.5 411 574.5Z" fill="#00ffc8"/>
<path d="M413.4 576.5C413.6 575.7 414.4 574.5 415.3 574.1C416.2 573.6 417.6 573.5 418.6 573.8C419.7 574.1 420.9 575.1 421.5 576C422.1 576.9 422.5 578.2 422.4 579.3C422.4 580.4 421.7 582 421 582.7C420.3 583.3 419.1 583.6 418.1 583.3C417.2 583.1 416 582 415.3 581.2C414.6 580.5 414.2 579.6 413.8 578.8C413.5 578.1 413.1 577.3 413.4 576.5Z" fill="#00ffff"/>
<path d="M422 562.1C422.3 562.8 422.8 564.8 423.9 566C425 567.1 427.1 567.7 428.6 568.8C430.2 569.9 432.6 571 433.4 572.6C434.2 574.2 433.3 576.5 433.4 578.4C433.6 580.3 434 582.3 434.4 584.1C434.8 585.9 435.2 587.3 435.8 588.9C436.4 590.5 437.3 592.5 438.2 593.6C439.1 594.8 440.1 596.2 441.1 596C442 595.9 443.2 594 443.9 592.7C444.6 591.3 445.2 589.5 445.4 587.9C445.5 586.3 444.8 584.6 444.9 583.1C445 581.7 445 580.2 445.8 579.3C446.6 578.4 448.2 578.4 449.7 577.9C451.1 577.4 453.3 577.3 454.4 576.5C455.5 575.6 456.3 573.9 456.3 572.6C456.3 571.4 455.4 569.8 454.4 568.8C453.5 567.9 452 567.1 450.6 566.9C449.2 566.7 447 567 445.8 567.4C444.6 567.8 444.1 570.2 443.5 569.3C442.8 568.4 442.3 563.3 442 562.1Z" fill="#ffd728" stroke="none"/>
<path d="M422 562.1C422.3 562.8 422.8 564.8 423.9 566C425 567.1 427.1 567.7 428.6 568.8C430.2 569.9 432.6 571 433.4 572.6C434.2 574.2 433.3 576.5 433.4 578.4C433.6 580.3 434 582.3 434.4 584.1C434.8 585.9 435.2 587.3 435.8 588.9C436.4 590.5 437.3 592.5 438.2 593.6C439.1 594.8 440.1 596.2 441.1 596C442 595.9 443.2 594 443.9 592.7C444.6 591.3 445.2 589.5 445.4 587.9C445.5 586.3 444.8 584.6 444.9 583.1C445 581.7 445 580.2 445.8 579.3C446.6 578.4 448.2 578.4 449.7 577.9C451.1 577.4 453.3 577.3 454.4 576.5C455.5 575.6 456.3 573.9 456.3 572.6C456.3 571.4 455.4 569.8 454.4 568.8C453.5 567.9 452 567.1 450.6 566.9C449.2 566.7 447 567 445.8 567.4C444.6 567.8 444.1 570.2 443.5 569.3C442.8 568.4 442.3 563.3 442 562.1" fill="none"/>
<path d="M436.8 568.8C436.6 567.9 437.5 566.6 438.2 566C438.9 565.3 440.3 564.8 441.1 565C441.9 565.2 442.8 566.1 443 566.9C443.1 567.7 442.7 569.1 442 569.8C441.4 570.5 440 571.4 439.2 571.2C438.3 571 436.9 569.7 436.8 568.8Z" fill="#ffff00"/>
<path d="M476.4 575.5C475.3 575.5 471.6 574.9 470 575.5C468.4 576.1 468 578.2 466.8 579.3C465.7 580.4 464.3 581.4 463 582.2C461.8 583 460.6 583.3 459.2 584.1C457.8 584.9 456 586 454.4 587C452.8 587.9 450.9 588.7 449.7 589.8C448.4 590.9 447.4 592.4 446.8 593.6C446.2 594.9 446.2 596.2 446.3 597.5C446.5 598.7 447 600.4 447.7 601.3C448.5 602.2 449.5 602.7 450.6 602.7C451.7 602.7 453.2 601.8 454.4 601.3C455.7 600.7 457 599.9 458.3 599.4C459.5 598.9 460.6 598.9 462.1 598.4C463.5 597.9 464.5 597 466.8 596.5C469.2 596 474.8 595.7 476.4 595.6Z" fill="#4bff00" stroke="none"/>
<path d="M476.4 575.5C475.3 575.5 471.6 574.9 470 575.5C468.4 576.1 468 578.2 466.8 579.3C465.7 580.4 464.3 581.4 463 582.2C461.8 583 460.6 583.3 459.2 584.1C457.8 584.9 456 586 454.4 587C452.8 587.9 450.9 588.7 449.7 589.8C448.4 590.9 447.4 592.4 446.8 593.6C446.2 594.9 446.2 596.2 446.3 597.5C446.5 598.7 447 600.4 447.7 601.3C448.5 602.2 449.5 602.7 450.6 602.7C451.7 602.7 453.2 601.8 454.4 601.3C455.7 600.7 457 599.9 458.3 599.4C459.5 598.9 460.6 598.9 462.1 598.4C463.5 597.9 464.5 597 466.8 596.5C469.2 596 474.8 595.7 476.4 595.6" fill="none"/>
<path d="M476.4 586C474.8 586 469.2 585.5 466.8 586C464.5 586.5 463.7 588.1 462.1 588.9C460.5 589.7 458.9 590.1 457.3 590.8C455.7 591.4 453.6 592.1 452.5 592.7C451.4 593.3 450.9 593.9 450.6 594.6C450.4 595.3 450.6 596.4 451.1 597C451.6 597.5 452.4 597.9 453.5 597.9C454.5 597.9 456 597.4 457.3 597C458.6 596.6 459.8 595.7 461.1 595.6C462.4 595.4 462.4 596.4 464.9 596C467.5 595.7 474.5 594 476.4 593.6Z" fill="#00ff64" stroke="none"/>
<path d="M476.4 586C474.8 586 469.2 585.5 466.8 586C464.5 586.5 463.7 588.1 462.1 588.9C460.5 589.7 458.9 590.1 457.3 590.8C455.7 591.4 453.6 592.1 452.5 592.7C451.4 593.3 450.9 593.9 450.6 594.6C450.4 595.3 450.6 596.4 451.1 597C451.6 597.5 452.4 597.9 453.5 597.9C454.5 597.9 456 597.4 457.3 597C458.6 596.6 459.8 595.7 461.1 595.6C462.4 595.4 462.4 596.4 464.9 596C467.5 595.7 474.5 594 476.4 593.6" fill="none"/>
<path d="M419.1 618.5C419.3 617.2 420.9 615.6 422 614.7C423.1 613.7 424.5 613.2 425.8 612.7C427.1 612.3 428.8 612.7 429.6 611.8C430.4 610.8 430.2 607.3 430.6 607C431 606.7 431.8 608.6 432 609.9C432.2 611.2 431.4 612.9 431.5 614.7C431.6 616.4 432.2 618.5 432.5 620.4C432.7 622.3 433.1 624.4 432.9 626.1C432.8 627.9 432.4 629.9 431.5 630.9C430.6 631.8 428.8 632 427.7 631.8C426.6 631.7 425.7 630.9 424.8 629.9C424 629 423.2 627.4 422.4 626.1C421.7 624.8 421.1 623.6 420.5 622.3C420 621 418.9 619.8 419.1 618.5Z" fill="#ffd728"/>
<path d="M420.5 619.4C420.8 618.6 422.7 618.8 423.9 619C425.1 619.1 426.7 619.5 427.7 620.4C428.6 621.3 429.4 623 429.6 624.2C429.8 625.4 429.4 627.1 428.6 627.6C427.9 628 426.3 627.6 425.3 627.1C424.3 626.5 423.2 625.5 422.4 624.2C421.6 622.9 420.3 620.3 420.5 619.4Z" fill="#ffaa2d"/>
<path d="M435.3 610.8C435.8 610.2 436.9 607.8 438.2 607C439.5 606.2 441.4 606.1 443 606.1C444.6 606 446.2 606.2 447.7 606.5C449.3 606.9 451.1 607.1 452.5 608C454 608.8 454.9 610.7 456.3 611.8C457.8 612.9 459.4 614.2 461.1 614.7C462.9 615.1 464.3 615 466.8 614.7C469.4 614.3 474.8 608.3 476.4 612.7C478 617.2 485.2 636.6 476.4 641.4C467.6 646.2 432.2 642.7 423.9 641.4C415.6 640.1 425.3 635.4 426.7 633.8C428.2 632.2 431.4 633.1 432.5 631.8C433.6 630.6 433.1 628.3 433.4 626.1C433.7 623.9 434.2 619.8 434.4 618.5Z" fill="#4bff00" stroke="none"/>
<path d="M435.3 610.8C435.8 610.2 436.9 607.8 438.2 607C439.5 606.2 441.4 606.1 443 606.1C444.6 606 446.2 606.2 447.7 606.5C449.3 606.9 451.1 607.1 452.5 608C454 608.8 454.9 610.7 456.3 611.8C457.8 612.9 459.4 614.2 461.1 614.7C462.9 615.1 464.3 615 466.8 614.7C469.4 614.3 474.8 608.3 476.4 612.7C478 617.2 485.2 636.6 476.4 641.4C467.6 646.2 432.2 642.7 423.9 641.4C415.6 640.1 425.3 635.4 426.7 633.8C428.2 632.2 431.4 633.1 432.5 631.8C433.6 630.6 433.1 628.3 433.4 626.1C433.7 623.9 434.2 619.8 434.4 618.5" fill="none"/>
<path d="M436.3 611.8C436.8 611.2 437.9 609.2 439.2 608.5C440.4 607.7 442.3 607.5 443.9 607.5C445.5 607.5 447.3 608 448.7 608.5C450.1 608.9 451.4 609.5 452.5 610.4C453.6 611.2 454.3 612.7 455.4 613.7C456.5 614.7 457.3 616.1 459.2 616.6C461.1 617 464 616.7 466.8 616.6C469.7 616.4 474.8 611.5 476.4 615.6C478 619.8 483.9 637.1 476.4 641.4C468.9 645.7 438.7 642.7 431.5 641.4C424.4 640.1 432.9 636.3 433.4 633.8C434 631.2 434.5 628.7 434.9 626.1C435.2 623.6 435.3 619.8 435.3 618.5Z" fill="#00ffc8" stroke="none"/>
<path d="M436.3 611.8C436.8 611.2 437.9 609.2 439.2 608.5C440.4 607.7 442.3 607.5 443.9 607.5C445.5 607.5 447.3 608 448.7 608.5C450.1 608.9 451.4 609.5 452.5 610.4C453.6 611.2 454.3 612.7 455.4 613.7C456.5 614.7 457.3 616.1 459.2 616.6C461.1 617 464 616.7 466.8 616.6C469.7 616.4 474.8 611.5 476.4 615.6C478 619.8 483.9 637.1 476.4 641.4C468.9 645.7 438.7 642.7 431.5 641.4C424.4 640.1 432.9 636.3 433.4 633.8C434 631.2 434.5 628.7 434.9 626.1C435.2 623.6 435.3 619.8 435.3 618.5" fill="none"/>
<path d="M453.5 618.5C454.1 618.6 455.9 619.1 457.3 619.4C458.7 619.8 460.5 620.4 462.1 620.4C463.7 620.4 464.5 619.8 466.8 619.4C469.2 619.1 474.8 614.8 476.4 618.5C478 622.1 481.5 637.6 476.4 641.4C471.3 645.2 450.6 642.7 445.8 641.4C441.1 640.1 447 636.3 447.7 633.8C448.5 631.2 450.1 627.4 450.6 626.1Z" fill="#00beff" stroke="none"/>
<path d="M453.5 618.5C454.1 618.6 455.9 619.1 457.3 619.4C458.7 619.8 460.5 620.4 462.1 620.4C463.7 620.4 464.5 619.8 466.8 619.4C469.2 619.1 474.8 614.8 476.4 618.5C478 622.1 481.5 637.6 476.4 641.4C471.3 645.2 450.6 642.7 445.8 641.4C441.1 640.1 447 636.3 447.7 633.8C448.5 631.2 450.1 627.4 450.6 626.1" fill="none"/>
<path d="M461.1 623.3C461.6 622.7 463.7 622.3 464.9 622.3C466.2 622.3 467.8 622.8 468.8 623.3C469.7 623.7 470.7 624.5 470.7 625.2C470.7 625.8 469.7 626.8 468.8 627.1C467.8 627.4 466.1 627.3 464.9 627.1C463.8 626.8 462.7 626.3 462.1 625.6C461.4 625 460.6 623.8 461.1 623.3Z" fill="#0000ff"/>
<path d="M397.1 579.3C397.9 579.5 400.5 579.8 401.9 580.3C403.3 580.8 404.5 581.4 405.7 582.2C407 583 408.4 583.9 409.5 585.1C410.7 586.2 412.3 588.1 412.4 588.9C412.6 589.7 411.5 590.2 410.5 589.8C409.5 589.4 408 587.4 406.7 586.5C405.4 585.5 404.5 584.7 402.9 584.1C401.3 583.5 398.1 583.3 397.1 583.1Z" fill="#ffaa2d" stroke="none"/>
<path d="M397.1 579.3C397.9 579.5 400.5 579.8 401.9 580.3C403.3 580.8 404.5 581.4 405.7 582.2C407 583 408.4 583.9 409.5 585.1C410.7 586.2 412.3 588.1 412.4 588.9C412.6 589.7 411.5 590.2 410.5 589.8C409.5 589.4 408 587.4 406.7 586.5C405.4 585.5 404.5 584.7 402.9 584.1C401.3 583.5 398.1 583.3 397.1 583.1" fill="none"/>
<path d="M397.1 580.8C397.9 580.9 400.5 581.2 401.9 581.7C403.3 582.2 404.6 583.1 405.7 583.9C406.8 584.7 408.4 585.9 408.6 586.5C408.8 587 407.6 587.4 406.7 587.2C405.7 586.9 404.5 585.6 402.9 585.1C401.3 584.5 398.1 584.3 397.1 584.1Z" fill="#ff8700" stroke="none"/>
<path d="M397.1 580.8C397.9 580.9 400.5 581.2 401.9 581.7C403.3 582.2 404.6 583.1 405.7 583.9C406.8 584.7 408.4 585.9 408.6 586.5C408.8 587 407.6 587.4 406.7 587.2C405.7 586.9 404.5 585.6 402.9 585.1C401.3 584.5 398.1 584.3 397.1 584.1" fill="none"/>
<path d="M454.4 603.2C454.4 602.4 455.5 601.4 456.3 600.8C457.1 600.3 458.5 599.7 459.2 599.9C459.9 600 460.7 601.1 460.6 601.8C460.6 602.5 459.4 603.5 458.7 604.2C458 604.8 457.1 605.7 456.3 605.6C455.6 605.4 454.4 604 454.4 603.2Z" fill="#ffaa2d"/>
</g>
<clipPath id="tQ1"><rect x="379" y="659" width="92" height="92"/></clipPath>
<g clip-path="url(#tQ1)" stroke="#000" stroke-width="0.8" stroke-linejoin="round">
<rect x="378" y="658" width="94" height="94" fill="#00ffff" stroke="none"/>
<path d="M398.4 738.6C399.4 738.2 401.9 736.7 404.6 736.1C407.2 735.5 411.1 735.5 414.4 734.9C417.7 734.3 420.9 733.5 424.2 732.4C427.5 731.4 430.8 730.2 434 728.8C437.3 727.3 440.6 725.7 443.8 723.8C447.1 722 450.4 720.2 453.7 717.7C456.9 715.3 460.2 712 463.5 709.1C466.8 706.2 471.7 692.3 473.3 700.5C475 708.7 486.8 748.6 473.3 758.2C459.8 767.8 405.8 758.2 392.3 758.2Z" fill="#1ee1ff" stroke="none"/>
<path d="M398.4 738.6C399.4 738.2 401.9 736.7 404.6 736.1C407.2 735.5 411.1 735.5 414.4 734.9C417.7 734.3 420.9 733.5 424.2 732.4C427.5 731.4 430.8 730.2 434 728.8C437.3 727.3 440.6 725.7 443.8 723.8C447.1 722 450.4 720.2 453.7 717.7C456.9 715.3 460.2 712 463.5 709.1C466.8 706.2 471.7 692.3 473.3 700.5C475 708.7 486.8 748.6 473.3 758.2C459.8 767.8 405.8 758.2 392.3 758.2" fill="none"/>
<path d="M404.6 743.5C405.8 743.1 409.1 741.7 411.9 741C414.8 740.4 418.5 740.6 421.7 739.8C425 739 428.3 737.6 431.6 736.1C434.8 734.7 438.1 733.1 441.4 731.2C444.7 729.4 448.1 727.3 451.2 725.1C454.3 722.8 456.9 720.4 459.8 717.7C462.7 715 466.2 711.2 468.4 709.1C470.7 707.1 472.5 697.2 473.3 705.4C474.1 713.6 485.8 749.4 473.3 758.2C460.8 767 410.9 758.2 398.4 758.2Z" fill="#00beff" stroke="none"/>
<path d="M404.6 743.5C405.8 743.1 409.1 741.7 411.9 741C414.8 740.4 418.5 740.6 421.7 739.8C425 739 428.3 737.6 431.6 736.1C434.8 734.7 438.1 733.1 441.4 731.2C444.7 729.4 448.1 727.3 451.2 725.1C454.3 722.8 456.9 720.4 459.8 717.7C462.7 715 466.2 711.2 468.4 709.1C470.7 707.1 472.5 697.2 473.3 705.4C474.1 713.6 485.8 749.4 473.3 758.2C460.8 767 410.9 758.2 398.4 758.2" fill="none"/>
<path d="M416.8 748.4C418.5 747.8 423.4 746.2 426.7 744.7C429.9 743.3 433.2 741.7 436.5 739.8C439.8 738 443.2 735.9 446.3 733.7C449.4 731.4 452 729 454.9 726.3C457.8 723.6 460.4 720.6 463.5 717.7C466.6 714.8 471.7 702.4 473.3 709.1C475 715.9 483.8 750 473.3 758.2C462.9 766.4 421.1 758.2 410.7 758.2Z" fill="#0082ff" stroke="none"/>
<path d="M416.8 748.4C418.5 747.8 423.4 746.2 426.7 744.7C429.9 743.3 433.2 741.7 436.5 739.8C439.8 738 443.2 735.9 446.3 733.7C449.4 731.4 452 729 454.9 726.3C457.8 723.6 460.4 720.6 463.5 717.7C466.6 714.8 471.7 702.4 473.3 709.1C475 715.9 483.8 750 473.3 758.2C462.9 766.4 421.1 758.2 410.7 758.2" fill="none"/>
<path d="M426.7 711.6C427.1 710.1 427.9 705.6 429.1 703C430.3 700.3 432.4 697.7 434 695.6C435.7 693.6 437.3 692 438.9 690.7C440.6 689.4 442.2 688.6 443.8 687.6C445.5 686.6 447.1 686.3 448.8 684.6C450.4 682.8 452 679.8 453.7 677.2C455.3 674.5 456.9 671.3 458.6 668.6C460.2 665.9 462.5 663.3 463.5 661.2C464.5 659.2 462.3 657.1 464.7 656.3C467.2 655.5 476 648.9 478.2 656.3C480.5 663.7 479 692.5 478.2 700.5C477.4 708.5 475.4 702.6 473.3 704.2C471.3 705.8 468.4 708.4 465.9 710.3C463.5 712.3 461.2 714.4 458.6 715.9C455.9 717.3 453.1 718.4 450 718.9C446.9 719.4 443.2 719.2 440.2 718.9C437.1 718.6 433 717.4 431.6 717.1Z" fill="#00ffc8" stroke="none"/>
<path d="M426.7 711.6C427.1 710.1 427.9 705.6 429.1 703C430.3 700.3 432.4 697.7 434 695.6C435.7 693.6 437.3 692 438.9 690.7C440.6 689.4 442.2 688.6 443.8 687.6C445.5 686.6 447.1 686.3 448.8 684.6C450.4 682.8 452 679.8 453.7 677.2C455.3 674.5 456.9 671.3 458.6 668.6C460.2 665.9 462.5 663.3 463.5 661.2C464.5 659.2 462.3 657.1 464.7 656.3C467.2 655.5 476 648.9 478.2 656.3C480.5 663.7 479 692.5 478.2 700.5C477.4 708.5 475.4 702.6 473.3 704.2C471.3 705.8 468.4 708.4 465.9 710.3C463.5 712.3 461.2 714.4 458.6 715.9C455.9 717.3 453.1 718.4 450 718.9C446.9 719.4 443.2 719.2 440.2 718.9C437.1 718.6 433 717.4 431.6 717.1" fill="none"/>
<path d="M432.8 706.7C433.2 705.4 434 701.3 435.3 699.3C436.5 697.2 438.3 695.8 440.2 694.4C442 692.9 444.5 692 446.3 690.7C448.1 689.4 449.6 688.4 451.2 686.4C452.9 684.4 454.5 681.2 456.1 678.4C457.8 675.7 459.4 672.5 461 669.8C462.7 667.2 464.7 664.7 465.9 662.5C467.2 660.2 466.4 657.3 468.4 656.3C470.5 655.3 476.6 649.6 478.2 656.3C479.9 663.1 479 689.5 478.2 696.8C477.4 704.2 475.4 698.9 473.3 700.5C471.3 702.2 468.4 704.8 465.9 706.7C463.5 708.5 461.2 710.2 458.6 711.6C455.9 712.9 452.9 714.1 450 714.6C447.1 715.2 443.8 715.2 441.4 714.6C438.9 714.1 436.3 712.1 435.3 711.6Z" fill="#00ff64" stroke="none"/>
<path d="M432.8 706.7C433.2 705.4 434 701.3 435.3 699.3C436.5 697.2 438.3 695.8 440.2 694.4C442 692.9 444.5 692 446.3 690.7C448.1 689.4 449.6 688.4 451.2 686.4C452.9 684.4 454.5 681.2 456.1 678.4C457.8 675.7 459.4 672.5 461 669.8C462.7 667.2 464.7 664.7 465.9 662.5C467.2 660.2 466.4 657.3 468.4 656.3C470.5 655.3 476.6 649.6 478.2 656.3C479.9 663.1 479 689.5 478.2 696.8C477.4 704.2 475.4 698.9 473.3 700.5C471.3 702.2 468.4 704.8 465.9 706.7C463.5 708.5 461.2 710.2 458.6 711.6C455.9 712.9 452.9 714.1 450 714.6C447.1 715.2 443.8 715.2 441.4 714.6C438.9 714.1 436.3 712.1 435.3 711.6" fill="none"/>
<path d="M437.7 703C438.1 702.2 438.9 699.5 440.2 698.1C441.4 696.6 443.4 695.6 445.1 694.4C446.7 693.2 448.6 692 450 690.7C451.4 689.4 452.2 688.4 453.7 686.4C455.1 684.4 456.9 681.2 458.6 678.4C460.2 675.7 461.9 672.5 463.5 669.8C465.1 667.2 467.2 664.7 468.4 662.5C469.6 660.2 469.2 657.3 470.9 656.3C472.5 655.3 477 650.2 478.2 656.3C479.5 662.5 479 686.4 478.2 693.2C477.4 699.9 475.4 695.4 473.3 696.8C471.3 698.3 468.4 700 465.9 701.7C463.5 703.5 461 705.8 458.6 707.3C456.1 708.7 453.7 709.8 451.2 710.3C448.8 710.9 445.9 710.8 443.8 710.3C441.8 709.9 439.8 708.3 438.9 707.9Z" fill="#4bff00" stroke="none"/>
<path d="M437.7 703C438.1 702.2 438.9 699.5 440.2 698.1C441.4 696.6 443.4 695.6 445.1 694.4C446.7 693.2 448.6 692 450 690.7C451.4 689.4 452.2 688.4 453.7 686.4C455.1 684.4 456.9 681.2 458.6 678.4C460.2 675.7 461.9 672.5 463.5 669.8C465.1 667.2 467.2 664.7 468.4 662.5C469.6 660.2 469.2 657.3 470.9 656.3C472.5 655.3 477 650.2 478.2 656.3C479.5 662.5 479 686.4 478.2 693.2C477.4 699.9 475.4 695.4 473.3 696.8C471.3 698.3 468.4 700 465.9 701.7C463.5 703.5 461 705.8 458.6 707.3C456.1 708.7 453.7 709.8 451.2 710.3C448.8 710.9 445.9 710.8 443.8 710.3C441.8 709.9 439.8 708.3 438.9 707.9" fill="none"/>
<path d="M473.3 658.8C472.8 659.4 471.2 661 470 662.5C468.8 663.9 467.4 665.3 465.9 667.4C464.5 669.4 462.5 672.3 461 674.7C459.6 677.2 458.6 679.8 457.4 682.1C456.1 684.4 454.9 686.4 453.7 688.2C452.4 690.1 450.8 691.5 450 693.2C449.2 694.8 448.6 696.5 448.8 698.1C449 699.6 450 701.4 451.2 702.4C452.4 703.3 454.3 703.9 456.1 703.6C458 703.3 460.2 701.8 462.3 700.5C464.3 699.2 466.6 696.8 468.4 695.6C470.2 694.4 471.7 694 473.3 693.2C475 692.3 477.4 696.4 478.2 690.7C479 685 478.2 664.1 478.2 658.8Z" fill="#ffff00" stroke="none"/>
<path d="M473.3 658.8C472.8 659.4 471.2 661 470 662.5C468.8 663.9 467.4 665.3 465.9 667.4C464.5 669.4 462.5 672.3 461 674.7C459.6 677.2 458.6 679.8 457.4 682.1C456.1 684.4 454.9 686.4 453.7 688.2C452.4 690.1 450.8 691.5 450 693.2C449.2 694.8 448.6 696.5 448.8 698.1C449 699.6 450 701.4 451.2 702.4C452.4 703.3 454.3 703.9 456.1 703.6C458 703.3 460.2 701.8 462.3 700.5C464.3 699.2 466.6 696.8 468.4 695.6C470.2 694.4 471.7 694 473.3 693.2C475 692.3 477.4 696.4 478.2 690.7C479 685 478.2 664.1 478.2 658.8" fill="none"/>
<path d="M475.8 662.5C475.4 662.9 474.7 663.5 473.3 664.9C471.9 666.3 468.8 668.8 467.2 671.1C465.5 673.3 464.7 676 463.5 678.4C462.3 680.9 461.2 683.5 459.8 685.8C458.4 688 455.9 690.2 454.9 691.9C453.9 693.7 453.5 695.1 453.7 696.2C453.9 697.3 454.9 698.5 456.1 698.7C457.4 698.9 459.2 698.4 461 697.4C462.9 696.5 465.1 694.3 467.2 693.2C469.2 692 471.5 691.5 473.3 690.7C475.2 689.9 477.4 688.6 478.2 688.2Z" fill="#ffd728" stroke="none"/>
<path d="M475.8 662.5C475.4 662.9 474.7 663.5 473.3 664.9C471.9 666.3 468.8 668.8 467.2 671.1C465.5 673.3 464.7 676 463.5 678.4C462.3 680.9 461.2 683.5 459.8 685.8C458.4 688 455.9 690.2 454.9 691.9C453.9 693.7 453.5 695.1 453.7 696.2C453.9 697.3 454.9 698.5 456.1 698.7C457.4 698.9 459.2 698.4 461 697.4C462.9 696.5 465.1 694.3 467.2 693.2C469.2 692 471.5 691.5 473.3 690.7C475.2 689.9 477.4 688.6 478.2 688.2" fill="none"/>
<path d="M475.8 664.9C475.4 665.3 474.5 665.9 473.3 667.4C472.1 668.8 469.6 671.5 468.4 673.5C467.2 675.6 466.8 677.8 465.9 679.6C465.1 681.5 464.1 683 463.5 684.6C462.9 686.1 461.9 688 462.3 688.9C462.7 689.7 464.1 689.8 465.9 689.5C467.8 689.2 471.3 687.8 473.3 687C475.4 686.2 477.4 685 478.2 684.6Z" fill="#ffaa2d" stroke="none"/>
<path d="M475.8 664.9C475.4 665.3 474.5 665.9 473.3 667.4C472.1 668.8 469.6 671.5 468.4 673.5C467.2 675.6 466.8 677.8 465.9 679.6C465.1 681.5 464.1 683 463.5 684.6C462.9 686.1 461.9 688 462.3 688.9C462.7 689.7 464.1 689.8 465.9 689.5C467.8 689.2 471.3 687.8 473.3 687C475.4 686.2 477.4 685 478.2 684.6" fill="none"/>
<path d="M434 656.3C434.2 657.7 434.2 662.5 435.3 664.9C436.3 667.4 438.3 669.7 440.2 671.1C442 672.4 444.1 672.7 446.3 672.9C448.6 673.1 451.4 673 453.7 672.3C455.9 671.6 458.4 671.3 459.8 668.6C461.2 665.9 461.9 658.4 462.3 656.3Z" fill="#1ee1ff" stroke="none"/>
<path d="M434 656.3C434.2 657.7 434.2 662.5 435.3 664.9C436.3 667.4 438.3 669.7 440.2 671.1C442 672.4 444.1 672.7 446.3 672.9C448.6 673.1 451.4 673 453.7 672.3C455.9 671.6 458.4 671.3 459.8 668.6C461.2 665.9 461.9 658.4 462.3 656.3" fill="none"/>
<path d="M437.7 656.3C437.9 658 437.9 663.9 438.9 666.1C440 668.4 441.8 669.1 443.8 669.8C445.9 670.5 449 670.8 451.2 670.4C453.5 670 455.9 669.7 457.4 667.4C458.8 665 459.4 658.2 459.8 656.3Z" fill="#00beff" stroke="none"/>
<path d="M437.7 656.3C437.9 658 437.9 663.9 438.9 666.1C440 668.4 441.8 669.1 443.8 669.8C445.9 670.5 449 670.8 451.2 670.4C453.5 670 455.9 669.7 457.4 667.4C458.8 665 459.4 658.2 459.8 656.3" fill="none"/>
<path d="M441.4 656.3C441.6 657.7 441.6 663.1 442.6 664.9C443.6 666.8 445.7 667.2 447.5 667.4C449.4 667.6 452.2 668 453.7 666.1C455.1 664.3 455.7 658 456.1 656.3Z" fill="#0082ff" stroke="none"/>
<path d="M441.4 656.3C441.6 657.7 441.6 663.1 442.6 664.9C443.6 666.8 445.7 667.2 447.5 667.4C449.4 667.6 452.2 668 453.7 666.1C455.1 664.3 455.7 658 456.1 656.3" fill="none"/>
<path d="M445.1 656.3C445.4 657.4 445.9 661.8 446.9 663.1C447.9 664.3 450.1 664.8 451.2 663.7C452.3 662.6 453.3 657.5 453.7 656.3Z" fill="#0000ff" stroke="none"/>
<path d="M445.1 656.3C445.4 657.4 445.9 661.8 446.9 663.1C447.9 664.3 450.1 664.8 451.2 663.7C452.3 662.6 453.3 657.5 453.7 656.3" fill="none"/>
<path d="M405.8 700.5C406.7 698.5 407.8 695.5 409.5 693.2C411.1 690.8 413.6 688.4 415.6 686.4C417.7 684.4 419.5 682.1 421.7 680.9C424 679.6 427.1 679.1 429.1 679C431.2 678.9 433 679.3 434 680.3C435 681.2 435.5 683 435.3 684.6C435 686.1 433.6 687.6 432.8 689.5C432 691.3 431.2 693.6 430.3 695.6C429.5 697.7 428.9 699.7 427.9 701.7C426.9 703.8 425.6 706.2 424.2 707.9C422.8 709.5 421.1 710.8 419.3 711.6C417.4 712.4 415.2 713 413.2 712.8C411.1 712.6 408.5 711.6 407 710.3C405.5 709.1 404.1 707.1 403.9 705.4C403.7 703.8 404.9 702.6 405.8 700.5Z" fill="#1ee1ff"/>
<path d="M407.6 701.1C408.1 699.4 409.4 697.3 410.7 695.6C412 693.9 414 692 415.6 690.7C417.2 689.4 418.9 688.1 420.5 687.6C422.2 687.1 424.2 687 425.4 687.6C426.7 688.2 427.7 689.8 427.9 691.3C428.1 692.8 427.3 694.9 426.7 696.8C426 698.8 425.2 701.1 424.2 703C423.2 704.8 422 706.7 420.5 707.9C419.1 709.1 417.2 710.1 415.6 710.3C414 710.5 412 709.8 410.7 709.1C409.4 708.4 408.1 707.4 407.6 706C407.1 704.7 407.1 702.9 407.6 701.1Z" fill="#00beff"/>
<path d="M408.9 701.1C409.1 699.7 409.8 697.9 410.7 696.8C411.6 695.8 412.9 694.9 414.4 694.6C415.8 694.3 418 694.4 419.3 695C420.6 695.6 421.8 696.7 422.4 698.1C422.9 699.4 422.8 701.4 422.4 703C422 704.5 421 706.2 419.9 707.3C418.8 708.3 417 709 415.6 709.1C414.2 709.3 412.4 708.8 411.3 708.1C410.2 707.5 409.6 706.4 409.2 705.2C408.8 704 408.6 702.5 408.9 701.1Z" fill="#0082ff"/>
<path d="M412.5 701.1C412.6 700.5 414.2 699.9 415 699.9C415.8 699.9 417.1 700.6 417.4 701.1C417.8 701.6 417.3 702.6 416.8 703C416.3 703.4 415.1 703.9 414.4 703.6C413.7 703.3 412.4 701.7 412.5 701.1Z" fill="#0000ff"/>
<path d="M406.4 726.9C406.9 726 409 725 410.7 724.5C412.4 723.9 415.1 723.6 416.8 723.8C418.6 724.1 420.3 724.9 421.1 725.7C422 726.5 422.3 727.9 421.7 728.8C421.2 729.6 419.7 730.6 418.1 731C416.4 731.4 413.7 731.4 411.9 731.2C410.2 731.1 408.5 730.7 407.6 730C406.7 729.3 405.9 727.8 406.4 726.9Z" fill="#00ffc8"/>
<path d="M422.4 671.1C422.2 669.9 423.3 667.6 424.2 666.1C425.1 664.7 426.9 663.3 427.9 662.5C428.9 661.6 429.7 660.8 430.3 661.2C431 661.6 431.8 663.5 431.6 664.9C431.4 666.3 430.1 668.5 429.1 669.8C428.1 671.2 426.6 672.7 425.4 672.9C424.3 673.1 422.6 672.2 422.4 671.1Z" fill="#00ff64"/>
<path d="M376.3 703C378.2 703.1 384.1 703.3 387.4 703.6C390.6 703.9 393.1 704.2 396 704.8C398.8 705.4 402.1 706.1 404.6 707.3C407 708.4 409.6 710 410.7 711.6C411.8 713.1 411.7 715 411.3 716.5C410.9 717.9 408.3 718.1 408.2 720.2C408.1 722.2 409.7 726.1 410.7 728.8C411.7 731.4 413.6 733.7 414.4 736.1C415.2 738.6 416 741.7 415.6 743.5C415.2 745.3 413.8 746.4 411.9 747.2C410.1 748 407.8 748.2 404.6 748.4C401.3 748.6 397 748.6 392.3 748.4C387.6 748.2 379 747.4 376.3 747.2Z" fill="#00beff" stroke="none"/>
<path d="M376.3 703C378.2 703.1 384.1 703.3 387.4 703.6C390.6 703.9 393.1 704.2 396 704.8C398.8 705.4 402.1 706.1 404.6 707.3C407 708.4 409.6 710 410.7 711.6C411.8 713.1 411.7 715 411.3 716.5C410.9 717.9 408.3 718.1 408.2 720.2C408.1 722.2 409.7 726.1 410.7 728.8C411.7 731.4 413.6 733.7 414.4 736.1C415.2 738.6 416 741.7 415.6 743.5C415.2 745.3 413.8 746.4 411.9 747.2C410.1 748 407.8 748.2 404.6 748.4C401.3 748.6 397 748.6 392.3 748.4C387.6 748.2 379 747.4 376.3 747.2" fill="none"/>
<path d="M376.3 704.2C378.2 704.3 384.2 704.5 387.4 704.8C390.5 705.1 392.7 705.5 395.3 706C398 706.6 401 707.1 403.3 708.1C405.6 709.2 408.2 710.8 409.2 712.2C410.3 713.6 410.1 715.2 409.7 716.5C409.3 717.8 406.9 717.9 406.8 719.9C406.6 722 407.9 726.1 408.9 728.8C409.8 731.5 411.7 733.9 412.5 736.1C413.4 738.4 414.1 740.7 413.8 742.3C413.5 743.8 412.2 744.6 410.7 745.3C409.2 746.1 407.6 746.4 404.6 746.6C401.5 746.8 397 746.7 392.3 746.6C387.6 746.5 379 746.1 376.3 745.9Z" fill="#0082ff" stroke="none"/>
<path d="M376.3 704.2C378.2 704.3 384.2 704.5 387.4 704.8C390.5 705.1 392.7 705.5 395.3 706C398 706.6 401 707.1 403.3 708.1C405.6 709.2 408.2 710.8 409.2 712.2C410.3 713.6 410.1 715.2 409.7 716.5C409.3 717.8 406.9 717.9 406.8 719.9C406.6 722 407.9 726.1 408.9 728.8C409.8 731.5 411.7 733.9 412.5 736.1C413.4 738.4 414.1 740.7 413.8 742.3C413.5 743.8 412.2 744.6 410.7 745.3C409.2 746.1 407.6 746.4 404.6 746.6C401.5 746.8 397 746.7 392.3 746.6C387.6 746.5 379 746.1 376.3 745.9" fill="none"/>
<path d="M376.3 705.7C378 705.7 383.2 705.8 386.1 706C389.1 706.3 391.5 706.8 394.1 707.3C396.8 707.8 399.9 708.2 402.1 709.1C404.3 710 406.3 711.6 407.3 712.8C408.2 714 408.1 715.4 407.7 716.5C407.4 717.6 405.3 717.5 405.2 719.5C405 721.6 406.1 726 407 728.8C407.9 731.5 409.9 734.1 410.7 736.1C411.5 738.2 411.9 739.8 411.7 741C411.4 742.3 410.6 742.9 409.2 743.5C407.8 744.1 406.2 744.5 403.3 744.7C400.5 744.9 396.8 744.7 392.3 744.7C387.8 744.7 379 744.7 376.3 744.7Z" fill="#0000ff" stroke="none"/>
<path d="M376.3 705.7C378 705.7 383.2 705.8 386.1 706C389.1 706.3 391.5 706.8 394.1 707.3C396.8 707.8 399.9 708.2 402.1 709.1C404.3 710 406.3 711.6 407.3 712.8C408.2 714 408.1 715.4 407.7 716.5C407.4 717.6 405.3 717.5 405.2 719.5C405 721.6 406.1 726 407 728.8C407.9 731.5 409.9 734.1 410.7 736.1C411.5 738.2 411.9 739.8 411.7 741C411.4 742.3 410.6 742.9 409.2 743.5C407.8 744.1 406.2 744.5 403.3 744.7C400.5 744.9 396.8 744.7 392.3 744.7C387.8 744.7 379 744.7 376.3 744.7" fill="none"/>
<path d="M376.3 707.9C378 707.8 383.3 707.3 386.1 707.3C389 707.2 391.1 707.3 393.5 707.6C396 707.9 398.9 708.3 400.9 709.1C402.8 710 404.6 711.6 405.2 712.8C405.8 714 405.2 715.4 404.6 716.5C403.9 717.6 401.5 717.5 401.5 719.5C401.5 721.6 403.3 726 404.6 728.8C405.8 731.5 408 734.2 408.9 736.1C409.7 738 409.9 739.1 409.7 740.1C409.5 741 408.9 741.6 407.6 742C406.4 742.4 404.7 742.4 402.1 742.5C399.5 742.6 396.6 742.5 392.3 742.5C388 742.5 379 742.5 376.3 742.5Z" fill="#9100dc" stroke="none"/>
<path d="M376.3 707.9C378 707.8 383.3 707.3 386.1 707.3C389 707.2 391.1 707.3 393.5 707.6C396 707.9 398.9 708.3 400.9 709.1C402.8 710 404.6 711.6 405.2 712.8C405.8 714 405.2 715.4 404.6 716.5C403.9 717.6 401.5 717.5 401.5 719.5C401.5 721.6 403.3 726 404.6 728.8C405.8 731.5 408 734.2 408.9 736.1C409.7 738 409.9 739.1 409.7 740.1C409.5 741 408.9 741.6 407.6 742C406.4 742.4 404.7 742.4 402.1 742.5C399.5 742.6 396.6 742.5 392.3 742.5C388 742.5 379 742.5 376.3 742.5" fill="none"/>
<path d="M376.3 712.8C377.7 712.4 382.5 711 384.9 710.3C387.4 709.7 389 709.2 391.1 709.1C393.1 709 395.3 709.2 397.2 709.7C399 710.2 401.5 711.3 402.1 712.2C402.7 713.1 401.7 714.3 400.9 715.3C400.1 716.2 398 716.7 397.2 717.7C396.4 718.7 395.3 719.5 396 721.4C396.6 723.2 399.1 726.3 400.9 728.8C402.6 731.2 405.3 734.3 406.4 736.1C407.5 738 407.9 739 407.6 739.8C407.3 740.6 406.1 740.9 404.6 741C403 741.1 400.9 740.6 398.4 740.4C396 740.2 393.5 740.1 389.8 739.8C386.1 739.5 378.6 738.8 376.3 738.6Z" fill="#eb00dc" stroke="none"/>
<path d="M376.3 712.8C377.7 712.4 382.5 711 384.9 710.3C387.4 709.7 389 709.2 391.1 709.1C393.1 709 395.3 709.2 397.2 709.7C399 710.2 401.5 711.3 402.1 712.2C402.7 713.1 401.7 714.3 400.9 715.3C400.1 716.2 398 716.7 397.2 717.7C396.4 718.7 395.3 719.5 396 721.4C396.6 723.2 399.1 726.3 400.9 728.8C402.6 731.2 405.3 734.3 406.4 736.1C407.5 738 407.9 739 407.6 739.8C407.3 740.6 406.1 740.9 404.6 741C403 741.1 400.9 740.6 398.4 740.4C396 740.2 393.5 740.1 389.8 739.8C386.1 739.5 378.6 738.8 376.3 738.6" fill="none"/>
<path d="M376.3 725.1C377.5 725.1 381.8 725.5 383.7 725.1C385.5 724.7 385.9 722.8 387.4 722.6C388.8 722.4 390.8 723 392.3 723.8C393.7 724.7 394.5 726.1 396 727.5C397.4 729 399.2 730.9 400.9 732.4C402.5 734 404.7 735.5 405.8 736.7C406.9 738 407.8 739.2 407.6 739.8C407.4 740.4 406.1 740.6 404.6 740.4C403 740.2 400.5 739.3 398.4 738.6C396.4 737.9 394.3 736.8 392.3 736.1C390.2 735.4 388.8 734.7 386.1 734.3C383.5 733.9 378 733.8 376.3 733.7Z" fill="#d2d2d2" stroke="none"/>
<path d="M376.3 725.1C377.5 725.1 381.8 725.5 383.7 725.1C385.5 724.7 385.9 722.8 387.4 722.6C388.8 722.4 390.8 723 392.3 723.8C393.7 724.7 394.5 726.1 396 727.5C397.4 729 399.2 730.9 400.9 732.4C402.5 734 404.7 735.5 405.8 736.7C406.9 738 407.8 739.2 407.6 739.8C407.4 740.4 406.1 740.6 404.6 740.4C403 740.2 400.5 739.3 398.4 738.6C396.4 737.9 394.3 736.8 392.3 736.1C390.2 735.4 388.8 734.7 386.1 734.3C383.5 733.9 378 733.8 376.3 733.7" fill="none"/>
<path d="M384.9 726.9C385.2 725.8 387.4 725.2 388.6 725.1C389.8 725 390.9 725.6 392.3 726.3C393.6 727 395.1 728.2 396.6 729.4C398 730.5 399.4 731.8 400.9 733.1C402.3 734.3 404 735.6 405.2 736.7C406.3 737.9 407.6 739.3 407.6 739.8C407.6 740.3 406.3 740 405.2 739.8C404 739.6 402.4 739.2 400.9 738.6C399.3 738 397.6 736.8 396 736.1C394.3 735.4 392.6 735 391.1 734.3C389.5 733.6 387.8 733.1 386.8 731.8C385.7 730.6 384.6 728 384.9 726.9Z" fill="#6e6e6e"/>
<path d="M398.4 745.9C398.5 745.2 399.8 744.3 400.9 744.1C401.9 743.9 403.6 744.2 404.6 744.7C405.5 745.2 406.5 746.5 406.4 747.2C406.3 747.9 405 748.8 403.9 749C402.9 749.3 401.2 749.2 400.3 748.6C399.3 748.1 398.3 746.7 398.4 745.9Z" fill="#00ff64"/>
</g>
<g fill="#fff">
<path d="M313.6 593.1L319.1 587.7L321.8 580.9L327.3 576.8L331.4 572.7L340.9 572.7L340.9 569.9L354.6 569.9L357.3 567.9L360 569.9L364.1 572.7L369.6 574L370.9 577.4L377.8 577.4L381.9 575.4L385.9 578.1L385.9 580.9L394.1 582.9L400 583.6L405.5 584.9L408.2 589L410.9 594.5L413.6 599L415 605.8L419.1 609.9L420.5 618.1L423.2 624.9L425.9 631.7L427.3 639.9L429.3 645.4L432.1 650.8L433.4 657.7L427.3 661.8L423.9 667.2L421.8 675.4L417.7 680.9L415 686.3L410.9 693.1L408.2 699L404.1 703.1L400 705.8L395.5 708.5L388.7 712.6L381.9 711.3L376.4 715.4L370.9 713.3L365.5 711.3L360 708.5L354.6 707.2L349.1 705.1L345 703.1L340.9 705.1L338.2 704.5L336.2 700.4L336.2 699L336.2 693.1L334.1 689.7L327.3 686.3L320.5 683.6L313.6 683.6L306.8 680.9L300 679.5L295.5 678.1L290 674L284.6 671.3L283.2 667.2L280.5 660.4L277.8 653.6L275 646.7L273.7 639.9L271.6 633.1L270.9 626.3L268.2 619.5L264.1 612.6L258.7 605.8L254.6 599L263.9 613.9L261 609.2L259.1 604.4L257.7 599.6L256.2 593.9L257.2 589.1L258.1 583.4L259.1 578.6L263.9 576.7L267.7 580.5L271.5 582.4L274.4 585.3L276.3 590.1L279.2 593.9L282 597.7L287.7 601.5L292.5 600.6L297.3 596.7L302.1 595.8L306.8 596.7L310 594.8Z"/>
<path d="M240.9 544L245 544.7L250.5 542.7L252.5 538.6L251.8 536.5L245 524L225 544Z"/>
<path d="M268.6 569.1L273.4 566.2L279.2 566.7L279.2 572.9L275.3 575.7L270.6 577.6L267.2 573.8Z"/>
<path d="M281.1 554.7L283.9 553.8L284.9 556.6L284.4 560.5L281.5 560.5Z"/>
<path d="M253.9 546.7L257.3 542.7L262.8 539.9L268.2 538.6L275 539.2L275 544L270.9 546.7L264.1 547.4L258.7 549.5L254.6 549.5Z"/>
<path d="M287.3 537.9L291.4 536.5L293.5 539.2L290 541.6L287.6 540.6Z"/>
<path d="M291.4 542.7L295.5 541.3L298.2 543.3L297.5 548.8L294.1 549.8L291.7 546.7Z"/>
<path d="M280.5 555.6L283.9 554.3L286.2 556.3L284.6 559L281.2 559Z"/>
<path d="M345.7 516.7L351.2 516.7L351.2 520.8L345.7 520.8Z"/>
<path d="M427.3 547.4L430.7 545.1L434.1 548.8L432.7 552.9L429.3 551.5Z"/>
<path d="M359.3 712.6L362.8 712L368.2 715.4L368.2 718.1L364.1 718.1L360 715.4Z"/>
<path d="M441 612.6L444.6 611.4L449.6 611.8L451.2 615.1L453.6 616.3L454.1 620L452.8 623.3L451.2 625.7L447.9 627.4L447.1 630.7L440.1 630.7L439.3 624.1L442.6 623.3L442.6 618.4L441 615.9Z"/>
<path d="M467.6 586.5L474.1 596.3L478.2 608.6L474.1 607.7L474.1 610.2L470.8 612.2L469.2 615.1L464.3 615.5L461 615.1L457.3 613.9L456.9 606.1L460.2 605.3L460.2 602L461.8 598.7L465.1 596.3L466.7 592.2Z"/>
<path d="M362.7 757.4L366.5 755.5L371.3 755L371.8 757.9L375.1 758.8L376.1 761.7L374.2 762.6L374.6 765.5L376.1 774.1L363.6 778.9L349.3 778.9L352.2 775.1L351.7 772.2L354.1 770.3L355.1 766.5L357.9 764.6L359.8 761.7L362.7 759.8Z"/>
<path d="M225.1 563.6L230 556.6L234.9 558.6L238.2 559.5L238.2 563.6L239.8 566L237.4 566.8L239 569.3L242.3 570.9L240.6 574.2L239 577.5L236.5 580.7L235.3 584.8L234.9 589.8L237.4 594.7L239 599L239.4 604.5L213.6 604.5L213.6 563.6Z"/>
<path d="M239 562.7L242.3 560.3L244.7 562.3L244.3 564.8L241.5 566.2L239.4 565.2Z"/>
<path d="M195.9 609.2L206.1 609.2L217.7 608.5L227.3 607.2L229.3 603.1L234.1 601.7L234.1 593.5L195.9 593.5Z"/>
<path d="M268 600.3L300 600.3L300 606L268 606Z"/>
</g>
</g>
<g fill="none" stroke="#000" stroke-width="0.75" stroke-linejoin="round">
<path d="M341.9 576.5C342.7 576.4 345.9 574.8 347.3 574.7C348.7 574.6 352.3 575 353.9 575.4C355.4 575.7 358.9 577 360.4 577.6C361.9 578.1 365.4 579.2 367 579.7C368.5 580.2 372.1 581.9 373.5 581.9C374.9 581.9 378.1 579.6 379 579.7C379.9 579.9 380.5 582.2 381.1 583C381.8 583.8 383.4 585.9 384.4 586.3C385.4 586.7 388.6 586 389.9 586.3C391.2 586.5 394.1 588 395.3 588.5C396.6 589 399.8 590.3 400.8 590.7C401.8 591 403.2 590.9 404.1 591.3C405 591.7 407.7 593.1 408.4 593.9C409.2 594.7 410.5 597 410.6 598.3C410.7 599.6 409.4 603.3 409.5 604.8C409.6 606.4 411.8 610.2 411.7 611.4C411.6 612.5 409.3 613.9 408.4 614.7C407.5 615.4 404.2 617.2 404.1 617.9C403.9 618.7 406.3 620.4 407.3 621.2C408.4 622 411.8 623.5 412.8 624.5C413.8 625.5 415.2 628.8 416.1 629.9C416.9 631.1 419.4 632.9 420 634.3C420.6 635.7 421.2 640 421.5 641.9C421.9 643.9 422.8 648.9 422.8 650.7C422.9 652.5 422.1 655.7 421.7 657.2C421.4 658.8 420.5 662.5 420 663.8C419.5 665 417.6 666.9 417.2 668.1C416.7 669.4 416.6 673.4 416.1 674.7C415.6 676 413.4 677.9 412.8 679.1C412.2 680.2 411.4 683.5 410.6 684.5C409.8 685.5 407.3 686.9 406.2 687.8C405.2 688.7 402.6 691.1 401.9 692.2C401.1 693.2 400.7 695.6 399.7 696.5C398.7 697.4 394.7 699.2 393.2 699.8C391.6 700.4 388.1 701.5 386.6 702C385.1 702.4 381.6 703.2 380.1 703.5C378.5 703.8 375 704 373.5 704.2C372 704.3 368.2 704.9 367 704.8C365.7 704.7 363.6 703.4 362.6 703.1C361.6 702.7 359.2 702.4 358.2 702C357.2 701.6 354.6 700.4 353.9 699.8C353.1 699.2 351.8 697.4 351.7 696.5C351.6 695.6 352.3 693.2 352.8 692.2C353.3 691.1 355.8 688.8 356 687.8C356.3 686.8 355.2 684.6 355 683.4C354.7 682.3 354.2 679.2 353.9 678C353.5 676.7 352.3 673.7 351.7 672.5C351 671.4 349.2 669.2 348.4 668.1C347.6 667.1 345.9 664.7 345.1 663.8C344.4 662.9 342.6 661.3 341.9 660.5C341.1 659.7 339.3 658 338.6 657.2C337.8 656.5 335.9 654.2 335.3 654C334.7 653.7 333.5 654.4 333.1 655C332.7 655.7 332.4 658.3 332 659.4C331.7 660.6 330.6 664.1 329.8 664.9C329.1 665.7 326.1 665.8 325.5 666.4C324.8 667 324.3 669.4 324.4 670.3C324.5 671.3 326.4 673.7 326.6 674.7C326.7 675.7 326 678.2 325.5 678.6C325 679 323 677.9 322.2 678C321.4 678 319.7 679 318.9 679.1C318.2 679.1 316.4 678.6 315.7 678.6C314.9 678.6 313.2 679.3 312.4 679.1C311.6 678.9 309.9 677.4 309.1 676.9C308.3 676.4 306.3 675.5 305.8 674.7C305.3 673.9 305.3 671 304.7 670.3C304.2 669.7 302.1 669.7 301.5 669.2C300.8 668.7 299.8 666.1 299.3 666C298.8 665.8 297.5 668.3 297.1 668.1C296.7 668 296.3 665.6 296 664.9C295.8 664.1 295.3 662.4 294.9 661.6C294.5 660.8 293.1 659.1 292.7 658.3C292.4 657.6 292 655.8 291.7 655C291.3 654.3 290 652.4 289.5 651.8C289 651.1 287.9 649.7 287.3 649.6C286.6 649.5 284.6 650.9 284 650.7C283.4 650.4 282 648.2 281.8 647.4C281.7 646.6 282.5 645 282.9 644.1C283.3 643.2 284.8 641 285.1 639.8C285.4 638.5 285.5 634.7 285.8 633.2C286 631.7 287 627.9 287.3 626.7C287.6 625.4 288.4 623.3 288.4 622.3C288.4 621.3 288 618.6 287.3 617.9C286.5 617.3 283.1 617 281.8 616.8C280.6 616.6 277.4 616.6 276.4 616.2C275.4 615.8 273.9 614.1 273.1 613.6C272.3 613 270.3 612.2 269.8 611.4C269.3 610.6 269.1 608 268.7 607C268.3 606 267.1 603.7 266.5 602.7C266 601.6 264.5 599.3 264.4 598.3C264.2 597.3 265.5 594.8 265.5 593.9C265.5 593 264.2 590.9 264.4 590.7C264.5 590.4 266.2 591.2 266.5 591.7C266.9 592.3 267.4 594 267.6 595C267.9 596 268.3 599.2 268.7 600.5C269.1 601.7 270.3 604.8 270.9 605.9C271.6 607.1 273.2 609.9 274.2 610.3C275.2 610.7 278.2 609.6 279.6 609.6C281 609.6 284.7 610 286.2 610.3C287.7 610.6 291.5 611.8 292.7 612.5C294 613.1 296.2 614.9 297.1 615.8C298 616.6 299.7 619.3 300.4 620.1C301 620.9 301.9 623 302.6 622.7C303.2 622.5 304.8 618.8 305.8 617.9C306.9 617.1 310.2 616.3 311.3 615.8C312.4 615.2 314.9 614.3 315.7 613.6C316.4 612.8 317.5 610.5 317.8 609.2C318.2 607.9 318.7 604.2 318.9 602.7C319.2 601.1 319.6 597.5 320 596.1C320.4 594.7 321.7 591.9 322.2 590.7C322.7 589.4 323.8 586.3 324.4 585.2C325 584 327 581.6 327.7 580.8C328.3 580.1 329.3 578.7 329.8 578.6C330.4 578.6 331.6 580.6 332 580.4C332.5 580.2 333.4 577 333.8 576.9C334.2 576.8 335 579.8 335.3 579.7C335.7 579.6 336.5 576.1 336.8 576C337.2 575.9 338.2 579.2 338.6 579.1C339 579 339.9 575.7 340.3 575.4C340.7 575.1 341 576.5 341.9 576.5Z"/>
<path d="M329 674.3C328.9 673.6 329.9 671.7 330.3 671.4C330.7 671.2 332.2 671.6 332.5 672.1C332.7 672.5 332.9 674.6 332.7 675.1C332.5 675.7 331.2 677 330.7 676.9C330.3 676.8 329 674.9 329 674.3Z"/>
<path d="M349.5 681.2C349.6 681 350.8 680.6 351 680.8C351.2 681 351.4 682.3 351.2 682.5C351.1 682.8 349.9 682.9 349.7 682.8C349.5 682.6 349.3 681.5 349.5 681.2Z"/>
<path d="M274.8 619C274.7 618.2 275.6 617.7 276.4 617.5C277.2 617.3 280.5 617.4 281.8 617.5C283.2 617.6 287.2 617.6 287.9 618.4C288.7 619.2 288.4 623.7 287.9 624.5C287.5 625.3 284.4 625.5 284 625.1C283.6 624.8 284.8 621.7 284.4 621.2C284.1 620.7 281.8 620.2 281.4 620.6C281 620.9 281.4 624 281 624.5C280.5 624.9 278.2 625.1 277.5 624.5C276.7 623.8 275 619.8 274.8 619Z"/>
<path d="M276.2 622.3C276.1 622 277.1 621 277.5 621C277.8 621 279 622 279 622.3C279 622.6 278 623.8 277.7 623.8C277.3 623.8 276.2 622.6 276.2 622.3Z"/>
<path d="M263.9 591.7C264.1 591.5 264.9 589.6 265.2 589.6C265.5 589.6 266.5 591.1 266.5 591.7C266.6 592.4 265.7 594.3 265.7 595C265.7 595.8 266.7 597.5 266.5 598.3C266.4 599.1 265.2 601.6 264.8 601.6C264.4 601.6 263.6 598.7 263.5 598.3"/>
<path d="M261.1 591.7C261.2 591.1 262 589.7 262.2 590C262.4 590.3 262.7 593.3 262.6 593.9C262.5 594.6 261.5 595.9 261.3 595.7C261.1 595.4 261 592.4 261.1 591.7Z"/>
<path d="M281.8 646.3C282.1 646.2 283.6 645.2 284 645.2C284.5 645.3 285.4 646.2 285.8 646.7C286.1 647.3 287.1 648.9 287.1 649.6C287 650.2 285.8 652.3 285.3 652.4C284.9 652.6 283.4 650.9 283.1 650.7"/>
<path d="M290.6 655C290.8 654.9 292.5 653.9 292.7 654.2C292.9 654.5 292.1 657.1 292.3 657.7C292.5 658.2 294.4 658.5 294.5 659C294.6 659.4 293.1 661.1 293.2 661.6C293.3 662.1 295.2 662.4 295.4 662.9C295.5 663.4 294.3 665.5 294.5 666C294.6 666.4 296.4 666.7 296.7 666.8"/>
<path d="M206.9 603.4C207.2 603.6 208.6 604.6 209.3 604.9C210 605.1 212.3 605.8 213.1 605.8C214 605.8 216.1 605.2 217 604.9C217.9 604.5 219.9 603.4 220.8 602.9C221.7 602.5 223.7 601.5 224.6 601C225.5 600.5 227.6 599.2 228.4 598.6C229.2 598.1 230.8 596.8 231.3 596.3C231.7 595.7 232.2 594.5 232.2 593.9C232.3 593.2 232 591 231.8 590.5C231.5 590 230.8 589.5 230.3 589.6C229.8 589.7 228.2 591.1 227.5 591.5C226.7 591.9 224.5 592.8 223.6 592.9C222.8 593.1 220.7 592.9 219.8 592.7C218.9 592.6 216.8 591.9 216 591.5C215.2 591.1 213.7 590.1 213.1 589.6C212.6 589.1 211.5 587.5 211.2 587.2"/>
<path d="M218.9 592.9C218.9 593.1 219.8 595.1 219.8 595.8C219.9 596.5 219.2 598.1 219.4 598.6C219.5 599.2 220.3 600.4 220.8 600.6C221.3 600.7 223.1 599.9 223.6 599.6C224.2 599.3 225.6 598.5 225.6 598.2C225.6 597.8 224 597.1 223.6 596.7C223.3 596.3 222.6 595.2 222.2 594.8C221.8 594.5 220.4 594.1 220 593.9C219.6 593.7 218.9 592.7 218.9 592.9Z"/>
<path d="M220.6 597.2C220.7 596.9 221.9 596.2 222.2 596.3C222.6 596.3 223.6 597.3 223.6 597.7C223.7 598.1 223 599.2 222.7 599.4C222.4 599.6 221.2 599.4 221 599.1C220.7 598.9 220.4 597.6 220.6 597.2Z"/>
<path d="M225.6 573.8C225.7 573.4 226.6 572.2 227 571.9C227.4 571.6 228.6 571.3 228.9 571.4C229.2 571.5 229.9 572.5 229.9 572.9C229.9 573.3 228.9 574.4 228.9 574.8C228.9 575.1 230 575.6 229.9 575.7C229.7 575.9 227.9 576.3 227.5 576.2C227 576.2 226.3 575.5 226 575.3C225.8 575 225.4 574.2 225.6 573.8Z"/>
<path d="M264.2 541.4C264.5 541.2 266.1 540.8 266.8 540.7C267.5 540.7 269.8 540.8 270.3 541C270.8 541.1 271.5 541.7 271.2 541.8C270.9 542 268.5 542.2 267.7 542.3C266.9 542.3 265.1 542.1 264.7 542C264.2 541.9 264 541.5 264.2 541.4Z"/>
</g>
<g fill="none" stroke="#000" stroke-width="0.7" stroke-dasharray="1.7 2.1">
<circle cx="341.5" cy="640.5" r="50.28"/>
<circle cx="341.5" cy="640.5" r="102.33"/>
<path d="M341.50 640.50L341.50 501.50"/>
<path d="M366.64 596.96L411.00 520.12"/>
<path d="M385.04 615.36L461.88 571.00"/>
<path d="M341.50 640.50L480.50 640.50"/>
<path d="M385.04 665.64L461.88 710.00"/>
<path d="M366.64 684.04L411.00 760.88"/>
<path d="M341.50 640.50L341.50 779.50"/>
<path d="M316.36 684.04L272.00 760.88"/>
<path d="M297.96 665.64L221.12 710.00"/>
<path d="M341.50 640.50L202.50 640.50"/>
<path d="M297.96 615.36L221.12 571.00"/>
<path d="M316.36 596.96L272.00 520.12"/>
</g>
<circle cx="341.5" cy="640.5" r="139.0" fill="none" stroke="#000" stroke-width="0.85"/>
<g stroke="#000" stroke-width="0.25">
<text transform="translate(341.50 499.30) scale(0.82 1)" font-size="9.0" text-anchor="middle">0</text>
<text transform="translate(420.70 518.30) scale(0.82 1)" font-size="9.0" text-anchor="middle">30E</text>
<text transform="translate(474.50 571.30) scale(0.82 1)" font-size="9.0" text-anchor="middle">60E</text>
<text transform="translate(493.50 643.80) scale(0.82 1)" font-size="9.0" text-anchor="middle">90E</text>
<text transform="translate(475.40 716.30) scale(0.82 1)" font-size="9.0" text-anchor="middle">120E</text>
<text transform="translate(422.50 769.30) scale(0.82 1)" font-size="9.0" text-anchor="middle">150E</text>
<text transform="translate(341.50 788.30) scale(0.82 1)" font-size="9.0" text-anchor="middle">180</text>
<text transform="translate(259.80 769.30) scale(0.82 1)" font-size="9.0" text-anchor="middle">150W</text>
<text transform="translate(206.20 716.30) scale(0.82 1)" font-size="9.0" text-anchor="middle">120W</text>
<text transform="translate(188.90 643.80) scale(0.82 1)" font-size="9.0" text-anchor="middle">90W</text>
<text transform="translate(208.50 571.30) scale(0.82 1)" font-size="9.0" text-anchor="middle">60W</text>
<text transform="translate(261.50 518.30) scale(0.82 1)" font-size="9.0" text-anchor="middle">30W</text>
</g>
<g>
<rect x="506.0" y="510.5" width="16.5" height="13.0" fill="#c40000"/>
<rect x="506.0" y="523.5" width="16.5" height="13.0" fill="#e10000"/>
<rect x="506.0" y="536.5" width="16.5" height="13.0" fill="#ff1e00"/>
<rect x="506.0" y="549.5" width="16.5" height="13.0" fill="#ff8700"/>
<rect x="506.0" y="562.5" width="16.5" height="13.0" fill="#ff961e"/>
<rect x="506.0" y="575.5" width="16.5" height="13.0" fill="#ffaa2d"/>
<rect x="506.0" y="588.5" width="16.5" height="13.0" fill="#ffd728"/>
<rect x="506.0" y="601.5" width="16.5" height="13.0" fill="#ffff00"/>
<rect x="506.0" y="614.5" width="16.5" height="13.0" fill="#4bff00"/>
<rect x="506.0" y="627.5" width="16.5" height="13.0" fill="#00ff64"/>
<rect x="506.0" y="640.5" width="16.5" height="13.0" fill="#00ffc8"/>
<rect x="506.0" y="653.5" width="16.5" height="13.0" fill="#00ffff"/>
<rect x="506.0" y="666.5" width="16.5" height="13.0" fill="#1ee1ff"/>
<rect x="506.0" y="679.5" width="16.5" height="13.0" fill="#00beff"/>
<rect x="506.0" y="692.5" width="16.5" height="13.0" fill="#0082ff"/>
<rect x="506.0" y="705.5" width="16.5" height="13.0" fill="#0000ff"/>
<rect x="506.0" y="718.5" width="16.5" height="13.0" fill="#9100dc"/>
<rect x="506.0" y="731.5" width="16.5" height="13.0" fill="#eb00dc"/>
<rect x="506.0" y="744.5" width="16.5" height="13.0" fill="#d2d2d2"/>
<rect x="506.0" y="757.5" width="16.5" height="13.0" fill="#6e6e6e"/>
<g stroke="#000" stroke-width="0.9">
<path d="M506.0 523.5H522.5"/>
<path d="M506.0 536.5H522.5"/>
<path d="M506.0 549.5H522.5"/>
<path d="M506.0 562.5H522.5"/>
<path d="M506.0 575.5H522.5"/>
<path d="M506.0 588.5H522.5"/>
<path d="M506.0 601.5H522.5"/>
<path d="M506.0 614.5H522.5"/>
<path d="M506.0 627.5H522.5"/>
<path d="M506.0 640.5H522.5"/>
<path d="M506.0 653.5H522.5"/>
<path d="M506.0 666.5H522.5"/>
<path d="M506.0 679.5H522.5"/>
<path d="M506.0 692.5H522.5"/>
<path d="M506.0 705.5H522.5"/>
<path d="M506.0 718.5H522.5"/>
<path d="M506.0 731.5H522.5"/>
<path d="M506.0 744.5H522.5"/>
<path d="M506.0 757.5H522.5"/>
</g>
<rect x="506.0" y="510.5" width="16.5" height="260.0" fill="none" stroke="#555" stroke-width="0.7"/>
<g stroke="#000" stroke-width="0.25">
<text transform="translate(534.00 513.25) scale(0.82 1)" font-size="9.0" text-anchor="middle">1</text>
<text transform="translate(534.00 526.25) scale(0.82 1)" font-size="9.0" text-anchor="middle">0.9</text>
<text transform="translate(534.00 539.25) scale(0.82 1)" font-size="9.0" text-anchor="middle">0.8</text>
<text transform="translate(534.00 552.25) scale(0.82 1)" font-size="9.0" text-anchor="middle">0.7</text>
<text transform="translate(534.00 565.25) scale(0.82 1)" font-size="9.0" text-anchor="middle">0.6</text>
<text transform="translate(534.00 578.25) scale(0.82 1)" font-size="9.0" text-anchor="middle">0.5</text>
<text transform="translate(534.00 591.25) scale(0.82 1)" font-size="9.0" text-anchor="middle">0.4</text>
<text transform="translate(534.00 604.25) scale(0.82 1)" font-size="9.0" text-anchor="middle">0.3</text>
<text transform="translate(534.00 617.25) scale(0.82 1)" font-size="9.0" text-anchor="middle">0.2</text>
<text transform="translate(534.00 630.25) scale(0.82 1)" font-size="9.0" text-anchor="middle">0.1</text>
<text transform="translate(534.00 643.25) scale(0.82 1)" font-size="9.0" text-anchor="middle">0</text>
<text transform="translate(534.00 656.25) scale(0.82 1)" font-size="9.0" text-anchor="middle">-0.1</text>
<text transform="translate(534.00 669.25) scale(0.82 1)" font-size="9.0" text-anchor="middle">-0.2</text>
<text transform="translate(534.00 682.25) scale(0.82 1)" font-size="9.0" text-anchor="middle">-0.3</text>
<text transform="translate(534.00 695.25) scale(0.82 1)" font-size="9.0" text-anchor="middle">-0.4</text>
<text transform="translate(534.00 708.25) scale(0.82 1)" font-size="9.0" text-anchor="middle">-0.5</text>
<text transform="translate(534.00 721.25) scale(0.82 1)" font-size="9.0" text-anchor="middle">-0.6</text>
<text transform="translate(534.00 734.25) scale(0.82 1)" font-size="9.0" text-anchor="middle">-0.7</text>
<text transform="translate(534.00 747.25) scale(0.82 1)" font-size="9.0" text-anchor="middle">-0.8</text>
<text transform="translate(534.00 760.25) scale(0.82 1)" font-size="9.0" text-anchor="middle">-0.9</text>
<text transform="translate(534.00 773.25) scale(0.82 1)" font-size="9.0" text-anchor="middle">-1</text>
</g></g>
</svg>
</body>
</html>
